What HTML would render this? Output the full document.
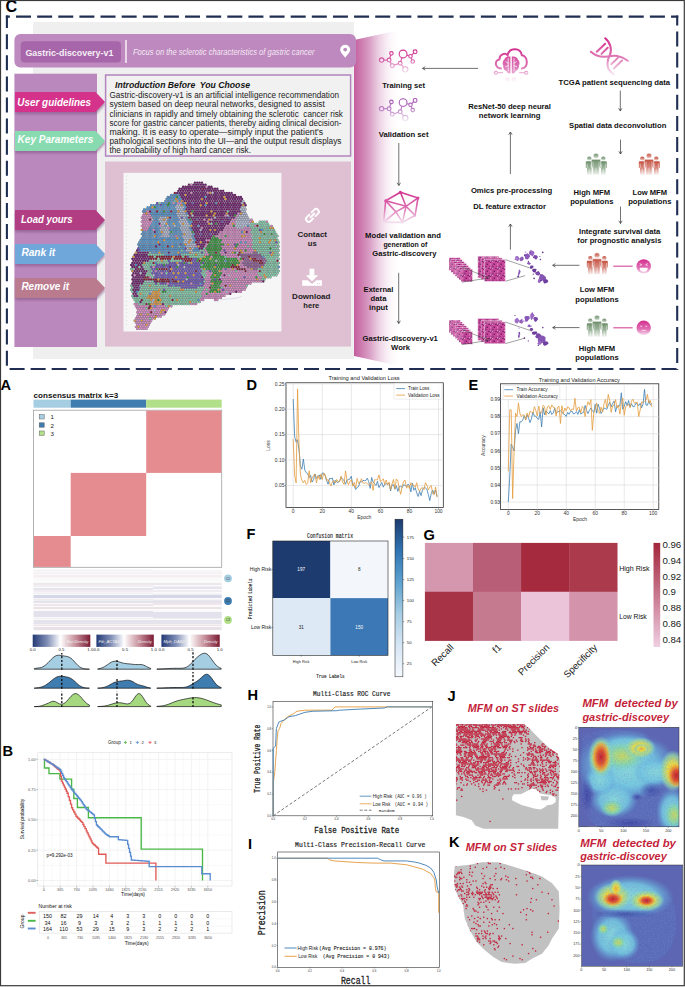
<!DOCTYPE html>
<html><head><meta charset="utf-8"><style>
html,body{margin:0;padding:0;background:#fff;}
body{width:685px;height:987px;overflow:hidden;position:relative;}
svg{position:absolute;left:0;top:0;display:block;}
svg text{font-family:"Liberation Sans",sans-serif;}
</style></head><body>
<svg width="685" height="987" viewBox="0 0 685 987">
<defs>
<linearGradient id="funnel" x1="0" y1="0" x2="1" y2="0">
 <stop offset="0" stop-color="#c45e9e"/><stop offset="0.35" stop-color="#d9a0c6"/><stop offset="1" stop-color="#ffffff" stop-opacity="0"/>
</linearGradient>
<filter id="shd" x="-10%" y="-30%" width="130%" height="180%"><feGaussianBlur stdDeviation="1"/></filter>
<filter id="blur1"><feGaussianBlur stdDeviation="0.6"/></filter>
<filter id="blur2"><feGaussianBlur stdDeviation="2"/></filter>
<filter id="blur4"><feGaussianBlur stdDeviation="4"/></filter>
</defs>
<rect x="0.00" y="0.00" width="685.00" height="987.00" fill="#ffffff" />
<text x="5.5" y="12.1" font-size="16.2" fill="#000" font-weight="bold">C</text>
<rect x="33.00" y="22.00" width="321.00" height="337.00" fill="#efefef" />
<path d="M354.00,40.00 L400.00,30.00 L400.00,366.00 L354.00,356.00 Z" fill="url(#funnel)" stroke="none" stroke-width="1" />
<rect x="14.4" y="34" width="341.6" height="33.6" rx="6" fill="#bd89be"/>
<rect x="20.7" y="41.2" width="100.3" height="21.4" rx="4" fill="#a766a9"/>
<text x="25.4" y="56.0" font-size="9.8" fill="#f6eef6" font-weight="bold" textLength="88.0" lengthAdjust="spacingAndGlyphs">Gastric-discovery-v1</text>
<line x1="126.00" y1="40.00" x2="126.00" y2="63.00" stroke="#f4eaf4" stroke-width="1.6" />
<text x="133.0" y="55.0" font-size="8.2" fill="#f4e8f4" font-style="italic" textLength="181.5" lengthAdjust="spacingAndGlyphs">Focus on the sclerotic characteristics of gastric cancer</text>
<path d="M345.2,57.8 C343,54.5 340.2,52.2 340.2,49.8 A5,5 0 1 1 350.2,49.8 C350.2,52.2 347.4,54.5 345.2,57.8 Z" fill="#ffffff"/>
<circle cx="345.2" cy="49.6" r="1.9" fill="#bd89be"/>
<rect x="14.40" y="73.70" width="82.60" height="273.30" fill="#bb88bd" />
<path d="M15.50,94.20 L96.00,94.20 L105.50,104.20 L96.00,114.20 L15.50,114.20 Z" fill="#7d4f80" stroke="none" stroke-width="1" opacity="0.55" filter="url(#shd)"/>
<path d="M15.00,92.00 L95.50,92.00 L105.00,102.00 L95.50,112.00 L15.00,112.00 Z" fill="#d5338b" stroke="none" stroke-width="1" />
<text x="17.3" y="106.3" font-size="10.4" fill="#ffffff" font-weight="bold" font-style="italic" textLength="73.8" lengthAdjust="spacingAndGlyphs">User guidelines</text>
<path d="M15.50,133.20 L96.00,133.20 L105.50,143.20 L96.00,153.20 L15.50,153.20 Z" fill="#7d4f80" stroke="none" stroke-width="1" opacity="0.55" filter="url(#shd)"/>
<path d="M15.00,131.00 L95.50,131.00 L105.00,141.00 L95.50,151.00 L15.00,151.00 Z" fill="#88dbb0" stroke="none" stroke-width="1" />
<text x="17.6" y="143.2" font-size="10.4" fill="#ffffff" font-weight="bold" font-style="italic" textLength="75.6" lengthAdjust="spacingAndGlyphs">Key Parameters</text>
<path d="M15.50,212.20 L96.00,212.20 L105.50,222.20 L96.00,232.20 L15.50,232.20 Z" fill="#7d4f80" stroke="none" stroke-width="1" opacity="0.55" filter="url(#shd)"/>
<path d="M15.00,210.00 L95.50,210.00 L105.00,220.00 L95.50,230.00 L15.00,230.00 Z" fill="#b13d82" stroke="none" stroke-width="1" />
<text x="21.0" y="223.2" font-size="10.4" fill="#ffffff" font-weight="bold" font-style="italic" textLength="51.7" lengthAdjust="spacingAndGlyphs">Load yours</text>
<path d="M15.50,246.20 L96.00,246.20 L105.50,256.20 L96.00,266.20 L15.50,266.20 Z" fill="#7d4f80" stroke="none" stroke-width="1" opacity="0.55" filter="url(#shd)"/>
<path d="M15.00,244.00 L95.50,244.00 L105.00,254.00 L95.50,264.00 L15.00,264.00 Z" fill="#6fa7db" stroke="none" stroke-width="1" />
<text x="21.4" y="256.2" font-size="10.4" fill="#ffffff" font-weight="bold" font-style="italic" textLength="33.8" lengthAdjust="spacingAndGlyphs">Rank it</text>
<path d="M15.50,280.20 L96.00,280.20 L105.50,290.20 L96.00,300.20 L15.50,300.20 Z" fill="#7d4f80" stroke="none" stroke-width="1" opacity="0.55" filter="url(#shd)"/>
<path d="M15.00,278.00 L95.50,278.00 L105.00,288.00 L95.50,298.00 L15.00,298.00 Z" fill="#ba7b8f" stroke="none" stroke-width="1" />
<text x="21.4" y="290.2" font-size="10.4" fill="#ffffff" font-weight="bold" font-style="italic" textLength="47.8" lengthAdjust="spacingAndGlyphs">Remove it</text>
<rect x="105.6" y="75" width="245" height="81" fill="#f1f1f1" stroke="#b384bd" stroke-width="1.5"/>
<text x="115.0" y="87.8" font-size="9.4" fill="#151515" font-weight="bold" font-style="italic" textLength="135.0" lengthAdjust="spacingAndGlyphs">Introduction Before  You Choose</text>
<text x="109.5" y="98.2" font-size="8.3" fill="#222" textLength="229.5" lengthAdjust="spacingAndGlyphs">Gastric-discovery-v1 is an artificial intelligence recommendation</text>
<text x="109.5" y="107.4" font-size="8.3" fill="#222" textLength="215.2" lengthAdjust="spacingAndGlyphs">system based on deep neural networks, designed to assist</text>
<text x="109.5" y="116.5" font-size="8.3" fill="#222" textLength="233.4" lengthAdjust="spacingAndGlyphs">clinicians in rapidly and timely obtaining the sclerotic  cancer risk</text>
<text x="109.5" y="125.7" font-size="8.3" fill="#222" textLength="231.9" lengthAdjust="spacingAndGlyphs">score for gastric cancer patients, thereby aiding clinical decision-</text>
<text x="109.5" y="134.8" font-size="8.3" fill="#222" textLength="213.6" lengthAdjust="spacingAndGlyphs">making. It is easy to operate—simply input the patient's</text>
<text x="109.5" y="143.9" font-size="8.3" fill="#222" textLength="231.9" lengthAdjust="spacingAndGlyphs">pathological sections into the UI—and the output result displays</text>
<text x="109.5" y="153.1" font-size="8.3" fill="#222" textLength="141.5" lengthAdjust="spacingAndGlyphs">the probability of high hard cancer risk.</text>
<rect x="105.00" y="161.50" width="246.00" height="185.10" fill="#dfc0d2" />
<rect x="123.50" y="172.80" width="157.90" height="158.70" fill="#f6f6f6" />
<path d="M194.9 182.6h0M197.3 182.6h0M199.6 182.6h0M202.0 182.6h0M189.0 184.6h0M191.4 184.6h0M193.7 184.6h0M196.1 184.6h0M198.4 184.6h0M200.8 184.6h0M203.2 184.6h0M205.5 184.6h0M183.1 186.7h0M185.5 186.7h0M187.8 186.7h0M190.2 186.7h0M192.5 186.7h0M194.9 186.7h0M197.3 186.7h0M199.6 186.7h0M202.0 186.7h0M204.3 186.7h0M206.7 186.7h0M209.1 186.7h0M211.4 186.7h0M179.6 188.7h0M181.9 188.7h0M184.3 188.7h0M186.6 188.7h0M189.0 188.7h0M191.4 188.7h0M193.7 188.7h0M196.1 188.7h0M198.4 188.7h0M200.8 188.7h0M203.2 188.7h0M205.5 188.7h0M207.9 188.7h0M210.2 188.7h0M212.6 188.7h0M215.0 188.7h0M217.3 188.7h0M178.4 190.8h0M180.7 190.8h0M183.1 190.8h0M185.5 190.8h0M187.8 190.8h0M190.2 190.8h0M192.5 190.8h0M194.9 190.8h0M197.3 190.8h0M199.6 190.8h0M202.0 190.8h0M204.3 190.8h0M206.7 190.8h0M209.1 190.8h0M211.4 190.8h0M213.8 190.8h0M216.1 190.8h0M218.5 190.8h0M220.9 190.8h0M223.2 190.8h0M174.8 192.9h0M177.2 192.9h0M179.6 192.9h0M181.9 192.9h0M184.3 192.9h0M186.6 192.9h0M189.0 192.9h0M191.4 192.9h0M193.7 192.9h0M196.1 192.9h0M198.4 192.9h0M200.8 192.9h0M203.2 192.9h0M205.5 192.9h0M207.9 192.9h0M210.2 192.9h0M212.6 192.9h0M215.0 192.9h0M217.3 192.9h0M219.7 192.9h0M222.0 192.9h0M224.4 192.9h0M226.8 192.9h0M229.1 192.9h0M231.5 192.9h0M171.3 194.9h0M173.7 194.9h0M176.0 194.9h0M178.4 194.9h0M180.7 194.9h0M183.1 194.9h0M185.5 194.9h0M187.8 194.9h0M190.2 194.9h0M192.5 194.9h0M194.9 194.9h0M197.3 194.9h0M199.6 194.9h0M202.0 194.9h0M204.3 194.9h0M206.7 194.9h0M209.1 194.9h0M211.4 194.9h0M213.8 194.9h0M216.1 194.9h0M218.5 194.9h0M220.9 194.9h0M223.2 194.9h0M225.6 194.9h0M227.9 194.9h0M230.3 194.9h0M232.7 194.9h0M235.0 194.9h0M167.8 197.0h0M170.1 197.0h0M172.5 197.0h0M174.8 197.0h0M177.2 197.0h0M179.6 197.0h0M181.9 197.0h0M184.3 197.0h0M186.6 197.0h0M189.0 197.0h0M191.4 197.0h0M193.7 197.0h0M196.1 197.0h0M198.4 197.0h0M200.8 197.0h0M203.2 197.0h0M205.5 197.0h0M207.9 197.0h0M210.2 197.0h0M212.6 197.0h0M215.0 197.0h0M217.3 197.0h0M219.7 197.0h0M222.0 197.0h0M224.4 197.0h0M226.8 197.0h0M229.1 197.0h0M231.5 197.0h0M233.8 197.0h0M236.2 197.0h0M238.6 197.0h0M240.9 197.0h0M166.6 199.0h0M168.9 199.0h0M171.3 199.0h0M173.7 199.0h0M176.0 199.0h0M178.4 199.0h0M180.7 199.0h0M183.1 199.0h0M185.5 199.0h0M187.8 199.0h0M190.2 199.0h0M192.5 199.0h0M194.9 199.0h0M197.3 199.0h0M199.6 199.0h0M202.0 199.0h0M204.3 199.0h0M206.7 199.0h0M209.1 199.0h0M211.4 199.0h0M213.8 199.0h0M216.1 199.0h0M218.5 199.0h0M220.9 199.0h0M223.2 199.0h0M225.6 199.0h0M227.9 199.0h0M230.3 199.0h0M232.7 199.0h0M235.0 199.0h0M237.4 199.0h0M239.7 199.0h0M242.1 199.0h0M165.4 201.1h0M167.8 201.1h0M170.1 201.1h0M172.5 201.1h0M174.8 201.1h0M177.2 201.1h0M179.6 201.1h0M181.9 201.1h0M184.3 201.1h0M186.6 201.1h0M189.0 201.1h0M191.4 201.1h0M193.7 201.1h0M196.1 201.1h0M198.4 201.1h0M200.8 201.1h0M203.2 201.1h0M205.5 201.1h0M207.9 201.1h0M210.2 201.1h0M212.6 201.1h0M215.0 201.1h0M217.3 201.1h0M219.7 201.1h0M222.0 201.1h0M224.4 201.1h0M226.8 201.1h0M229.1 201.1h0M231.5 201.1h0M233.8 201.1h0M236.2 201.1h0M238.6 201.1h0M240.9 201.1h0M243.3 201.1h0M157.1 203.2h0M159.5 203.2h0M161.9 203.2h0M164.2 203.2h0M166.6 203.2h0M168.9 203.2h0M171.3 203.2h0M173.7 203.2h0M176.0 203.2h0M178.4 203.2h0M180.7 203.2h0M183.1 203.2h0M185.5 203.2h0M187.8 203.2h0M190.2 203.2h0M192.5 203.2h0M194.9 203.2h0M197.3 203.2h0M199.6 203.2h0M202.0 203.2h0M204.3 203.2h0M206.7 203.2h0M209.1 203.2h0M211.4 203.2h0M213.8 203.2h0M216.1 203.2h0M218.5 203.2h0M220.9 203.2h0M223.2 203.2h0M225.6 203.2h0M227.9 203.2h0M230.3 203.2h0M232.7 203.2h0M235.0 203.2h0M237.4 203.2h0M239.7 203.2h0M242.1 203.2h0M244.5 203.2h0M151.2 205.2h0M153.6 205.2h0M156.0 205.2h0M158.3 205.2h0M160.7 205.2h0M163.0 205.2h0M165.4 205.2h0M167.8 205.2h0M170.1 205.2h0M172.5 205.2h0M174.8 205.2h0M177.2 205.2h0M179.6 205.2h0M181.9 205.2h0M184.3 205.2h0M186.6 205.2h0M189.0 205.2h0M191.4 205.2h0M193.7 205.2h0M196.1 205.2h0M198.4 205.2h0M200.8 205.2h0M203.2 205.2h0M205.5 205.2h0M207.9 205.2h0M210.2 205.2h0M212.6 205.2h0M215.0 205.2h0M217.3 205.2h0M219.7 205.2h0M222.0 205.2h0M224.4 205.2h0M226.8 205.2h0M229.1 205.2h0M231.5 205.2h0M233.8 205.2h0M236.2 205.2h0M238.6 205.2h0M240.9 205.2h0M243.3 205.2h0M245.6 205.2h0M147.7 207.3h0M150.1 207.3h0M152.4 207.3h0M154.8 207.3h0M157.1 207.3h0M159.5 207.3h0M161.9 207.3h0M164.2 207.3h0M166.6 207.3h0M168.9 207.3h0M171.3 207.3h0M173.7 207.3h0M176.0 207.3h0M178.4 207.3h0M180.7 207.3h0M183.1 207.3h0M185.5 207.3h0M187.8 207.3h0M190.2 207.3h0M192.5 207.3h0M194.9 207.3h0M197.3 207.3h0M199.6 207.3h0M202.0 207.3h0M204.3 207.3h0M206.7 207.3h0M209.1 207.3h0M211.4 207.3h0M213.8 207.3h0M216.1 207.3h0M218.5 207.3h0M220.9 207.3h0M223.2 207.3h0M225.6 207.3h0M227.9 207.3h0M230.3 207.3h0M232.7 207.3h0M235.0 207.3h0M237.4 207.3h0M239.7 207.3h0M242.1 207.3h0M244.5 207.3h0M144.2 209.3h0M146.5 209.3h0M148.9 209.3h0M151.2 209.3h0M153.6 209.3h0M156.0 209.3h0M158.3 209.3h0M160.7 209.3h0M163.0 209.3h0M165.4 209.3h0M167.8 209.3h0M170.1 209.3h0M172.5 209.3h0M174.8 209.3h0M177.2 209.3h0M179.6 209.3h0M181.9 209.3h0M184.3 209.3h0M186.6 209.3h0M189.0 209.3h0M191.4 209.3h0M193.7 209.3h0M196.1 209.3h0M198.4 209.3h0M200.8 209.3h0M203.2 209.3h0M205.5 209.3h0M207.9 209.3h0M210.2 209.3h0M212.6 209.3h0M215.0 209.3h0M217.3 209.3h0M219.7 209.3h0M222.0 209.3h0M224.4 209.3h0M226.8 209.3h0M229.1 209.3h0M231.5 209.3h0M233.8 209.3h0M236.2 209.3h0M238.6 209.3h0M240.9 209.3h0M243.3 209.3h0M245.6 209.3h0M143.0 211.4h0M145.3 211.4h0M147.7 211.4h0M150.1 211.4h0M152.4 211.4h0M154.8 211.4h0M157.1 211.4h0M159.5 211.4h0M161.9 211.4h0M164.2 211.4h0M166.6 211.4h0M168.9 211.4h0M171.3 211.4h0M173.7 211.4h0M176.0 211.4h0M178.4 211.4h0M180.7 211.4h0M183.1 211.4h0M185.5 211.4h0M187.8 211.4h0M190.2 211.4h0M192.5 211.4h0M194.9 211.4h0M197.3 211.4h0M199.6 211.4h0M202.0 211.4h0M204.3 211.4h0M206.7 211.4h0M209.1 211.4h0M211.4 211.4h0M213.8 211.4h0M216.1 211.4h0M218.5 211.4h0M220.9 211.4h0M223.2 211.4h0M225.6 211.4h0M227.9 211.4h0M230.3 211.4h0M232.7 211.4h0M235.0 211.4h0M237.4 211.4h0M239.7 211.4h0M242.1 211.4h0M244.5 211.4h0M144.2 213.5h0M146.5 213.5h0M148.9 213.5h0M151.2 213.5h0M153.6 213.5h0M156.0 213.5h0M158.3 213.5h0M160.7 213.5h0M163.0 213.5h0M165.4 213.5h0M167.8 213.5h0M170.1 213.5h0M172.5 213.5h0M174.8 213.5h0M177.2 213.5h0M179.6 213.5h0M181.9 213.5h0M184.3 213.5h0M186.6 213.5h0M189.0 213.5h0M191.4 213.5h0M193.7 213.5h0M196.1 213.5h0M198.4 213.5h0M200.8 213.5h0M203.2 213.5h0M205.5 213.5h0M207.9 213.5h0M210.2 213.5h0M212.6 213.5h0M215.0 213.5h0M217.3 213.5h0M219.7 213.5h0M222.0 213.5h0M224.4 213.5h0M226.8 213.5h0M229.1 213.5h0M231.5 213.5h0M233.8 213.5h0M236.2 213.5h0M238.6 213.5h0M240.9 213.5h0M243.3 213.5h0M245.6 213.5h0M143.0 215.5h0M145.3 215.5h0M147.7 215.5h0M150.1 215.5h0M152.4 215.5h0M154.8 215.5h0M157.1 215.5h0M159.5 215.5h0M161.9 215.5h0M164.2 215.5h0M166.6 215.5h0M168.9 215.5h0M171.3 215.5h0M173.7 215.5h0M176.0 215.5h0M178.4 215.5h0M180.7 215.5h0M183.1 215.5h0M185.5 215.5h0M187.8 215.5h0M190.2 215.5h0M192.5 215.5h0M194.9 215.5h0M197.3 215.5h0M199.6 215.5h0M202.0 215.5h0M204.3 215.5h0M206.7 215.5h0M209.1 215.5h0M211.4 215.5h0M213.8 215.5h0M216.1 215.5h0M218.5 215.5h0M220.9 215.5h0M223.2 215.5h0M225.6 215.5h0M227.9 215.5h0M230.3 215.5h0M232.7 215.5h0M235.0 215.5h0M237.4 215.5h0M239.7 215.5h0M242.1 215.5h0M244.5 215.5h0M246.8 215.5h0M141.8 217.6h0M144.2 217.6h0M146.5 217.6h0M148.9 217.6h0M151.2 217.6h0M153.6 217.6h0M156.0 217.6h0M158.3 217.6h0M160.7 217.6h0M163.0 217.6h0M165.4 217.6h0M167.8 217.6h0M170.1 217.6h0M172.5 217.6h0M174.8 217.6h0M177.2 217.6h0M179.6 217.6h0M181.9 217.6h0M184.3 217.6h0M186.6 217.6h0M189.0 217.6h0M191.4 217.6h0M193.7 217.6h0M196.1 217.6h0M198.4 217.6h0M200.8 217.6h0M203.2 217.6h0M205.5 217.6h0M207.9 217.6h0M210.2 217.6h0M212.6 217.6h0M215.0 217.6h0M217.3 217.6h0M219.7 217.6h0M222.0 217.6h0M224.4 217.6h0M226.8 217.6h0M229.1 217.6h0M231.5 217.6h0M233.8 217.6h0M236.2 217.6h0M238.6 217.6h0M240.9 217.6h0M243.3 217.6h0M245.6 217.6h0M248.0 217.6h0M143.0 219.6h0M145.3 219.6h0M147.7 219.6h0M150.1 219.6h0M152.4 219.6h0M154.8 219.6h0M157.1 219.6h0M159.5 219.6h0M161.9 219.6h0M164.2 219.6h0M166.6 219.6h0M168.9 219.6h0M171.3 219.6h0M173.7 219.6h0M176.0 219.6h0M178.4 219.6h0M180.7 219.6h0M183.1 219.6h0M185.5 219.6h0M187.8 219.6h0M190.2 219.6h0M192.5 219.6h0M194.9 219.6h0M197.3 219.6h0M199.6 219.6h0M202.0 219.6h0M204.3 219.6h0M206.7 219.6h0M209.1 219.6h0M211.4 219.6h0M213.8 219.6h0M216.1 219.6h0M218.5 219.6h0M220.9 219.6h0M223.2 219.6h0M225.6 219.6h0M227.9 219.6h0M230.3 219.6h0M232.7 219.6h0M235.0 219.6h0M237.4 219.6h0M239.7 219.6h0M242.1 219.6h0M244.5 219.6h0M246.8 219.6h0M249.2 219.6h0M251.5 219.6h0M141.8 221.7h0M144.2 221.7h0M146.5 221.7h0M148.9 221.7h0M151.2 221.7h0M153.6 221.7h0M156.0 221.7h0M158.3 221.7h0M160.7 221.7h0M163.0 221.7h0M165.4 221.7h0M167.8 221.7h0M170.1 221.7h0M172.5 221.7h0M174.8 221.7h0M177.2 221.7h0M179.6 221.7h0M181.9 221.7h0M184.3 221.7h0M186.6 221.7h0M189.0 221.7h0M191.4 221.7h0M193.7 221.7h0M196.1 221.7h0M198.4 221.7h0M200.8 221.7h0M203.2 221.7h0M205.5 221.7h0M207.9 221.7h0M210.2 221.7h0M212.6 221.7h0M215.0 221.7h0M217.3 221.7h0M219.7 221.7h0M222.0 221.7h0M224.4 221.7h0M226.8 221.7h0M229.1 221.7h0M231.5 221.7h0M233.8 221.7h0M236.2 221.7h0M238.6 221.7h0M240.9 221.7h0M243.3 221.7h0M245.6 221.7h0M248.0 221.7h0M250.4 221.7h0M252.7 221.7h0M259.8 221.7h0M262.2 221.7h0M264.5 221.7h0M266.9 221.7h0M143.0 223.8h0M145.3 223.8h0M147.7 223.8h0M150.1 223.8h0M152.4 223.8h0M154.8 223.8h0M157.1 223.8h0M159.5 223.8h0M161.9 223.8h0M164.2 223.8h0M166.6 223.8h0M168.9 223.8h0M171.3 223.8h0M173.7 223.8h0M176.0 223.8h0M178.4 223.8h0M180.7 223.8h0M183.1 223.8h0M185.5 223.8h0M187.8 223.8h0M190.2 223.8h0M192.5 223.8h0M194.9 223.8h0M197.3 223.8h0M199.6 223.8h0M202.0 223.8h0M204.3 223.8h0M206.7 223.8h0M209.1 223.8h0M211.4 223.8h0M213.8 223.8h0M216.1 223.8h0M218.5 223.8h0M220.9 223.8h0M223.2 223.8h0M225.6 223.8h0M227.9 223.8h0M230.3 223.8h0M232.7 223.8h0M235.0 223.8h0M237.4 223.8h0M239.7 223.8h0M242.1 223.8h0M244.5 223.8h0M246.8 223.8h0M249.2 223.8h0M251.5 223.8h0M253.9 223.8h0M256.3 223.8h0M258.6 223.8h0M261.0 223.8h0M263.3 223.8h0M265.7 223.8h0M268.1 223.8h0M141.8 225.8h0M144.2 225.8h0M146.5 225.8h0M148.9 225.8h0M151.2 225.8h0M153.6 225.8h0M156.0 225.8h0M158.3 225.8h0M160.7 225.8h0M163.0 225.8h0M165.4 225.8h0M167.8 225.8h0M170.1 225.8h0M172.5 225.8h0M174.8 225.8h0M177.2 225.8h0M179.6 225.8h0M181.9 225.8h0M184.3 225.8h0M186.6 225.8h0M189.0 225.8h0M191.4 225.8h0M193.7 225.8h0M196.1 225.8h0M198.4 225.8h0M200.8 225.8h0M203.2 225.8h0M205.5 225.8h0M207.9 225.8h0M210.2 225.8h0M212.6 225.8h0M215.0 225.8h0M217.3 225.8h0M219.7 225.8h0M222.0 225.8h0M224.4 225.8h0M226.8 225.8h0M229.1 225.8h0M231.5 225.8h0M233.8 225.8h0M236.2 225.8h0M238.6 225.8h0M240.9 225.8h0M243.3 225.8h0M245.6 225.8h0M248.0 225.8h0M250.4 225.8h0M252.7 225.8h0M255.1 225.8h0M257.4 225.8h0M259.8 225.8h0M262.2 225.8h0M264.5 225.8h0M266.9 225.8h0M269.2 225.8h0M271.6 225.8h0M143.0 227.9h0M145.3 227.9h0M147.7 227.9h0M150.1 227.9h0M152.4 227.9h0M154.8 227.9h0M157.1 227.9h0M159.5 227.9h0M161.9 227.9h0M164.2 227.9h0M166.6 227.9h0M168.9 227.9h0M171.3 227.9h0M173.7 227.9h0M176.0 227.9h0M178.4 227.9h0M180.7 227.9h0M183.1 227.9h0M185.5 227.9h0M187.8 227.9h0M190.2 227.9h0M192.5 227.9h0M194.9 227.9h0M197.3 227.9h0M199.6 227.9h0M202.0 227.9h0M204.3 227.9h0M206.7 227.9h0M209.1 227.9h0M211.4 227.9h0M213.8 227.9h0M216.1 227.9h0M218.5 227.9h0M220.9 227.9h0M223.2 227.9h0M225.6 227.9h0M227.9 227.9h0M230.3 227.9h0M232.7 227.9h0M235.0 227.9h0M237.4 227.9h0M239.7 227.9h0M242.1 227.9h0M244.5 227.9h0M246.8 227.9h0M249.2 227.9h0M251.5 227.9h0M253.9 227.9h0M256.3 227.9h0M258.6 227.9h0M261.0 227.9h0M263.3 227.9h0M265.7 227.9h0M268.1 227.9h0M270.4 227.9h0M272.8 227.9h0M141.8 229.9h0M144.2 229.9h0M146.5 229.9h0M148.9 229.9h0M151.2 229.9h0M153.6 229.9h0M156.0 229.9h0M158.3 229.9h0M160.7 229.9h0M163.0 229.9h0M165.4 229.9h0M167.8 229.9h0M170.1 229.9h0M172.5 229.9h0M174.8 229.9h0M177.2 229.9h0M179.6 229.9h0M181.9 229.9h0M184.3 229.9h0M186.6 229.9h0M189.0 229.9h0M191.4 229.9h0M193.7 229.9h0M196.1 229.9h0M198.4 229.9h0M200.8 229.9h0M203.2 229.9h0M205.5 229.9h0M207.9 229.9h0M210.2 229.9h0M212.6 229.9h0M215.0 229.9h0M217.3 229.9h0M219.7 229.9h0M222.0 229.9h0M224.4 229.9h0M226.8 229.9h0M229.1 229.9h0M231.5 229.9h0M233.8 229.9h0M236.2 229.9h0M238.6 229.9h0M240.9 229.9h0M243.3 229.9h0M245.6 229.9h0M248.0 229.9h0M250.4 229.9h0M252.7 229.9h0M255.1 229.9h0M257.4 229.9h0M259.8 229.9h0M262.2 229.9h0M264.5 229.9h0M266.9 229.9h0M269.2 229.9h0M271.6 229.9h0M274.0 229.9h0M143.0 232.0h0M145.3 232.0h0M147.7 232.0h0M150.1 232.0h0M152.4 232.0h0M154.8 232.0h0M157.1 232.0h0M159.5 232.0h0M161.9 232.0h0M164.2 232.0h0M166.6 232.0h0M168.9 232.0h0M171.3 232.0h0M173.7 232.0h0M176.0 232.0h0M178.4 232.0h0M180.7 232.0h0M183.1 232.0h0M185.5 232.0h0M187.8 232.0h0M190.2 232.0h0M192.5 232.0h0M194.9 232.0h0M197.3 232.0h0M199.6 232.0h0M202.0 232.0h0M204.3 232.0h0M206.7 232.0h0M209.1 232.0h0M211.4 232.0h0M213.8 232.0h0M216.1 232.0h0M218.5 232.0h0M220.9 232.0h0M223.2 232.0h0M225.6 232.0h0M227.9 232.0h0M230.3 232.0h0M232.7 232.0h0M235.0 232.0h0M237.4 232.0h0M239.7 232.0h0M242.1 232.0h0M244.5 232.0h0M246.8 232.0h0M249.2 232.0h0M251.5 232.0h0M253.9 232.0h0M256.3 232.0h0M258.6 232.0h0M261.0 232.0h0M263.3 232.0h0M265.7 232.0h0M268.1 232.0h0M270.4 232.0h0M272.8 232.0h0M275.1 232.0h0M141.8 234.1h0M144.2 234.1h0M146.5 234.1h0M148.9 234.1h0M151.2 234.1h0M153.6 234.1h0M156.0 234.1h0M158.3 234.1h0M160.7 234.1h0M163.0 234.1h0M165.4 234.1h0M167.8 234.1h0M170.1 234.1h0M172.5 234.1h0M174.8 234.1h0M177.2 234.1h0M179.6 234.1h0M181.9 234.1h0M184.3 234.1h0M186.6 234.1h0M189.0 234.1h0M191.4 234.1h0M193.7 234.1h0M196.1 234.1h0M198.4 234.1h0M200.8 234.1h0M203.2 234.1h0M205.5 234.1h0M207.9 234.1h0M210.2 234.1h0M212.6 234.1h0M215.0 234.1h0M217.3 234.1h0M219.7 234.1h0M222.0 234.1h0M224.4 234.1h0M226.8 234.1h0M229.1 234.1h0M231.5 234.1h0M233.8 234.1h0M236.2 234.1h0M238.6 234.1h0M240.9 234.1h0M243.3 234.1h0M245.6 234.1h0M248.0 234.1h0M250.4 234.1h0M252.7 234.1h0M255.1 234.1h0M257.4 234.1h0M259.8 234.1h0M262.2 234.1h0M264.5 234.1h0M266.9 234.1h0M269.2 234.1h0M271.6 234.1h0M274.0 234.1h0M276.3 234.1h0M143.0 236.1h0M145.3 236.1h0M147.7 236.1h0M150.1 236.1h0M152.4 236.1h0M154.8 236.1h0M157.1 236.1h0M159.5 236.1h0M161.9 236.1h0M164.2 236.1h0M166.6 236.1h0M168.9 236.1h0M171.3 236.1h0M173.7 236.1h0M176.0 236.1h0M178.4 236.1h0M180.7 236.1h0M183.1 236.1h0M185.5 236.1h0M187.8 236.1h0M190.2 236.1h0M192.5 236.1h0M194.9 236.1h0M197.3 236.1h0M199.6 236.1h0M202.0 236.1h0M204.3 236.1h0M206.7 236.1h0M209.1 236.1h0M211.4 236.1h0M213.8 236.1h0M216.1 236.1h0M218.5 236.1h0M220.9 236.1h0M223.2 236.1h0M225.6 236.1h0M227.9 236.1h0M230.3 236.1h0M232.7 236.1h0M235.0 236.1h0M237.4 236.1h0M239.7 236.1h0M242.1 236.1h0M244.5 236.1h0M246.8 236.1h0M249.2 236.1h0M251.5 236.1h0M253.9 236.1h0M256.3 236.1h0M258.6 236.1h0M261.0 236.1h0M263.3 236.1h0M265.7 236.1h0M268.1 236.1h0M270.4 236.1h0M272.8 236.1h0M275.1 236.1h0M277.5 236.1h0M141.8 238.2h0M144.2 238.2h0M146.5 238.2h0M148.9 238.2h0M151.2 238.2h0M153.6 238.2h0M156.0 238.2h0M158.3 238.2h0M160.7 238.2h0M163.0 238.2h0M165.4 238.2h0M167.8 238.2h0M170.1 238.2h0M172.5 238.2h0M174.8 238.2h0M177.2 238.2h0M179.6 238.2h0M181.9 238.2h0M184.3 238.2h0M186.6 238.2h0M189.0 238.2h0M191.4 238.2h0M193.7 238.2h0M196.1 238.2h0M198.4 238.2h0M200.8 238.2h0M203.2 238.2h0M205.5 238.2h0M207.9 238.2h0M210.2 238.2h0M212.6 238.2h0M215.0 238.2h0M217.3 238.2h0M219.7 238.2h0M222.0 238.2h0M224.4 238.2h0M226.8 238.2h0M229.1 238.2h0M231.5 238.2h0M233.8 238.2h0M236.2 238.2h0M238.6 238.2h0M240.9 238.2h0M243.3 238.2h0M245.6 238.2h0M248.0 238.2h0M250.4 238.2h0M252.7 238.2h0M255.1 238.2h0M257.4 238.2h0M259.8 238.2h0M262.2 238.2h0M264.5 238.2h0M266.9 238.2h0M269.2 238.2h0M271.6 238.2h0M274.0 238.2h0M276.3 238.2h0M140.6 240.2h0M143.0 240.2h0M145.3 240.2h0M147.7 240.2h0M150.1 240.2h0M152.4 240.2h0M154.8 240.2h0M157.1 240.2h0M159.5 240.2h0M161.9 240.2h0M164.2 240.2h0M166.6 240.2h0M168.9 240.2h0M171.3 240.2h0M173.7 240.2h0M176.0 240.2h0M178.4 240.2h0M180.7 240.2h0M183.1 240.2h0M185.5 240.2h0M187.8 240.2h0M190.2 240.2h0M192.5 240.2h0M194.9 240.2h0M197.3 240.2h0M199.6 240.2h0M202.0 240.2h0M204.3 240.2h0M206.7 240.2h0M209.1 240.2h0M211.4 240.2h0M213.8 240.2h0M216.1 240.2h0M218.5 240.2h0M220.9 240.2h0M223.2 240.2h0M225.6 240.2h0M227.9 240.2h0M230.3 240.2h0M232.7 240.2h0M235.0 240.2h0M237.4 240.2h0M239.7 240.2h0M242.1 240.2h0M244.5 240.2h0M246.8 240.2h0M249.2 240.2h0M251.5 240.2h0M253.9 240.2h0M256.3 240.2h0M258.6 240.2h0M261.0 240.2h0M263.3 240.2h0M265.7 240.2h0M268.1 240.2h0M270.4 240.2h0M272.8 240.2h0M275.1 240.2h0M277.5 240.2h0M139.4 242.3h0M141.8 242.3h0M144.2 242.3h0M146.5 242.3h0M148.9 242.3h0M151.2 242.3h0M153.6 242.3h0M156.0 242.3h0M158.3 242.3h0M160.7 242.3h0M163.0 242.3h0M165.4 242.3h0M167.8 242.3h0M170.1 242.3h0M172.5 242.3h0M174.8 242.3h0M177.2 242.3h0M179.6 242.3h0M181.9 242.3h0M184.3 242.3h0M186.6 242.3h0M189.0 242.3h0M191.4 242.3h0M193.7 242.3h0M196.1 242.3h0M198.4 242.3h0M200.8 242.3h0M203.2 242.3h0M205.5 242.3h0M207.9 242.3h0M210.2 242.3h0M212.6 242.3h0M215.0 242.3h0M217.3 242.3h0M219.7 242.3h0M222.0 242.3h0M224.4 242.3h0M226.8 242.3h0M229.1 242.3h0M231.5 242.3h0M233.8 242.3h0M236.2 242.3h0M238.6 242.3h0M240.9 242.3h0M243.3 242.3h0M245.6 242.3h0M248.0 242.3h0M250.4 242.3h0M252.7 242.3h0M255.1 242.3h0M257.4 242.3h0M259.8 242.3h0M262.2 242.3h0M264.5 242.3h0M266.9 242.3h0M269.2 242.3h0M271.6 242.3h0M274.0 242.3h0M276.3 242.3h0M278.7 242.3h0M138.3 244.4h0M140.6 244.4h0M143.0 244.4h0M145.3 244.4h0M147.7 244.4h0M150.1 244.4h0M152.4 244.4h0M154.8 244.4h0M157.1 244.4h0M159.5 244.4h0M161.9 244.4h0M164.2 244.4h0M166.6 244.4h0M168.9 244.4h0M171.3 244.4h0M173.7 244.4h0M176.0 244.4h0M178.4 244.4h0M180.7 244.4h0M183.1 244.4h0M185.5 244.4h0M187.8 244.4h0M190.2 244.4h0M192.5 244.4h0M194.9 244.4h0M197.3 244.4h0M199.6 244.4h0M202.0 244.4h0M204.3 244.4h0M206.7 244.4h0M209.1 244.4h0M211.4 244.4h0M213.8 244.4h0M216.1 244.4h0M218.5 244.4h0M220.9 244.4h0M223.2 244.4h0M225.6 244.4h0M227.9 244.4h0M230.3 244.4h0M232.7 244.4h0M235.0 244.4h0M237.4 244.4h0M239.7 244.4h0M242.1 244.4h0M244.5 244.4h0M246.8 244.4h0M249.2 244.4h0M251.5 244.4h0M253.9 244.4h0M256.3 244.4h0M258.6 244.4h0M261.0 244.4h0M263.3 244.4h0M265.7 244.4h0M268.1 244.4h0M270.4 244.4h0M272.8 244.4h0M275.1 244.4h0M277.5 244.4h0M139.4 246.4h0M141.8 246.4h0M144.2 246.4h0M146.5 246.4h0M148.9 246.4h0M151.2 246.4h0M153.6 246.4h0M156.0 246.4h0M158.3 246.4h0M160.7 246.4h0M163.0 246.4h0M165.4 246.4h0M167.8 246.4h0M170.1 246.4h0M172.5 246.4h0M174.8 246.4h0M177.2 246.4h0M179.6 246.4h0M181.9 246.4h0M184.3 246.4h0M186.6 246.4h0M189.0 246.4h0M191.4 246.4h0M193.7 246.4h0M196.1 246.4h0M198.4 246.4h0M200.8 246.4h0M203.2 246.4h0M205.5 246.4h0M207.9 246.4h0M210.2 246.4h0M212.6 246.4h0M215.0 246.4h0M217.3 246.4h0M219.7 246.4h0M222.0 246.4h0M224.4 246.4h0M226.8 246.4h0M229.1 246.4h0M231.5 246.4h0M233.8 246.4h0M236.2 246.4h0M238.6 246.4h0M240.9 246.4h0M243.3 246.4h0M245.6 246.4h0M248.0 246.4h0M250.4 246.4h0M252.7 246.4h0M255.1 246.4h0M257.4 246.4h0M259.8 246.4h0M262.2 246.4h0M264.5 246.4h0M266.9 246.4h0M269.2 246.4h0M271.6 246.4h0M274.0 246.4h0M276.3 246.4h0M278.7 246.4h0M138.3 248.5h0M140.6 248.5h0M143.0 248.5h0M145.3 248.5h0M147.7 248.5h0M150.1 248.5h0M152.4 248.5h0M154.8 248.5h0M157.1 248.5h0M159.5 248.5h0M161.9 248.5h0M164.2 248.5h0M166.6 248.5h0M168.9 248.5h0M171.3 248.5h0M173.7 248.5h0M176.0 248.5h0M178.4 248.5h0M180.7 248.5h0M183.1 248.5h0M185.5 248.5h0M187.8 248.5h0M190.2 248.5h0M192.5 248.5h0M194.9 248.5h0M197.3 248.5h0M199.6 248.5h0M202.0 248.5h0M204.3 248.5h0M206.7 248.5h0M209.1 248.5h0M211.4 248.5h0M213.8 248.5h0M216.1 248.5h0M218.5 248.5h0M220.9 248.5h0M223.2 248.5h0M225.6 248.5h0M227.9 248.5h0M230.3 248.5h0M232.7 248.5h0M235.0 248.5h0M237.4 248.5h0M239.7 248.5h0M242.1 248.5h0M244.5 248.5h0M246.8 248.5h0M249.2 248.5h0M251.5 248.5h0M253.9 248.5h0M256.3 248.5h0M258.6 248.5h0M261.0 248.5h0M263.3 248.5h0M265.7 248.5h0M268.1 248.5h0M270.4 248.5h0M272.8 248.5h0M275.1 248.5h0M277.5 248.5h0M137.1 250.5h0M139.4 250.5h0M141.8 250.5h0M144.2 250.5h0M146.5 250.5h0M148.9 250.5h0M151.2 250.5h0M153.6 250.5h0M156.0 250.5h0M158.3 250.5h0M160.7 250.5h0M163.0 250.5h0M165.4 250.5h0M167.8 250.5h0M170.1 250.5h0M172.5 250.5h0M174.8 250.5h0M177.2 250.5h0M179.6 250.5h0M181.9 250.5h0M184.3 250.5h0M186.6 250.5h0M189.0 250.5h0M191.4 250.5h0M193.7 250.5h0M196.1 250.5h0M198.4 250.5h0M200.8 250.5h0M203.2 250.5h0M205.5 250.5h0M207.9 250.5h0M210.2 250.5h0M212.6 250.5h0M215.0 250.5h0M217.3 250.5h0M219.7 250.5h0M222.0 250.5h0M224.4 250.5h0M226.8 250.5h0M229.1 250.5h0M231.5 250.5h0M233.8 250.5h0M236.2 250.5h0M238.6 250.5h0M240.9 250.5h0M243.3 250.5h0M245.6 250.5h0M248.0 250.5h0M250.4 250.5h0M252.7 250.5h0M255.1 250.5h0M257.4 250.5h0M259.8 250.5h0M262.2 250.5h0M264.5 250.5h0M266.9 250.5h0M269.2 250.5h0M271.6 250.5h0M274.0 250.5h0M276.3 250.5h0M278.7 250.5h0M135.9 252.6h0M138.3 252.6h0M140.6 252.6h0M143.0 252.6h0M145.3 252.6h0M147.7 252.6h0M150.1 252.6h0M152.4 252.6h0M154.8 252.6h0M157.1 252.6h0M159.5 252.6h0M161.9 252.6h0M164.2 252.6h0M166.6 252.6h0M168.9 252.6h0M171.3 252.6h0M173.7 252.6h0M176.0 252.6h0M178.4 252.6h0M180.7 252.6h0M183.1 252.6h0M185.5 252.6h0M187.8 252.6h0M190.2 252.6h0M192.5 252.6h0M194.9 252.6h0M197.3 252.6h0M199.6 252.6h0M202.0 252.6h0M204.3 252.6h0M206.7 252.6h0M209.1 252.6h0M211.4 252.6h0M213.8 252.6h0M216.1 252.6h0M218.5 252.6h0M220.9 252.6h0M223.2 252.6h0M225.6 252.6h0M227.9 252.6h0M230.3 252.6h0M232.7 252.6h0M235.0 252.6h0M237.4 252.6h0M239.7 252.6h0M242.1 252.6h0M244.5 252.6h0M246.8 252.6h0M249.2 252.6h0M251.5 252.6h0M253.9 252.6h0M256.3 252.6h0M258.6 252.6h0M261.0 252.6h0M263.3 252.6h0M265.7 252.6h0M268.1 252.6h0M270.4 252.6h0M272.8 252.6h0M275.1 252.6h0M277.5 252.6h0M134.7 254.7h0M137.1 254.7h0M139.4 254.7h0M141.8 254.7h0M144.2 254.7h0M146.5 254.7h0M148.9 254.7h0M151.2 254.7h0M153.6 254.7h0M156.0 254.7h0M158.3 254.7h0M160.7 254.7h0M163.0 254.7h0M165.4 254.7h0M167.8 254.7h0M170.1 254.7h0M172.5 254.7h0M174.8 254.7h0M177.2 254.7h0M179.6 254.7h0M181.9 254.7h0M184.3 254.7h0M186.6 254.7h0M189.0 254.7h0M191.4 254.7h0M193.7 254.7h0M196.1 254.7h0M198.4 254.7h0M200.8 254.7h0M203.2 254.7h0M205.5 254.7h0M207.9 254.7h0M210.2 254.7h0M212.6 254.7h0M215.0 254.7h0M217.3 254.7h0M219.7 254.7h0M222.0 254.7h0M224.4 254.7h0M226.8 254.7h0M229.1 254.7h0M231.5 254.7h0M233.8 254.7h0M236.2 254.7h0M238.6 254.7h0M240.9 254.7h0M243.3 254.7h0M245.6 254.7h0M248.0 254.7h0M250.4 254.7h0M252.7 254.7h0M255.1 254.7h0M257.4 254.7h0M259.8 254.7h0M262.2 254.7h0M264.5 254.7h0M266.9 254.7h0M269.2 254.7h0M271.6 254.7h0M274.0 254.7h0M276.3 254.7h0M278.7 254.7h0M133.5 256.7h0M135.9 256.7h0M138.3 256.7h0M140.6 256.7h0M143.0 256.7h0M145.3 256.7h0M147.7 256.7h0M150.1 256.7h0M152.4 256.7h0M154.8 256.7h0M157.1 256.7h0M159.5 256.7h0M161.9 256.7h0M164.2 256.7h0M166.6 256.7h0M168.9 256.7h0M171.3 256.7h0M173.7 256.7h0M176.0 256.7h0M178.4 256.7h0M180.7 256.7h0M183.1 256.7h0M185.5 256.7h0M187.8 256.7h0M190.2 256.7h0M192.5 256.7h0M194.9 256.7h0M197.3 256.7h0M199.6 256.7h0M202.0 256.7h0M204.3 256.7h0M206.7 256.7h0M209.1 256.7h0M211.4 256.7h0M213.8 256.7h0M216.1 256.7h0M218.5 256.7h0M220.9 256.7h0M223.2 256.7h0M225.6 256.7h0M227.9 256.7h0M230.3 256.7h0M232.7 256.7h0M235.0 256.7h0M237.4 256.7h0M239.7 256.7h0M242.1 256.7h0M244.5 256.7h0M246.8 256.7h0M249.2 256.7h0M251.5 256.7h0M253.9 256.7h0M256.3 256.7h0M258.6 256.7h0M261.0 256.7h0M263.3 256.7h0M265.7 256.7h0M268.1 256.7h0M270.4 256.7h0M272.8 256.7h0M275.1 256.7h0M277.5 256.7h0M132.4 258.8h0M134.7 258.8h0M137.1 258.8h0M139.4 258.8h0M141.8 258.8h0M144.2 258.8h0M146.5 258.8h0M148.9 258.8h0M151.2 258.8h0M153.6 258.8h0M156.0 258.8h0M158.3 258.8h0M160.7 258.8h0M163.0 258.8h0M165.4 258.8h0M167.8 258.8h0M170.1 258.8h0M172.5 258.8h0M174.8 258.8h0M177.2 258.8h0M179.6 258.8h0M181.9 258.8h0M184.3 258.8h0M186.6 258.8h0M189.0 258.8h0M191.4 258.8h0M193.7 258.8h0M196.1 258.8h0M198.4 258.8h0M200.8 258.8h0M203.2 258.8h0M205.5 258.8h0M207.9 258.8h0M210.2 258.8h0M212.6 258.8h0M215.0 258.8h0M217.3 258.8h0M219.7 258.8h0M222.0 258.8h0M224.4 258.8h0M226.8 258.8h0M229.1 258.8h0M231.5 258.8h0M233.8 258.8h0M236.2 258.8h0M238.6 258.8h0M240.9 258.8h0M243.3 258.8h0M245.6 258.8h0M248.0 258.8h0M250.4 258.8h0M252.7 258.8h0M255.1 258.8h0M257.4 258.8h0M259.8 258.8h0M262.2 258.8h0M264.5 258.8h0M266.9 258.8h0M269.2 258.8h0M271.6 258.8h0M274.0 258.8h0M276.3 258.8h0M278.7 258.8h0M133.5 260.8h0M135.9 260.8h0M138.3 260.8h0M140.6 260.8h0M143.0 260.8h0M145.3 260.8h0M147.7 260.8h0M150.1 260.8h0M152.4 260.8h0M154.8 260.8h0M157.1 260.8h0M159.5 260.8h0M161.9 260.8h0M164.2 260.8h0M166.6 260.8h0M168.9 260.8h0M171.3 260.8h0M173.7 260.8h0M176.0 260.8h0M178.4 260.8h0M180.7 260.8h0M183.1 260.8h0M185.5 260.8h0M187.8 260.8h0M190.2 260.8h0M192.5 260.8h0M194.9 260.8h0M197.3 260.8h0M199.6 260.8h0M202.0 260.8h0M204.3 260.8h0M206.7 260.8h0M209.1 260.8h0M211.4 260.8h0M213.8 260.8h0M216.1 260.8h0M218.5 260.8h0M220.9 260.8h0M223.2 260.8h0M225.6 260.8h0M227.9 260.8h0M230.3 260.8h0M232.7 260.8h0M235.0 260.8h0M237.4 260.8h0M239.7 260.8h0M242.1 260.8h0M244.5 260.8h0M246.8 260.8h0M249.2 260.8h0M251.5 260.8h0M253.9 260.8h0M256.3 260.8h0M258.6 260.8h0M261.0 260.8h0M263.3 260.8h0M265.7 260.8h0M268.1 260.8h0M270.4 260.8h0M272.8 260.8h0M275.1 260.8h0M277.5 260.8h0M132.4 262.9h0M134.7 262.9h0M137.1 262.9h0M139.4 262.9h0M141.8 262.9h0M144.2 262.9h0M146.5 262.9h0M148.9 262.9h0M151.2 262.9h0M153.6 262.9h0M156.0 262.9h0M158.3 262.9h0M160.7 262.9h0M163.0 262.9h0M165.4 262.9h0M167.8 262.9h0M170.1 262.9h0M172.5 262.9h0M174.8 262.9h0M177.2 262.9h0M179.6 262.9h0M181.9 262.9h0M184.3 262.9h0M186.6 262.9h0M189.0 262.9h0M191.4 262.9h0M193.7 262.9h0M196.1 262.9h0M198.4 262.9h0M200.8 262.9h0M203.2 262.9h0M205.5 262.9h0M207.9 262.9h0M210.2 262.9h0M212.6 262.9h0M215.0 262.9h0M217.3 262.9h0M219.7 262.9h0M222.0 262.9h0M224.4 262.9h0M226.8 262.9h0M229.1 262.9h0M231.5 262.9h0M233.8 262.9h0M236.2 262.9h0M238.6 262.9h0M240.9 262.9h0M243.3 262.9h0M245.6 262.9h0M248.0 262.9h0M250.4 262.9h0M252.7 262.9h0M255.1 262.9h0M257.4 262.9h0M259.8 262.9h0M262.2 262.9h0M264.5 262.9h0M266.9 262.9h0M269.2 262.9h0M271.6 262.9h0M274.0 262.9h0M276.3 262.9h0M278.7 262.9h0M131.2 265.0h0M133.5 265.0h0M135.9 265.0h0M138.3 265.0h0M140.6 265.0h0M143.0 265.0h0M145.3 265.0h0M147.7 265.0h0M150.1 265.0h0M152.4 265.0h0M154.8 265.0h0M157.1 265.0h0M159.5 265.0h0M161.9 265.0h0M164.2 265.0h0M166.6 265.0h0M168.9 265.0h0M171.3 265.0h0M173.7 265.0h0M176.0 265.0h0M178.4 265.0h0M180.7 265.0h0M183.1 265.0h0M185.5 265.0h0M187.8 265.0h0M190.2 265.0h0M192.5 265.0h0M194.9 265.0h0M197.3 265.0h0M199.6 265.0h0M202.0 265.0h0M204.3 265.0h0M206.7 265.0h0M209.1 265.0h0M211.4 265.0h0M213.8 265.0h0M216.1 265.0h0M218.5 265.0h0M220.9 265.0h0M223.2 265.0h0M225.6 265.0h0M227.9 265.0h0M230.3 265.0h0M232.7 265.0h0M235.0 265.0h0M237.4 265.0h0M239.7 265.0h0M242.1 265.0h0M244.5 265.0h0M246.8 265.0h0M249.2 265.0h0M251.5 265.0h0M253.9 265.0h0M256.3 265.0h0M258.6 265.0h0M261.0 265.0h0M263.3 265.0h0M265.7 265.0h0M268.1 265.0h0M270.4 265.0h0M272.8 265.0h0M275.1 265.0h0M277.5 265.0h0M132.4 267.0h0M134.7 267.0h0M137.1 267.0h0M139.4 267.0h0M141.8 267.0h0M144.2 267.0h0M146.5 267.0h0M148.9 267.0h0M151.2 267.0h0M153.6 267.0h0M156.0 267.0h0M158.3 267.0h0M160.7 267.0h0M163.0 267.0h0M165.4 267.0h0M167.8 267.0h0M170.1 267.0h0M172.5 267.0h0M174.8 267.0h0M177.2 267.0h0M179.6 267.0h0M181.9 267.0h0M184.3 267.0h0M186.6 267.0h0M189.0 267.0h0M191.4 267.0h0M193.7 267.0h0M196.1 267.0h0M198.4 267.0h0M200.8 267.0h0M203.2 267.0h0M205.5 267.0h0M207.9 267.0h0M210.2 267.0h0M212.6 267.0h0M215.0 267.0h0M217.3 267.0h0M219.7 267.0h0M222.0 267.0h0M224.4 267.0h0M226.8 267.0h0M229.1 267.0h0M231.5 267.0h0M233.8 267.0h0M236.2 267.0h0M238.6 267.0h0M240.9 267.0h0M243.3 267.0h0M245.6 267.0h0M248.0 267.0h0M250.4 267.0h0M252.7 267.0h0M255.1 267.0h0M257.4 267.0h0M259.8 267.0h0M262.2 267.0h0M264.5 267.0h0M266.9 267.0h0M269.2 267.0h0M271.6 267.0h0M274.0 267.0h0M276.3 267.0h0M278.7 267.0h0M131.2 269.1h0M133.5 269.1h0M135.9 269.1h0M138.3 269.1h0M140.6 269.1h0M143.0 269.1h0M145.3 269.1h0M147.7 269.1h0M150.1 269.1h0M152.4 269.1h0M154.8 269.1h0M157.1 269.1h0M159.5 269.1h0M161.9 269.1h0M164.2 269.1h0M166.6 269.1h0M168.9 269.1h0M171.3 269.1h0M173.7 269.1h0M176.0 269.1h0M178.4 269.1h0M180.7 269.1h0M183.1 269.1h0M185.5 269.1h0M187.8 269.1h0M190.2 269.1h0M192.5 269.1h0M194.9 269.1h0M197.3 269.1h0M199.6 269.1h0M202.0 269.1h0M204.3 269.1h0M206.7 269.1h0M209.1 269.1h0M211.4 269.1h0M213.8 269.1h0M216.1 269.1h0M218.5 269.1h0M220.9 269.1h0M223.2 269.1h0M225.6 269.1h0M227.9 269.1h0M230.3 269.1h0M232.7 269.1h0M235.0 269.1h0M237.4 269.1h0M239.7 269.1h0M242.1 269.1h0M244.5 269.1h0M246.8 269.1h0M249.2 269.1h0M251.5 269.1h0M253.9 269.1h0M256.3 269.1h0M258.6 269.1h0M261.0 269.1h0M263.3 269.1h0M265.7 269.1h0M268.1 269.1h0M270.4 269.1h0M272.8 269.1h0M275.1 269.1h0M277.5 269.1h0M132.4 271.1h0M134.7 271.1h0M137.1 271.1h0M139.4 271.1h0M141.8 271.1h0M144.2 271.1h0M146.5 271.1h0M148.9 271.1h0M151.2 271.1h0M153.6 271.1h0M156.0 271.1h0M158.3 271.1h0M160.7 271.1h0M163.0 271.1h0M165.4 271.1h0M167.8 271.1h0M170.1 271.1h0M172.5 271.1h0M174.8 271.1h0M177.2 271.1h0M179.6 271.1h0M181.9 271.1h0M184.3 271.1h0M186.6 271.1h0M189.0 271.1h0M191.4 271.1h0M193.7 271.1h0M196.1 271.1h0M198.4 271.1h0M200.8 271.1h0M203.2 271.1h0M205.5 271.1h0M207.9 271.1h0M210.2 271.1h0M212.6 271.1h0M215.0 271.1h0M217.3 271.1h0M219.7 271.1h0M222.0 271.1h0M224.4 271.1h0M226.8 271.1h0M229.1 271.1h0M231.5 271.1h0M233.8 271.1h0M236.2 271.1h0M238.6 271.1h0M240.9 271.1h0M243.3 271.1h0M245.6 271.1h0M248.0 271.1h0M250.4 271.1h0M252.7 271.1h0M255.1 271.1h0M257.4 271.1h0M259.8 271.1h0M262.2 271.1h0M264.5 271.1h0M266.9 271.1h0M269.2 271.1h0M271.6 271.1h0M274.0 271.1h0M276.3 271.1h0M278.7 271.1h0M133.5 273.2h0M135.9 273.2h0M138.3 273.2h0M140.6 273.2h0M143.0 273.2h0M145.3 273.2h0M147.7 273.2h0M150.1 273.2h0M152.4 273.2h0M154.8 273.2h0M157.1 273.2h0M159.5 273.2h0M161.9 273.2h0M164.2 273.2h0M166.6 273.2h0M168.9 273.2h0M171.3 273.2h0M173.7 273.2h0M176.0 273.2h0M178.4 273.2h0M180.7 273.2h0M183.1 273.2h0M185.5 273.2h0M187.8 273.2h0M190.2 273.2h0M192.5 273.2h0M194.9 273.2h0M197.3 273.2h0M199.6 273.2h0M202.0 273.2h0M204.3 273.2h0M206.7 273.2h0M209.1 273.2h0M211.4 273.2h0M213.8 273.2h0M216.1 273.2h0M218.5 273.2h0M220.9 273.2h0M223.2 273.2h0M225.6 273.2h0M227.9 273.2h0M230.3 273.2h0M232.7 273.2h0M235.0 273.2h0M237.4 273.2h0M239.7 273.2h0M242.1 273.2h0M244.5 273.2h0M246.8 273.2h0M249.2 273.2h0M251.5 273.2h0M253.9 273.2h0M256.3 273.2h0M258.6 273.2h0M261.0 273.2h0M263.3 273.2h0M265.7 273.2h0M268.1 273.2h0M270.4 273.2h0M272.8 273.2h0M275.1 273.2h0M277.5 273.2h0M132.4 275.3h0M134.7 275.3h0M137.1 275.3h0M139.4 275.3h0M141.8 275.3h0M144.2 275.3h0M146.5 275.3h0M148.9 275.3h0M151.2 275.3h0M153.6 275.3h0M156.0 275.3h0M158.3 275.3h0M160.7 275.3h0M163.0 275.3h0M165.4 275.3h0M167.8 275.3h0M170.1 275.3h0M172.5 275.3h0M174.8 275.3h0M177.2 275.3h0M179.6 275.3h0M181.9 275.3h0M184.3 275.3h0M186.6 275.3h0M189.0 275.3h0M191.4 275.3h0M193.7 275.3h0M196.1 275.3h0M198.4 275.3h0M200.8 275.3h0M203.2 275.3h0M205.5 275.3h0M207.9 275.3h0M210.2 275.3h0M212.6 275.3h0M215.0 275.3h0M217.3 275.3h0M219.7 275.3h0M222.0 275.3h0M224.4 275.3h0M226.8 275.3h0M229.1 275.3h0M231.5 275.3h0M233.8 275.3h0M236.2 275.3h0M238.6 275.3h0M240.9 275.3h0M243.3 275.3h0M245.6 275.3h0M248.0 275.3h0M250.4 275.3h0M252.7 275.3h0M255.1 275.3h0M257.4 275.3h0M259.8 275.3h0M262.2 275.3h0M264.5 275.3h0M266.9 275.3h0M269.2 275.3h0M271.6 275.3h0M274.0 275.3h0M276.3 275.3h0M133.5 277.3h0M135.9 277.3h0M138.3 277.3h0M140.6 277.3h0M143.0 277.3h0M145.3 277.3h0M147.7 277.3h0M150.1 277.3h0M152.4 277.3h0M154.8 277.3h0M157.1 277.3h0M159.5 277.3h0M161.9 277.3h0M164.2 277.3h0M166.6 277.3h0M168.9 277.3h0M171.3 277.3h0M173.7 277.3h0M176.0 277.3h0M178.4 277.3h0M180.7 277.3h0M183.1 277.3h0M185.5 277.3h0M187.8 277.3h0M190.2 277.3h0M192.5 277.3h0M194.9 277.3h0M197.3 277.3h0M199.6 277.3h0M202.0 277.3h0M204.3 277.3h0M206.7 277.3h0M209.1 277.3h0M211.4 277.3h0M213.8 277.3h0M216.1 277.3h0M218.5 277.3h0M220.9 277.3h0M223.2 277.3h0M225.6 277.3h0M227.9 277.3h0M230.3 277.3h0M232.7 277.3h0M235.0 277.3h0M237.4 277.3h0M239.7 277.3h0M242.1 277.3h0M244.5 277.3h0M246.8 277.3h0M249.2 277.3h0M251.5 277.3h0M253.9 277.3h0M256.3 277.3h0M258.6 277.3h0M261.0 277.3h0M263.3 277.3h0M265.7 277.3h0M268.1 277.3h0M270.4 277.3h0M132.4 279.4h0M134.7 279.4h0M137.1 279.4h0M139.4 279.4h0M141.8 279.4h0M144.2 279.4h0M146.5 279.4h0M148.9 279.4h0M151.2 279.4h0M153.6 279.4h0M156.0 279.4h0M158.3 279.4h0M160.7 279.4h0M163.0 279.4h0M165.4 279.4h0M167.8 279.4h0M170.1 279.4h0M172.5 279.4h0M174.8 279.4h0M177.2 279.4h0M179.6 279.4h0M181.9 279.4h0M184.3 279.4h0M186.6 279.4h0M189.0 279.4h0M191.4 279.4h0M193.7 279.4h0M196.1 279.4h0M198.4 279.4h0M200.8 279.4h0M203.2 279.4h0M205.5 279.4h0M207.9 279.4h0M210.2 279.4h0M212.6 279.4h0M215.0 279.4h0M217.3 279.4h0M219.7 279.4h0M222.0 279.4h0M224.4 279.4h0M226.8 279.4h0M229.1 279.4h0M231.5 279.4h0M233.8 279.4h0M236.2 279.4h0M238.6 279.4h0M240.9 279.4h0M243.3 279.4h0M245.6 279.4h0M248.0 279.4h0M250.4 279.4h0M252.7 279.4h0M255.1 279.4h0M257.4 279.4h0M259.8 279.4h0M262.2 279.4h0M264.5 279.4h0M133.5 281.4h0M135.9 281.4h0M138.3 281.4h0M140.6 281.4h0M143.0 281.4h0M145.3 281.4h0M147.7 281.4h0M150.1 281.4h0M152.4 281.4h0M154.8 281.4h0M157.1 281.4h0M159.5 281.4h0M161.9 281.4h0M164.2 281.4h0M166.6 281.4h0M168.9 281.4h0M171.3 281.4h0M173.7 281.4h0M176.0 281.4h0M178.4 281.4h0M180.7 281.4h0M183.1 281.4h0M185.5 281.4h0M187.8 281.4h0M190.2 281.4h0M192.5 281.4h0M194.9 281.4h0M197.3 281.4h0M199.6 281.4h0M202.0 281.4h0M204.3 281.4h0M206.7 281.4h0M209.1 281.4h0M211.4 281.4h0M213.8 281.4h0M216.1 281.4h0M218.5 281.4h0M220.9 281.4h0M223.2 281.4h0M225.6 281.4h0M227.9 281.4h0M230.3 281.4h0M232.7 281.4h0M235.0 281.4h0M237.4 281.4h0M239.7 281.4h0M242.1 281.4h0M244.5 281.4h0M246.8 281.4h0M249.2 281.4h0M251.5 281.4h0M253.9 281.4h0M256.3 281.4h0M258.6 281.4h0M261.0 281.4h0M263.3 281.4h0M132.4 283.5h0M134.7 283.5h0M137.1 283.5h0M139.4 283.5h0M141.8 283.5h0M144.2 283.5h0M146.5 283.5h0M148.9 283.5h0M151.2 283.5h0M153.6 283.5h0M156.0 283.5h0M158.3 283.5h0M160.7 283.5h0M163.0 283.5h0M165.4 283.5h0M167.8 283.5h0M170.1 283.5h0M172.5 283.5h0M174.8 283.5h0M177.2 283.5h0M179.6 283.5h0M181.9 283.5h0M184.3 283.5h0M186.6 283.5h0M189.0 283.5h0M191.4 283.5h0M193.7 283.5h0M196.1 283.5h0M198.4 283.5h0M200.8 283.5h0M203.2 283.5h0M205.5 283.5h0M207.9 283.5h0M210.2 283.5h0M212.6 283.5h0M215.0 283.5h0M217.3 283.5h0M219.7 283.5h0M222.0 283.5h0M224.4 283.5h0M226.8 283.5h0M229.1 283.5h0M231.5 283.5h0M233.8 283.5h0M236.2 283.5h0M238.6 283.5h0M240.9 283.5h0M243.3 283.5h0M245.6 283.5h0M248.0 283.5h0M250.4 283.5h0M131.2 285.6h0M133.5 285.6h0M135.9 285.6h0M138.3 285.6h0M140.6 285.6h0M143.0 285.6h0M145.3 285.6h0M147.7 285.6h0M150.1 285.6h0M152.4 285.6h0M154.8 285.6h0M157.1 285.6h0M159.5 285.6h0M161.9 285.6h0M164.2 285.6h0M166.6 285.6h0M168.9 285.6h0M171.3 285.6h0M173.7 285.6h0M176.0 285.6h0M178.4 285.6h0M180.7 285.6h0M183.1 285.6h0M185.5 285.6h0M187.8 285.6h0M190.2 285.6h0M192.5 285.6h0M194.9 285.6h0M197.3 285.6h0M199.6 285.6h0M202.0 285.6h0M204.3 285.6h0M206.7 285.6h0M209.1 285.6h0M211.4 285.6h0M213.8 285.6h0M216.1 285.6h0M218.5 285.6h0M220.9 285.6h0M223.2 285.6h0M225.6 285.6h0M227.9 285.6h0M230.3 285.6h0M232.7 285.6h0M235.0 285.6h0M237.4 285.6h0M239.7 285.6h0M242.1 285.6h0M244.5 285.6h0M246.8 285.6h0M132.4 287.6h0M134.7 287.6h0M137.1 287.6h0M139.4 287.6h0M141.8 287.6h0M144.2 287.6h0M146.5 287.6h0M148.9 287.6h0M151.2 287.6h0M153.6 287.6h0M156.0 287.6h0M158.3 287.6h0M160.7 287.6h0M163.0 287.6h0M165.4 287.6h0M167.8 287.6h0M170.1 287.6h0M172.5 287.6h0M174.8 287.6h0M177.2 287.6h0M179.6 287.6h0M181.9 287.6h0M184.3 287.6h0M186.6 287.6h0M189.0 287.6h0M191.4 287.6h0M193.7 287.6h0M196.1 287.6h0M198.4 287.6h0M200.8 287.6h0M203.2 287.6h0M205.5 287.6h0M207.9 287.6h0M210.2 287.6h0M212.6 287.6h0M215.0 287.6h0M217.3 287.6h0M219.7 287.6h0M222.0 287.6h0M224.4 287.6h0M226.8 287.6h0M229.1 287.6h0M231.5 287.6h0M233.8 287.6h0M236.2 287.6h0M238.6 287.6h0M240.9 287.6h0M243.3 287.6h0M245.6 287.6h0M131.2 289.7h0M133.5 289.7h0M135.9 289.7h0M138.3 289.7h0M140.6 289.7h0M143.0 289.7h0M145.3 289.7h0M147.7 289.7h0M150.1 289.7h0M152.4 289.7h0M154.8 289.7h0M157.1 289.7h0M159.5 289.7h0M161.9 289.7h0M164.2 289.7h0M166.6 289.7h0M168.9 289.7h0M171.3 289.7h0M173.7 289.7h0M176.0 289.7h0M178.4 289.7h0M180.7 289.7h0M183.1 289.7h0M185.5 289.7h0M187.8 289.7h0M190.2 289.7h0M192.5 289.7h0M194.9 289.7h0M197.3 289.7h0M199.6 289.7h0M202.0 289.7h0M204.3 289.7h0M206.7 289.7h0M209.1 289.7h0M211.4 289.7h0M213.8 289.7h0M216.1 289.7h0M218.5 289.7h0M220.9 289.7h0M223.2 289.7h0M225.6 289.7h0M227.9 289.7h0M230.3 289.7h0M232.7 289.7h0M235.0 289.7h0M237.4 289.7h0M239.7 289.7h0M242.1 289.7h0M244.5 289.7h0M132.4 291.7h0M134.7 291.7h0M137.1 291.7h0M139.4 291.7h0M141.8 291.7h0M144.2 291.7h0M146.5 291.7h0M148.9 291.7h0M151.2 291.7h0M153.6 291.7h0M156.0 291.7h0M158.3 291.7h0M160.7 291.7h0M163.0 291.7h0M165.4 291.7h0M167.8 291.7h0M170.1 291.7h0M172.5 291.7h0M174.8 291.7h0M177.2 291.7h0M179.6 291.7h0M181.9 291.7h0M184.3 291.7h0M186.6 291.7h0M189.0 291.7h0M191.4 291.7h0M193.7 291.7h0M196.1 291.7h0M198.4 291.7h0M200.8 291.7h0M203.2 291.7h0M205.5 291.7h0M207.9 291.7h0M210.2 291.7h0M212.6 291.7h0M215.0 291.7h0M217.3 291.7h0M219.7 291.7h0M222.0 291.7h0M224.4 291.7h0M226.8 291.7h0M229.1 291.7h0M231.5 291.7h0M233.8 291.7h0M236.2 291.7h0M238.6 291.7h0M240.9 291.7h0M133.5 293.8h0M135.9 293.8h0M138.3 293.8h0M140.6 293.8h0M143.0 293.8h0M145.3 293.8h0M147.7 293.8h0M150.1 293.8h0M152.4 293.8h0M154.8 293.8h0M157.1 293.8h0M159.5 293.8h0M161.9 293.8h0M164.2 293.8h0M166.6 293.8h0M168.9 293.8h0M171.3 293.8h0M173.7 293.8h0M176.0 293.8h0M178.4 293.8h0M180.7 293.8h0M183.1 293.8h0M185.5 293.8h0M187.8 293.8h0M190.2 293.8h0M192.5 293.8h0M194.9 293.8h0M197.3 293.8h0M199.6 293.8h0M202.0 293.8h0M204.3 293.8h0M206.7 293.8h0M209.1 293.8h0M211.4 293.8h0M213.8 293.8h0M216.1 293.8h0M218.5 293.8h0M220.9 293.8h0M223.2 293.8h0M225.6 293.8h0M227.9 293.8h0M230.3 293.8h0M132.4 295.9h0M134.7 295.9h0M137.1 295.9h0M139.4 295.9h0M141.8 295.9h0M144.2 295.9h0M146.5 295.9h0M148.9 295.9h0M151.2 295.9h0M153.6 295.9h0M156.0 295.9h0M158.3 295.9h0M160.7 295.9h0M163.0 295.9h0M165.4 295.9h0M167.8 295.9h0M170.1 295.9h0M172.5 295.9h0M174.8 295.9h0M177.2 295.9h0M179.6 295.9h0M181.9 295.9h0M184.3 295.9h0M186.6 295.9h0M189.0 295.9h0M191.4 295.9h0M193.7 295.9h0M196.1 295.9h0M198.4 295.9h0M200.8 295.9h0M203.2 295.9h0M205.5 295.9h0M207.9 295.9h0M210.2 295.9h0M212.6 295.9h0M215.0 295.9h0M217.3 295.9h0M219.7 295.9h0M222.0 295.9h0M224.4 295.9h0M133.5 297.9h0M135.9 297.9h0M138.3 297.9h0M140.6 297.9h0M143.0 297.9h0M145.3 297.9h0M147.7 297.9h0M150.1 297.9h0M152.4 297.9h0M154.8 297.9h0M157.1 297.9h0M159.5 297.9h0M161.9 297.9h0M164.2 297.9h0M166.6 297.9h0M168.9 297.9h0M171.3 297.9h0M173.7 297.9h0M176.0 297.9h0M178.4 297.9h0M180.7 297.9h0M183.1 297.9h0M185.5 297.9h0M187.8 297.9h0M190.2 297.9h0M192.5 297.9h0M194.9 297.9h0M197.3 297.9h0M199.6 297.9h0M202.0 297.9h0M204.3 297.9h0M206.7 297.9h0M209.1 297.9h0M211.4 297.9h0M213.8 297.9h0M216.1 297.9h0M218.5 297.9h0M220.9 297.9h0M134.7 300.0h0M137.1 300.0h0M139.4 300.0h0M141.8 300.0h0M144.2 300.0h0M146.5 300.0h0M148.9 300.0h0M151.2 300.0h0M153.6 300.0h0M156.0 300.0h0M158.3 300.0h0M160.7 300.0h0M163.0 300.0h0M165.4 300.0h0M167.8 300.0h0M170.1 300.0h0M172.5 300.0h0M174.8 300.0h0M177.2 300.0h0M179.6 300.0h0M181.9 300.0h0M184.3 300.0h0M186.6 300.0h0M189.0 300.0h0M191.4 300.0h0M193.7 300.0h0M196.1 300.0h0M198.4 300.0h0M200.8 300.0h0M203.2 300.0h0M215.0 300.0h0M217.3 300.0h0M135.9 302.0h0M138.3 302.0h0M140.6 302.0h0M143.0 302.0h0M145.3 302.0h0M147.7 302.0h0M150.1 302.0h0M152.4 302.0h0M154.8 302.0h0M157.1 302.0h0M159.5 302.0h0M161.9 302.0h0M164.2 302.0h0M166.6 302.0h0M168.9 302.0h0M171.3 302.0h0M173.7 302.0h0M176.0 302.0h0M178.4 302.0h0M180.7 302.0h0M183.1 302.0h0M185.5 302.0h0M187.8 302.0h0M190.2 302.0h0M192.5 302.0h0M194.9 302.0h0M197.3 302.0h0M199.6 302.0h0M134.7 304.1h0M137.1 304.1h0M139.4 304.1h0M141.8 304.1h0M144.2 304.1h0M146.5 304.1h0M148.9 304.1h0M151.2 304.1h0M153.6 304.1h0M156.0 304.1h0M158.3 304.1h0M160.7 304.1h0M163.0 304.1h0M165.4 304.1h0M167.8 304.1h0M170.1 304.1h0M172.5 304.1h0M174.8 304.1h0M177.2 304.1h0M179.6 304.1h0M181.9 304.1h0M184.3 304.1h0M186.6 304.1h0M189.0 304.1h0M191.4 304.1h0M193.7 304.1h0M196.1 304.1h0M135.9 306.2h0M138.3 306.2h0M140.6 306.2h0M143.0 306.2h0M145.3 306.2h0M147.7 306.2h0M150.1 306.2h0M152.4 306.2h0M154.8 306.2h0M157.1 306.2h0M159.5 306.2h0M161.9 306.2h0M164.2 306.2h0M166.6 306.2h0M168.9 306.2h0M171.3 306.2h0M137.1 308.2h0M139.4 308.2h0M141.8 308.2h0M144.2 308.2h0M146.5 308.2h0M148.9 308.2h0M151.2 308.2h0M153.6 308.2h0M156.0 308.2h0M158.3 308.2h0M160.7 308.2h0M163.0 308.2h0M165.4 308.2h0M167.8 308.2h0M138.3 310.3h0M140.6 310.3h0M143.0 310.3h0M145.3 310.3h0M147.7 310.3h0M150.1 310.3h0M152.4 310.3h0M154.8 310.3h0M157.1 310.3h0M159.5 310.3h0M161.9 310.3h0M164.2 310.3h0M166.6 310.3h0M137.1 312.3h0M139.4 312.3h0M141.8 312.3h0M144.2 312.3h0M146.5 312.3h0M148.9 312.3h0M151.2 312.3h0M153.6 312.3h0M156.0 312.3h0M158.3 312.3h0M160.7 312.3h0M163.0 312.3h0M165.4 312.3h0M138.3 314.4h0M140.6 314.4h0M143.0 314.4h0M145.3 314.4h0M147.7 314.4h0M150.1 314.4h0M152.4 314.4h0M154.8 314.4h0M157.1 314.4h0M159.5 314.4h0M161.9 314.4h0M164.2 314.4h0M137.1 316.5h0M139.4 316.5h0M141.8 316.5h0M144.2 316.5h0M146.5 316.5h0M148.9 316.5h0M151.2 316.5h0M153.6 316.5h0M156.0 316.5h0M158.3 316.5h0M160.7 316.5h0M135.9 318.5h0M138.3 318.5h0M140.6 318.5h0M143.0 318.5h0M145.3 318.5h0M147.7 318.5h0M150.1 318.5h0M152.4 318.5h0M154.8 318.5h0M134.7 320.6h0M137.1 320.6h0M139.4 320.6h0M141.8 320.6h0M144.2 320.6h0M146.5 320.6h0M148.9 320.6h0M151.2 320.6h0M135.9 322.6h0M138.3 322.6h0M140.6 322.6h0M143.0 322.6h0M145.3 322.6h0M147.7 322.6h0M150.1 322.6h0M137.1 324.7h0M139.4 324.7h0M141.8 324.7h0M144.2 324.7h0M146.5 324.7h0M148.9 324.7h0M135.9 326.8h0M138.3 326.8h0M140.6 326.8h0M143.0 326.8h0M145.3 326.8h0M147.7 326.8h0M137.1 328.8h0M139.4 328.8h0M141.8 328.8h0M144.2 328.8h0M146.5 328.8h0" stroke="#2a1a30" stroke-opacity="0.7" stroke-width="2.35" stroke-linecap="round" fill="none"/>
<path d="M194.9 182.6h0M197.3 182.6h0M199.6 182.6h0M202.0 182.6h0M189.0 184.6h0M193.7 184.6h0M196.1 184.6h0M198.4 184.6h0M200.8 184.6h0M203.2 184.6h0M205.5 184.6h0M183.1 186.7h0M185.5 186.7h0M187.8 186.7h0M190.2 186.7h0M192.5 186.7h0M194.9 186.7h0M197.3 186.7h0M199.6 186.7h0M202.0 186.7h0M204.3 186.7h0M209.1 186.7h0M211.4 186.7h0M179.6 188.7h0M181.9 188.7h0M184.3 188.7h0M186.6 188.7h0M189.0 188.7h0M191.4 188.7h0M193.7 188.7h0M196.1 188.7h0M198.4 188.7h0M200.8 188.7h0M205.5 188.7h0M207.9 188.7h0M210.2 188.7h0M212.6 188.7h0M215.0 188.7h0M217.3 188.7h0M178.4 190.8h0M180.7 190.8h0M183.1 190.8h0M185.5 190.8h0M187.8 190.8h0M190.2 190.8h0M192.5 190.8h0M194.9 190.8h0M197.3 190.8h0M199.6 190.8h0M202.0 190.8h0M204.3 190.8h0M206.7 190.8h0M209.1 190.8h0M211.4 190.8h0M213.8 190.8h0M216.1 190.8h0M218.5 190.8h0M220.9 190.8h0M223.2 190.8h0M177.2 192.9h0M179.6 192.9h0M181.9 192.9h0M184.3 192.9h0M186.6 192.9h0M189.0 192.9h0M193.7 192.9h0M196.1 192.9h0M198.4 192.9h0M200.8 192.9h0M203.2 192.9h0M205.5 192.9h0M215.0 192.9h0M217.3 192.9h0M219.7 192.9h0M222.0 192.9h0M224.4 192.9h0M226.8 192.9h0M229.1 192.9h0M231.5 192.9h0M180.7 194.9h0M183.1 194.9h0M187.8 194.9h0M190.2 194.9h0M192.5 194.9h0M194.9 194.9h0M197.3 194.9h0M199.6 194.9h0M202.0 194.9h0M204.3 194.9h0M206.7 194.9h0M209.1 194.9h0M211.4 194.9h0M213.8 194.9h0M216.1 194.9h0M218.5 194.9h0M220.9 194.9h0M223.2 194.9h0M225.6 194.9h0M227.9 194.9h0M230.3 194.9h0M232.7 194.9h0M235.0 194.9h0M181.9 197.0h0M184.3 197.0h0M186.6 197.0h0M189.0 197.0h0M191.4 197.0h0M193.7 197.0h0M196.1 197.0h0M198.4 197.0h0M200.8 197.0h0M203.2 197.0h0M207.9 197.0h0M210.2 197.0h0M212.6 197.0h0M215.0 197.0h0M217.3 197.0h0M219.7 197.0h0M222.0 197.0h0M226.8 197.0h0M229.1 197.0h0M231.5 197.0h0M233.8 197.0h0M236.2 197.0h0M238.6 197.0h0M240.9 197.0h0M183.1 199.0h0M185.5 199.0h0M187.8 199.0h0M190.2 199.0h0M192.5 199.0h0M194.9 199.0h0M197.3 199.0h0M199.6 199.0h0M204.3 199.0h0M206.7 199.0h0M209.1 199.0h0M211.4 199.0h0M213.8 199.0h0M216.1 199.0h0M218.5 199.0h0M220.9 199.0h0M223.2 199.0h0M227.9 199.0h0M230.3 199.0h0M232.7 199.0h0M235.0 199.0h0M237.4 199.0h0M239.7 199.0h0M242.1 199.0h0M184.3 201.1h0M186.6 201.1h0M189.0 201.1h0M191.4 201.1h0M193.7 201.1h0M196.1 201.1h0M198.4 201.1h0M200.8 201.1h0M203.2 201.1h0M205.5 201.1h0M207.9 201.1h0M210.2 201.1h0M212.6 201.1h0M215.0 201.1h0M217.3 201.1h0M219.7 201.1h0M222.0 201.1h0M224.4 201.1h0M226.8 201.1h0M229.1 201.1h0M231.5 201.1h0M233.8 201.1h0M236.2 201.1h0M238.6 201.1h0M240.9 201.1h0M187.8 203.2h0M190.2 203.2h0M194.9 203.2h0M197.3 203.2h0M199.6 203.2h0M202.0 203.2h0M204.3 203.2h0M209.1 203.2h0M211.4 203.2h0M213.8 203.2h0M220.9 203.2h0M223.2 203.2h0M225.6 203.2h0M227.9 203.2h0M230.3 203.2h0M232.7 203.2h0M235.0 203.2h0M237.4 203.2h0M239.7 203.2h0M244.5 203.2h0M186.6 205.2h0M189.0 205.2h0M191.4 205.2h0M193.7 205.2h0M196.1 205.2h0M198.4 205.2h0M203.2 205.2h0M207.9 205.2h0M210.2 205.2h0M212.6 205.2h0M215.0 205.2h0M217.3 205.2h0M219.7 205.2h0M222.0 205.2h0M224.4 205.2h0M226.8 205.2h0M229.1 205.2h0M231.5 205.2h0M233.8 205.2h0M236.2 205.2h0M238.6 205.2h0M240.9 205.2h0M245.6 205.2h0M187.8 207.3h0M190.2 207.3h0M192.5 207.3h0M194.9 207.3h0M197.3 207.3h0M199.6 207.3h0M202.0 207.3h0M204.3 207.3h0M206.7 207.3h0M209.1 207.3h0M211.4 207.3h0M213.8 207.3h0M216.1 207.3h0M218.5 207.3h0M220.9 207.3h0M223.2 207.3h0M225.6 207.3h0M227.9 207.3h0M230.3 207.3h0M232.7 207.3h0M235.0 207.3h0M237.4 207.3h0M239.7 207.3h0M186.6 209.3h0M189.0 209.3h0M191.4 209.3h0M193.7 209.3h0M196.1 209.3h0M198.4 209.3h0M200.8 209.3h0M203.2 209.3h0M205.5 209.3h0M207.9 209.3h0M210.2 209.3h0M212.6 209.3h0M215.0 209.3h0M217.3 209.3h0M219.7 209.3h0M222.0 209.3h0M224.4 209.3h0M226.8 209.3h0M229.1 209.3h0M231.5 209.3h0M233.8 209.3h0M236.2 209.3h0M238.6 209.3h0M150.1 211.4h0M187.8 211.4h0M190.2 211.4h0M194.9 211.4h0M197.3 211.4h0M199.6 211.4h0M202.0 211.4h0M204.3 211.4h0M206.7 211.4h0M209.1 211.4h0M213.8 211.4h0M216.1 211.4h0M218.5 211.4h0M220.9 211.4h0M223.2 211.4h0M225.6 211.4h0M230.3 211.4h0M232.7 211.4h0M235.0 211.4h0M237.4 211.4h0M239.7 211.4h0M189.0 213.5h0M193.7 213.5h0M196.1 213.5h0M198.4 213.5h0M200.8 213.5h0M203.2 213.5h0M205.5 213.5h0M207.9 213.5h0M212.6 213.5h0M217.3 213.5h0M219.7 213.5h0M222.0 213.5h0M224.4 213.5h0M229.1 213.5h0M231.5 213.5h0M233.8 213.5h0M236.2 213.5h0M190.2 215.5h0M194.9 215.5h0M197.3 215.5h0M199.6 215.5h0M202.0 215.5h0M204.3 215.5h0M209.1 215.5h0M211.4 215.5h0M216.1 215.5h0M218.5 215.5h0M220.9 215.5h0M223.2 215.5h0M230.3 215.5h0M232.7 215.5h0M170.1 217.6h0M191.4 217.6h0M193.7 217.6h0M196.1 217.6h0M198.4 217.6h0M200.8 217.6h0M203.2 217.6h0M205.5 217.6h0M207.9 217.6h0M210.2 217.6h0M212.6 217.6h0M217.3 217.6h0M219.7 217.6h0M222.0 217.6h0M224.4 217.6h0M226.8 217.6h0M231.5 217.6h0M233.8 217.6h0M192.5 219.6h0M194.9 219.6h0M199.6 219.6h0M202.0 219.6h0M206.7 219.6h0M213.8 219.6h0M216.1 219.6h0M218.5 219.6h0M220.9 219.6h0M223.2 219.6h0M225.6 219.6h0M227.9 219.6h0M230.3 219.6h0M193.7 221.7h0M198.4 221.7h0M200.8 221.7h0M203.2 221.7h0M205.5 221.7h0M210.2 221.7h0M212.6 221.7h0M215.0 221.7h0M217.3 221.7h0M219.7 221.7h0M224.4 221.7h0M226.8 221.7h0M229.1 221.7h0M159.5 223.8h0M192.5 223.8h0M194.9 223.8h0M197.3 223.8h0M199.6 223.8h0M202.0 223.8h0M204.3 223.8h0M206.7 223.8h0M213.8 223.8h0M218.5 223.8h0M220.9 223.8h0M223.2 223.8h0M225.6 223.8h0M227.9 223.8h0M193.7 225.8h0M196.1 225.8h0M200.8 225.8h0M203.2 225.8h0M205.5 225.8h0M207.9 225.8h0M210.2 225.8h0M212.6 225.8h0M215.0 225.8h0M217.3 225.8h0M219.7 225.8h0M222.0 225.8h0M224.4 225.8h0M192.5 227.9h0M194.9 227.9h0M197.3 227.9h0M199.6 227.9h0M204.3 227.9h0M206.7 227.9h0M209.1 227.9h0M211.4 227.9h0M213.8 227.9h0M216.1 227.9h0M218.5 227.9h0M220.9 227.9h0M223.2 227.9h0M193.7 229.9h0M196.1 229.9h0M198.4 229.9h0M203.2 229.9h0M205.5 229.9h0M207.9 229.9h0M212.6 229.9h0M217.3 229.9h0M219.7 229.9h0M222.0 229.9h0M154.8 232.0h0M194.9 232.0h0M197.3 232.0h0M199.6 232.0h0M202.0 232.0h0M204.3 232.0h0M206.7 232.0h0M209.1 232.0h0M211.4 232.0h0M213.8 232.0h0M216.1 232.0h0M218.5 232.0h0M246.8 232.0h0M196.1 234.1h0M198.4 234.1h0M203.2 234.1h0M205.5 234.1h0M207.9 234.1h0M212.6 234.1h0M215.0 234.1h0M217.3 234.1h0M194.9 236.1h0M197.3 236.1h0M199.6 236.1h0M202.0 236.1h0M204.3 236.1h0M206.7 236.1h0M209.1 236.1h0M211.4 236.1h0M196.1 238.2h0M198.4 238.2h0M200.8 238.2h0M203.2 238.2h0M205.5 238.2h0M207.9 238.2h0M210.2 238.2h0M197.3 240.2h0M199.6 240.2h0M202.0 240.2h0M204.3 240.2h0M198.4 242.3h0M203.2 242.3h0M205.5 242.3h0M159.5 244.4h0M197.3 244.4h0M199.6 244.4h0M202.0 244.4h0M204.3 244.4h0M156.0 246.4h0M200.8 246.4h0M203.2 246.4h0M199.6 248.5h0M202.0 248.5h0M137.1 250.5h0M138.3 252.6h0M140.6 252.6h0M143.0 252.6h0M145.3 252.6h0M147.7 252.6h0M168.9 252.6h0M225.6 252.6h0M134.7 254.7h0M137.1 254.7h0M139.4 254.7h0M141.8 254.7h0M144.2 254.7h0M146.5 254.7h0M135.9 256.7h0M138.3 256.7h0M140.6 256.7h0M143.0 256.7h0M145.3 256.7h0M147.7 256.7h0M132.4 258.8h0M134.7 258.8h0M137.1 258.8h0M139.4 258.8h0M141.8 258.8h0M144.2 258.8h0M146.5 258.8h0M148.9 258.8h0M133.5 260.8h0M135.9 260.8h0M138.3 260.8h0M140.6 260.8h0M143.0 260.8h0M145.3 260.8h0M147.7 260.8h0M132.4 262.9h0M134.7 262.9h0M137.1 262.9h0M139.4 262.9h0M141.8 262.9h0M131.2 265.0h0M133.5 265.0h0M138.3 265.0h0M140.6 265.0h0M132.4 267.0h0M134.7 267.0h0M137.1 267.0h0M141.8 267.0h0M170.1 267.0h0M135.9 269.1h0M140.6 269.1h0M143.0 269.1h0M134.7 271.1h0M137.1 271.1h0M139.4 271.1h0M141.8 271.1h0M144.2 271.1h0M146.5 271.1h0M133.5 273.2h0M135.9 273.2h0M138.3 273.2h0M143.0 273.2h0M145.3 273.2h0M132.4 275.3h0M137.1 275.3h0M139.4 275.3h0M141.8 275.3h0M144.2 275.3h0M224.4 275.3h0M133.5 277.3h0M135.9 277.3h0M138.3 277.3h0M140.6 277.3h0M143.0 277.3h0M202.0 277.3h0M132.4 279.4h0M134.7 279.4h0M137.1 279.4h0M139.4 279.4h0M141.8 279.4h0M219.7 279.4h0M133.5 281.4h0M135.9 281.4h0M138.3 281.4h0M140.6 281.4h0M143.0 281.4h0M154.8 281.4h0M263.3 281.4h0M132.4 283.5h0M134.7 283.5h0M137.1 283.5h0M139.4 283.5h0M141.8 283.5h0M133.5 285.6h0M135.9 285.6h0M138.3 285.6h0M134.7 287.6h0M137.1 287.6h0M133.5 289.7h0M135.9 289.7h0M138.3 289.7h0M134.7 291.7h0M236.2 291.7h0M133.5 293.8h0M135.9 293.8h0M230.3 293.8h0M134.7 295.9h0M137.1 295.9h0M140.6 302.0h0M163.0 304.1h0M165.4 312.3h0" stroke="#6c1a68" stroke-width="1.9" stroke-linecap="round" fill="none"/>
<path d="M191.4 184.6h0M206.7 186.7h0M191.4 192.9h0M207.9 192.9h0M173.7 203.2h0M178.4 203.2h0M180.7 203.2h0M147.7 211.4h0M144.2 213.5h0M148.9 213.5h0M238.6 213.5h0M143.0 215.5h0M145.3 215.5h0M147.7 215.5h0M150.1 215.5h0M225.6 215.5h0M237.4 215.5h0M141.8 217.6h0M144.2 217.6h0M146.5 217.6h0M148.9 217.6h0M151.2 217.6h0M236.2 217.6h0M143.0 219.6h0M145.3 219.6h0M147.7 219.6h0M204.3 219.6h0M211.4 219.6h0M232.7 219.6h0M235.0 219.6h0M251.5 219.6h0M141.8 221.7h0M144.2 221.7h0M146.5 221.7h0M148.9 221.7h0M151.2 221.7h0M207.9 221.7h0M231.5 221.7h0M233.8 221.7h0M250.4 221.7h0M266.9 221.7h0M143.0 223.8h0M145.3 223.8h0M147.7 223.8h0M150.1 223.8h0M230.3 223.8h0M235.0 223.8h0M141.8 225.8h0M144.2 225.8h0M146.5 225.8h0M148.9 225.8h0M160.7 225.8h0M226.8 225.8h0M229.1 225.8h0M231.5 225.8h0M255.1 225.8h0M271.6 225.8h0M143.0 227.9h0M145.3 227.9h0M147.7 227.9h0M168.9 227.9h0M202.0 227.9h0M225.6 227.9h0M227.9 227.9h0M230.3 227.9h0M232.7 227.9h0M235.0 227.9h0M244.5 227.9h0M246.8 227.9h0M249.2 227.9h0M144.2 229.9h0M146.5 229.9h0M153.6 229.9h0M224.4 229.9h0M226.8 229.9h0M229.1 229.9h0M231.5 229.9h0M233.8 229.9h0M236.2 229.9h0M238.6 229.9h0M240.9 229.9h0M243.3 229.9h0M245.6 229.9h0M248.0 229.9h0M250.4 229.9h0M220.9 232.0h0M223.2 232.0h0M225.6 232.0h0M227.9 232.0h0M230.3 232.0h0M232.7 232.0h0M235.0 232.0h0M237.4 232.0h0M239.7 232.0h0M249.2 232.0h0M219.7 234.1h0M222.0 234.1h0M224.4 234.1h0M226.8 234.1h0M229.1 234.1h0M231.5 234.1h0M233.8 234.1h0M236.2 234.1h0M238.6 234.1h0M240.9 234.1h0M243.3 234.1h0M245.6 234.1h0M248.0 234.1h0M250.4 234.1h0M176.0 236.1h0M216.1 236.1h0M218.5 236.1h0M220.9 236.1h0M223.2 236.1h0M227.9 236.1h0M230.3 236.1h0M232.7 236.1h0M235.0 236.1h0M237.4 236.1h0M239.7 236.1h0M246.8 236.1h0M249.2 236.1h0M219.7 238.2h0M222.0 238.2h0M224.4 238.2h0M226.8 238.2h0M229.1 238.2h0M231.5 238.2h0M233.8 238.2h0M236.2 238.2h0M238.6 238.2h0M240.9 238.2h0M243.3 238.2h0M245.6 238.2h0M248.0 238.2h0M250.4 238.2h0M206.7 240.2h0M209.1 240.2h0M223.2 240.2h0M225.6 240.2h0M227.9 240.2h0M230.3 240.2h0M232.7 240.2h0M235.0 240.2h0M237.4 240.2h0M239.7 240.2h0M242.1 240.2h0M244.5 240.2h0M246.8 240.2h0M249.2 240.2h0M251.5 240.2h0M222.0 242.3h0M224.4 242.3h0M226.8 242.3h0M229.1 242.3h0M231.5 242.3h0M233.8 242.3h0M236.2 242.3h0M238.6 242.3h0M243.3 242.3h0M248.0 242.3h0M250.4 242.3h0M206.7 244.4h0M225.6 244.4h0M230.3 244.4h0M232.7 244.4h0M239.7 244.4h0M242.1 244.4h0M244.5 244.4h0M246.8 244.4h0M249.2 244.4h0M251.5 244.4h0M196.1 246.4h0M205.5 246.4h0M222.0 246.4h0M224.4 246.4h0M226.8 246.4h0M229.1 246.4h0M231.5 246.4h0M233.8 246.4h0M238.6 246.4h0M240.9 246.4h0M243.3 246.4h0M245.6 246.4h0M250.4 246.4h0M223.2 248.5h0M225.6 248.5h0M227.9 248.5h0M230.3 248.5h0M232.7 248.5h0M237.4 248.5h0M239.7 248.5h0M242.1 248.5h0M244.5 248.5h0M246.8 248.5h0M249.2 248.5h0M251.5 248.5h0M205.5 250.5h0M222.0 250.5h0M226.8 250.5h0M229.1 250.5h0M231.5 250.5h0M233.8 250.5h0M236.2 250.5h0M238.6 250.5h0M243.3 250.5h0M248.0 250.5h0M250.4 250.5h0M252.7 250.5h0M206.7 252.6h0M220.9 252.6h0M223.2 252.6h0M227.9 252.6h0M230.3 252.6h0M244.5 252.6h0M246.8 252.6h0M249.2 252.6h0M251.5 252.6h0M205.5 254.7h0M207.9 254.7h0M222.0 254.7h0M224.4 254.7h0M226.8 254.7h0M229.1 254.7h0M231.5 254.7h0M233.8 254.7h0M236.2 254.7h0M211.4 256.7h0M227.9 256.7h0M230.3 256.7h0M232.7 256.7h0M235.0 256.7h0M237.4 256.7h0M238.6 258.8h0M242.1 260.8h0M240.9 262.9h0M239.7 265.0h0M242.1 265.0h0M153.6 267.0h0M240.9 267.0h0M243.3 267.0h0M245.6 267.0h0M223.2 269.1h0M227.9 269.1h0M230.3 269.1h0M235.0 269.1h0M246.8 269.1h0M249.2 269.1h0M156.0 271.1h0M207.9 271.1h0M222.0 271.1h0M224.4 271.1h0M226.8 271.1h0M229.1 271.1h0M231.5 271.1h0M233.8 271.1h0M238.6 271.1h0M240.9 271.1h0M243.3 271.1h0M248.0 271.1h0M250.4 271.1h0M252.7 271.1h0M255.1 271.1h0M257.4 271.1h0M161.9 273.2h0M206.7 273.2h0M209.1 273.2h0M211.4 273.2h0M223.2 273.2h0M225.6 273.2h0M227.9 273.2h0M230.3 273.2h0M232.7 273.2h0M235.0 273.2h0M237.4 273.2h0M239.7 273.2h0M242.1 273.2h0M244.5 273.2h0M246.8 273.2h0M249.2 273.2h0M251.5 273.2h0M253.9 273.2h0M256.3 273.2h0M134.7 275.3h0M207.9 275.3h0M210.2 275.3h0M222.0 275.3h0M226.8 275.3h0M231.5 275.3h0M233.8 275.3h0M236.2 275.3h0M238.6 275.3h0M240.9 275.3h0M243.3 275.3h0M245.6 275.3h0M248.0 275.3h0M250.4 275.3h0M252.7 275.3h0M255.1 275.3h0M257.4 275.3h0M150.1 277.3h0M206.7 277.3h0M209.1 277.3h0M223.2 277.3h0M225.6 277.3h0M227.9 277.3h0M230.3 277.3h0M232.7 277.3h0M235.0 277.3h0M237.4 277.3h0M239.7 277.3h0M242.1 277.3h0M246.8 277.3h0M249.2 277.3h0M251.5 277.3h0M253.9 277.3h0M258.6 277.3h0M261.0 277.3h0M205.5 279.4h0M207.9 279.4h0M210.2 279.4h0M222.0 279.4h0M224.4 279.4h0M226.8 279.4h0M229.1 279.4h0M231.5 279.4h0M233.8 279.4h0M238.6 279.4h0M240.9 279.4h0M243.3 279.4h0M245.6 279.4h0M248.0 279.4h0M250.4 279.4h0M252.7 279.4h0M255.1 279.4h0M259.8 279.4h0M206.7 281.4h0M209.1 281.4h0M223.2 281.4h0M225.6 281.4h0M227.9 281.4h0M230.3 281.4h0M232.7 281.4h0M235.0 281.4h0M237.4 281.4h0M239.7 281.4h0M242.1 281.4h0M244.5 281.4h0M246.8 281.4h0M249.2 281.4h0M251.5 281.4h0M253.9 281.4h0M256.3 281.4h0M258.6 281.4h0M261.0 281.4h0M167.8 283.5h0M191.4 283.5h0M205.5 283.5h0M207.9 283.5h0M210.2 283.5h0M222.0 283.5h0M224.4 283.5h0M226.8 283.5h0M229.1 283.5h0M231.5 283.5h0M233.8 283.5h0M236.2 283.5h0M238.6 283.5h0M240.9 283.5h0M243.3 283.5h0M245.6 283.5h0M248.0 283.5h0M250.4 283.5h0M204.3 285.6h0M206.7 285.6h0M209.1 285.6h0M220.9 285.6h0M223.2 285.6h0M227.9 285.6h0M232.7 285.6h0M235.0 285.6h0M237.4 285.6h0M239.7 285.6h0M242.1 285.6h0M244.5 285.6h0M205.5 287.6h0M207.9 287.6h0M224.4 287.6h0M226.8 287.6h0M229.1 287.6h0M231.5 287.6h0M233.8 287.6h0M236.2 287.6h0M238.6 287.6h0M240.9 287.6h0M243.3 287.6h0M245.6 287.6h0M204.3 289.7h0M209.1 289.7h0M220.9 289.7h0M225.6 289.7h0M227.9 289.7h0M230.3 289.7h0M232.7 289.7h0M235.0 289.7h0M237.4 289.7h0M239.7 289.7h0M242.1 289.7h0M244.5 289.7h0M203.2 291.7h0M205.5 291.7h0M207.9 291.7h0M222.0 291.7h0M224.4 291.7h0M229.1 291.7h0M231.5 291.7h0M233.8 291.7h0M238.6 291.7h0M240.9 291.7h0M202.0 293.8h0M204.3 293.8h0M209.1 293.8h0M211.4 293.8h0M213.8 293.8h0M216.1 293.8h0M218.5 293.8h0M220.9 293.8h0M223.2 293.8h0M225.6 293.8h0M227.9 293.8h0M203.2 295.9h0M205.5 295.9h0M207.9 295.9h0M210.2 295.9h0M212.6 295.9h0M215.0 295.9h0M217.3 295.9h0M219.7 295.9h0M222.0 295.9h0M224.4 295.9h0M202.0 297.9h0M204.3 297.9h0M206.7 297.9h0M209.1 297.9h0M211.4 297.9h0M213.8 297.9h0M216.1 297.9h0M218.5 297.9h0M220.9 297.9h0M200.8 300.0h0M203.2 300.0h0M215.0 300.0h0M217.3 300.0h0M134.7 304.1h0M137.1 304.1h0M191.4 304.1h0M193.7 304.1h0M196.1 304.1h0M135.9 306.2h0M138.3 306.2h0M140.6 306.2h0M143.0 306.2h0M145.3 306.2h0M147.7 306.2h0M152.4 306.2h0M157.1 306.2h0M159.5 306.2h0M161.9 306.2h0M164.2 306.2h0M171.3 306.2h0M137.1 308.2h0M139.4 308.2h0M141.8 308.2h0M144.2 308.2h0M153.6 308.2h0M156.0 308.2h0M158.3 308.2h0M160.7 308.2h0M163.0 308.2h0M165.4 308.2h0M167.8 308.2h0M138.3 310.3h0M140.6 310.3h0M143.0 310.3h0M145.3 310.3h0M147.7 310.3h0M150.1 310.3h0M152.4 310.3h0M157.1 310.3h0M159.5 310.3h0M166.6 310.3h0M137.1 312.3h0M139.4 312.3h0M141.8 312.3h0M144.2 312.3h0M146.5 312.3h0M148.9 312.3h0M153.6 312.3h0M156.0 312.3h0M158.3 312.3h0M163.0 312.3h0M138.3 314.4h0M143.0 314.4h0M145.3 314.4h0M150.1 314.4h0M152.4 314.4h0M154.8 314.4h0M157.1 314.4h0M159.5 314.4h0M161.9 314.4h0M164.2 314.4h0M137.1 316.5h0M139.4 316.5h0M141.8 316.5h0M144.2 316.5h0M146.5 316.5h0M148.9 316.5h0M151.2 316.5h0M153.6 316.5h0M158.3 316.5h0M160.7 316.5h0M135.9 318.5h0M138.3 318.5h0M140.6 318.5h0M143.0 318.5h0M145.3 318.5h0M147.7 318.5h0M152.4 318.5h0M137.1 320.6h0M139.4 320.6h0M144.2 320.6h0M146.5 320.6h0M148.9 320.6h0M151.2 320.6h0M135.9 322.6h0M138.3 322.6h0M140.6 322.6h0M143.0 322.6h0M145.3 322.6h0M147.7 322.6h0M150.1 322.6h0M137.1 324.7h0M139.4 324.7h0M141.8 324.7h0M144.2 324.7h0M148.9 324.7h0M135.9 326.8h0M140.6 326.8h0M143.0 326.8h0M145.3 326.8h0M147.7 326.8h0M137.1 328.8h0M139.4 328.8h0M141.8 328.8h0M144.2 328.8h0M146.5 328.8h0" stroke="#de8cc6" stroke-width="1.9" stroke-linecap="round" fill="none"/>
<path d="M203.2 188.7h0M174.8 192.9h0M218.5 203.2h0M157.1 211.4h0M171.3 211.4h0M210.2 213.5h0M189.0 217.6h0M150.1 219.6h0M196.1 221.7h0M257.4 225.8h0M196.1 242.3h0M207.9 242.3h0M167.8 246.4h0M216.1 252.6h0M239.7 252.6h0M238.6 254.7h0M150.1 256.7h0M152.4 256.7h0M157.1 256.7h0M159.5 256.7h0M161.9 256.7h0M164.2 256.7h0M166.6 256.7h0M168.9 256.7h0M171.3 256.7h0M176.0 256.7h0M178.4 256.7h0M180.7 256.7h0M185.5 256.7h0M249.2 256.7h0M151.2 258.8h0M153.6 258.8h0M156.0 258.8h0M160.7 258.8h0M163.0 258.8h0M165.4 258.8h0M167.8 258.8h0M170.1 258.8h0M174.8 258.8h0M177.2 258.8h0M179.6 258.8h0M181.9 258.8h0M184.3 258.8h0M186.6 258.8h0M189.0 258.8h0M191.4 258.8h0M243.3 258.8h0M252.7 258.8h0M255.1 258.8h0M185.5 260.8h0M187.8 260.8h0M190.2 260.8h0M199.6 260.8h0M253.9 260.8h0M256.3 260.8h0M258.6 260.8h0M261.0 260.8h0M277.5 260.8h0M153.6 262.9h0M259.8 262.9h0M262.2 262.9h0M232.7 265.0h0M231.5 267.0h0M233.8 267.0h0M236.2 267.0h0M238.6 267.0h0M138.3 269.1h0M159.5 269.1h0M161.9 269.1h0M164.2 269.1h0M166.6 269.1h0M237.4 269.1h0M239.7 269.1h0M242.1 269.1h0M244.5 269.1h0M170.1 271.1h0M196.1 271.1h0M245.6 271.1h0M259.8 271.1h0M145.3 277.3h0M147.7 277.3h0M144.2 279.4h0M146.5 279.4h0M148.9 279.4h0M151.2 279.4h0M153.6 279.4h0M156.0 279.4h0M160.7 279.4h0M163.0 279.4h0M165.4 279.4h0M167.8 279.4h0M172.5 279.4h0M157.1 281.4h0M159.5 281.4h0M161.9 281.4h0M164.2 281.4h0M166.6 281.4h0M168.9 281.4h0M173.7 281.4h0M176.0 281.4h0M225.6 285.6h0M210.2 287.6h0M141.8 300.0h0M172.5 300.0h0M146.5 304.1h0M150.1 306.2h0M148.9 308.2h0M151.2 312.3h0" stroke="#841a2c" stroke-width="1.9" stroke-linecap="round" fill="none"/>
<path d="M210.2 192.9h0M185.5 194.9h0M224.4 197.0h0M176.0 199.0h0M202.0 199.0h0M225.6 199.0h0M177.2 201.1h0M181.9 201.1h0M185.5 203.2h0M206.7 203.2h0M181.9 205.2h0M200.8 205.2h0M243.3 205.2h0M152.4 207.3h0M178.4 211.4h0M185.5 211.4h0M211.4 211.4h0M146.5 213.5h0M191.4 213.5h0M215.0 213.5h0M226.8 213.5h0M240.9 213.5h0M206.7 215.5h0M213.8 215.5h0M167.8 217.6h0M164.2 219.6h0M209.1 219.6h0M252.7 221.7h0M166.6 223.8h0M173.7 223.8h0M183.1 223.8h0M209.1 223.8h0M232.7 223.8h0M191.4 225.8h0M270.4 227.9h0M272.8 227.9h0M141.8 229.9h0M210.2 229.9h0M215.0 229.9h0M161.9 232.0h0M244.5 232.0h0M261.0 232.0h0M184.3 234.1h0M154.8 236.1h0M242.1 236.1h0M244.5 236.1h0M177.2 238.2h0M259.8 238.2h0M164.2 240.2h0M190.2 240.2h0M270.4 240.2h0M275.1 240.2h0M158.3 242.3h0M189.0 242.3h0M200.8 242.3h0M259.8 242.3h0M269.2 242.3h0M185.5 244.4h0M227.9 244.4h0M172.5 246.4h0M198.4 246.4h0M190.2 248.5h0M235.0 248.5h0M240.9 250.5h0M255.1 250.5h0M135.9 252.6h0M159.5 252.6h0M178.4 252.6h0M190.2 252.6h0M232.7 252.6h0M242.1 252.6h0M272.8 252.6h0M196.1 254.7h0M271.6 254.7h0M133.5 256.7h0M173.7 256.7h0M204.3 256.7h0M200.8 258.8h0M210.2 258.8h0M250.4 258.8h0M161.9 260.8h0M239.7 260.8h0M144.2 262.9h0M177.2 262.9h0M191.4 262.9h0M237.4 265.0h0M215.0 267.0h0M262.2 267.0h0M171.3 269.1h0M204.3 269.1h0M232.7 269.1h0M251.5 269.1h0M132.4 271.1h0M219.7 271.1h0M173.7 273.2h0M178.4 273.2h0M185.5 273.2h0M193.7 275.3h0M215.0 275.3h0M264.5 275.3h0M176.0 277.3h0M265.7 277.3h0M158.3 279.4h0M257.4 279.4h0M178.4 281.4h0M183.1 281.4h0M212.6 283.5h0M150.1 285.6h0M230.3 285.6h0M159.5 289.7h0M180.7 289.7h0M183.1 289.7h0M218.5 289.7h0M153.6 291.7h0M156.0 291.7h0M158.3 291.7h0M196.1 291.7h0M215.0 291.7h0M140.6 293.8h0M152.4 293.8h0M154.8 293.8h0M157.1 293.8h0M159.5 293.8h0M148.9 295.9h0M151.2 295.9h0M153.6 295.9h0M156.0 295.9h0M158.3 295.9h0M170.1 295.9h0M147.7 297.9h0M150.1 297.9h0M152.4 297.9h0M154.8 297.9h0M157.1 297.9h0M159.5 297.9h0M151.2 300.0h0M156.0 300.0h0M160.7 300.0h0M177.2 300.0h0M154.8 302.0h0M157.1 302.0h0M159.5 302.0h0M190.2 302.0h0M151.2 304.1h0M153.6 304.1h0M156.0 304.1h0M158.3 304.1h0M160.7 304.1h0M168.9 306.2h0M151.2 308.2h0M161.9 310.3h0M164.2 310.3h0M160.7 312.3h0M140.6 314.4h0M147.7 314.4h0M156.0 316.5h0M154.8 318.5h0M134.7 320.6h0M141.8 320.6h0M146.5 324.7h0M138.3 326.8h0" stroke="#e8a032" stroke-width="1.9" stroke-linecap="round" fill="none"/>
<path d="M212.6 192.9h0M243.3 201.1h0M242.1 203.2h0M177.2 205.2h0M179.6 205.2h0M176.0 207.3h0M178.4 207.3h0M180.7 207.3h0M183.1 207.3h0M242.1 207.3h0M244.5 207.3h0M177.2 209.3h0M179.6 209.3h0M181.9 209.3h0M240.9 209.3h0M243.3 209.3h0M245.6 209.3h0M180.7 211.4h0M183.1 211.4h0M242.1 211.4h0M244.5 211.4h0M177.2 213.5h0M179.6 213.5h0M181.9 213.5h0M184.3 213.5h0M243.3 213.5h0M245.6 213.5h0M178.4 215.5h0M180.7 215.5h0M183.1 215.5h0M185.5 215.5h0M187.8 215.5h0M192.5 215.5h0M227.9 215.5h0M239.7 215.5h0M242.1 215.5h0M244.5 215.5h0M246.8 215.5h0M160.7 217.6h0M163.0 217.6h0M165.4 217.6h0M179.6 217.6h0M184.3 217.6h0M215.0 217.6h0M238.6 217.6h0M240.9 217.6h0M243.3 217.6h0M245.6 217.6h0M248.0 217.6h0M152.4 219.6h0M159.5 219.6h0M161.9 219.6h0M166.6 219.6h0M180.7 219.6h0M183.1 219.6h0M185.5 219.6h0M237.4 219.6h0M239.7 219.6h0M242.1 219.6h0M244.5 219.6h0M246.8 219.6h0M249.2 219.6h0M160.7 221.7h0M163.0 221.7h0M165.4 221.7h0M179.6 221.7h0M181.9 221.7h0M184.3 221.7h0M186.6 221.7h0M236.2 221.7h0M238.6 221.7h0M240.9 221.7h0M243.3 221.7h0M245.6 221.7h0M248.0 221.7h0M161.9 223.8h0M164.2 223.8h0M180.7 223.8h0M185.5 223.8h0M187.8 223.8h0M237.4 223.8h0M239.7 223.8h0M242.1 223.8h0M244.5 223.8h0M246.8 223.8h0M249.2 223.8h0M163.0 225.8h0M167.8 225.8h0M174.8 225.8h0M181.9 225.8h0M184.3 225.8h0M186.6 225.8h0M189.0 225.8h0M236.2 225.8h0M238.6 225.8h0M240.9 225.8h0M243.3 225.8h0M245.6 225.8h0M161.9 227.9h0M164.2 227.9h0M166.6 227.9h0M180.7 227.9h0M183.1 227.9h0M185.5 227.9h0M187.8 227.9h0M237.4 227.9h0M239.7 227.9h0M242.1 227.9h0M160.7 229.9h0M163.0 229.9h0M165.4 229.9h0M167.8 229.9h0M181.9 229.9h0M184.3 229.9h0M186.6 229.9h0M189.0 229.9h0M200.8 229.9h0M164.2 232.0h0M166.6 232.0h0M168.9 232.0h0M183.1 232.0h0M185.5 232.0h0M187.8 232.0h0M190.2 232.0h0M163.0 234.1h0M165.4 234.1h0M167.8 234.1h0M186.6 234.1h0M189.0 234.1h0M191.4 234.1h0M161.9 236.1h0M164.2 236.1h0M166.6 236.1h0M168.9 236.1h0M183.1 236.1h0M185.5 236.1h0M187.8 236.1h0M190.2 236.1h0M251.5 236.1h0M184.3 238.2h0M186.6 238.2h0M189.0 238.2h0M191.4 238.2h0M185.5 240.2h0M187.8 240.2h0M192.5 240.2h0M184.3 242.3h0M186.6 242.3h0M191.4 242.3h0M187.8 244.4h0M190.2 244.4h0M192.5 244.4h0M194.9 244.4h0M186.6 246.4h0M189.0 246.4h0M191.4 246.4h0M193.7 246.4h0M276.3 246.4h0M187.8 248.5h0M192.5 248.5h0M186.6 250.5h0M189.0 250.5h0M191.4 250.5h0M192.5 252.6h0M237.4 252.6h0M239.7 256.7h0M276.3 258.8h0M154.8 260.8h0M216.1 260.8h0M178.4 265.0h0M144.2 267.0h0M184.3 267.0h0M140.6 273.2h0M153.6 275.3h0M229.1 275.3h0M220.9 277.3h0M186.6 279.4h0M147.7 281.4h0M150.1 281.4h0M151.2 291.7h0M226.8 291.7h0M153.6 300.0h0M152.4 302.0h0M154.8 310.3h0" stroke="#b4c4d6" stroke-width="1.9" stroke-linecap="round" fill="none"/>
<path d="M171.3 194.9h0M173.7 194.9h0M176.0 194.9h0M178.4 194.9h0M167.8 197.0h0M170.1 197.0h0M172.5 197.0h0M174.8 197.0h0M179.6 197.0h0M205.5 197.0h0M166.6 199.0h0M168.9 199.0h0M171.3 199.0h0M173.7 199.0h0M178.4 199.0h0M180.7 199.0h0M165.4 201.1h0M167.8 201.1h0M170.1 201.1h0M172.5 201.1h0M179.6 201.1h0M161.9 203.2h0M164.2 203.2h0M166.6 203.2h0M171.3 203.2h0M176.0 203.2h0M183.1 203.2h0M216.1 203.2h0M151.2 205.2h0M153.6 205.2h0M156.0 205.2h0M158.3 205.2h0M163.0 205.2h0M165.4 205.2h0M170.1 205.2h0M172.5 205.2h0M174.8 205.2h0M184.3 205.2h0M205.5 205.2h0M147.7 207.3h0M150.1 207.3h0M157.1 207.3h0M159.5 207.3h0M161.9 207.3h0M164.2 207.3h0M166.6 207.3h0M168.9 207.3h0M171.3 207.3h0M173.7 207.3h0M185.5 207.3h0M144.2 209.3h0M146.5 209.3h0M148.9 209.3h0M151.2 209.3h0M153.6 209.3h0M156.0 209.3h0M158.3 209.3h0M160.7 209.3h0M163.0 209.3h0M165.4 209.3h0M167.8 209.3h0M170.1 209.3h0M172.5 209.3h0M174.8 209.3h0M184.3 209.3h0M143.0 211.4h0M145.3 211.4h0M152.4 211.4h0M154.8 211.4h0M159.5 211.4h0M161.9 211.4h0M166.6 211.4h0M168.9 211.4h0M173.7 211.4h0M176.0 211.4h0M151.2 213.5h0M153.6 213.5h0M156.0 213.5h0M158.3 213.5h0M160.7 213.5h0M163.0 213.5h0M165.4 213.5h0M167.8 213.5h0M170.1 213.5h0M172.5 213.5h0M174.8 213.5h0M186.6 213.5h0M152.4 215.5h0M154.8 215.5h0M157.1 215.5h0M159.5 215.5h0M161.9 215.5h0M164.2 215.5h0M166.6 215.5h0M168.9 215.5h0M171.3 215.5h0M173.7 215.5h0M176.0 215.5h0M153.6 217.6h0M156.0 217.6h0M158.3 217.6h0M172.5 217.6h0M174.8 217.6h0M177.2 217.6h0M186.6 217.6h0M154.8 219.6h0M157.1 219.6h0M168.9 219.6h0M171.3 219.6h0M173.7 219.6h0M176.0 219.6h0M178.4 219.6h0M187.8 219.6h0M153.6 221.7h0M156.0 221.7h0M158.3 221.7h0M167.8 221.7h0M170.1 221.7h0M172.5 221.7h0M174.8 221.7h0M177.2 221.7h0M189.0 221.7h0M191.4 221.7h0M152.4 223.8h0M154.8 223.8h0M157.1 223.8h0M168.9 223.8h0M171.3 223.8h0M176.0 223.8h0M178.4 223.8h0M190.2 223.8h0M151.2 225.8h0M153.6 225.8h0M156.0 225.8h0M158.3 225.8h0M165.4 225.8h0M170.1 225.8h0M172.5 225.8h0M177.2 225.8h0M179.6 225.8h0M198.4 225.8h0M248.0 225.8h0M150.1 227.9h0M152.4 227.9h0M154.8 227.9h0M157.1 227.9h0M159.5 227.9h0M171.3 227.9h0M173.7 227.9h0M176.0 227.9h0M178.4 227.9h0M190.2 227.9h0M148.9 229.9h0M151.2 229.9h0M156.0 229.9h0M158.3 229.9h0M170.1 229.9h0M172.5 229.9h0M174.8 229.9h0M177.2 229.9h0M179.6 229.9h0M191.4 229.9h0M262.2 229.9h0M143.0 232.0h0M145.3 232.0h0M147.7 232.0h0M150.1 232.0h0M152.4 232.0h0M157.1 232.0h0M159.5 232.0h0M173.7 232.0h0M176.0 232.0h0M178.4 232.0h0M180.7 232.0h0M242.1 232.0h0M141.8 234.1h0M144.2 234.1h0M146.5 234.1h0M148.9 234.1h0M151.2 234.1h0M153.6 234.1h0M156.0 234.1h0M158.3 234.1h0M160.7 234.1h0M170.1 234.1h0M172.5 234.1h0M174.8 234.1h0M177.2 234.1h0M179.6 234.1h0M181.9 234.1h0M193.7 234.1h0M143.0 236.1h0M145.3 236.1h0M147.7 236.1h0M150.1 236.1h0M152.4 236.1h0M157.1 236.1h0M159.5 236.1h0M171.3 236.1h0M173.7 236.1h0M178.4 236.1h0M180.7 236.1h0M192.5 236.1h0M141.8 238.2h0M144.2 238.2h0M146.5 238.2h0M148.9 238.2h0M151.2 238.2h0M153.6 238.2h0M156.0 238.2h0M158.3 238.2h0M160.7 238.2h0M163.0 238.2h0M165.4 238.2h0M167.8 238.2h0M170.1 238.2h0M172.5 238.2h0M174.8 238.2h0M179.6 238.2h0M181.9 238.2h0M193.7 238.2h0M140.6 240.2h0M143.0 240.2h0M145.3 240.2h0M147.7 240.2h0M150.1 240.2h0M152.4 240.2h0M154.8 240.2h0M157.1 240.2h0M159.5 240.2h0M161.9 240.2h0M166.6 240.2h0M168.9 240.2h0M171.3 240.2h0M173.7 240.2h0M176.0 240.2h0M178.4 240.2h0M180.7 240.2h0M183.1 240.2h0M194.9 240.2h0M139.4 242.3h0M141.8 242.3h0M144.2 242.3h0M146.5 242.3h0M148.9 242.3h0M151.2 242.3h0M153.6 242.3h0M156.0 242.3h0M160.7 242.3h0M163.0 242.3h0M165.4 242.3h0M167.8 242.3h0M170.1 242.3h0M172.5 242.3h0M174.8 242.3h0M177.2 242.3h0M179.6 242.3h0M181.9 242.3h0M193.7 242.3h0M240.9 242.3h0M245.6 242.3h0M138.3 244.4h0M140.6 244.4h0M143.0 244.4h0M145.3 244.4h0M147.7 244.4h0M150.1 244.4h0M152.4 244.4h0M154.8 244.4h0M157.1 244.4h0M161.9 244.4h0M164.2 244.4h0M166.6 244.4h0M168.9 244.4h0M171.3 244.4h0M173.7 244.4h0M176.0 244.4h0M178.4 244.4h0M183.1 244.4h0M139.4 246.4h0M141.8 246.4h0M144.2 246.4h0M146.5 246.4h0M148.9 246.4h0M151.2 246.4h0M153.6 246.4h0M158.3 246.4h0M160.7 246.4h0M163.0 246.4h0M165.4 246.4h0M170.1 246.4h0M174.8 246.4h0M177.2 246.4h0M181.9 246.4h0M184.3 246.4h0M140.6 248.5h0M143.0 248.5h0M145.3 248.5h0M147.7 248.5h0M150.1 248.5h0M152.4 248.5h0M154.8 248.5h0M157.1 248.5h0M159.5 248.5h0M161.9 248.5h0M164.2 248.5h0M166.6 248.5h0M168.9 248.5h0M171.3 248.5h0M173.7 248.5h0M176.0 248.5h0M178.4 248.5h0M180.7 248.5h0M183.1 248.5h0M194.9 248.5h0M197.3 248.5h0M141.8 250.5h0M144.2 250.5h0M146.5 250.5h0M148.9 250.5h0M151.2 250.5h0M153.6 250.5h0M156.0 250.5h0M158.3 250.5h0M160.7 250.5h0M163.0 250.5h0M165.4 250.5h0M167.8 250.5h0M170.1 250.5h0M172.5 250.5h0M174.8 250.5h0M177.2 250.5h0M179.6 250.5h0M184.3 250.5h0M193.7 250.5h0M196.1 250.5h0M198.4 250.5h0M152.4 252.6h0M154.8 252.6h0M157.1 252.6h0M161.9 252.6h0M164.2 252.6h0M166.6 252.6h0M171.3 252.6h0M173.7 252.6h0M176.0 252.6h0M180.7 252.6h0M183.1 252.6h0M185.5 252.6h0M187.8 252.6h0M165.4 254.7h0M167.8 254.7h0M170.1 254.7h0M172.5 254.7h0M174.8 254.7h0M177.2 254.7h0M263.3 256.7h0M225.6 260.8h0M156.0 262.9h0M135.9 265.0h0M278.7 267.0h0M200.8 283.5h0M173.7 285.6h0M137.1 291.7h0M150.1 293.8h0M198.4 300.0h0M154.8 306.2h0" stroke="#4e9bd2" stroke-width="1.9" stroke-linecap="round" fill="none"/>
<path d="M177.2 197.0h0M168.9 203.2h0M167.8 205.2h0M154.8 207.3h0M164.2 211.4h0M192.5 211.4h0M235.0 215.5h0M190.2 219.6h0M216.1 223.8h0M233.8 225.8h0M171.3 232.0h0M192.5 232.0h0M264.5 234.1h0M271.6 234.1h0M213.8 236.1h0M225.6 236.1h0M212.6 238.2h0M215.0 238.2h0M217.3 238.2h0M211.4 240.2h0M213.8 240.2h0M216.1 240.2h0M218.5 240.2h0M220.9 240.2h0M210.2 242.3h0M212.6 242.3h0M215.0 242.3h0M217.3 242.3h0M219.7 242.3h0M209.1 244.4h0M211.4 244.4h0M213.8 244.4h0M216.1 244.4h0M218.5 244.4h0M220.9 244.4h0M223.2 244.4h0M237.4 244.4h0M207.9 246.4h0M210.2 246.4h0M212.6 246.4h0M215.0 246.4h0M217.3 246.4h0M219.7 246.4h0M236.2 246.4h0M206.7 248.5h0M209.1 248.5h0M211.4 248.5h0M213.8 248.5h0M216.1 248.5h0M218.5 248.5h0M220.9 248.5h0M270.4 248.5h0M207.9 250.5h0M210.2 250.5h0M212.6 250.5h0M215.0 250.5h0M217.3 250.5h0M219.7 250.5h0M245.6 250.5h0M209.1 252.6h0M211.4 252.6h0M213.8 252.6h0M218.5 252.6h0M235.0 252.6h0M210.2 254.7h0M212.6 254.7h0M215.0 254.7h0M217.3 254.7h0M219.7 254.7h0M206.7 256.7h0M209.1 256.7h0M213.8 256.7h0M216.1 256.7h0M218.5 256.7h0M220.9 256.7h0M223.2 256.7h0M198.4 258.8h0M203.2 258.8h0M205.5 258.8h0M207.9 258.8h0M212.6 258.8h0M215.0 258.8h0M217.3 258.8h0M219.7 258.8h0M222.0 258.8h0M224.4 258.8h0M226.8 258.8h0M229.1 258.8h0M231.5 258.8h0M233.8 258.8h0M236.2 258.8h0M240.9 258.8h0M197.3 260.8h0M202.0 260.8h0M204.3 260.8h0M206.7 260.8h0M209.1 260.8h0M211.4 260.8h0M213.8 260.8h0M218.5 260.8h0M220.9 260.8h0M223.2 260.8h0M227.9 260.8h0M230.3 260.8h0M232.7 260.8h0M235.0 260.8h0M237.4 260.8h0M184.3 262.9h0M200.8 262.9h0M205.5 262.9h0M207.9 262.9h0M210.2 262.9h0M212.6 262.9h0M215.0 262.9h0M217.3 262.9h0M219.7 262.9h0M222.0 262.9h0M224.4 262.9h0M226.8 262.9h0M229.1 262.9h0M231.5 262.9h0M233.8 262.9h0M236.2 262.9h0M238.6 262.9h0M164.2 265.0h0M204.3 265.0h0M206.7 265.0h0M209.1 265.0h0M211.4 265.0h0M213.8 265.0h0M218.5 265.0h0M220.9 265.0h0M223.2 265.0h0M225.6 265.0h0M227.9 265.0h0M230.3 265.0h0M235.0 265.0h0M177.2 267.0h0M200.8 267.0h0M203.2 267.0h0M205.5 267.0h0M207.9 267.0h0M210.2 267.0h0M212.6 267.0h0M217.3 267.0h0M219.7 267.0h0M222.0 267.0h0M224.4 267.0h0M226.8 267.0h0M229.1 267.0h0M157.1 269.1h0M206.7 269.1h0M209.1 269.1h0M211.4 269.1h0M213.8 269.1h0M216.1 269.1h0M218.5 269.1h0M220.9 269.1h0M212.6 271.1h0M215.0 271.1h0M217.3 271.1h0M213.8 273.2h0M216.1 273.2h0M218.5 273.2h0M220.9 273.2h0M212.6 275.3h0M217.3 275.3h0M219.7 275.3h0M187.8 277.3h0M211.4 277.3h0M213.8 277.3h0M216.1 277.3h0M218.5 277.3h0M256.3 277.3h0M212.6 279.4h0M217.3 279.4h0M211.4 281.4h0M213.8 281.4h0M216.1 281.4h0M218.5 281.4h0M220.9 281.4h0M215.0 283.5h0M217.3 283.5h0M219.7 283.5h0M211.4 285.6h0M213.8 285.6h0M216.1 285.6h0M218.5 285.6h0M212.6 287.6h0M215.0 287.6h0M217.3 287.6h0M219.7 287.6h0M211.4 289.7h0M213.8 289.7h0M216.1 289.7h0M163.0 291.7h0M165.4 291.7h0M210.2 291.7h0M212.6 291.7h0M217.3 291.7h0M219.7 291.7h0M206.7 293.8h0M158.3 300.0h0M148.9 304.1h0" stroke="#2c9a30" stroke-width="1.9" stroke-linecap="round" fill="none"/>
<path d="M174.8 201.1h0M159.5 203.2h0M227.9 211.4h0M259.8 221.7h0M262.2 221.7h0M264.5 221.7h0M211.4 223.8h0M251.5 223.8h0M253.9 223.8h0M256.3 223.8h0M258.6 223.8h0M261.0 223.8h0M263.3 223.8h0M265.7 223.8h0M268.1 223.8h0M250.4 225.8h0M252.7 225.8h0M259.8 225.8h0M262.2 225.8h0M264.5 225.8h0M266.9 225.8h0M269.2 225.8h0M251.5 227.9h0M253.9 227.9h0M256.3 227.9h0M258.6 227.9h0M261.0 227.9h0M263.3 227.9h0M265.7 227.9h0M268.1 227.9h0M252.7 229.9h0M255.1 229.9h0M257.4 229.9h0M264.5 229.9h0M266.9 229.9h0M269.2 229.9h0M271.6 229.9h0M274.0 229.9h0M251.5 232.0h0M253.9 232.0h0M256.3 232.0h0M258.6 232.0h0M263.3 232.0h0M265.7 232.0h0M268.1 232.0h0M270.4 232.0h0M272.8 232.0h0M275.1 232.0h0M252.7 234.1h0M255.1 234.1h0M257.4 234.1h0M259.8 234.1h0M262.2 234.1h0M266.9 234.1h0M269.2 234.1h0M274.0 234.1h0M276.3 234.1h0M253.9 236.1h0M256.3 236.1h0M258.6 236.1h0M261.0 236.1h0M263.3 236.1h0M265.7 236.1h0M268.1 236.1h0M270.4 236.1h0M272.8 236.1h0M275.1 236.1h0M277.5 236.1h0M252.7 238.2h0M255.1 238.2h0M257.4 238.2h0M262.2 238.2h0M264.5 238.2h0M266.9 238.2h0M269.2 238.2h0M271.6 238.2h0M274.0 238.2h0M276.3 238.2h0M253.9 240.2h0M256.3 240.2h0M258.6 240.2h0M261.0 240.2h0M263.3 240.2h0M265.7 240.2h0M268.1 240.2h0M272.8 240.2h0M277.5 240.2h0M252.7 242.3h0M255.1 242.3h0M257.4 242.3h0M262.2 242.3h0M264.5 242.3h0M266.9 242.3h0M271.6 242.3h0M274.0 242.3h0M278.7 242.3h0M253.9 244.4h0M256.3 244.4h0M258.6 244.4h0M261.0 244.4h0M263.3 244.4h0M265.7 244.4h0M268.1 244.4h0M270.4 244.4h0M272.8 244.4h0M275.1 244.4h0M277.5 244.4h0M179.6 246.4h0M248.0 246.4h0M252.7 246.4h0M255.1 246.4h0M257.4 246.4h0M259.8 246.4h0M262.2 246.4h0M264.5 246.4h0M266.9 246.4h0M269.2 246.4h0M271.6 246.4h0M274.0 246.4h0M278.7 246.4h0M204.3 248.5h0M253.9 248.5h0M256.3 248.5h0M258.6 248.5h0M261.0 248.5h0M263.3 248.5h0M265.7 248.5h0M268.1 248.5h0M272.8 248.5h0M275.1 248.5h0M277.5 248.5h0M181.9 250.5h0M200.8 250.5h0M203.2 250.5h0M257.4 250.5h0M259.8 250.5h0M262.2 250.5h0M264.5 250.5h0M266.9 250.5h0M269.2 250.5h0M271.6 250.5h0M274.0 250.5h0M276.3 250.5h0M278.7 250.5h0M150.1 252.6h0M194.9 252.6h0M197.3 252.6h0M199.6 252.6h0M204.3 252.6h0M258.6 252.6h0M261.0 252.6h0M263.3 252.6h0M265.7 252.6h0M268.1 252.6h0M275.1 252.6h0M277.5 252.6h0M148.9 254.7h0M151.2 254.7h0M153.6 254.7h0M156.0 254.7h0M158.3 254.7h0M160.7 254.7h0M163.0 254.7h0M181.9 254.7h0M184.3 254.7h0M186.6 254.7h0M189.0 254.7h0M191.4 254.7h0M193.7 254.7h0M198.4 254.7h0M200.8 254.7h0M203.2 254.7h0M262.2 254.7h0M264.5 254.7h0M266.9 254.7h0M269.2 254.7h0M274.0 254.7h0M276.3 254.7h0M278.7 254.7h0M154.8 256.7h0M183.1 256.7h0M190.2 256.7h0M192.5 256.7h0M194.9 256.7h0M197.3 256.7h0M199.6 256.7h0M202.0 256.7h0M225.6 256.7h0M265.7 256.7h0M268.1 256.7h0M270.4 256.7h0M272.8 256.7h0M275.1 256.7h0M277.5 256.7h0M158.3 258.8h0M172.5 258.8h0M266.9 258.8h0M269.2 258.8h0M271.6 258.8h0M274.0 258.8h0M278.7 258.8h0M150.1 260.8h0M152.4 260.8h0M157.1 260.8h0M159.5 260.8h0M164.2 260.8h0M166.6 260.8h0M171.3 260.8h0M173.7 260.8h0M176.0 260.8h0M178.4 260.8h0M180.7 260.8h0M268.1 260.8h0M270.4 260.8h0M272.8 260.8h0M275.1 260.8h0M146.5 262.9h0M148.9 262.9h0M151.2 262.9h0M158.3 262.9h0M160.7 262.9h0M163.0 262.9h0M165.4 262.9h0M167.8 262.9h0M189.0 262.9h0M266.9 262.9h0M269.2 262.9h0M271.6 262.9h0M274.0 262.9h0M276.3 262.9h0M278.7 262.9h0M143.0 265.0h0M145.3 265.0h0M147.7 265.0h0M150.1 265.0h0M152.4 265.0h0M154.8 265.0h0M202.0 265.0h0M265.7 265.0h0M268.1 265.0h0M270.4 265.0h0M272.8 265.0h0M275.1 265.0h0M277.5 265.0h0M139.4 267.0h0M146.5 267.0h0M148.9 267.0h0M264.5 267.0h0M266.9 267.0h0M269.2 267.0h0M271.6 267.0h0M274.0 267.0h0M276.3 267.0h0M131.2 269.1h0M133.5 269.1h0M145.3 269.1h0M147.7 269.1h0M150.1 269.1h0M202.0 269.1h0M258.6 269.1h0M261.0 269.1h0M263.3 269.1h0M265.7 269.1h0M268.1 269.1h0M270.4 269.1h0M272.8 269.1h0M275.1 269.1h0M277.5 269.1h0M148.9 271.1h0M151.2 271.1h0M203.2 271.1h0M205.5 271.1h0M236.2 271.1h0M262.2 271.1h0M264.5 271.1h0M266.9 271.1h0M269.2 271.1h0M271.6 271.1h0M274.0 271.1h0M276.3 271.1h0M278.7 271.1h0M147.7 273.2h0M150.1 273.2h0M166.6 273.2h0M202.0 273.2h0M204.3 273.2h0M258.6 273.2h0M261.0 273.2h0M263.3 273.2h0M265.7 273.2h0M268.1 273.2h0M270.4 273.2h0M272.8 273.2h0M275.1 273.2h0M277.5 273.2h0M146.5 275.3h0M148.9 275.3h0M151.2 275.3h0M203.2 275.3h0M205.5 275.3h0M259.8 275.3h0M262.2 275.3h0M266.9 275.3h0M269.2 275.3h0M271.6 275.3h0M274.0 275.3h0M276.3 275.3h0M152.4 277.3h0M204.3 277.3h0M263.3 277.3h0M268.1 277.3h0M270.4 277.3h0M236.2 279.4h0M262.2 279.4h0M264.5 279.4h0M145.3 281.4h0M152.4 281.4h0M204.3 281.4h0M144.2 283.5h0M146.5 283.5h0M148.9 283.5h0M151.2 283.5h0M153.6 283.5h0M158.3 283.5h0M131.2 285.6h0M140.6 285.6h0M143.0 285.6h0M145.3 285.6h0M147.7 285.6h0M152.4 285.6h0M154.8 285.6h0M157.1 285.6h0M159.5 285.6h0M161.9 285.6h0M164.2 285.6h0M166.6 285.6h0M246.8 285.6h0M132.4 287.6h0M141.8 287.6h0M144.2 287.6h0M146.5 287.6h0M148.9 287.6h0M151.2 287.6h0M153.6 287.6h0M156.0 287.6h0M158.3 287.6h0M160.7 287.6h0M163.0 287.6h0M165.4 287.6h0M167.8 287.6h0M170.1 287.6h0M172.5 287.6h0M174.8 287.6h0M177.2 287.6h0M179.6 287.6h0M198.4 287.6h0M200.8 287.6h0M203.2 287.6h0M222.0 287.6h0M131.2 289.7h0M140.6 289.7h0M143.0 289.7h0M145.3 289.7h0M147.7 289.7h0M150.1 289.7h0M152.4 289.7h0M154.8 289.7h0M157.1 289.7h0M161.9 289.7h0M166.6 289.7h0M168.9 289.7h0M171.3 289.7h0M173.7 289.7h0M176.0 289.7h0M178.4 289.7h0M185.5 289.7h0M187.8 289.7h0M190.2 289.7h0M192.5 289.7h0M194.9 289.7h0M197.3 289.7h0M199.6 289.7h0M202.0 289.7h0M206.7 289.7h0M132.4 291.7h0M139.4 291.7h0M141.8 291.7h0M144.2 291.7h0M146.5 291.7h0M148.9 291.7h0M160.7 291.7h0M167.8 291.7h0M170.1 291.7h0M172.5 291.7h0M174.8 291.7h0M177.2 291.7h0M179.6 291.7h0M181.9 291.7h0M184.3 291.7h0M186.6 291.7h0M189.0 291.7h0M191.4 291.7h0M193.7 291.7h0M198.4 291.7h0M200.8 291.7h0M138.3 293.8h0M143.0 293.8h0M145.3 293.8h0M147.7 293.8h0M161.9 293.8h0M164.2 293.8h0M166.6 293.8h0M168.9 293.8h0M171.3 293.8h0M173.7 293.8h0M176.0 293.8h0M178.4 293.8h0M180.7 293.8h0M183.1 293.8h0M185.5 293.8h0M187.8 293.8h0M190.2 293.8h0M192.5 293.8h0M194.9 293.8h0M197.3 293.8h0M199.6 293.8h0M132.4 295.9h0M139.4 295.9h0M141.8 295.9h0M144.2 295.9h0M146.5 295.9h0M160.7 295.9h0M163.0 295.9h0M165.4 295.9h0M167.8 295.9h0M172.5 295.9h0M174.8 295.9h0M177.2 295.9h0M179.6 295.9h0M181.9 295.9h0M184.3 295.9h0M186.6 295.9h0M189.0 295.9h0M191.4 295.9h0M193.7 295.9h0M196.1 295.9h0M198.4 295.9h0M200.8 295.9h0M133.5 297.9h0M135.9 297.9h0M138.3 297.9h0M140.6 297.9h0M143.0 297.9h0M145.3 297.9h0M161.9 297.9h0M164.2 297.9h0M166.6 297.9h0M168.9 297.9h0M171.3 297.9h0M173.7 297.9h0M176.0 297.9h0M178.4 297.9h0M180.7 297.9h0M183.1 297.9h0M185.5 297.9h0M187.8 297.9h0M190.2 297.9h0M192.5 297.9h0M194.9 297.9h0M197.3 297.9h0M199.6 297.9h0M134.7 300.0h0M137.1 300.0h0M139.4 300.0h0M144.2 300.0h0M146.5 300.0h0M148.9 300.0h0M163.0 300.0h0M165.4 300.0h0M167.8 300.0h0M170.1 300.0h0M174.8 300.0h0M179.6 300.0h0M181.9 300.0h0M184.3 300.0h0M186.6 300.0h0M189.0 300.0h0M191.4 300.0h0M193.7 300.0h0M196.1 300.0h0M135.9 302.0h0M138.3 302.0h0M143.0 302.0h0M145.3 302.0h0M147.7 302.0h0M150.1 302.0h0M161.9 302.0h0M164.2 302.0h0M166.6 302.0h0M168.9 302.0h0M171.3 302.0h0M173.7 302.0h0M176.0 302.0h0M178.4 302.0h0M180.7 302.0h0M183.1 302.0h0M185.5 302.0h0M187.8 302.0h0M192.5 302.0h0M194.9 302.0h0M197.3 302.0h0M199.6 302.0h0M139.4 304.1h0M141.8 304.1h0M144.2 304.1h0M165.4 304.1h0M167.8 304.1h0M170.1 304.1h0M172.5 304.1h0M174.8 304.1h0M177.2 304.1h0M179.6 304.1h0M181.9 304.1h0M184.3 304.1h0M186.6 304.1h0M189.0 304.1h0M166.6 306.2h0M146.5 308.2h0M150.1 318.5h0" stroke="#7fd6a8" stroke-width="1.9" stroke-linecap="round" fill="none"/>
<path d="M157.1 203.2h0M192.5 203.2h0M160.7 205.2h0M181.9 217.6h0M229.1 217.6h0M197.3 219.6h0M222.0 221.7h0M259.8 229.9h0M200.8 234.1h0M210.2 234.1h0M276.3 242.3h0M180.7 244.4h0M235.0 244.4h0M138.3 248.5h0M185.5 248.5h0M139.4 250.5h0M224.4 250.5h0M202.0 252.6h0M270.4 252.6h0M179.6 254.7h0M187.8 256.7h0M193.7 258.8h0M196.1 258.8h0M168.9 260.8h0M183.1 260.8h0M192.5 260.8h0M194.9 260.8h0M170.1 262.9h0M172.5 262.9h0M174.8 262.9h0M179.6 262.9h0M181.9 262.9h0M186.6 262.9h0M193.7 262.9h0M196.1 262.9h0M198.4 262.9h0M203.2 262.9h0M157.1 265.0h0M159.5 265.0h0M161.9 265.0h0M166.6 265.0h0M168.9 265.0h0M171.3 265.0h0M173.7 265.0h0M176.0 265.0h0M180.7 265.0h0M183.1 265.0h0M185.5 265.0h0M187.8 265.0h0M190.2 265.0h0M192.5 265.0h0M194.9 265.0h0M197.3 265.0h0M199.6 265.0h0M216.1 265.0h0M151.2 267.0h0M156.0 267.0h0M158.3 267.0h0M160.7 267.0h0M163.0 267.0h0M165.4 267.0h0M167.8 267.0h0M172.5 267.0h0M174.8 267.0h0M179.6 267.0h0M181.9 267.0h0M186.6 267.0h0M189.0 267.0h0M191.4 267.0h0M193.7 267.0h0M196.1 267.0h0M198.4 267.0h0M152.4 269.1h0M154.8 269.1h0M168.9 269.1h0M173.7 269.1h0M176.0 269.1h0M178.4 269.1h0M180.7 269.1h0M183.1 269.1h0M185.5 269.1h0M187.8 269.1h0M190.2 269.1h0M192.5 269.1h0M194.9 269.1h0M197.3 269.1h0M199.6 269.1h0M225.6 269.1h0M153.6 271.1h0M158.3 271.1h0M160.7 271.1h0M163.0 271.1h0M165.4 271.1h0M167.8 271.1h0M172.5 271.1h0M174.8 271.1h0M177.2 271.1h0M179.6 271.1h0M181.9 271.1h0M184.3 271.1h0M186.6 271.1h0M189.0 271.1h0M191.4 271.1h0M193.7 271.1h0M198.4 271.1h0M200.8 271.1h0M210.2 271.1h0M152.4 273.2h0M154.8 273.2h0M157.1 273.2h0M159.5 273.2h0M164.2 273.2h0M168.9 273.2h0M171.3 273.2h0M176.0 273.2h0M180.7 273.2h0M183.1 273.2h0M187.8 273.2h0M190.2 273.2h0M192.5 273.2h0M194.9 273.2h0M197.3 273.2h0M199.6 273.2h0M156.0 275.3h0M158.3 275.3h0M160.7 275.3h0M163.0 275.3h0M165.4 275.3h0M167.8 275.3h0M170.1 275.3h0M172.5 275.3h0M174.8 275.3h0M177.2 275.3h0M179.6 275.3h0M181.9 275.3h0M184.3 275.3h0M186.6 275.3h0M189.0 275.3h0M191.4 275.3h0M196.1 275.3h0M198.4 275.3h0M200.8 275.3h0M154.8 277.3h0M157.1 277.3h0M159.5 277.3h0M161.9 277.3h0M164.2 277.3h0M166.6 277.3h0M168.9 277.3h0M171.3 277.3h0M173.7 277.3h0M178.4 277.3h0M180.7 277.3h0M183.1 277.3h0M185.5 277.3h0M190.2 277.3h0M192.5 277.3h0M194.9 277.3h0M197.3 277.3h0M199.6 277.3h0M244.5 277.3h0M170.1 279.4h0M174.8 279.4h0M177.2 279.4h0M179.6 279.4h0M181.9 279.4h0M184.3 279.4h0M189.0 279.4h0M191.4 279.4h0M193.7 279.4h0M196.1 279.4h0M198.4 279.4h0M200.8 279.4h0M203.2 279.4h0M215.0 279.4h0M171.3 281.4h0M180.7 281.4h0M185.5 281.4h0M187.8 281.4h0M190.2 281.4h0M192.5 281.4h0M194.9 281.4h0M197.3 281.4h0M199.6 281.4h0M202.0 281.4h0M156.0 283.5h0M160.7 283.5h0M163.0 283.5h0M165.4 283.5h0M170.1 283.5h0M172.5 283.5h0M174.8 283.5h0M177.2 283.5h0M179.6 283.5h0M181.9 283.5h0M184.3 283.5h0M186.6 283.5h0M189.0 283.5h0M193.7 283.5h0M196.1 283.5h0M198.4 283.5h0M203.2 283.5h0M168.9 285.6h0M171.3 285.6h0M176.0 285.6h0M178.4 285.6h0M180.7 285.6h0M183.1 285.6h0M185.5 285.6h0M187.8 285.6h0M190.2 285.6h0M192.5 285.6h0M194.9 285.6h0M197.3 285.6h0M199.6 285.6h0M202.0 285.6h0M139.4 287.6h0M181.9 287.6h0M184.3 287.6h0M186.6 287.6h0M189.0 287.6h0M191.4 287.6h0M193.7 287.6h0M196.1 287.6h0M164.2 289.7h0M223.2 289.7h0" stroke="#6552b8" stroke-width="1.9" stroke-linecap="round" fill="none"/>
<path d="M253.9 252.6h0M256.3 252.6h0M240.9 254.7h0M243.3 254.7h0M245.6 254.7h0M248.0 254.7h0M250.4 254.7h0M252.7 254.7h0M255.1 254.7h0M257.4 254.7h0M259.8 254.7h0M242.1 256.7h0M244.5 256.7h0M246.8 256.7h0M251.5 256.7h0M253.9 256.7h0M256.3 256.7h0M258.6 256.7h0M261.0 256.7h0M245.6 258.8h0M248.0 258.8h0M257.4 258.8h0M259.8 258.8h0M262.2 258.8h0M264.5 258.8h0M244.5 260.8h0M246.8 260.8h0M249.2 260.8h0M251.5 260.8h0M263.3 260.8h0M265.7 260.8h0M243.3 262.9h0M245.6 262.9h0M248.0 262.9h0M250.4 262.9h0M252.7 262.9h0M255.1 262.9h0M257.4 262.9h0M264.5 262.9h0M244.5 265.0h0M246.8 265.0h0M249.2 265.0h0M251.5 265.0h0M253.9 265.0h0M256.3 265.0h0M258.6 265.0h0M261.0 265.0h0M263.3 265.0h0M248.0 267.0h0M250.4 267.0h0M252.7 267.0h0M255.1 267.0h0M257.4 267.0h0M259.8 267.0h0M253.9 269.1h0M256.3 269.1h0" stroke="#8a5a92" stroke-width="1.9" stroke-linecap="round" fill="none"/>
<path d="M220,300 C228,298 236,300 242,296" stroke="#9aa0d8" stroke-width="0.5" fill="none" opacity="0.6"/>
<circle cx="126.6" cy="176.0" r="0.5" fill="#ccc"/>
<circle cx="126.6" cy="179.8" r="0.5" fill="#ccc"/>
<circle cx="126.6" cy="183.6" r="0.5" fill="#ccc"/>
<circle cx="126.6" cy="187.4" r="0.5" fill="#ccc"/>
<circle cx="126.6" cy="191.2" r="0.5" fill="#ccc"/>
<circle cx="126.6" cy="195.0" r="0.5" fill="#ccc"/>
<circle cx="126.6" cy="198.8" r="0.5" fill="#ccc"/>
<circle cx="126.6" cy="202.6" r="0.5" fill="#ccc"/>
<circle cx="126.6" cy="206.4" r="0.5" fill="#ccc"/>
<circle cx="126.6" cy="210.2" r="0.5" fill="#ccc"/>
<circle cx="126.6" cy="214.0" r="0.5" fill="#ccc"/>
<circle cx="126.6" cy="217.8" r="0.5" fill="#ccc"/>
<circle cx="126.6" cy="221.6" r="0.5" fill="#ccc"/>
<circle cx="126.6" cy="225.4" r="0.5" fill="#ccc"/>
<circle cx="126.6" cy="229.2" r="0.5" fill="#ccc"/>
<circle cx="126.6" cy="233.0" r="0.5" fill="#ccc"/>
<circle cx="126.6" cy="236.8" r="0.5" fill="#ccc"/>
<circle cx="126.6" cy="240.6" r="0.5" fill="#ccc"/>
<circle cx="126.6" cy="244.4" r="0.5" fill="#ccc"/>
<circle cx="126.6" cy="248.2" r="0.5" fill="#ccc"/>
<circle cx="126.6" cy="252.0" r="0.5" fill="#ccc"/>
<circle cx="126.6" cy="255.8" r="0.5" fill="#ccc"/>
<circle cx="126.6" cy="259.6" r="0.5" fill="#ccc"/>
<circle cx="126.6" cy="263.4" r="0.5" fill="#ccc"/>
<circle cx="126.6" cy="267.2" r="0.5" fill="#ccc"/>
<circle cx="126.6" cy="271.0" r="0.5" fill="#ccc"/>
<circle cx="126.6" cy="274.8" r="0.5" fill="#ccc"/>
<circle cx="126.6" cy="278.6" r="0.5" fill="#ccc"/>
<circle cx="126.6" cy="282.4" r="0.5" fill="#ccc"/>
<circle cx="126.6" cy="286.2" r="0.5" fill="#ccc"/>
<circle cx="126.6" cy="290.0" r="0.5" fill="#ccc"/>
<circle cx="126.6" cy="293.8" r="0.5" fill="#ccc"/>
<circle cx="126.6" cy="297.6" r="0.5" fill="#ccc"/>
<circle cx="126.6" cy="301.4" r="0.5" fill="#ccc"/>
<circle cx="126.6" cy="305.2" r="0.5" fill="#ccc"/>
<circle cx="126.6" cy="309.0" r="0.5" fill="#ccc"/>
<circle cx="126.6" cy="312.8" r="0.5" fill="#ccc"/>
<circle cx="126.6" cy="316.6" r="0.5" fill="#ccc"/>
<circle cx="126.6" cy="320.4" r="0.5" fill="#ccc"/>
<circle cx="126.6" cy="324.2" r="0.5" fill="#ccc"/>
<g transform="translate(312.4,215.4) rotate(-45)" fill="none" stroke="#ffffff" stroke-width="1.9" stroke-linecap="round"><path d="M-1.6,-2.7 L-5.2,-2.7 A2.7,2.7 0 0 0 -5.2,2.7 L-1.6,2.7 M1.6,-2.7 L5.2,-2.7 A2.7,2.7 0 0 1 5.2,2.7 L1.6,2.7 M-2.6,0 L2.6,0"/></g>
<text x="312.2" y="237.2" font-size="7.6" fill="#1c1c1c" font-weight="bold" text-anchor="middle" textLength="29.6" lengthAdjust="spacingAndGlyphs">Contact</text>
<text x="312.2" y="246.2" font-size="7.6" fill="#1c1c1c" font-weight="bold" text-anchor="middle">us</text>
<g fill="#ffffff"><rect x="309.5" y="268.7" width="4.8" height="7"/><path d="M305.8,275.2 L318.2,275.2 L312,281.2 Z"/><path d="M302.2,280.2 L307.6,280.2 L312,284 L316.4,280.2 L321.9,280.2 L321.9,285.8 L302.2,285.8 Z"/></g>
<circle cx="317.6" cy="283.6" r="0.55" fill="#dfc0d2"/><circle cx="319.6" cy="283.6" r="0.55" fill="#dfc0d2"/>
<text x="311.3" y="299.4" font-size="7.6" fill="#1c1c1c" font-weight="bold" text-anchor="middle" textLength="38.4" lengthAdjust="spacingAndGlyphs">Download</text>
<text x="311.3" y="308.2" font-size="7.6" fill="#1c1c1c" font-weight="bold" text-anchor="middle">here</text>
<defs>
<linearGradient id="gMag" x1="0" y1="0" x2="0" y2="1"><stop offset="0" stop-color="#d22b8c"/><stop offset="0.55" stop-color="#dc6fb0"/><stop offset="1" stop-color="#f1dcec"/></linearGradient>
<linearGradient id="gMag2" x1="0" y1="0" x2="0" y2="1"><stop offset="0" stop-color="#d22b8c"/><stop offset="0.5" stop-color="#d968ac"/><stop offset="1" stop-color="#f6e6f1"/></linearGradient>
<linearGradient id="gPur" x1="0" y1="0" x2="0" y2="1"><stop offset="0" stop-color="#a650b2"/><stop offset="0.55" stop-color="#c38ccc"/><stop offset="1" stop-color="#efe2f1"/></linearGradient>
<linearGradient id="gRed" x1="0" y1="0" x2="0" y2="1"><stop offset="0" stop-color="#c4503f"/><stop offset="0.6" stop-color="#dc9b92"/><stop offset="1" stop-color="#f6e6e4"/></linearGradient>
<linearGradient id="gGrn" x1="0" y1="0" x2="0" y2="1"><stop offset="0" stop-color="#6f8f6c"/><stop offset="0.6" stop-color="#a9bea7"/><stop offset="1" stop-color="#eef2ed"/></linearGradient>
<linearGradient id="gEmo" x1="0" y1="0" x2="0" y2="1"><stop offset="0" stop-color="#d42d8e"/><stop offset="0.6" stop-color="#e070b4"/><stop offset="1" stop-color="#f6dcec"/></linearGradient>
</defs>
<defs>
<linearGradient id="gMolT" gradientUnits="userSpaceOnUse" x1="0" y1="49" x2="0" y2="72"><stop offset="0" stop-color="#d22b8c"/><stop offset="0.5" stop-color="#d760aa"/><stop offset="1" stop-color="#f3e2ee"/></linearGradient>
<linearGradient id="gMolV" gradientUnits="userSpaceOnUse" x1="0" y1="49" x2="0" y2="72"><stop offset="0" stop-color="#a34bb0"/><stop offset="0.5" stop-color="#bd82c8"/><stop offset="1" stop-color="#f1e6f3"/></linearGradient>
<linearGradient id="gMesh" gradientUnits="userSpaceOnUse" x1="0" y1="191" x2="0" y2="224"><stop offset="0" stop-color="#d22b8c"/><stop offset="0.5" stop-color="#db6fb2"/><stop offset="1" stop-color="#f6e8f2"/></linearGradient>
<linearGradient id="gCloud" gradientUnits="userSpaceOnUse" x1="0" y1="47" x2="0" y2="82"><stop offset="0" stop-color="#d42a8c"/><stop offset="0.55" stop-color="#dc72b4"/><stop offset="1" stop-color="#f7eaf3"/></linearGradient>
<linearGradient id="gDNA" gradientUnits="userSpaceOnUse" x1="0" y1="38" x2="0" y2="75"><stop offset="0" stop-color="#d42a8c"/><stop offset="0.55" stop-color="#e07db8"/><stop offset="1" stop-color="#f7ecf4"/></linearGradient>
</defs>
<g fill="none" stroke="url(#gMolT)" stroke-width="1.15" transform="translate(0,0)"><line x1="383.80" y1="60.10" x2="387.20" y2="60.10"/><line x1="389.71" y1="58.30" x2="390.84" y2="54.96"/><line x1="390.04" y1="61.75" x2="391.36" y2="64.05"/><line x1="394.11" y1="65.13" x2="398.39" y2="63.77"/><line x1="400.77" y1="61.39" x2="401.93" y2="57.72"/><line x1="401.42" y1="64.66" x2="403.63" y2="67.31"/><line x1="406.84" y1="55.11" x2="408.82" y2="55.70"/><line x1="411.76" y1="54.99" x2="413.73" y2="53.11"/><line x1="411.17" y1="57.82" x2="412.03" y2="59.88"/><circle cx="381.6" cy="60.1" r="2.2"/><circle cx="389.1" cy="60.1" r="1.9"/><circle cx="391.4" cy="53.3" r="1.75"/><circle cx="392.3" cy="65.7" r="1.9"/><circle cx="400.2" cy="63.2" r="1.9"/><circle cx="403.1" cy="54" r="3.9"/><circle cx="410.5" cy="56.2" r="1.75"/><circle cx="415.1" cy="51.8" r="1.9"/><circle cx="412.7" cy="61.5" r="1.75"/><circle cx="405.3" cy="69.3" r="2.6"/></g>
<g fill="none" stroke="url(#gMolV)" stroke-width="1.15" transform="translate(0,48.6)"><line x1="383.80" y1="60.10" x2="387.20" y2="60.10"/><line x1="389.71" y1="58.30" x2="390.84" y2="54.96"/><line x1="390.04" y1="61.75" x2="391.36" y2="64.05"/><line x1="394.11" y1="65.13" x2="398.39" y2="63.77"/><line x1="400.77" y1="61.39" x2="401.93" y2="57.72"/><line x1="401.42" y1="64.66" x2="403.63" y2="67.31"/><line x1="406.84" y1="55.11" x2="408.82" y2="55.70"/><line x1="411.76" y1="54.99" x2="413.73" y2="53.11"/><line x1="411.17" y1="57.82" x2="412.03" y2="59.88"/><circle cx="381.6" cy="60.1" r="2.2"/><circle cx="389.1" cy="60.1" r="1.9"/><circle cx="391.4" cy="53.3" r="1.75"/><circle cx="392.3" cy="65.7" r="1.9"/><circle cx="400.2" cy="63.2" r="1.9"/><circle cx="403.1" cy="54" r="3.9"/><circle cx="410.5" cy="56.2" r="1.75"/><circle cx="415.1" cy="51.8" r="1.9"/><circle cx="412.7" cy="61.5" r="1.75"/><circle cx="405.3" cy="69.3" r="2.6"/></g>
<text x="403.7" y="87.8" font-size="7.7" fill="#111" font-weight="bold" text-anchor="middle" textLength="42.7" lengthAdjust="spacingAndGlyphs">Training set</text>
<text x="403.6" y="137.3" font-size="7.7" fill="#111" font-weight="bold" text-anchor="middle" textLength="49.8" lengthAdjust="spacingAndGlyphs">Validation set</text>
<line x1="478.00" y1="68.40" x2="422.50" y2="68.40" stroke="#333" stroke-width="0.7" />
<line x1="422.50" y1="68.40" x2="425.23" y2="66.73" stroke="#333" stroke-width="0.7" />
<line x1="422.50" y1="68.40" x2="425.23" y2="70.07" stroke="#333" stroke-width="0.7" />
<line x1="398.80" y1="143.00" x2="398.80" y2="185.50" stroke="#333" stroke-width="0.7" />
<line x1="398.80" y1="185.50" x2="397.13" y2="182.77" stroke="#333" stroke-width="0.7" />
<line x1="398.80" y1="185.50" x2="400.47" y2="182.77" stroke="#333" stroke-width="0.7" />
<g stroke="url(#gMesh)" stroke-width="1.6" stroke-linecap="round" fill="url(#gMesh)"><line x1="385.7" y1="200.7" x2="400.4" y2="192.3"/><line x1="400.4" y1="192.3" x2="418" y2="197.9"/><line x1="385.7" y1="200.7" x2="406" y2="206.3"/><line x1="400.4" y1="192.3" x2="406" y2="206.3"/><line x1="406" y1="206.3" x2="402.5" y2="222.4"/><line x1="418" y1="197.9" x2="406" y2="206.3"/><line x1="406" y1="206.3" x2="395.9" y2="211.9"/><line x1="385.7" y1="200.7" x2="383.6" y2="222.4"/><line x1="385.7" y1="200.7" x2="395.9" y2="211.9"/><line x1="418" y1="197.9" x2="415.1" y2="215.4"/><line x1="395.9" y1="211.9" x2="383.6" y2="222.4"/><line x1="395.9" y1="211.9" x2="402.5" y2="222.4"/><line x1="406" y1="206.3" x2="415.1" y2="215.4"/><line x1="383.6" y1="222.4" x2="402.5" y2="222.4"/><line x1="415.1" y1="215.4" x2="402.5" y2="222.4"/><circle cx="400.4" cy="192.3" r="1.5" stroke="none"/><circle cx="418" cy="197.9" r="1.5" stroke="none"/><circle cx="385.7" cy="200.7" r="1.5" stroke="none"/><circle cx="406" cy="206.3" r="1.1" stroke="none"/><circle cx="395.9" cy="211.9" r="1.1" stroke="none"/><circle cx="415.1" cy="215.4" r="1.1" stroke="none"/><circle cx="383.6" cy="222.4" r="1.1" stroke="none"/><circle cx="402.5" cy="222.4" r="1.1" stroke="none"/></g>
<text x="403.0" y="238.0" font-size="7.7" fill="#111" font-weight="bold" text-anchor="middle" textLength="75.9" lengthAdjust="spacingAndGlyphs">Model validation and</text>
<text x="405.3" y="247.3" font-size="7.7" fill="#111" font-weight="bold" text-anchor="middle" textLength="43.8" lengthAdjust="spacingAndGlyphs">generation of</text>
<text x="404.4" y="256.2" font-size="7.7" fill="#111" font-weight="bold" text-anchor="middle" textLength="64.2" lengthAdjust="spacingAndGlyphs">Gastric-discovery</text>
<line x1="398.70" y1="272.80" x2="398.70" y2="323.50" stroke="#333" stroke-width="0.7" />
<line x1="398.70" y1="323.50" x2="397.03" y2="320.77" stroke="#333" stroke-width="0.7" />
<line x1="398.70" y1="323.50" x2="400.37" y2="320.77" stroke="#333" stroke-width="0.7" />
<text x="378.5" y="292.0" font-size="7.7" fill="#111" font-weight="bold" text-anchor="middle" textLength="29.8" lengthAdjust="spacingAndGlyphs">External</text>
<text x="378.5" y="301.2" font-size="7.7" fill="#111" font-weight="bold" text-anchor="middle">data</text>
<text x="378.5" y="310.4" font-size="7.7" fill="#111" font-weight="bold" text-anchor="middle">input</text>
<text x="400.2" y="341.2" font-size="7.7" fill="#111" font-weight="bold" text-anchor="middle" textLength="75.3" lengthAdjust="spacingAndGlyphs">Gastric-discovery-v1</text>
<text x="400.6" y="350.2" font-size="7.7" fill="#111" font-weight="bold" text-anchor="middle">Work</text>
<g fill="none" stroke="url(#gCloud)" stroke-width="2.0" stroke-linecap="round"><path d="M501,68.4 C494.8,68.4 494.2,60.2 499.4,59.4 C499.4,54.4 505,52.4 507.6,55.2 C509.2,47.6 520.4,47 521.8,55.2 C528.2,55.8 528.8,68.4 521.8,68.4"/></g>
<g fill="url(#gCloud)"><path d="M510.4,56.6 C507.5,55.8 504.6,57.2 504.2,59.8 C502.4,60.8 502.2,64.2 503.4,65.6 C502.8,68 504.4,70.4 506.4,70.8 C507,73 509,73.8 510.4,73.2 Z"/><path d="M511.8,56.6 C514.7,55.8 517.6,57.2 518,59.8 C519.8,60.8 520,64.2 518.8,65.6 C519.4,68 517.8,70.4 515.8,70.8 C515.2,73 513.2,73.8 511.8,73.2 Z"/><circle cx="495.8" cy="72.8" r="2.1"/><circle cx="526.2" cy="72.8" r="2.1"/><circle cx="507.6" cy="79.4" r="2.4" fill-opacity="0.35"/><circle cx="513.8" cy="79.4" r="2.4" fill-opacity="0.35"/></g>
<g fill="none" stroke="url(#gCloud)" stroke-width="1.1"><path d="M497.5,72.8 L503,72.8 M519.2,72.8 L524.5,72.8"/></g>
<g fill="none" stroke="#ffffff" stroke-width="0.75" stroke-linecap="round"><path d="M508.2,58.5 L508.2,71 M506,61.8 L508.2,63.2 M505.6,66.6 L508.2,65.6 M514,58.5 L514,71 M516.2,61.8 L514,63.2 M516.6,66.6 L514,65.6"/><circle cx="495.8" cy="72.8" r="0.7"/><circle cx="526.2" cy="72.8" r="0.7"/></g>
<text x="509.6" y="108.9" font-size="7.7" fill="#111" font-weight="bold" text-anchor="middle" textLength="82.8" lengthAdjust="spacingAndGlyphs">ResNet-50 deep neural</text>
<text x="509.6" y="117.8" font-size="7.7" fill="#111" font-weight="bold" text-anchor="middle" textLength="61.8" lengthAdjust="spacingAndGlyphs">network learning</text>
<line x1="510.40" y1="174.00" x2="510.40" y2="132.00" stroke="#333" stroke-width="0.7" />
<line x1="510.40" y1="132.00" x2="512.07" y2="134.73" stroke="#333" stroke-width="0.7" />
<line x1="510.40" y1="132.00" x2="508.73" y2="134.73" stroke="#333" stroke-width="0.7" />
<text x="511.5" y="193.2" font-size="7.7" fill="#111" font-weight="bold" text-anchor="middle" textLength="81.2" lengthAdjust="spacingAndGlyphs">Omics pre-processing</text>
<text x="509.6" y="209.3" font-size="7.7" fill="#111" font-weight="bold" text-anchor="middle" textLength="72.7" lengthAdjust="spacingAndGlyphs">DL feature extractor</text>
<line x1="510.40" y1="249.70" x2="510.40" y2="224.00" stroke="#333" stroke-width="0.7" />
<line x1="510.40" y1="224.00" x2="512.07" y2="226.73" stroke="#333" stroke-width="0.7" />
<line x1="510.40" y1="224.00" x2="508.73" y2="226.73" stroke="#333" stroke-width="0.7" />
<g fill="none" stroke="url(#gDNA)" stroke-width="2.0" stroke-linecap="round"><path d="M605.2,38.2 C610.5,42.5 612.5,50 609.5,56 C607,60 607,66 608.5,69 C609.8,71.5 611.8,73 613.9,74.5"/><path d="M590.9,51.7 C595,55.5 600.5,57.5 607.5,56.5 C614,55.5 620,54.5 627.8,60.8"/><path d="M596.8,51.7 L605.2,43.7 M601.5,53.9 L607.7,47.7 M611.4,64.1 L617.9,57.9 M613.9,68.5 L622,60.5"/></g>
<text x="614.3" y="84.8" font-size="7.7" fill="#111" font-weight="bold" text-anchor="middle" textLength="111.7" lengthAdjust="spacingAndGlyphs">TCGA patient sequencing data</text>
<line x1="620.30" y1="90.60" x2="620.30" y2="111.00" stroke="#333" stroke-width="0.7" />
<line x1="620.30" y1="111.00" x2="618.63" y2="108.27" stroke="#333" stroke-width="0.7" />
<line x1="620.30" y1="111.00" x2="621.97" y2="108.27" stroke="#333" stroke-width="0.7" />
<text x="617.7" y="127.6" font-size="7.7" fill="#111" font-weight="bold" text-anchor="middle" textLength="97.3" lengthAdjust="spacingAndGlyphs">Spatial data deconvolution</text>
<line x1="620.50" y1="139.60" x2="620.50" y2="154.00" stroke="#333" stroke-width="0.7" />
<line x1="620.50" y1="154.00" x2="618.83" y2="151.27" stroke="#333" stroke-width="0.7" />
<line x1="620.50" y1="154.00" x2="622.17" y2="151.27" stroke="#333" stroke-width="0.7" />
<defs>
<linearGradient id="gPR" x1="0" y1="0" x2="0" y2="1"><stop offset="0" stop-color="#c4503f"/><stop offset="0.55" stop-color="#d98f85"/><stop offset="1" stop-color="#f7eceb"/></linearGradient>
<linearGradient id="gPG" x1="0" y1="0" x2="0" y2="1"><stop offset="0" stop-color="#6c8d69"/><stop offset="0.55" stop-color="#a3b9a1"/><stop offset="1" stop-color="#f0f4ef"/></linearGradient>
</defs>
<g transform="translate(585,153)"><g fill="url(#gPG)"><circle cx="4.3" cy="5.6" r="2.2"/><path d="M1.6999999999999997,8.3 L6.9,8.3 Q7.8,8.3 7.8,9.4 L7.8,15 L6.6,15 L6.6,21.7 L2.0,21.7 L2.0,15 L0.7999999999999998,15 L0.7999999999999998,9.4 Q0.7999999999999998,8.3 1.6999999999999997,8.3 Z"/><circle cx="18.3" cy="5.6" r="2.2"/><path d="M15.700000000000001,8.3 L20.900000000000002,8.3 Q21.8,8.3 21.8,9.4 L21.8,15 L20.6,15 L20.6,21.7 L16.0,21.7 L16.0,15 L14.8,15 L14.8,9.4 Q14.8,8.3 15.700000000000001,8.3 Z"/><circle cx="11.0" cy="3.0" r="2.8" stroke="#fff" stroke-width="0.6"/><path d="M7.6,6.3 L14.4,6.3 Q15.7,6.3 15.7,7.6 L15.7,14.2 L14.2,14.2 L14.2,22 L7.8,22 L7.8,14.2 L6.3,14.2 L6.3,7.6 Q6.3,6.3 7.6,6.3 Z" stroke="#fff" stroke-width="0.6"/></g><g stroke="#fff" stroke-width="0.45" fill="none"><path d="M2.2,10.5 L2.2,15 M6.3999999999999995,10.5 L6.3999999999999995,15 M4.3,15.8 L4.3,21.7"/><path d="M16.2,10.5 L16.2,15 M20.400000000000002,10.5 L20.400000000000002,15 M18.3,15.8 L18.3,21.7"/><path d="M8.0,8.6 L8.0,14.2 M14.0,8.6 L14.0,14.2 M11.0,15.0 L11.0,22"/></g></g>
<g transform="translate(638,153)"><g fill="url(#gPR)"><circle cx="4.3" cy="5.6" r="2.2"/><path d="M1.6999999999999997,8.3 L6.9,8.3 Q7.8,8.3 7.8,9.4 L7.8,15 L6.6,15 L6.6,21.7 L2.0,21.7 L2.0,15 L0.7999999999999998,15 L0.7999999999999998,9.4 Q0.7999999999999998,8.3 1.6999999999999997,8.3 Z"/><circle cx="18.3" cy="5.6" r="2.2"/><path d="M15.700000000000001,8.3 L20.900000000000002,8.3 Q21.8,8.3 21.8,9.4 L21.8,15 L20.6,15 L20.6,21.7 L16.0,21.7 L16.0,15 L14.8,15 L14.8,9.4 Q14.8,8.3 15.700000000000001,8.3 Z"/><circle cx="11.0" cy="3.0" r="2.8" stroke="#fff" stroke-width="0.6"/><path d="M7.6,6.3 L14.4,6.3 Q15.7,6.3 15.7,7.6 L15.7,14.2 L14.2,14.2 L14.2,22 L7.8,22 L7.8,14.2 L6.3,14.2 L6.3,7.6 Q6.3,6.3 7.6,6.3 Z" stroke="#fff" stroke-width="0.6"/></g><g stroke="#fff" stroke-width="0.45" fill="none"><path d="M2.2,10.5 L2.2,15 M6.3999999999999995,10.5 L6.3999999999999995,15 M4.3,15.8 L4.3,21.7"/><path d="M16.2,10.5 L16.2,15 M20.400000000000002,10.5 L20.400000000000002,15 M18.3,15.8 L18.3,21.7"/><path d="M8.0,8.6 L8.0,14.2 M14.0,8.6 L14.0,14.2 M11.0,15.0 L11.0,22"/></g></g>
<text x="591.8" y="195.2" font-size="7.7" fill="#111" font-weight="bold" text-anchor="middle" textLength="36.4" lengthAdjust="spacingAndGlyphs">High MFM</text>
<text x="591.8" y="204.2" font-size="7.7" fill="#111" font-weight="bold" text-anchor="middle" textLength="43.3" lengthAdjust="spacingAndGlyphs">populations</text>
<text x="649.8" y="195.2" font-size="7.7" fill="#111" font-weight="bold" text-anchor="middle" textLength="34.5" lengthAdjust="spacingAndGlyphs">Low MFM</text>
<text x="649.8" y="204.2" font-size="7.7" fill="#111" font-weight="bold" text-anchor="middle" textLength="43.3" lengthAdjust="spacingAndGlyphs">populations</text>
<line x1="620.50" y1="206.60" x2="620.50" y2="223.50" stroke="#333" stroke-width="0.7" />
<line x1="620.50" y1="223.50" x2="618.83" y2="220.77" stroke="#333" stroke-width="0.7" />
<line x1="620.50" y1="223.50" x2="622.17" y2="220.77" stroke="#333" stroke-width="0.7" />
<text x="619.6" y="234.2" font-size="7.7" fill="#111" font-weight="bold" text-anchor="middle" textLength="81.2" lengthAdjust="spacingAndGlyphs">Integrate survival data</text>
<text x="619.4" y="243.2" font-size="7.7" fill="#111" font-weight="bold" text-anchor="middle" textLength="84.1" lengthAdjust="spacingAndGlyphs">for prognostic analysis</text>
<g transform="translate(586,252.5)"><g fill="url(#gPR)"><circle cx="4.3" cy="5.6" r="2.2"/><path d="M1.6999999999999997,8.3 L6.9,8.3 Q7.8,8.3 7.8,9.4 L7.8,15 L6.6,15 L6.6,21.7 L2.0,21.7 L2.0,15 L0.7999999999999998,15 L0.7999999999999998,9.4 Q0.7999999999999998,8.3 1.6999999999999997,8.3 Z"/><circle cx="18.3" cy="5.6" r="2.2"/><path d="M15.700000000000001,8.3 L20.900000000000002,8.3 Q21.8,8.3 21.8,9.4 L21.8,15 L20.6,15 L20.6,21.7 L16.0,21.7 L16.0,15 L14.8,15 L14.8,9.4 Q14.8,8.3 15.700000000000001,8.3 Z"/><circle cx="11.0" cy="3.0" r="2.8" stroke="#fff" stroke-width="0.6"/><path d="M7.6,6.3 L14.4,6.3 Q15.7,6.3 15.7,7.6 L15.7,14.2 L14.2,14.2 L14.2,22 L7.8,22 L7.8,14.2 L6.3,14.2 L6.3,7.6 Q6.3,6.3 7.6,6.3 Z" stroke="#fff" stroke-width="0.6"/></g><g stroke="#fff" stroke-width="0.45" fill="none"><path d="M2.2,10.5 L2.2,15 M6.3999999999999995,10.5 L6.3999999999999995,15 M4.3,15.8 L4.3,21.7"/><path d="M16.2,10.5 L16.2,15 M20.400000000000002,10.5 L20.400000000000002,15 M18.3,15.8 L18.3,21.7"/><path d="M8.0,8.6 L8.0,14.2 M14.0,8.6 L14.0,14.2 M11.0,15.0 L11.0,22"/></g></g>
<line x1="613.30" y1="266.20" x2="632.60" y2="266.20" stroke="#d4489c" stroke-width="1.1" />
<circle cx="643.7" cy="266.4" r="7.2" fill="url(#gEmo)"/>
<path d="M639.7,263.59999999999997 L641.7,264.59999999999997 L639.7,265.59999999999997 M647.7,263.59999999999997 L645.7,264.59999999999997 L647.7,265.59999999999997" stroke="#fff" stroke-width="0.7" fill="none"/>
<path d="M639.7,267.7 L647.7,267.7 A4,4 0 0 1 639.7,267.7 Z" fill="#fff"/>
<line x1="579.50" y1="265.30" x2="552.70" y2="265.30" stroke="#333" stroke-width="0.7" />
<line x1="552.70" y1="265.30" x2="555.43" y2="263.63" stroke="#333" stroke-width="0.7" />
<line x1="552.70" y1="265.30" x2="555.43" y2="266.97" stroke="#333" stroke-width="0.7" />
<text x="597.0" y="292.2" font-size="7.7" fill="#111" font-weight="bold" text-anchor="middle" textLength="34.5" lengthAdjust="spacingAndGlyphs">Low MFM</text>
<text x="597.0" y="301.8" font-size="7.7" fill="#111" font-weight="bold" text-anchor="middle" textLength="43.3" lengthAdjust="spacingAndGlyphs">populations</text>
<g transform="translate(586,315)"><g fill="url(#gPG)"><circle cx="4.3" cy="5.6" r="2.2"/><path d="M1.6999999999999997,8.3 L6.9,8.3 Q7.8,8.3 7.8,9.4 L7.8,15 L6.6,15 L6.6,21.7 L2.0,21.7 L2.0,15 L0.7999999999999998,15 L0.7999999999999998,9.4 Q0.7999999999999998,8.3 1.6999999999999997,8.3 Z"/><circle cx="18.3" cy="5.6" r="2.2"/><path d="M15.700000000000001,8.3 L20.900000000000002,8.3 Q21.8,8.3 21.8,9.4 L21.8,15 L20.6,15 L20.6,21.7 L16.0,21.7 L16.0,15 L14.8,15 L14.8,9.4 Q14.8,8.3 15.700000000000001,8.3 Z"/><circle cx="11.0" cy="3.0" r="2.8" stroke="#fff" stroke-width="0.6"/><path d="M7.6,6.3 L14.4,6.3 Q15.7,6.3 15.7,7.6 L15.7,14.2 L14.2,14.2 L14.2,22 L7.8,22 L7.8,14.2 L6.3,14.2 L6.3,7.6 Q6.3,6.3 7.6,6.3 Z" stroke="#fff" stroke-width="0.6"/></g><g stroke="#fff" stroke-width="0.45" fill="none"><path d="M2.2,10.5 L2.2,15 M6.3999999999999995,10.5 L6.3999999999999995,15 M4.3,15.8 L4.3,21.7"/><path d="M16.2,10.5 L16.2,15 M20.400000000000002,10.5 L20.400000000000002,15 M18.3,15.8 L18.3,21.7"/><path d="M8.0,8.6 L8.0,14.2 M14.0,8.6 L14.0,14.2 M11.0,15.0 L11.0,22"/></g></g>
<line x1="613.30" y1="327.80" x2="632.60" y2="327.80" stroke="#d4489c" stroke-width="1.1" />
<circle cx="643.7" cy="327.8" r="7.2" fill="url(#gEmo)"/>
<path d="M640.2,326.2 L642.1,326.2 M645.3000000000001,326.2 L647.2,326.2 M641.5,330.40000000000003 L645.9000000000001,330.40000000000003" stroke="#fff" stroke-width="0.7" fill="none"/>
<line x1="579.50" y1="327.60" x2="552.70" y2="327.60" stroke="#333" stroke-width="0.7" />
<line x1="552.70" y1="327.60" x2="555.43" y2="325.93" stroke="#333" stroke-width="0.7" />
<line x1="552.70" y1="327.60" x2="555.43" y2="329.27" stroke="#333" stroke-width="0.7" />
<text x="597.0" y="351.4" font-size="7.7" fill="#111" font-weight="bold" text-anchor="middle" textLength="36.4" lengthAdjust="spacingAndGlyphs">High MFM</text>
<text x="597.0" y="360.4" font-size="7.7" fill="#111" font-weight="bold" text-anchor="middle" textLength="43.3" lengthAdjust="spacingAndGlyphs">populations</text>
<pattern id="hist" width="7" height="7" patternUnits="userSpaceOnUse"><rect width="7" height="7" fill="#c8489a"/><circle cx="4.4" cy="5.2" r="0.7" fill="#6a1860"/><circle cx="0.2" cy="3.3" r="0.8" fill="#7a2070"/><circle cx="6.3" cy="0.8" r="0.5" fill="#8a2a80"/><circle cx="2.7" cy="0.7" r="0.4" fill="#8a2a80"/><circle cx="2.9" cy="1.3" r="0.7" fill="#f0a8d0"/><circle cx="1.1" cy="5.6" r="0.4" fill="#6a1860"/><circle cx="3.1" cy="0.9" r="0.8" fill="#7a2070"/><circle cx="1.5" cy="1.5" r="0.8" fill="#8a2a80"/><circle cx="2.0" cy="6.7" r="0.6" fill="#8a2a80"/><circle cx="1.3" cy="6.8" r="0.4" fill="#f0a8d0"/><circle cx="2.1" cy="2.5" r="0.4" fill="#8a2a80"/><circle cx="1.8" cy="2.3" r="0.7" fill="#6a1860"/><circle cx="0.0" cy="4.7" r="0.5" fill="#e88ac4"/><circle cx="2.5" cy="2.1" r="0.6" fill="#8a2a80"/><circle cx="3.4" cy="4.9" r="0.3" fill="#7a2070"/><circle cx="6.6" cy="2.5" r="0.5" fill="#6a1860"/><circle cx="5.5" cy="2.6" r="0.6" fill="#7a2070"/><circle cx="3.2" cy="5.0" r="0.6" fill="#8a2a80"/><circle cx="0.8" cy="1.7" r="0.7" fill="#f0a8d0"/><circle cx="2.4" cy="2.5" r="0.6" fill="#f0a8d0"/><circle cx="0.8" cy="5.2" r="0.7" fill="#e88ac4"/><circle cx="0.3" cy="6.6" r="0.3" fill="#e88ac4"/></pattern>
<rect x="449.0" y="257.7" width="11.5" height="12.8" fill="url(#hist)" stroke="#fff" stroke-width="0.4"/>
<rect x="451.0" y="259.6" width="11.5" height="12.8" fill="url(#hist)" stroke="#fff" stroke-width="0.4"/>
<rect x="453.0" y="261.5" width="11.5" height="12.8" fill="url(#hist)" stroke="#fff" stroke-width="0.4"/>
<rect x="455.0" y="263.4" width="11.5" height="12.8" fill="url(#hist)" stroke="#fff" stroke-width="0.4"/>
<rect x="457.0" y="265.3" width="11.5" height="12.8" fill="url(#hist)" stroke="#fff" stroke-width="0.4"/>
<rect x="459.0" y="267.2" width="11.5" height="12.8" fill="url(#hist)" stroke="#fff" stroke-width="0.4"/>
<rect x="461.0" y="269.1" width="11.5" height="12.8" fill="url(#hist)" stroke="#fff" stroke-width="0.4"/>
<rect x="477.9" y="256.2" width="21" height="21.7" fill="url(#hist)" stroke="#e9d6e4" stroke-width="0.5"/>
<rect x="481.1" y="257.9" width="21" height="21.7" fill="url(#hist)" stroke="#e9d6e4" stroke-width="0.5"/>
<rect x="484.3" y="259.6" width="21" height="21.7" fill="url(#hist)" stroke="#e9d6e4" stroke-width="0.5"/>
<rect x="487" y="276.2" width="2.2" height="2.2" fill="none" stroke="#333" stroke-width="0.4"/>
<path d="M505.5,259.7 L532,268.7 M505.5,281.2 L525,275.7 M462,267.2 L487,277.2 M462,282.2 L487,278.2" stroke="#444" stroke-width="0.5" fill="none"/>
<path d="M519.33,258.50 L518.73,260.28 L517.38,261.14 L516.13,260.36 L514.47,259.63 L515.12,257.66 L515.82,255.99 L517.36,256.00 L518.61,256.84 Z" fill="#a070c8" stroke="none" stroke-width="1" />
<path d="M523.28,259.00 L522.87,260.47 L521.76,260.90 L520.49,261.24 L519.58,259.89 L519.43,258.04 L520.76,257.36 L521.85,256.47 L523.43,256.93 Z" fill="#9060b8" stroke="none" stroke-width="1" />
<path d="M530.27,256.00 L529.09,257.92 L527.57,259.56 L525.39,259.04 L524.83,256.86 L523.85,254.75 L525.94,253.99 L527.43,253.31 L528.83,254.32 Z" fill="#8a58b8" stroke="none" stroke-width="1" />
<path d="M534.41,253.00 L533.79,254.71 L532.55,256.55 L530.89,255.19 L529.04,254.23 L529.25,251.86 L530.48,249.98 L532.36,250.70 L533.73,251.34 Z" fill="#9a68c4" stroke="none" stroke-width="1" />
<path d="M537.88,257.00 L537.18,258.53 L535.95,259.74 L534.65,258.59 L532.98,257.99 L533.39,256.17 L534.46,255.05 L535.77,255.32 L537.01,255.62 Z" fill="#7a48a8" stroke="none" stroke-width="1" />
<path d="M531.01,263.50 L530.01,264.25 L529.31,265.07 L528.41,264.40 L527.11,264.11 L527.16,262.91 L528.06,262.05 L529.24,262.29 L530.07,262.70 Z" fill="#8a58b8" stroke="none" stroke-width="1" />
<path d="M533.42,267.00 L533.07,268.08 L531.85,268.62 L530.42,268.53 L529.83,267.50 L530.11,266.59 L530.52,265.61 L531.80,265.59 L533.42,265.68 Z" fill="#7040a0" stroke="none" stroke-width="1" />
<path d="M536.15,270.50 L536.17,271.62 L534.96,272.60 L533.31,272.14 L532.43,271.10 L532.03,269.78 L533.31,268.85 L534.86,268.85 L536.68,269.04 Z" fill="#6a3a9a" stroke="none" stroke-width="1" />
<path d="M540.11,273.50 L539.62,274.69 L538.39,275.44 L536.77,275.36 L535.62,274.26 L535.02,272.55 L536.90,271.84 L538.50,271.00 L539.62,272.31 Z" fill="#7a48a8" stroke="none" stroke-width="1" />
<path d="M546.17,277.50 L545.49,280.42 L542.51,280.41 L539.63,281.61 L538.92,278.62 L539.40,276.55 L539.93,273.92 L542.55,274.36 L544.25,275.61 Z" fill="#8656b4" stroke="none" stroke-width="1" />
<path d="M548.36,281.00 L547.58,282.62 L545.92,283.23 L543.99,283.44 L543.34,281.73 L542.87,280.11 L544.43,279.28 L545.83,279.26 L547.28,279.61 Z" fill="#7040a0" stroke="none" stroke-width="1" />
<path d="M541.21,280.50 L540.94,281.82 L539.89,282.88 L538.27,282.83 L537.66,281.23 L538.14,279.96 L538.53,278.66 L539.79,278.68 L540.89,279.23 Z" fill="#9a6ac6" stroke="none" stroke-width="1" />
<path d="M520.52,271.50 L520.04,273.17 L519.27,273.92 L518.63,272.52 L518.69,270.55 L519.29,269.28 L519.94,270.16 Z" fill="#8a58b8" stroke="none" stroke-width="1" />
<path d="M519.62,274.00 L519.21,275.26 L518.58,276.41 L518.18,274.73 L518.08,273.15 L518.61,271.96 L519.21,272.75 Z" fill="#8a58b8" stroke="none" stroke-width="1" />
<circle cx="539.9" cy="256.5" r="0.5" fill="#5a2a8a"/>
<circle cx="542.7" cy="252.4" r="0.8" fill="#5a2a8a"/>
<circle cx="523.0" cy="259.0" r="0.7" fill="#6a3a9a"/>
<circle cx="524.8" cy="255.3" r="0.7" fill="#5a2a8a"/>
<circle cx="541.0" cy="280.5" r="0.8" fill="#5a2a8a"/>
<circle cx="525.5" cy="252.1" r="0.9" fill="#c8a8e8"/>
<circle cx="516.1" cy="258.7" r="0.6" fill="#c8a8e8"/>
<circle cx="533.2" cy="274.2" r="0.6" fill="#5a2a8a"/>
<circle cx="518.1" cy="276.3" r="0.9" fill="#5a2a8a"/>
<circle cx="540.4" cy="259.5" r="0.8" fill="#6a3a9a"/>
<circle cx="528.4" cy="261.4" r="0.6" fill="#6a3a9a"/>
<circle cx="537.6" cy="274.6" r="0.4" fill="#6a3a9a"/>
<circle cx="530.0" cy="252.9" r="0.7" fill="#6a3a9a"/>
<circle cx="534.1" cy="278.4" r="0.8" fill="#5a2a8a"/>
<rect x="449.0" y="320.1" width="11.5" height="12.8" fill="url(#hist)" stroke="#fff" stroke-width="0.4"/>
<rect x="451.0" y="322.0" width="11.5" height="12.8" fill="url(#hist)" stroke="#fff" stroke-width="0.4"/>
<rect x="453.0" y="323.9" width="11.5" height="12.8" fill="url(#hist)" stroke="#fff" stroke-width="0.4"/>
<rect x="455.0" y="325.8" width="11.5" height="12.8" fill="url(#hist)" stroke="#fff" stroke-width="0.4"/>
<rect x="457.0" y="327.7" width="11.5" height="12.8" fill="url(#hist)" stroke="#fff" stroke-width="0.4"/>
<rect x="459.0" y="329.6" width="11.5" height="12.8" fill="url(#hist)" stroke="#fff" stroke-width="0.4"/>
<rect x="461.0" y="331.5" width="11.5" height="12.8" fill="url(#hist)" stroke="#fff" stroke-width="0.4"/>
<rect x="477.9" y="318.6" width="21" height="21.7" fill="url(#hist)" stroke="#e9d6e4" stroke-width="0.5"/>
<rect x="481.1" y="320.3" width="21" height="21.7" fill="url(#hist)" stroke="#e9d6e4" stroke-width="0.5"/>
<rect x="484.3" y="322.0" width="21" height="21.7" fill="url(#hist)" stroke="#e9d6e4" stroke-width="0.5"/>
<rect x="487" y="338.6" width="2.2" height="2.2" fill="none" stroke="#333" stroke-width="0.4"/>
<path d="M505.5,322.1 L532,331.1 M505.5,343.6 L525,338.1 M462,329.6 L487,339.6 M462,344.6 L487,340.6" stroke="#444" stroke-width="0.5" fill="none"/>
<path d="M519.60,320.90 L518.34,322.29 L517.38,323.58 L515.88,323.28 L514.65,321.95 L514.60,319.83 L515.88,318.52 L517.45,317.74 L518.67,319.18 Z" fill="#a070c8" stroke="none" stroke-width="1" />
<path d="M523.74,321.40 L522.76,322.74 L521.83,323.76 L520.69,323.18 L519.15,322.49 L519.30,320.38 L520.73,319.71 L521.88,318.65 L522.89,319.92 Z" fill="#9060b8" stroke="none" stroke-width="1" />
<path d="M529.81,318.40 L528.59,319.86 L527.48,321.39 L525.22,321.77 L524.93,319.22 L524.28,317.32 L525.68,315.90 L527.40,315.93 L529.42,316.17 Z" fill="#8a58b8" stroke="none" stroke-width="1" />
<path d="M534.77,315.40 L533.66,316.99 L532.54,318.92 L530.49,318.39 L530.24,316.13 L530.19,314.65 L530.99,313.39 L532.53,311.96 L533.49,313.97 Z" fill="#9a68c4" stroke="none" stroke-width="1" />
<path d="M537.93,319.40 L536.92,320.69 L535.91,321.93 L534.52,321.25 L533.91,320.03 L533.43,318.58 L534.26,317.07 L535.88,317.06 L537.57,317.52 Z" fill="#7a48a8" stroke="none" stroke-width="1" />
<path d="M530.75,325.90 L530.36,326.92 L529.26,327.22 L528.37,326.87 L527.26,326.46 L527.77,325.50 L528.22,324.70 L529.27,324.52 L530.35,324.89 Z" fill="#8a58b8" stroke="none" stroke-width="1" />
<path d="M533.35,329.40 L532.68,330.21 L531.87,331.14 L530.72,330.51 L529.64,329.95 L529.89,328.92 L530.51,327.99 L531.80,328.00 L532.73,328.56 Z" fill="#7040a0" stroke="none" stroke-width="1" />
<path d="M537.32,332.90 L536.01,333.91 L534.90,334.72 L533.12,334.81 L531.89,333.66 L532.09,332.20 L533.55,331.59 L534.81,331.51 L536.62,331.48 Z" fill="#6a3a9a" stroke="none" stroke-width="1" />
<path d="M541.66,335.90 L540.72,337.89 L538.49,338.34 L536.44,338.27 L535.14,336.81 L536.04,335.28 L536.31,333.34 L538.57,333.07 L540.39,334.15 Z" fill="#7a48a8" stroke="none" stroke-width="1" />
<path d="M545.50,339.90 L545.39,342.74 L542.49,342.68 L539.78,343.74 L537.89,341.40 L537.78,338.36 L539.78,336.05 L542.78,335.49 L545.45,337.00 Z" fill="#8656b4" stroke="none" stroke-width="1" />
<path d="M548.63,343.40 L547.11,344.65 L545.91,345.59 L544.05,345.72 L542.96,344.26 L542.77,342.48 L544.51,341.81 L545.90,341.27 L547.68,341.71 Z" fill="#7040a0" stroke="none" stroke-width="1" />
<path d="M541.71,342.90 L540.90,344.19 L539.84,345.02 L538.60,344.60 L537.24,343.80 L538.07,342.33 L538.26,340.55 L539.87,340.63 L540.71,341.79 Z" fill="#9a6ac6" stroke="none" stroke-width="1" />
<path d="M520.18,333.90 L519.98,335.36 L519.32,335.79 L518.92,334.58 L518.72,332.99 L519.28,331.53 L519.97,332.47 Z" fill="#8a58b8" stroke="none" stroke-width="1" />
<path d="M519.76,336.40 L519.26,337.80 L518.62,338.36 L518.08,337.24 L517.99,335.44 L518.62,334.45 L519.35,334.71 Z" fill="#8a58b8" stroke="none" stroke-width="1" />
<circle cx="531.5" cy="319.1" r="0.7" fill="#5a2a8a"/>
<circle cx="538.1" cy="333.3" r="0.6" fill="#c8a8e8"/>
<circle cx="542.8" cy="327.6" r="0.8" fill="#6a3a9a"/>
<circle cx="538.3" cy="345.3" r="0.7" fill="#5a2a8a"/>
<circle cx="519.0" cy="327.4" r="0.4" fill="#c8a8e8"/>
<circle cx="522.7" cy="320.7" r="0.7" fill="#c8a8e8"/>
<circle cx="528.3" cy="340.9" r="0.6" fill="#6a3a9a"/>
<circle cx="532.9" cy="333.9" r="0.5" fill="#c8a8e8"/>
<circle cx="531.2" cy="326.1" r="0.5" fill="#5a2a8a"/>
<circle cx="515.0" cy="315.5" r="0.6" fill="#5a2a8a"/>
<circle cx="519.1" cy="328.3" r="0.7" fill="#c8a8e8"/>
<circle cx="524.5" cy="338.1" r="0.8" fill="#5a2a8a"/>
<circle cx="524.2" cy="321.0" r="0.7" fill="#c8a8e8"/>
<circle cx="519.1" cy="333.0" r="0.7" fill="#6a3a9a"/>
<line x1="5.85" y1="16.6" x2="678.25" y2="16.6" stroke="#1f2e52" stroke-width="2.1" stroke-dasharray="15 6.13" stroke-dashoffset="10.98"/>
<line x1="5.85" y1="369" x2="678.25" y2="369" stroke="#1f2e52" stroke-width="2.1" stroke-dasharray="15 6.03" stroke-dashoffset="17.28"/>
<line x1="6.9" y1="15.55" x2="6.9" y2="370.05" stroke="#1f2e52" stroke-width="2.1" stroke-dasharray="15 6.10" stroke-dashoffset="2.45"/>
<line x1="677.2" y1="15.55" x2="677.2" y2="370.05" stroke="#1f2e52" stroke-width="2.1" stroke-dasharray="15 6.10" stroke-dashoffset="5.15"/>
<text x="0.6" y="389.6" font-size="14.6" fill="#000" font-weight="bold">A</text>
<text x="33.6" y="397.6" font-size="8" fill="#111" font-weight="bold" textLength="84.6" lengthAdjust="spacingAndGlyphs">consensus matrix k=3</text>
<rect x="33.50" y="399.60" width="37.20" height="8.10" fill="#a6cee3" />
<rect x="70.70" y="399.60" width="75.50" height="8.10" fill="#3f7db0" />
<rect x="146.20" y="399.60" width="75.50" height="8.10" fill="#b2df8a" />
<rect x="33.50" y="410.20" width="188.20" height="157.10" fill="#ffffff" stroke="#a0a0a0" stroke-width="0.8"/>
<rect x="146.20" y="410.60" width="75.10" height="62.30" fill="#e48c90" />
<rect x="70.70" y="472.90" width="75.50" height="63.10" fill="#e48c90" />
<rect x="33.90" y="536.00" width="36.80" height="30.90" fill="#e48c90" />
<rect x="39.20" y="414.60" width="5.00" height="4.40" fill="#a6cee3" stroke="#555" stroke-width="0.45"/>
<text x="50.6" y="419.3" font-size="6.2" fill="#222">1</text>
<rect x="39.20" y="422.80" width="5.00" height="4.40" fill="#3f7db0" stroke="#555" stroke-width="0.45"/>
<text x="50.6" y="427.5" font-size="6.2" fill="#222">2</text>
<rect x="39.20" y="431.00" width="5.00" height="4.40" fill="#b2df8a" stroke="#555" stroke-width="0.45"/>
<text x="50.6" y="435.7" font-size="6.2" fill="#222">3</text>
<rect x="33.50" y="569.60" width="188.20" height="61.00" fill="#fbfafb" />
<rect x="33.50" y="569.60" width="119.50" height="2.00" fill="#f5f3f5" />
<rect x="153.00" y="570.60" width="68.70" height="2.00" fill="#f5f3f5" />
<rect x="33.50" y="572.50" width="119.50" height="1.50" fill="#f4f1f4" />
<rect x="153.00" y="572.50" width="68.70" height="1.50" fill="#f4f1f4" />
<rect x="33.50" y="575.00" width="119.50" height="2.50" fill="#f6eff2" />
<rect x="153.00" y="575.00" width="68.70" height="2.50" fill="#f6eff2" />
<rect x="33.50" y="583.00" width="119.50" height="2.00" fill="#ebe8ee" />
<rect x="153.00" y="583.00" width="68.70" height="2.00" fill="#ebe8ee" />
<rect x="33.50" y="585.00" width="119.50" height="2.00" fill="#f3eef2" />
<rect x="153.00" y="586.00" width="68.70" height="2.00" fill="#f3eef2" />
<rect x="33.50" y="588.00" width="119.50" height="2.00" fill="#e6e4ec" />
<rect x="153.00" y="587.00" width="68.70" height="2.00" fill="#e6e4ec" />
<rect x="33.50" y="590.00" width="119.50" height="2.00" fill="#f0ecf1" />
<rect x="153.00" y="590.00" width="68.70" height="2.00" fill="#f0ecf1" />
<rect x="33.50" y="592.50" width="119.50" height="1.50" fill="#f1eef2" />
<rect x="153.00" y="593.50" width="68.70" height="1.50" fill="#f1eef2" />
<rect x="33.50" y="595.00" width="119.50" height="3.00" fill="#d4d7e7" />
<rect x="153.00" y="595.00" width="68.70" height="3.00" fill="#d4d7e7" />
<rect x="33.50" y="598.50" width="119.50" height="1.50" fill="#efecf1" />
<rect x="153.00" y="599.50" width="68.70" height="1.50" fill="#efecf1" />
<rect x="33.50" y="600.50" width="119.50" height="2.50" fill="#e4e2ea" />
<rect x="153.00" y="600.50" width="68.70" height="2.50" fill="#e4e2ea" />
<rect x="33.50" y="604.00" width="119.50" height="2.00" fill="#f0e5ea" />
<rect x="153.00" y="603.00" width="68.70" height="2.00" fill="#f0e5ea" />
<rect x="33.50" y="607.00" width="119.50" height="2.00" fill="#ebe2e8" />
<rect x="153.00" y="607.00" width="68.70" height="2.00" fill="#ebe2e8" />
<rect x="33.50" y="611.00" width="119.50" height="6.00" fill="#e3e1eb" />
<rect x="153.00" y="612.00" width="68.70" height="6.00" fill="#e3e1eb" />
<rect x="33.50" y="618.00" width="119.50" height="1.00" fill="#f1eef2" />
<rect x="153.00" y="618.00" width="68.70" height="1.00" fill="#f1eef2" />
<rect x="33.50" y="620.00" width="119.50" height="4.00" fill="#e5e3ec" />
<rect x="153.00" y="620.00" width="68.70" height="4.00" fill="#e5e3ec" />
<rect x="33.50" y="624.50" width="119.50" height="1.50" fill="#eee4e9" />
<rect x="153.00" y="624.50" width="68.70" height="1.50" fill="#eee4e9" />
<rect x="33.50" y="627.00" width="119.50" height="3.00" fill="#e8e1e8" />
<rect x="153.00" y="627.00" width="68.70" height="3.00" fill="#e8e1e8" />
<circle cx="228" cy="578.3" r="3.9" fill="#a6cee3"/>
<text x="228.0" y="579.5" font-size="3.2" fill="#333" text-anchor="middle">C1</text>
<circle cx="228" cy="601" r="3.9" fill="#3f7db0"/>
<text x="228.0" y="602.2" font-size="3.2" fill="#333" text-anchor="middle">C2</text>
<circle cx="228" cy="620" r="3.9" fill="#b2df8a"/>
<text x="228.0" y="621.2" font-size="3.2" fill="#333" text-anchor="middle">C3</text>
<defs><linearGradient id="gBR" x1="0" y1="0" x2="1" y2="0">
<stop offset="0" stop-color="#243a75"/><stop offset="0.25" stop-color="#7f8db5"/><stop offset="0.48" stop-color="#ffffff"/><stop offset="0.75" stop-color="#c58d99"/><stop offset="1" stop-color="#7b1a33"/></linearGradient></defs>
<rect x="32.70" y="634.60" width="57.60" height="12.30" fill="url(#gBR)" />
<text x="88.3" y="643.2" font-size="4.2" fill="#f2f2f2" font-style="italic" text-anchor="end">Epi Density</text>
<text x="32.7" y="651.2" font-size="4.3" fill="#222" text-anchor="middle">0.0</text>
<text x="61.5" y="651.2" font-size="4.3" fill="#222" text-anchor="middle">0.5</text>
<text x="90.3" y="651.2" font-size="4.3" fill="#222" text-anchor="middle">1.0</text>
<rect x="96.40" y="634.60" width="57.40" height="12.30" fill="url(#gBR)" />
<text x="98.4" y="643.2" font-size="4.2" fill="#f2f2f2" font-style="italic">Fib_ACTA2</text>
<text x="151.8" y="643.2" font-size="4.2" fill="#f2f2f2" font-style="italic" text-anchor="end">Density</text>
<text x="96.4" y="651.2" font-size="4.3" fill="#222" text-anchor="middle">0.0</text>
<text x="125.1" y="651.2" font-size="4.3" fill="#222" text-anchor="middle">0.5</text>
<text x="153.8" y="651.2" font-size="4.3" fill="#222" text-anchor="middle">1.0</text>
<rect x="161.40" y="634.60" width="58.30" height="12.30" fill="url(#gBR)" />
<text x="163.4" y="643.2" font-size="4.2" fill="#f2f2f2" font-style="italic">Mph_DAB2</text>
<text x="217.7" y="643.2" font-size="4.2" fill="#f2f2f2" font-style="italic" text-anchor="end">Density</text>
<text x="161.4" y="651.2" font-size="4.3" fill="#222" text-anchor="middle">0.0</text>
<text x="190.6" y="651.2" font-size="4.3" fill="#222" text-anchor="middle">0.5</text>
<text x="219.7" y="651.2" font-size="4.3" fill="#222" text-anchor="middle">1.0</text>
<path d="M34.2,669.2 L34.20,668.64 L35.62,668.35 L37.03,668.11 L38.45,667.95 L39.86,667.79 L41.28,667.47 L42.69,666.92 L44.11,666.11 L45.52,665.06 L46.94,663.81 L48.35,662.41 L49.77,660.93 L51.18,659.45 L52.60,658.07 L54.02,656.90 L55.43,656.01 L56.85,655.44 L58.26,655.20 L59.68,655.22 L61.09,655.42 L62.51,655.69 L63.92,655.96 L65.34,656.20 L66.75,656.46 L68.17,656.83 L69.58,657.42 L71.00,658.31 L72.42,659.52 L73.83,660.99 L75.25,662.59 L76.66,664.16 L78.08,665.58 L79.49,666.75 L80.91,667.64 L82.32,668.27 L83.74,668.68 L85.15,668.93 L86.57,669.06 L87.98,669.14 L89.40,669.17 L89.4,669.2 Z" fill="#a6cee3" stroke="#111" stroke-width="0.7" stroke-linejoin="round"/>
<line x1="61.80" y1="669.70" x2="61.80" y2="653.10" stroke="#111" stroke-width="1.3" stroke-dasharray="2.2 1.6"/>
<path d="M97.7,669.2 L97.70,668.89 L99.06,668.69 L100.42,668.38 L101.78,667.96 L103.14,667.39 L104.49,666.67 L105.85,665.83 L107.21,664.89 L108.57,663.93 L109.93,663.01 L111.29,662.22 L112.65,661.64 L114.01,661.29 L115.37,661.20 L116.73,661.33 L118.08,661.64 L119.44,662.03 L120.80,662.46 L122.16,662.85 L123.52,663.18 L124.88,663.43 L126.24,663.61 L127.60,663.76 L128.96,663.89 L130.32,664.03 L131.67,664.18 L133.03,664.34 L134.39,664.47 L135.75,664.56 L137.11,664.57 L138.47,664.53 L139.83,664.49 L141.19,664.55 L142.55,664.79 L143.91,665.23 L145.26,665.86 L146.62,666.58 L147.98,667.29 L149.34,667.89 L150.70,668.35 L150.7,669.2 Z" fill="#a6cee3" stroke="#111" stroke-width="0.7" stroke-linejoin="round"/>
<line x1="117.00" y1="669.70" x2="117.00" y2="660.00" stroke="#111" stroke-width="1.3" stroke-dasharray="2.2 1.6"/>
<path d="M156.8,669.2 L156.80,669.08 L158.45,669.03 L160.10,668.97 L161.75,668.90 L163.41,668.82 L165.06,668.73 L166.71,668.64 L168.36,668.55 L170.01,668.46 L171.66,668.39 L173.31,668.34 L174.96,668.30 L176.62,668.29 L178.27,668.30 L179.92,668.30 L181.57,668.26 L183.22,668.12 L184.87,667.79 L186.52,667.18 L188.17,666.21 L189.83,664.85 L191.48,663.20 L193.13,661.39 L194.78,659.59 L196.43,657.95 L198.08,656.49 L199.73,655.22 L201.38,654.17 L203.04,653.44 L204.69,653.20 L206.34,653.63 L207.99,654.78 L209.64,656.58 L211.29,658.80 L212.94,661.16 L214.59,663.36 L216.25,665.23 L217.90,666.67 L219.55,667.69 L221.20,668.36 L221.2,669.2 Z" fill="#a6cee3" stroke="#111" stroke-width="0.7" stroke-linejoin="round"/>
<line x1="193.00" y1="669.70" x2="193.00" y2="650.80" stroke="#111" stroke-width="1.3" stroke-dasharray="2.2 1.6"/>
<path d="M34.2,688.2 L34.20,688.07 L35.62,687.99 L37.03,687.87 L38.45,687.68 L39.86,687.42 L41.28,687.05 L42.69,686.57 L44.11,685.95 L45.52,685.18 L46.94,684.26 L48.35,683.22 L49.77,682.08 L51.18,680.89 L52.60,679.72 L54.02,678.64 L55.43,677.71 L56.85,676.99 L58.26,676.51 L59.68,676.25 L61.09,676.20 L62.51,676.29 L63.92,676.47 L65.34,676.70 L66.75,676.97 L68.17,677.31 L69.58,677.80 L71.00,678.49 L72.42,679.41 L73.83,680.55 L75.25,681.83 L76.66,683.16 L78.08,684.42 L79.49,685.52 L80.91,686.41 L82.32,687.07 L83.74,687.53 L85.15,687.82 L86.57,688.00 L87.98,688.10 L89.40,688.15 L89.4,688.2 Z" fill="#3f7db0" stroke="#111" stroke-width="0.7" stroke-linejoin="round"/>
<line x1="61.80" y1="688.70" x2="61.80" y2="674.40" stroke="#111" stroke-width="1.3" stroke-dasharray="2.2 1.6"/>
<path d="M97.7,688.2 L97.70,688.12 L99.06,688.06 L100.42,687.95 L101.78,687.78 L103.14,687.53 L104.49,687.19 L105.85,686.73 L107.21,686.15 L108.57,685.47 L109.93,684.73 L111.29,683.96 L112.65,683.23 L114.01,682.58 L115.37,682.06 L116.73,681.68 L118.08,681.41 L119.44,681.22 L120.80,681.06 L122.16,680.89 L123.52,680.68 L124.88,680.46 L126.24,680.28 L127.60,680.20 L128.96,680.29 L130.32,680.59 L131.67,681.12 L133.03,681.83 L134.39,682.64 L135.75,683.45 L137.11,684.16 L138.47,684.71 L139.83,685.10 L141.19,685.41 L142.55,685.73 L143.91,686.13 L145.26,686.60 L146.62,687.08 L147.98,687.50 L149.34,687.82 L150.70,688.01 L150.7,688.2 Z" fill="#3f7db0" stroke="#111" stroke-width="0.7" stroke-linejoin="round"/>
<line x1="117.00" y1="688.70" x2="117.00" y2="679.00" stroke="#111" stroke-width="1.3" stroke-dasharray="2.2 1.6"/>
<path d="M156.8,688.2 L156.80,688.11 L158.45,688.07 L160.10,688.03 L161.75,687.97 L163.41,687.91 L165.06,687.85 L166.71,687.78 L168.36,687.71 L170.01,687.64 L171.66,687.59 L173.31,687.55 L174.96,687.52 L176.62,687.51 L178.27,687.52 L179.92,687.52 L181.57,687.51 L183.22,687.43 L184.87,687.24 L186.52,686.88 L188.17,686.30 L189.83,685.52 L191.48,684.59 L193.13,683.58 L194.78,682.57 L196.43,681.54 L198.08,680.41 L199.73,679.09 L201.38,677.58 L203.04,676.04 L204.69,674.79 L206.34,674.20 L207.99,674.52 L209.64,675.77 L211.29,677.74 L212.94,680.07 L214.59,682.37 L216.25,684.34 L217.90,685.84 L219.55,686.87 L221.20,687.51 L221.2,688.2 Z" fill="#3f7db0" stroke="#111" stroke-width="0.7" stroke-linejoin="round"/>
<line x1="193.00" y1="688.70" x2="193.00" y2="672.10" stroke="#111" stroke-width="1.3" stroke-dasharray="2.2 1.6"/>
<path d="M34.2,706.6 L34.20,706.59 L35.62,706.58 L37.03,706.53 L38.45,706.43 L39.86,706.21 L41.28,705.85 L42.69,705.37 L44.11,704.83 L45.52,704.29 L46.94,703.74 L48.35,703.13 L49.77,702.45 L51.18,701.80 L52.60,701.36 L54.02,701.32 L55.43,701.72 L56.85,702.44 L58.26,703.25 L59.68,703.91 L61.09,704.22 L62.51,704.10 L63.92,703.52 L65.34,702.53 L66.75,701.20 L68.17,699.64 L69.58,697.97 L71.00,696.37 L72.42,695.00 L73.83,694.04 L75.25,693.60 L76.66,693.75 L78.08,694.46 L79.49,695.65 L80.91,697.16 L82.32,698.82 L83.74,700.48 L85.15,702.00 L86.57,703.30 L87.98,704.33 L89.40,705.11 L89.4,706.6 Z" fill="#a6d97f" stroke="#111" stroke-width="0.7" stroke-linejoin="round"/>
<line x1="61.80" y1="707.10" x2="61.80" y2="691.65" stroke="#111" stroke-width="1.3" stroke-dasharray="2.2 1.6"/>
<path d="M97.7,706.6 L97.70,706.53 L99.06,706.49 L100.42,706.43 L101.78,706.33 L103.14,706.19 L104.49,706.01 L105.85,705.77 L107.21,705.47 L108.57,705.12 L109.93,704.73 L111.29,704.30 L112.65,703.87 L114.01,703.47 L115.37,703.13 L116.73,702.87 L118.08,702.73 L119.44,702.72 L120.80,702.83 L122.16,703.04 L123.52,703.33 L124.88,703.63 L126.24,703.86 L127.60,703.91 L128.96,703.66 L130.32,702.97 L131.67,701.78 L133.03,700.10 L134.39,698.09 L135.75,696.08 L137.11,694.46 L138.47,693.60 L139.83,693.73 L141.19,694.83 L142.55,696.67 L143.91,698.88 L145.26,701.06 L146.62,702.93 L147.98,704.36 L149.34,705.34 L150.70,705.95 L150.7,706.6 Z" fill="#a6d97f" stroke="#111" stroke-width="0.7" stroke-linejoin="round"/>
<line x1="117.00" y1="707.10" x2="117.00" y2="691.65" stroke="#111" stroke-width="1.3" stroke-dasharray="2.2 1.6"/>
<path d="M156.8,706.6 L156.80,706.36 L158.45,706.26 L160.10,706.12 L161.75,705.92 L163.41,705.65 L165.06,705.29 L166.71,704.83 L168.36,704.29 L170.01,703.66 L171.66,702.99 L173.31,702.31 L174.96,701.67 L176.62,701.09 L178.27,700.59 L179.92,700.16 L181.57,699.78 L183.22,699.43 L184.87,699.09 L186.52,698.74 L188.17,698.41 L189.83,698.11 L191.48,697.86 L193.13,697.68 L194.78,697.60 L196.43,697.63 L198.08,697.77 L199.73,698.02 L201.38,698.37 L203.04,698.82 L204.69,699.34 L206.34,699.92 L207.99,700.53 L209.64,701.16 L211.29,701.80 L212.94,702.41 L214.59,703.00 L216.25,703.54 L217.90,704.04 L219.55,704.49 L221.20,704.88 L221.2,706.6 Z" fill="#a6d97f" stroke="#111" stroke-width="0.7" stroke-linejoin="round"/>
<line x1="193.00" y1="707.10" x2="193.00" y2="696.25" stroke="#111" stroke-width="1.3" stroke-dasharray="2.2 1.6"/>
<text x="2.6" y="756.3" font-size="14.6" fill="#000" font-weight="bold">B</text>
<text x="108.0" y="744.2" font-size="4.6" fill="#222">Group</text>
<line x1="123.80" y1="742.40" x2="127.00" y2="742.40" stroke="#4db848" stroke-width="0.8" />
<line x1="125.40" y1="740.80" x2="125.40" y2="744.00" stroke="#4db848" stroke-width="0.8" />
<text x="129.4" y="744.2" font-size="4.2" fill="#222">1</text>
<line x1="135.80" y1="742.40" x2="139.00" y2="742.40" stroke="#5b8fd1" stroke-width="0.8" />
<line x1="137.40" y1="740.80" x2="137.40" y2="744.00" stroke="#5b8fd1" stroke-width="0.8" />
<text x="141.4" y="744.2" font-size="4.2" fill="#222">2</text>
<line x1="148.40" y1="742.40" x2="151.60" y2="742.40" stroke="#e05a5a" stroke-width="0.8" />
<line x1="150.00" y1="740.80" x2="150.00" y2="744.00" stroke="#e05a5a" stroke-width="0.8" />
<text x="154.0" y="744.2" font-size="4.2" fill="#222">3</text>
<rect x="37.80" y="752.80" width="194.20" height="133.20" fill="#ffffff" stroke="#d6d6d6" stroke-width="0.5"/>
<line x1="43.80" y1="752.80" x2="43.80" y2="886.00" stroke="#e6e6e6" stroke-width="0.5" />
<line x1="60.20" y1="752.80" x2="60.20" y2="886.00" stroke="#e6e6e6" stroke-width="0.5" />
<line x1="76.60" y1="752.80" x2="76.60" y2="886.00" stroke="#e6e6e6" stroke-width="0.5" />
<line x1="93.00" y1="752.80" x2="93.00" y2="886.00" stroke="#e6e6e6" stroke-width="0.5" />
<line x1="109.40" y1="752.80" x2="109.40" y2="886.00" stroke="#e6e6e6" stroke-width="0.5" />
<line x1="125.80" y1="752.80" x2="125.80" y2="886.00" stroke="#e6e6e6" stroke-width="0.5" />
<line x1="142.20" y1="752.80" x2="142.20" y2="886.00" stroke="#e6e6e6" stroke-width="0.5" />
<line x1="158.60" y1="752.80" x2="158.60" y2="886.00" stroke="#e6e6e6" stroke-width="0.5" />
<line x1="175.00" y1="752.80" x2="175.00" y2="886.00" stroke="#e6e6e6" stroke-width="0.5" />
<line x1="191.40" y1="752.80" x2="191.40" y2="886.00" stroke="#e6e6e6" stroke-width="0.5" />
<line x1="207.79" y1="752.80" x2="207.79" y2="886.00" stroke="#e6e6e6" stroke-width="0.5" />
<line x1="51.98" y1="752.80" x2="51.98" y2="886.00" stroke="#f1f1f1" stroke-width="0.4" />
<line x1="68.38" y1="752.80" x2="68.38" y2="886.00" stroke="#f1f1f1" stroke-width="0.4" />
<line x1="84.78" y1="752.80" x2="84.78" y2="886.00" stroke="#f1f1f1" stroke-width="0.4" />
<line x1="101.18" y1="752.80" x2="101.18" y2="886.00" stroke="#f1f1f1" stroke-width="0.4" />
<line x1="117.58" y1="752.80" x2="117.58" y2="886.00" stroke="#f1f1f1" stroke-width="0.4" />
<line x1="133.97" y1="752.80" x2="133.97" y2="886.00" stroke="#f1f1f1" stroke-width="0.4" />
<line x1="150.37" y1="752.80" x2="150.37" y2="886.00" stroke="#f1f1f1" stroke-width="0.4" />
<line x1="166.77" y1="752.80" x2="166.77" y2="886.00" stroke="#f1f1f1" stroke-width="0.4" />
<line x1="183.17" y1="752.80" x2="183.17" y2="886.00" stroke="#f1f1f1" stroke-width="0.4" />
<line x1="199.57" y1="752.80" x2="199.57" y2="886.00" stroke="#f1f1f1" stroke-width="0.4" />
<line x1="37.80" y1="880.50" x2="232.00" y2="880.50" stroke="#e6e6e6" stroke-width="0.5" />
<line x1="37.80" y1="850.20" x2="232.00" y2="850.20" stroke="#e6e6e6" stroke-width="0.5" />
<line x1="37.80" y1="819.90" x2="232.00" y2="819.90" stroke="#e6e6e6" stroke-width="0.5" />
<line x1="37.80" y1="789.60" x2="232.00" y2="789.60" stroke="#e6e6e6" stroke-width="0.5" />
<line x1="37.80" y1="759.30" x2="232.00" y2="759.30" stroke="#e6e6e6" stroke-width="0.5" />
<line x1="37.80" y1="865.35" x2="232.00" y2="865.35" stroke="#f1f1f1" stroke-width="0.4" />
<line x1="37.80" y1="835.05" x2="232.00" y2="835.05" stroke="#f1f1f1" stroke-width="0.4" />
<line x1="37.80" y1="804.75" x2="232.00" y2="804.75" stroke="#f1f1f1" stroke-width="0.4" />
<line x1="37.80" y1="774.45" x2="232.00" y2="774.45" stroke="#f1f1f1" stroke-width="0.4" />
<text x="35.5" y="881.9" font-size="3.8" fill="#555" text-anchor="end">0.00</text>
<line x1="36.00" y1="880.50" x2="37.80" y2="880.50" stroke="#666" stroke-width="0.4" />
<text x="35.5" y="851.6" font-size="3.8" fill="#555" text-anchor="end">0.25</text>
<line x1="36.00" y1="850.20" x2="37.80" y2="850.20" stroke="#666" stroke-width="0.4" />
<text x="35.5" y="821.3" font-size="3.8" fill="#555" text-anchor="end">0.50</text>
<line x1="36.00" y1="819.90" x2="37.80" y2="819.90" stroke="#666" stroke-width="0.4" />
<text x="35.5" y="791.0" font-size="3.8" fill="#555" text-anchor="end">0.75</text>
<line x1="36.00" y1="789.60" x2="37.80" y2="789.60" stroke="#666" stroke-width="0.4" />
<text x="35.5" y="760.7" font-size="3.8" fill="#555" text-anchor="end">1.00</text>
<line x1="36.00" y1="759.30" x2="37.80" y2="759.30" stroke="#666" stroke-width="0.4" />
<text x="43.8" y="891.3" font-size="3.8" fill="#555" text-anchor="middle">0</text>
<line x1="43.80" y1="886.00" x2="43.80" y2="887.60" stroke="#666" stroke-width="0.4" />
<text x="60.2" y="891.3" font-size="3.8" fill="#555" text-anchor="middle">365</text>
<line x1="60.20" y1="886.00" x2="60.20" y2="887.60" stroke="#666" stroke-width="0.4" />
<text x="76.6" y="891.3" font-size="3.8" fill="#555" text-anchor="middle">730</text>
<line x1="76.60" y1="886.00" x2="76.60" y2="887.60" stroke="#666" stroke-width="0.4" />
<text x="93.0" y="891.3" font-size="3.8" fill="#555" text-anchor="middle">1095</text>
<line x1="93.00" y1="886.00" x2="93.00" y2="887.60" stroke="#666" stroke-width="0.4" />
<text x="109.4" y="891.3" font-size="3.8" fill="#555" text-anchor="middle">1460</text>
<line x1="109.40" y1="886.00" x2="109.40" y2="887.60" stroke="#666" stroke-width="0.4" />
<text x="125.8" y="891.3" font-size="3.8" fill="#555" text-anchor="middle">1825</text>
<line x1="125.80" y1="886.00" x2="125.80" y2="887.60" stroke="#666" stroke-width="0.4" />
<text x="142.2" y="891.3" font-size="3.8" fill="#555" text-anchor="middle">2190</text>
<line x1="142.20" y1="886.00" x2="142.20" y2="887.60" stroke="#666" stroke-width="0.4" />
<text x="158.6" y="891.3" font-size="3.8" fill="#555" text-anchor="middle">2555</text>
<line x1="158.60" y1="886.00" x2="158.60" y2="887.60" stroke="#666" stroke-width="0.4" />
<text x="175.0" y="891.3" font-size="3.8" fill="#555" text-anchor="middle">2920</text>
<line x1="175.00" y1="886.00" x2="175.00" y2="887.60" stroke="#666" stroke-width="0.4" />
<text x="191.4" y="891.3" font-size="3.8" fill="#555" text-anchor="middle">3285</text>
<line x1="191.40" y1="886.00" x2="191.40" y2="887.60" stroke="#666" stroke-width="0.4" />
<text x="207.8" y="891.3" font-size="3.8" fill="#555" text-anchor="middle">3650</text>
<line x1="207.79" y1="886.00" x2="207.79" y2="887.60" stroke="#666" stroke-width="0.4" />
<text x="133.0" y="896.0" font-size="4.8" fill="#111" text-anchor="middle">Time(days)</text>
<text x="24.2" y="819.0" font-size="4.8" fill="#111" text-anchor="middle" transform="rotate(-90 24.2 819.0)">Survival probability</text>
<text x="46.6" y="857.0" font-size="4.6" fill="#111">p=9.292e-03</text>
<path d="M43.80,759.30 L44.50,759.30 L44.50,768.03 L49.00,768.03 L49.00,773.60 L59.90,773.60 L59.90,779.06 L71.60,779.06 L71.60,789.24 L73.80,789.24 L73.80,798.45 L77.40,798.45 L77.40,807.54 L88.40,807.54 L88.40,817.72 L141.20,817.72 L141.20,849.11 L202.50,849.11 L202.50,880.50" fill="none" stroke="#4ab846" stroke-width="1.35"/>
<path d="M43.80,759.30 L44.70,759.30 L44.70,759.84 L45.60,759.84 L45.60,760.38 L46.46,760.38 L46.46,760.92 L47.52,760.92 L47.52,761.45 L48.26,761.45 L48.26,761.99 L49.27,761.99 L49.27,762.53 L50.26,762.53 L50.26,763.07 L51.01,763.07 L51.01,763.61 L52.01,763.61 L52.01,764.15 L53.01,764.15 L53.01,765.01 L53.88,765.01 L53.88,765.88 L54.94,765.88 L54.94,766.74 L55.99,766.74 L55.99,767.60 L56.93,767.60 L56.93,768.47 L57.97,768.47 L57.97,769.33 L58.84,769.33 L58.84,770.19 L59.85,770.19 L59.85,771.06 L60.57,771.06 L60.57,776.09 L61.40,776.09 L61.40,781.12 L62.45,781.12 L62.45,783.14 L63.35,783.14 L63.35,785.16 L64.35,785.16 L64.35,787.18 L65.24,787.18 L65.24,789.20 L66.28,789.20 L66.28,791.22 L67.12,791.22 L67.12,793.24 L68.26,793.24 L68.26,796.87 L69.43,796.87 L69.43,800.51 L70.55,800.51 L70.55,804.14 L71.58,804.14 L71.58,807.78 L72.62,807.78 L72.62,809.90 L73.75,809.90 L73.75,812.02 L74.84,812.02 L74.84,814.14 L75.96,814.14 L75.96,816.26 L77.03,816.26 L77.03,817.27 L77.87,817.27 L77.87,818.28 L78.98,818.28 L78.98,819.29 L79.94,819.29 L79.94,820.30 L80.74,820.30 L80.74,821.31 L81.78,821.31 L81.78,822.32 L82.90,822.32 L82.90,824.45 L83.90,824.45 L83.90,826.57 L85.08,826.57 L85.08,828.69 L86.28,828.69 L86.28,830.81 L87.09,830.81 L87.09,832.83 L88.15,832.83 L88.15,834.85 L89.02,834.85 L89.02,836.87 L90.08,836.87 L90.08,838.89 L91.11,838.89 L91.11,840.91 L91.94,840.91 L91.94,842.93 L92.88,842.93 L92.88,843.84 L93.88,843.84 L93.88,844.75 L94.96,844.75 L94.96,845.65 L95.84,845.65 L95.84,846.56 L96.83,846.56 L96.83,847.47 L97.90,847.47 L97.90,848.38 L98.60,848.38 L98.60,854.20 L105.20,854.20 L105.20,854.20 L105.90,854.20 L105.90,863.05 L155.90,863.05 L155.90,863.05 L155.90,863.05 L155.90,880.50" fill="none" stroke="#e05a57" stroke-width="1.35"/>
<path d="M43.80,759.30 L44.74,759.30 L44.74,759.84 L45.67,759.84 L45.67,760.38 L46.59,760.38 L46.59,760.92 L47.53,760.92 L47.53,761.45 L48.40,761.45 L48.40,761.99 L49.35,761.99 L49.35,762.53 L50.08,762.53 L50.08,763.07 L51.08,763.07 L51.08,763.61 L52.09,763.61 L52.09,764.15 L53.02,764.15 L53.02,764.81 L54.06,764.81 L54.06,765.48 L54.89,765.48 L54.89,766.15 L55.94,766.15 L55.94,766.81 L56.89,766.81 L56.89,767.48 L57.93,767.48 L57.93,768.15 L58.93,768.15 L58.93,768.81 L59.80,768.81 L59.80,769.48 L60.74,769.48 L60.74,771.48 L61.66,771.48 L61.66,773.48 L62.68,773.48 L62.68,775.48 L63.55,775.48 L63.55,777.48 L64.38,777.48 L64.38,778.87 L65.46,778.87 L65.46,780.27 L66.28,780.27 L66.28,781.66 L67.32,781.66 L67.32,783.06 L68.18,783.06 L68.18,784.45 L69.10,784.45 L69.10,785.84 L70.22,785.84 L70.22,787.24 L71.04,787.24 L71.04,788.63 L71.99,788.63 L71.99,790.02 L73.10,790.02 L73.10,791.42 L73.99,791.42 L73.99,792.51 L74.78,792.51 L74.78,793.60 L75.83,793.60 L75.83,794.69 L76.66,794.69 L76.66,795.78 L77.60,795.78 L77.60,796.87 L78.42,796.87 L78.42,797.96 L79.48,797.96 L79.48,799.05 L80.34,799.05 L80.34,800.14 L81.38,800.14 L81.38,801.62 L82.35,801.62 L82.35,803.09 L83.21,803.09 L83.21,804.57 L84.21,804.57 L84.21,806.04 L85.15,806.04 L85.15,807.52 L86.13,807.52 L86.13,808.99 L87.03,808.99 L87.03,809.72 L87.99,809.72 L87.99,810.45 L88.96,810.45 L88.96,811.17 L89.75,811.17 L89.75,811.90 L90.80,811.90 L90.80,812.63 L91.64,812.63 L91.64,813.36 L92.55,813.36 L92.55,814.08 L93.56,814.08 L93.56,814.81 L94.46,814.81 L94.46,818.20 L95.40,818.20 L95.40,821.60 L96.40,821.60 L96.40,824.99 L97.42,824.99 L97.42,825.97 L98.27,825.97 L98.27,826.96 L99.43,826.96 L99.43,827.94 L100.22,827.94 L100.22,828.92 L101.34,828.92 L101.34,829.91 L102.34,829.91 L102.34,830.89 L103.15,830.89 L103.15,831.87 L104.28,831.87 L104.28,832.85 L105.17,832.85 L105.17,833.84 L106.29,833.84 L106.29,834.57 L107.25,834.57 L107.25,835.29 L108.33,835.29 L108.33,836.02 L109.44,836.02 L109.44,836.75 L117.60,836.75 L117.60,836.75 L118.30,836.75 L118.30,839.66 L119.36,839.66 L119.36,839.74 L120.17,839.74 L120.17,839.82 L121.25,839.82 L121.25,839.90 L122.25,839.90 L122.25,839.98 L123.22,839.98 L123.22,840.06 L124.07,840.06 L124.07,840.14 L125.04,840.14 L125.04,840.22 L126.04,840.22 L126.04,840.30 L127.06,840.30 L127.06,840.38 L127.67,840.38 L127.67,844.38 L128.55,844.38 L128.55,848.38 L129.53,848.38 L129.53,852.26 L130.51,852.26 L130.51,856.14 L131.31,856.14 L131.31,860.02 L132.41,860.02 L132.41,860.09 L133.16,860.09 L133.16,860.16 L134.13,860.16 L134.13,860.23 L135.11,860.23 L135.11,860.30 L136.09,860.30 L136.09,860.37 L136.89,860.37 L136.89,860.44 L137.93,860.44 L137.93,860.51 L138.78,860.51 L138.78,860.58 L139.65,860.58 L139.65,860.65 L140.57,860.65 L140.57,860.72 L141.47,860.72 L141.47,860.79 L142.37,860.79 L142.37,860.86 L143.30,860.86 L143.30,860.93 L144.33,860.93 L144.33,861.00 L145.32,861.00 L145.32,861.07 L146.07,861.07 L146.07,861.14 L146.97,861.14 L146.97,861.21 L148.08,861.21 L148.08,861.28 L148.91,861.28 L148.91,861.35 L149.20,861.35 L149.20,866.56 L201.50,866.56 L201.50,866.56 L201.80,866.56 L201.80,873.71 L210.20,873.71 L210.20,873.71 L210.20,873.71 L210.20,880.50" fill="none" stroke="#5a8cd2" stroke-width="1.35"/>
<text x="38.5" y="907.8" font-size="6.0" fill="#111" textLength="33.3" lengthAdjust="spacingAndGlyphs">Number at risk</text>
<rect x="39.20" y="911.70" width="192.80" height="21.40" fill="#ffffff" stroke="#d6d6d6" stroke-width="0.5"/>
<line x1="47.80" y1="911.70" x2="47.80" y2="933.10" stroke="#ececec" stroke-width="0.4" />
<line x1="63.84" y1="911.70" x2="63.84" y2="933.10" stroke="#ececec" stroke-width="0.4" />
<line x1="79.88" y1="911.70" x2="79.88" y2="933.10" stroke="#ececec" stroke-width="0.4" />
<line x1="95.92" y1="911.70" x2="95.92" y2="933.10" stroke="#ececec" stroke-width="0.4" />
<line x1="111.96" y1="911.70" x2="111.96" y2="933.10" stroke="#ececec" stroke-width="0.4" />
<line x1="128.00" y1="911.70" x2="128.00" y2="933.10" stroke="#ececec" stroke-width="0.4" />
<line x1="144.04" y1="911.70" x2="144.04" y2="933.10" stroke="#ececec" stroke-width="0.4" />
<line x1="160.08" y1="911.70" x2="160.08" y2="933.10" stroke="#ececec" stroke-width="0.4" />
<line x1="176.12" y1="911.70" x2="176.12" y2="933.10" stroke="#ececec" stroke-width="0.4" />
<line x1="192.16" y1="911.70" x2="192.16" y2="933.10" stroke="#ececec" stroke-width="0.4" />
<line x1="208.20" y1="911.70" x2="208.20" y2="933.10" stroke="#ececec" stroke-width="0.4" />
<line x1="39.20" y1="918.90" x2="232.00" y2="918.90" stroke="#ececec" stroke-width="0.4" />
<line x1="39.20" y1="926.10" x2="232.00" y2="926.10" stroke="#ececec" stroke-width="0.4" />
<text x="47.6" y="917.6" font-size="5.4" fill="#111" text-anchor="middle">150</text>
<text x="63.6" y="917.6" font-size="5.4" fill="#111" text-anchor="middle">82</text>
<text x="79.6" y="917.6" font-size="5.4" fill="#111" text-anchor="middle">29</text>
<text x="95.7" y="917.6" font-size="5.4" fill="#111" text-anchor="middle">14</text>
<text x="111.7" y="917.6" font-size="5.4" fill="#111" text-anchor="middle">4</text>
<text x="127.7" y="917.6" font-size="5.4" fill="#111" text-anchor="middle">3</text>
<text x="143.7" y="917.6" font-size="5.4" fill="#111" text-anchor="middle">3</text>
<text x="159.7" y="917.6" font-size="5.4" fill="#111" text-anchor="middle">0</text>
<text x="175.8" y="917.6" font-size="5.4" fill="#111" text-anchor="middle">0</text>
<text x="191.8" y="917.6" font-size="5.4" fill="#111" text-anchor="middle">0</text>
<text x="207.8" y="917.6" font-size="5.4" fill="#111" text-anchor="middle">0</text>
<text x="47.6" y="924.5" font-size="5.4" fill="#111" text-anchor="middle">34</text>
<text x="63.6" y="924.5" font-size="5.4" fill="#111" text-anchor="middle">16</text>
<text x="79.6" y="924.5" font-size="5.4" fill="#111" text-anchor="middle">9</text>
<text x="95.7" y="924.5" font-size="5.4" fill="#111" text-anchor="middle">3</text>
<text x="111.7" y="924.5" font-size="5.4" fill="#111" text-anchor="middle">3</text>
<text x="127.7" y="924.5" font-size="5.4" fill="#111" text-anchor="middle">2</text>
<text x="143.7" y="924.5" font-size="5.4" fill="#111" text-anchor="middle">1</text>
<text x="159.7" y="924.5" font-size="5.4" fill="#111" text-anchor="middle">1</text>
<text x="175.8" y="924.5" font-size="5.4" fill="#111" text-anchor="middle">1</text>
<text x="191.8" y="924.5" font-size="5.4" fill="#111" text-anchor="middle">1</text>
<text x="207.8" y="924.5" font-size="5.4" fill="#111" text-anchor="middle">0</text>
<text x="47.6" y="931.4" font-size="5.4" fill="#111" text-anchor="middle">164</text>
<text x="63.6" y="931.4" font-size="5.4" fill="#111" text-anchor="middle">110</text>
<text x="79.6" y="931.4" font-size="5.4" fill="#111" text-anchor="middle">53</text>
<text x="95.7" y="931.4" font-size="5.4" fill="#111" text-anchor="middle">29</text>
<text x="111.7" y="931.4" font-size="5.4" fill="#111" text-anchor="middle">15</text>
<text x="127.7" y="931.4" font-size="5.4" fill="#111" text-anchor="middle">9</text>
<text x="143.7" y="931.4" font-size="5.4" fill="#111" text-anchor="middle">3</text>
<text x="159.7" y="931.4" font-size="5.4" fill="#111" text-anchor="middle">2</text>
<text x="175.8" y="931.4" font-size="5.4" fill="#111" text-anchor="middle">2</text>
<text x="191.8" y="931.4" font-size="5.4" fill="#111" text-anchor="middle">2</text>
<text x="207.8" y="931.4" font-size="5.4" fill="#111" text-anchor="middle">1</text>
<line x1="27.80" y1="912.80" x2="35.60" y2="912.80" stroke="#e0605d" stroke-width="1.9" />
<line x1="27.80" y1="920.80" x2="35.60" y2="920.80" stroke="#4cb84a" stroke-width="1.9" />
<line x1="27.80" y1="928.50" x2="35.60" y2="928.50" stroke="#5b8ed0" stroke-width="1.9" />
<text x="24.2" y="921.5" font-size="5.0" fill="#111" text-anchor="middle" transform="rotate(-90 24.2 921.5)">Group</text>
<text x="48.0" y="938.6" font-size="3.7" fill="#555" text-anchor="middle">0</text>
<text x="64.0" y="938.6" font-size="3.7" fill="#555" text-anchor="middle">365</text>
<text x="80.0" y="938.6" font-size="3.7" fill="#555" text-anchor="middle">730</text>
<text x="96.0" y="938.6" font-size="3.7" fill="#555" text-anchor="middle">1095</text>
<text x="112.0" y="938.6" font-size="3.7" fill="#555" text-anchor="middle">1460</text>
<text x="128.0" y="938.6" font-size="3.7" fill="#555" text-anchor="middle">1825</text>
<text x="144.0" y="938.6" font-size="3.7" fill="#555" text-anchor="middle">2190</text>
<text x="160.0" y="938.6" font-size="3.7" fill="#555" text-anchor="middle">2555</text>
<text x="176.0" y="938.6" font-size="3.7" fill="#555" text-anchor="middle">2920</text>
<text x="192.0" y="938.6" font-size="3.7" fill="#555" text-anchor="middle">3285</text>
<text x="208.0" y="938.6" font-size="3.7" fill="#555" text-anchor="middle">3650</text>
<text x="136.7" y="945.0" font-size="4.8" fill="#111" text-anchor="middle">Time(days)</text>
<text x="246.6" y="390.2" font-size="14.6" fill="#000" font-weight="bold">D</text>
<rect x="286.00" y="382.80" width="157.30" height="124.60" fill="#ffffff" stroke="#222" stroke-width="0.75"/>
<line x1="293.20" y1="382.80" x2="293.20" y2="507.40" stroke="#d9d9d9" stroke-width="0.6" />
<text x="293.2" y="513.4" font-size="4.9" fill="#333" text-anchor="middle">0</text>
<line x1="293.20" y1="507.40" x2="293.20" y2="508.90" stroke="#333" stroke-width="0.4" />
<line x1="322.26" y1="382.80" x2="322.26" y2="507.40" stroke="#d9d9d9" stroke-width="0.6" />
<text x="322.3" y="513.4" font-size="4.9" fill="#333" text-anchor="middle">20</text>
<line x1="322.26" y1="507.40" x2="322.26" y2="508.90" stroke="#333" stroke-width="0.4" />
<line x1="351.32" y1="382.80" x2="351.32" y2="507.40" stroke="#d9d9d9" stroke-width="0.6" />
<text x="351.3" y="513.4" font-size="4.9" fill="#333" text-anchor="middle">40</text>
<line x1="351.32" y1="507.40" x2="351.32" y2="508.90" stroke="#333" stroke-width="0.4" />
<line x1="380.38" y1="382.80" x2="380.38" y2="507.40" stroke="#d9d9d9" stroke-width="0.6" />
<text x="380.4" y="513.4" font-size="4.9" fill="#333" text-anchor="middle">60</text>
<line x1="380.38" y1="507.40" x2="380.38" y2="508.90" stroke="#333" stroke-width="0.4" />
<line x1="409.44" y1="382.80" x2="409.44" y2="507.40" stroke="#d9d9d9" stroke-width="0.6" />
<text x="409.4" y="513.4" font-size="4.9" fill="#333" text-anchor="middle">80</text>
<line x1="409.44" y1="507.40" x2="409.44" y2="508.90" stroke="#333" stroke-width="0.4" />
<line x1="438.50" y1="382.80" x2="438.50" y2="507.40" stroke="#d9d9d9" stroke-width="0.6" />
<text x="438.5" y="513.4" font-size="4.9" fill="#333" text-anchor="middle">100</text>
<line x1="438.50" y1="507.40" x2="438.50" y2="508.90" stroke="#333" stroke-width="0.4" />
<line x1="286.00" y1="485.40" x2="443.30" y2="485.40" stroke="#d9d9d9" stroke-width="0.6" />
<text x="284.4" y="487.1" font-size="4.9" fill="#333" text-anchor="end">0.05</text>
<line x1="284.50" y1="485.40" x2="286.00" y2="485.40" stroke="#333" stroke-width="0.4" />
<line x1="286.00" y1="460.00" x2="443.30" y2="460.00" stroke="#d9d9d9" stroke-width="0.6" />
<text x="284.4" y="461.7" font-size="4.9" fill="#333" text-anchor="end">0.10</text>
<line x1="284.50" y1="460.00" x2="286.00" y2="460.00" stroke="#333" stroke-width="0.4" />
<line x1="286.00" y1="434.60" x2="443.30" y2="434.60" stroke="#d9d9d9" stroke-width="0.6" />
<text x="284.4" y="436.3" font-size="4.9" fill="#333" text-anchor="end">0.15</text>
<line x1="284.50" y1="434.60" x2="286.00" y2="434.60" stroke="#333" stroke-width="0.4" />
<line x1="286.00" y1="409.20" x2="443.30" y2="409.20" stroke="#d9d9d9" stroke-width="0.6" />
<text x="284.4" y="410.9" font-size="4.9" fill="#333" text-anchor="end">0.20</text>
<line x1="284.50" y1="409.20" x2="286.00" y2="409.20" stroke="#333" stroke-width="0.4" />
<line x1="286.00" y1="383.80" x2="443.30" y2="383.80" stroke="#d9d9d9" stroke-width="0.6" />
<text x="284.4" y="385.5" font-size="4.9" fill="#333" text-anchor="end">0.25</text>
<line x1="284.50" y1="383.80" x2="286.00" y2="383.80" stroke="#333" stroke-width="0.4" />
<text x="364.0" y="380.2" font-size="6.0" fill="#222" text-anchor="middle" textLength="71.2" lengthAdjust="spacingAndGlyphs">Training and Validation Loss</text>
<text x="364.3" y="519.0" font-size="5.0" fill="#333" text-anchor="middle">Epoch</text>
<text x="270.4" y="445.5" font-size="5.0" fill="#333" text-anchor="middle" transform="rotate(-90 270.4 445.5)">Loss</text>
<path d="M293.20,399.04 L294.65,436.63 L296.11,442.22 L297.56,439.68 L299.01,449.84 L300.46,466.10 L301.92,469.14 L303.37,458.98 L304.82,470.16 L306.28,472.70 L307.73,473.88 L309.18,477.57 L310.64,475.30 L312.09,482.06 L313.54,479.72 L315.00,473.98 L316.45,478.40 L317.90,477.04 L319.35,474.95 L320.81,479.30 L322.26,472.99 L323.71,473.17 L325.17,475.68 L326.62,480.41 L328.07,484.17 L329.52,478.40 L330.98,478.81 L332.43,477.97 L333.88,484.95 L335.34,480.40 L336.79,482.09 L338.24,482.48 L339.70,480.52 L341.15,477.53 L342.60,479.16 L344.06,480.51 L345.51,484.22 L346.96,480.04 L348.41,479.62 L349.87,479.10 L351.32,476.22 L352.77,484.77 L354.23,486.11 L355.68,489.49 L357.13,487.34 L358.58,486.70 L360.04,481.75 L361.49,482.00 L362.94,480.46 L364.40,480.61 L365.85,480.52 L367.30,478.18 L368.76,481.78 L370.21,488.40 L371.66,477.46 L373.12,482.11 L374.57,483.55 L376.02,485.56 L377.47,481.26 L378.93,487.54 L380.38,484.97 L381.83,482.48 L383.29,487.14 L384.74,484.32 L386.19,483.71 L387.64,484.19 L389.10,483.08 L390.55,490.98 L392.00,485.10 L393.46,484.74 L394.91,489.29 L396.36,485.77 L397.82,491.39 L399.27,486.76 L400.72,486.27 L402.18,487.61 L403.63,484.70 L405.08,485.34 L406.53,486.45 L407.99,484.13 L409.44,485.54 L410.89,491.91 L412.35,483.29 L413.80,490.26 L415.25,487.84 L416.70,492.83 L418.16,496.51 L419.61,491.32 L421.06,495.67 L422.52,489.49 L423.97,487.44 L425.42,487.97 L426.88,489.23 L428.33,494.60 L429.78,500.64 L431.24,493.55 L432.69,490.03 L434.14,493.96 L435.59,490.14 L437.05,496.58" fill="none" stroke="#3b7db3" stroke-width="0.8" stroke-linejoin="round"/>
<path d="M293.20,439.17 L294.65,475.24 L296.11,482.86 L297.56,388.88 L299.01,444.76 L300.46,475.24 L301.92,480.32 L303.37,482.86 L304.82,480.32 L306.28,484.38 L307.73,482.92 L309.18,470.80 L310.64,482.63 L312.09,478.29 L313.54,475.41 L315.00,473.90 L316.45,482.81 L317.90,475.54 L319.35,479.43 L320.81,474.21 L322.26,479.45 L323.71,473.26 L325.17,474.53 L326.62,480.64 L328.07,479.45 L329.52,483.01 L330.98,485.94 L332.43,481.49 L333.88,480.27 L335.34,482.96 L336.79,479.44 L338.24,481.88 L339.70,481.34 L341.15,476.06 L342.60,482.30 L344.06,484.35 L345.51,470.92 L346.96,480.13 L348.41,484.91 L349.87,481.44 L351.32,479.67 L352.77,486.10 L354.23,482.45 L355.68,487.95 L357.13,478.42 L358.58,483.39 L360.04,482.30 L361.49,478.70 L362.94,482.89 L364.40,483.40 L365.85,482.52 L367.30,483.61 L368.76,484.98 L370.21,483.46 L371.66,481.91 L373.12,490.33 L374.57,479.81 L376.02,479.86 L377.47,479.66 L378.93,474.97 L380.38,481.47 L381.83,480.77 L383.29,478.79 L384.74,484.37 L386.19,479.97 L387.64,485.13 L389.10,482.20 L390.55,489.86 L392.00,483.99 L393.46,479.43 L394.91,488.73 L396.36,478.89 L397.82,481.07 L399.27,488.82 L400.72,494.29 L402.18,486.14 L403.63,481.38 L405.08,480.11 L406.53,488.15 L407.99,485.61 L409.44,488.48 L410.89,482.69 L412.35,484.97 L413.80,485.21 L415.25,487.35 L416.70,482.69 L418.16,488.95 L419.61,491.21 L421.06,488.23 L422.52,487.68 L423.97,489.81 L425.42,482.67 L426.88,485.08 L428.33,489.93 L429.78,487.06 L431.24,485.40 L432.69,493.77 L434.14,494.83 L435.59,487.01 L437.05,497.08" fill="none" stroke="#e39a3b" stroke-width="0.8" stroke-linejoin="round"/>
<rect x="394.00" y="383.20" width="48.00" height="16.00" fill="#ffffff" stroke="#d0d0d0" stroke-width="0.4" rx="1" fill-opacity="0.85"/>
<line x1="396.20" y1="388.60" x2="405.00" y2="388.60" stroke="#3b7db3" stroke-width="0.8" />
<text x="408.0" y="390.3" font-size="4.8" fill="#222" textLength="21.3" lengthAdjust="spacingAndGlyphs">Train Loss</text>
<line x1="396.20" y1="395.10" x2="405.00" y2="395.10" stroke="#e39a3b" stroke-width="0.8" />
<text x="408.0" y="396.8" font-size="4.8" fill="#222" textLength="31.6" lengthAdjust="spacingAndGlyphs">Validation Loss</text>
<text x="468.4" y="390.4" font-size="14.6" fill="#000" font-weight="bold">E</text>
<rect x="500.60" y="383.80" width="158.20" height="125.80" fill="#ffffff" stroke="#222" stroke-width="0.75"/>
<line x1="508.30" y1="383.80" x2="508.30" y2="509.60" stroke="#d9d9d9" stroke-width="0.6" />
<text x="508.3" y="515.4" font-size="4.9" fill="#333" text-anchor="middle">0</text>
<line x1="508.30" y1="509.60" x2="508.30" y2="511.10" stroke="#333" stroke-width="0.4" />
<line x1="537.28" y1="383.80" x2="537.28" y2="509.60" stroke="#d9d9d9" stroke-width="0.6" />
<text x="537.3" y="515.4" font-size="4.9" fill="#333" text-anchor="middle">20</text>
<line x1="537.28" y1="509.60" x2="537.28" y2="511.10" stroke="#333" stroke-width="0.4" />
<line x1="566.26" y1="383.80" x2="566.26" y2="509.60" stroke="#d9d9d9" stroke-width="0.6" />
<text x="566.3" y="515.4" font-size="4.9" fill="#333" text-anchor="middle">40</text>
<line x1="566.26" y1="509.60" x2="566.26" y2="511.10" stroke="#333" stroke-width="0.4" />
<line x1="595.24" y1="383.80" x2="595.24" y2="509.60" stroke="#d9d9d9" stroke-width="0.6" />
<text x="595.2" y="515.4" font-size="4.9" fill="#333" text-anchor="middle">60</text>
<line x1="595.24" y1="509.60" x2="595.24" y2="511.10" stroke="#333" stroke-width="0.4" />
<line x1="624.22" y1="383.80" x2="624.22" y2="509.60" stroke="#d9d9d9" stroke-width="0.6" />
<text x="624.2" y="515.4" font-size="4.9" fill="#333" text-anchor="middle">80</text>
<line x1="624.22" y1="509.60" x2="624.22" y2="511.10" stroke="#333" stroke-width="0.4" />
<line x1="653.20" y1="383.80" x2="653.20" y2="509.60" stroke="#d9d9d9" stroke-width="0.6" />
<text x="653.2" y="515.4" font-size="4.9" fill="#333" text-anchor="middle">100</text>
<line x1="653.20" y1="509.60" x2="653.20" y2="511.10" stroke="#333" stroke-width="0.4" />
<line x1="500.60" y1="502.02" x2="658.80" y2="502.02" stroke="#d9d9d9" stroke-width="0.6" />
<text x="500.0" y="503.7" font-size="4.9" fill="#333" text-anchor="end">0.93</text>
<line x1="499.10" y1="502.02" x2="500.60" y2="502.02" stroke="#333" stroke-width="0.4" />
<line x1="500.60" y1="484.95" x2="658.80" y2="484.95" stroke="#d9d9d9" stroke-width="0.6" />
<text x="500.0" y="486.6" font-size="4.9" fill="#333" text-anchor="end">0.94</text>
<line x1="499.10" y1="484.95" x2="500.60" y2="484.95" stroke="#333" stroke-width="0.4" />
<line x1="500.60" y1="467.88" x2="658.80" y2="467.88" stroke="#d9d9d9" stroke-width="0.6" />
<text x="500.0" y="469.6" font-size="4.9" fill="#333" text-anchor="end">0.95</text>
<line x1="499.10" y1="467.88" x2="500.60" y2="467.88" stroke="#333" stroke-width="0.4" />
<line x1="500.60" y1="450.81" x2="658.80" y2="450.81" stroke="#d9d9d9" stroke-width="0.6" />
<text x="500.0" y="452.5" font-size="4.9" fill="#333" text-anchor="end">0.96</text>
<line x1="499.10" y1="450.81" x2="500.60" y2="450.81" stroke="#333" stroke-width="0.4" />
<line x1="500.60" y1="433.74" x2="658.80" y2="433.74" stroke="#d9d9d9" stroke-width="0.6" />
<text x="500.0" y="435.4" font-size="4.9" fill="#333" text-anchor="end">0.97</text>
<line x1="499.10" y1="433.74" x2="500.60" y2="433.74" stroke="#333" stroke-width="0.4" />
<line x1="500.60" y1="416.67" x2="658.80" y2="416.67" stroke="#d9d9d9" stroke-width="0.6" />
<text x="500.0" y="418.4" font-size="4.9" fill="#333" text-anchor="end">0.98</text>
<line x1="499.10" y1="416.67" x2="500.60" y2="416.67" stroke="#333" stroke-width="0.4" />
<line x1="500.60" y1="399.60" x2="658.80" y2="399.60" stroke="#d9d9d9" stroke-width="0.6" />
<text x="500.0" y="401.3" font-size="4.9" fill="#333" text-anchor="end">0.99</text>
<line x1="499.10" y1="399.60" x2="500.60" y2="399.60" stroke="#333" stroke-width="0.4" />
<text x="579.3" y="382.2" font-size="6.0" fill="#222" text-anchor="middle" textLength="81.0" lengthAdjust="spacingAndGlyphs">Training and Validation Accuracy</text>
<text x="580.0" y="520.6" font-size="5.0" fill="#333" text-anchor="middle">Epoch</text>
<text x="485.2" y="445.6" font-size="5.0" fill="#333" text-anchor="middle" transform="rotate(-90 485.2 445.6)">Accuracy</text>
<path d="M508.30,502.02 L509.75,476.42 L511.20,443.98 L512.65,447.40 L514.10,450.81 L515.54,430.33 L516.99,423.50 L518.44,433.74 L519.89,421.79 L521.34,421.79 L522.79,419.94 L524.24,415.67 L525.69,419.48 L527.14,414.83 L528.59,418.12 L530.03,422.57 L531.48,418.50 L532.93,412.20 L534.38,416.15 L535.83,416.15 L537.28,418.41 L538.73,419.43 L540.18,411.92 L541.63,426.91 L543.08,407.82 L544.52,414.77 L545.97,410.85 L547.42,412.48 L548.87,413.84 L550.32,410.67 L551.77,414.49 L553.22,413.00 L554.67,408.24 L556.12,413.23 L557.57,411.99 L559.01,411.24 L560.46,410.80 L561.91,412.08 L563.36,414.03 L564.81,414.65 L566.26,416.47 L567.71,412.31 L569.16,414.30 L570.61,411.43 L572.06,411.20 L573.50,414.03 L574.95,413.35 L576.40,411.51 L577.85,414.43 L579.30,409.68 L580.75,413.92 L582.20,413.06 L583.65,412.28 L585.10,405.48 L586.55,410.51 L588.00,413.53 L589.44,410.24 L590.89,407.94 L592.34,410.90 L593.79,412.32 L595.24,404.36 L596.69,413.20 L598.14,404.17 L599.59,408.62 L601.04,413.45 L602.49,411.22 L603.93,408.02 L605.38,408.45 L606.83,409.40 L608.28,405.36 L609.73,402.30 L611.18,406.95 L612.63,403.40 L614.08,401.06 L615.53,411.84 L616.98,406.26 L618.42,406.15 L619.87,405.64 L621.32,392.77 L622.77,409.27 L624.22,406.35 L625.67,401.69 L627.12,405.51 L628.57,400.50 L630.02,407.11 L631.47,403.70 L632.91,406.73 L634.36,406.62 L635.81,403.33 L637.26,403.87 L638.71,405.69 L640.16,403.39 L641.61,407.77 L643.06,404.02 L644.51,389.36 L645.96,405.03 L647.40,405.31 L648.85,400.68 L650.30,404.86 L651.75,403.45" fill="none" stroke="#3b7db3" stroke-width="0.8" stroke-linejoin="round"/>
<path d="M508.30,471.29 L509.75,409.84 L511.20,409.84 L512.65,498.61 L514.10,450.81 L515.54,413.26 L516.99,416.67 L518.44,403.01 L519.89,413.26 L521.34,416.67 L522.79,414.65 L524.24,415.22 L525.69,420.15 L527.14,413.05 L528.59,416.96 L530.03,411.36 L531.48,411.96 L532.93,413.41 L534.38,406.61 L535.83,410.65 L537.28,415.83 L538.73,406.07 L540.18,413.26 L541.63,412.64 L543.08,405.28 L544.52,406.66 L545.97,415.19 L547.42,406.78 L548.87,405.76 L550.32,409.50 L551.77,404.82 L553.22,407.28 L554.67,407.33 L556.12,415.93 L557.57,407.23 L559.01,406.13 L560.46,423.50 L561.91,405.78 L563.36,413.55 L564.81,408.00 L566.26,410.88 L567.71,406.78 L569.16,407.92 L570.61,410.86 L572.06,408.96 L573.50,409.68 L574.95,398.29 L576.40,410.96 L577.85,407.72 L579.30,407.39 L580.75,412.70 L582.20,406.42 L583.65,407.74 L585.10,416.64 L586.55,407.26 L588.00,401.72 L589.44,405.03 L590.89,399.67 L592.34,430.33 L593.79,412.97 L595.24,408.85 L596.69,402.95 L598.14,411.28 L599.59,413.33 L601.04,407.15 L602.49,412.12 L603.93,404.01 L605.38,399.42 L606.83,407.56 L608.28,394.34 L609.73,400.78 L611.18,412.39 L612.63,405.88 L614.08,405.06 L615.53,399.57 L616.98,407.96 L618.42,405.03 L619.87,414.09 L621.32,402.62 L622.77,398.18 L624.22,415.18 L625.67,406.53 L627.12,405.52 L628.57,404.21 L630.02,407.62 L631.47,401.12 L632.91,399.26 L634.36,403.18 L635.81,402.45 L637.26,402.36 L638.71,416.67 L640.16,409.98 L641.61,401.96 L643.06,402.57 L644.51,401.38 L645.96,400.50 L647.40,394.30 L648.85,403.00 L650.30,400.41 L651.75,406.71" fill="none" stroke="#e39a3b" stroke-width="0.8" stroke-linejoin="round"/>
<rect x="503.20" y="385.60" width="56.60" height="14.00" fill="#ffffff" stroke="#d0d0d0" stroke-width="0.4" rx="1" fill-opacity="0.85"/>
<line x1="504.30" y1="389.70" x2="513.10" y2="389.70" stroke="#3b7db3" stroke-width="0.8" />
<text x="516.6" y="391.4" font-size="4.8" fill="#222" textLength="30.9" lengthAdjust="spacingAndGlyphs">Train Accuracy</text>
<line x1="504.30" y1="396.10" x2="513.10" y2="396.10" stroke="#e39a3b" stroke-width="0.8" />
<text x="516.6" y="397.8" font-size="4.8" fill="#222" textLength="41.4" lengthAdjust="spacingAndGlyphs">Validation Accuracy</text>
<text x="246.6" y="539.2" font-size="14.6" fill="#000" font-weight="bold">F</text>
<text x="330.1" y="537.6" font-size="6.6" fill="#222" text-anchor="middle" style="font-family:&quot;Liberation Mono&quot;,monospace" textLength="46.0" lengthAdjust="spacingAndGlyphs" stroke="#222" stroke-width="0.15">Confusion matrix</text>
<rect x="272.80" y="541.00" width="57.60" height="57.15" fill="#1d3b6f" />
<rect x="330.40" y="541.00" width="57.60" height="57.15" fill="#f3f7fc" />
<rect x="272.80" y="598.15" width="57.60" height="57.15" fill="#dde9f5" />
<rect x="330.40" y="598.15" width="57.60" height="57.15" fill="#3b78b5" />
<rect x="272.80" y="541.00" width="115.20" height="114.30" fill="none" stroke="#222" stroke-width="0.6"/>
<text x="301.2" y="570.6" font-size="4.6" fill="#ffffff" text-anchor="middle">197</text>
<text x="359.2" y="570.6" font-size="4.6" fill="#222" text-anchor="middle">8</text>
<text x="301.2" y="628.6" font-size="4.6" fill="#222" text-anchor="middle">31</text>
<text x="359.2" y="628.6" font-size="4.6" fill="#ffffff" text-anchor="middle">150</text>
<text x="271.2" y="571.0" font-size="5.0" fill="#222" text-anchor="end">High Risk</text>
<text x="271.2" y="629.0" font-size="5.0" fill="#222" text-anchor="end">Low Risk</text>
<line x1="271.40" y1="569.50" x2="272.80" y2="569.50" stroke="#222" stroke-width="0.4" />
<line x1="271.40" y1="627.50" x2="272.80" y2="627.50" stroke="#222" stroke-width="0.4" />
<text x="251.8" y="598.8" font-size="4.9" fill="#222" text-anchor="middle" style="font-family:&quot;Liberation Mono&quot;,monospace" textLength="40.5" lengthAdjust="spacingAndGlyphs" transform="rotate(-90 251.8 598.8)" stroke="#222" stroke-width="0.12">Predicted Labels</text>
<text x="301.2" y="663.4" font-size="3.9" fill="#222" text-anchor="middle">High Risk</text>
<text x="359.2" y="663.4" font-size="3.9" fill="#222" text-anchor="middle">Low Risk</text>
<line x1="301.20" y1="655.30" x2="301.20" y2="656.80" stroke="#222" stroke-width="0.4" />
<line x1="359.20" y1="655.30" x2="359.20" y2="656.80" stroke="#222" stroke-width="0.4" />
<text x="330.4" y="678.4" font-size="4.9" fill="#222" text-anchor="middle" style="font-family:&quot;Liberation Mono&quot;,monospace" textLength="28.4" lengthAdjust="spacingAndGlyphs" stroke="#222" stroke-width="0.12">True Labels</text>
<defs><linearGradient id="gBlues" x1="0" y1="1" x2="0" y2="0">
<stop offset="0" stop-color="#f5f9fe"/><stop offset="0.2" stop-color="#d6e6f4"/><stop offset="0.4" stop-color="#a6cde3"/>
<stop offset="0.6" stop-color="#5da2cf"/><stop offset="0.8" stop-color="#2f74b2"/><stop offset="1" stop-color="#1d3b6f"/></linearGradient></defs>
<rect x="395.00" y="519.20" width="7.90" height="157.60" fill="url(#gBlues)" stroke="#222" stroke-width="0.5"/>
<line x1="402.90" y1="537.00" x2="404.30" y2="537.00" stroke="#222" stroke-width="0.4" />
<text x="406.8" y="538.5" font-size="4.3" fill="#222">175</text>
<line x1="402.90" y1="558.60" x2="404.30" y2="558.60" stroke="#222" stroke-width="0.4" />
<text x="406.8" y="560.1" font-size="4.3" fill="#222">150</text>
<line x1="402.90" y1="579.60" x2="404.30" y2="579.60" stroke="#222" stroke-width="0.4" />
<text x="406.8" y="581.1" font-size="4.3" fill="#222">125</text>
<line x1="402.90" y1="600.60" x2="404.30" y2="600.60" stroke="#222" stroke-width="0.4" />
<text x="406.8" y="602.1" font-size="4.3" fill="#222">100</text>
<line x1="402.90" y1="621.70" x2="404.30" y2="621.70" stroke="#222" stroke-width="0.4" />
<text x="406.8" y="623.2" font-size="4.3" fill="#222">75</text>
<line x1="402.90" y1="642.70" x2="404.30" y2="642.70" stroke="#222" stroke-width="0.4" />
<text x="406.8" y="644.2" font-size="4.3" fill="#222">50</text>
<line x1="402.90" y1="663.70" x2="404.30" y2="663.70" stroke="#222" stroke-width="0.4" />
<text x="406.8" y="665.2" font-size="4.3" fill="#222">25</text>
<text x="423.4" y="539.7" font-size="14.6" fill="#000" font-weight="bold">G</text>
<rect x="424.90" y="542.90" width="48.38" height="49.15" fill="#d597ae" />
<rect x="472.98" y="542.90" width="48.38" height="49.15" fill="#b85e77" />
<rect x="521.06" y="542.90" width="48.38" height="49.15" fill="#a52a3e" />
<rect x="569.14" y="542.90" width="48.38" height="49.15" fill="#aa3a4c" />
<rect x="424.90" y="591.75" width="48.38" height="49.15" fill="#a73446" />
<rect x="472.98" y="591.75" width="48.38" height="49.15" fill="#c57a90" />
<rect x="521.06" y="591.75" width="48.38" height="49.15" fill="#ecc4da" />
<rect x="569.14" y="591.75" width="48.38" height="49.15" fill="#d393aa" />
<text x="619.2" y="570.8" font-size="7.0" fill="#111" textLength="30.3" lengthAdjust="spacingAndGlyphs">High Risk</text>
<text x="619.2" y="619.4" font-size="7.0" fill="#111" textLength="27.5" lengthAdjust="spacingAndGlyphs">Low Risk</text>
<defs><linearGradient id="gRd" x1="0" y1="0" x2="0" y2="1">
<stop offset="0" stop-color="#a3263b"/><stop offset="0.5" stop-color="#c7778e"/><stop offset="1" stop-color="#f0cfe3"/></linearGradient></defs>
<rect x="653.50" y="542.90" width="6.70" height="104.10" fill="url(#gRd)" />
<text x="662.4" y="548.0" font-size="9.7" fill="#222">0.96</text>
<text x="662.4" y="563.8" font-size="9.7" fill="#222">0.94</text>
<text x="662.4" y="579.5" font-size="9.7" fill="#222">0.92</text>
<text x="662.4" y="595.3" font-size="9.7" fill="#222">0.9</text>
<text x="662.4" y="611.1" font-size="9.7" fill="#222">0.88</text>
<text x="662.4" y="626.9" font-size="9.7" fill="#222">0.86</text>
<text x="662.4" y="642.6" font-size="9.7" fill="#222">0.84</text>
<text x="454.2" y="648.0" font-size="9.6" fill="#222" text-anchor="end" transform="rotate(-45 454.2 648.0)">Recall</text>
<text x="502.0" y="648.0" font-size="9.6" fill="#222" text-anchor="end" transform="rotate(-45 502.0 648.0)">f1</text>
<text x="550.0" y="648.0" font-size="9.6" fill="#222" text-anchor="end" transform="rotate(-45 550.0 648.0)">Precision</text>
<text x="598.0" y="648.0" font-size="9.6" fill="#222" text-anchor="end" transform="rotate(-45 598.0 648.0)">Specificity</text>
<text x="247.6" y="700.0" font-size="14.6" fill="#000" font-weight="bold">H</text>
<text x="351.8" y="696.2" font-size="6.4" fill="#222" text-anchor="middle" style="font-family:&quot;Liberation Mono&quot;,monospace" textLength="77.4" lengthAdjust="spacingAndGlyphs" stroke="#222" stroke-width="0.18">Multi-Class ROC Curve</text>
<rect x="273.00" y="701.30" width="159.70" height="114.50" fill="#ffffff" stroke="#333" stroke-width="0.6"/>
<line x1="273.20" y1="815.80" x2="273.20" y2="817.10" stroke="#333" stroke-width="0.4" />
<text x="273.2" y="820.3" font-size="2.9" fill="#333" text-anchor="middle">0.0</text>
<line x1="271.70" y1="815.80" x2="273.00" y2="815.80" stroke="#333" stroke-width="0.4" />
<text x="271.2" y="816.8" font-size="2.9" fill="#333" text-anchor="end">0.0</text>
<line x1="304.92" y1="815.80" x2="304.92" y2="817.10" stroke="#333" stroke-width="0.4" />
<text x="304.9" y="820.3" font-size="2.9" fill="#333" text-anchor="middle">0.2</text>
<line x1="271.70" y1="794.02" x2="273.00" y2="794.02" stroke="#333" stroke-width="0.4" />
<text x="271.2" y="795.0" font-size="2.9" fill="#333" text-anchor="end">0.2</text>
<line x1="336.64" y1="815.80" x2="336.64" y2="817.10" stroke="#333" stroke-width="0.4" />
<text x="336.6" y="820.3" font-size="2.9" fill="#333" text-anchor="middle">0.4</text>
<line x1="271.70" y1="772.24" x2="273.00" y2="772.24" stroke="#333" stroke-width="0.4" />
<text x="271.2" y="773.2" font-size="2.9" fill="#333" text-anchor="end">0.4</text>
<line x1="368.36" y1="815.80" x2="368.36" y2="817.10" stroke="#333" stroke-width="0.4" />
<text x="368.4" y="820.3" font-size="2.9" fill="#333" text-anchor="middle">0.6</text>
<line x1="271.70" y1="750.46" x2="273.00" y2="750.46" stroke="#333" stroke-width="0.4" />
<text x="271.2" y="751.5" font-size="2.9" fill="#333" text-anchor="end">0.6</text>
<line x1="400.08" y1="815.80" x2="400.08" y2="817.10" stroke="#333" stroke-width="0.4" />
<text x="400.1" y="820.3" font-size="2.9" fill="#333" text-anchor="middle">0.8</text>
<line x1="271.70" y1="728.68" x2="273.00" y2="728.68" stroke="#333" stroke-width="0.4" />
<text x="271.2" y="729.7" font-size="2.9" fill="#333" text-anchor="end">0.8</text>
<line x1="431.80" y1="815.80" x2="431.80" y2="817.10" stroke="#333" stroke-width="0.4" />
<text x="431.8" y="820.3" font-size="2.9" fill="#333" text-anchor="middle">1.0</text>
<line x1="271.70" y1="706.90" x2="273.00" y2="706.90" stroke="#333" stroke-width="0.4" />
<text x="271.2" y="707.9" font-size="2.9" fill="#333" text-anchor="end">1.0</text>
<text x="259.8" y="758.8" font-size="8.2" fill="#222" text-anchor="middle" style="font-family:&quot;Liberation Mono&quot;,monospace" textLength="68.0" lengthAdjust="spacingAndGlyphs" transform="rotate(-90 259.8 758.8)" stroke="#222" stroke-width="0.3">True Positive Rate</text>
<text x="356.8" y="832.6" font-size="8.8" fill="#222" text-anchor="middle" style="font-family:&quot;Liberation Mono&quot;,monospace" textLength="85.0" lengthAdjust="spacingAndGlyphs" stroke="#222" stroke-width="0.3">False Positive Rate</text>
<line x1="273.20" y1="815.80" x2="431.80" y2="706.90" stroke="#555" stroke-width="0.8" stroke-dasharray="3 2"/>
<path d="M273.20,815.80 L273.20,783.13 L274.79,772.24 L275.58,761.35 L276.37,750.46 L277.16,739.57 L277.96,730.86 L279.54,728.68 L281.13,723.23 L284.30,719.97 L287.47,716.70 L292.23,714.52 L296.99,711.26 L304.92,710.17 L331.88,710.17 L335.05,706.90 L431.80,706.90" fill="none" stroke="#e39a3b" stroke-width="0.9"/>
<path d="M273.20,815.80 L273.20,748.28 L275.58,746.10 L276.37,728.68 L277.96,724.32 L278.75,722.15 L281.13,721.06 L284.30,719.97 L287.47,717.79 L289.06,716.70 L295.40,715.61 L304.92,712.34 L312.85,711.26 L336.64,710.71 L339.81,710.17 L360.43,709.08 L384.22,707.99 L387.39,706.90 L431.80,706.90" fill="none" stroke="#3b7db3" stroke-width="0.9"/>
<line x1="359.70" y1="796.20" x2="371.40" y2="796.20" stroke="#3b7db3" stroke-width="0.8" />
<text x="372.8" y="797.8" font-size="4.7" fill="#222" textLength="19.5" lengthAdjust="spacingAndGlyphs">High Risk</text>
<text x="394.7" y="797.8" font-size="4.6" fill="#222" style="font-family:&quot;Liberation Mono&quot;,monospace" textLength="32.0" lengthAdjust="spacingAndGlyphs">(AUC = 0.96 )</text>
<line x1="359.70" y1="803.80" x2="371.40" y2="803.80" stroke="#e39a3b" stroke-width="0.8" />
<text x="372.8" y="805.6" font-size="4.7" fill="#222" textLength="17.5" lengthAdjust="spacingAndGlyphs">Low Risk</text>
<text x="394.7" y="805.6" font-size="4.6" fill="#222" style="font-family:&quot;Liberation Mono&quot;,monospace" textLength="33.5" lengthAdjust="spacingAndGlyphs">(AUC = 0.94 )</text>
<line x1="359.70" y1="810.20" x2="371.40" y2="810.20" stroke="#444" stroke-width="0.7" stroke-dasharray="3 1.6"/>
<text x="378.7" y="812.0" font-size="4.4" fill="#222" style="font-family:&quot;Liberation Mono&quot;,monospace" textLength="16.0" lengthAdjust="spacingAndGlyphs">Random</text>
<text x="248.0" y="849.2" font-size="14.6" fill="#000" font-weight="bold">I</text>
<text x="360.2" y="846.8" font-size="6.6" fill="#222" text-anchor="middle" style="font-family:&quot;Liberation Mono&quot;,monospace" textLength="130.3" lengthAdjust="spacingAndGlyphs" stroke="#222" stroke-width="0.18">Multi-Class Precision-Recall Curve</text>
<rect x="277.70" y="852.00" width="161.60" height="115.30" fill="#ffffff" stroke="#333" stroke-width="0.6"/>
<line x1="277.70" y1="967.30" x2="277.70" y2="968.60" stroke="#333" stroke-width="0.4" />
<text x="277.7" y="971.8" font-size="2.9" fill="#333" text-anchor="middle">0.0</text>
<line x1="276.40" y1="967.30" x2="277.70" y2="967.30" stroke="#333" stroke-width="0.4" />
<text x="275.9" y="968.3" font-size="2.9" fill="#333" text-anchor="end">0.0</text>
<line x1="309.90" y1="967.30" x2="309.90" y2="968.60" stroke="#333" stroke-width="0.4" />
<text x="309.9" y="971.8" font-size="2.9" fill="#333" text-anchor="middle">0.2</text>
<line x1="276.40" y1="945.48" x2="277.70" y2="945.48" stroke="#333" stroke-width="0.4" />
<text x="275.9" y="946.5" font-size="2.9" fill="#333" text-anchor="end">0.2</text>
<line x1="342.10" y1="967.30" x2="342.10" y2="968.60" stroke="#333" stroke-width="0.4" />
<text x="342.1" y="971.8" font-size="2.9" fill="#333" text-anchor="middle">0.4</text>
<line x1="276.40" y1="923.66" x2="277.70" y2="923.66" stroke="#333" stroke-width="0.4" />
<text x="275.9" y="924.7" font-size="2.9" fill="#333" text-anchor="end">0.4</text>
<line x1="374.30" y1="967.30" x2="374.30" y2="968.60" stroke="#333" stroke-width="0.4" />
<text x="374.3" y="971.8" font-size="2.9" fill="#333" text-anchor="middle">0.6</text>
<line x1="276.40" y1="901.84" x2="277.70" y2="901.84" stroke="#333" stroke-width="0.4" />
<text x="275.9" y="902.8" font-size="2.9" fill="#333" text-anchor="end">0.6</text>
<line x1="406.50" y1="967.30" x2="406.50" y2="968.60" stroke="#333" stroke-width="0.4" />
<text x="406.5" y="971.8" font-size="2.9" fill="#333" text-anchor="middle">0.8</text>
<line x1="276.40" y1="880.02" x2="277.70" y2="880.02" stroke="#333" stroke-width="0.4" />
<text x="275.9" y="881.0" font-size="2.9" fill="#333" text-anchor="end">0.8</text>
<line x1="438.70" y1="967.30" x2="438.70" y2="968.60" stroke="#333" stroke-width="0.4" />
<text x="438.7" y="971.8" font-size="2.9" fill="#333" text-anchor="middle">1.0</text>
<line x1="276.40" y1="858.20" x2="277.70" y2="858.20" stroke="#333" stroke-width="0.4" />
<text x="275.9" y="859.2" font-size="2.9" fill="#333" text-anchor="end">1.0</text>
<text x="264.6" y="912.8" font-size="10.2" fill="#222" text-anchor="middle" style="font-family:&quot;Liberation Mono&quot;,monospace" textLength="45.0" lengthAdjust="spacingAndGlyphs" transform="rotate(-90 264.6 912.8)" stroke="#222" stroke-width="0.3">Precision</text>
<text x="355.7" y="984.2" font-size="10.2" fill="#222" text-anchor="middle" style="font-family:&quot;Liberation Mono&quot;,monospace" textLength="29.5" lengthAdjust="spacingAndGlyphs" stroke="#222" stroke-width="0.3">Recall</text>
<path d="M277.70,858.20 L327.61,858.20 L329.22,859.84 L334.05,860.93 L342.10,861.47 L358.20,862.56 L374.30,863.11 L390.40,863.11 L406.50,864.75 L414.55,866.93 L422.60,869.11 L430.65,873.47 L434.67,878.93 L435.48,888.75 L436.28,892.02 L438.70,892.02 L438.70,912.75" fill="none" stroke="#e39a3b" stroke-width="0.9"/>
<path d="M277.70,858.20 L377.52,858.20 L380.74,859.84 L383.96,860.93 L406.50,860.93 L414.55,862.02 L419.38,863.11 L425.82,865.29 L430.65,868.02 L433.87,872.38 L436.28,880.02 L437.09,886.57 L438.70,893.11" fill="none" stroke="#3b7db3" stroke-width="0.9"/>
<line x1="284.50" y1="948.00" x2="296.70" y2="948.00" stroke="#3b7db3" stroke-width="0.9" />
<text x="297.6" y="949.9" font-size="5.6" fill="#222" textLength="20.6" lengthAdjust="spacingAndGlyphs">High Risk</text>
<text x="319.0" y="949.9" font-size="5.6" fill="#222" style="font-family:&quot;Liberation Mono&quot;,monospace" textLength="67.5" lengthAdjust="spacingAndGlyphs" stroke="#222" stroke-width="0.12">(Avg Precision = 0.976)</text>
<line x1="284.50" y1="956.30" x2="296.70" y2="956.30" stroke="#e39a3b" stroke-width="0.9" />
<text x="298.2" y="958.2" font-size="5.6" fill="#222" textLength="19.1" lengthAdjust="spacingAndGlyphs">Low Risk</text>
<text x="322.8" y="958.2" font-size="5.6" fill="#222" style="font-family:&quot;Liberation Mono&quot;,monospace" textLength="66.8" lengthAdjust="spacingAndGlyphs" stroke="#222" stroke-width="0.12">(Avg Precision = 0 943)</text>
<text x="447.6" y="700.8" font-size="14.6" fill="#000" font-weight="bold">J</text>
<text x="467.8" y="712.2" font-size="11.0" fill="#c41f3a" font-weight="bold" font-style="italic" textLength="91.2" lengthAdjust="spacingAndGlyphs">MFM on ST slides</text>
<text x="582.4" y="707.4" font-size="11.4" fill="#c41f3a" font-weight="bold" font-style="italic" textLength="95.4" lengthAdjust="spacingAndGlyphs">MFM  detected by</text>
<text x="582.4" y="720.6" font-size="11.4" fill="#c41f3a" font-weight="bold" font-style="italic" textLength="86.6" lengthAdjust="spacingAndGlyphs">gastric-discovey</text>
<text x="449.0" y="846.8" font-size="14.6" fill="#000" font-weight="bold">K</text>
<text x="465.8" y="850.8" font-size="11.0" fill="#c41f3a" font-weight="bold" font-style="italic" textLength="91.5" lengthAdjust="spacingAndGlyphs">MFM on ST slides</text>
<text x="580.2" y="846.6" font-size="11.4" fill="#c41f3a" font-weight="bold" font-style="italic" textLength="95.8" lengthAdjust="spacingAndGlyphs">MFM  detected by</text>
<text x="580.2" y="859.9" font-size="11.4" fill="#c41f3a" font-weight="bold" font-style="italic" textLength="86.6" lengthAdjust="spacingAndGlyphs">gastric-discovey</text>
<pattern id="greyhex" width="1.4" height="1.25" patternUnits="userSpaceOnUse"><rect width="1.4" height="1.25" fill="#c9c9c9"/><circle cx="0.7" cy="0.62" r="0.62" fill="#bdbdbd"/></pattern>
<clipPath id="stJ"><path d="M455.9,723.9 L523.8,723.9 L528.9,728.0 L537.2,736.5 L544.0,743.2 L550.7,749.0 L557.4,753.2 L559.9,760.0 L559.0,793.5 L558.2,828.7 L483.6,828.7 L475.2,825.4 L471.8,820.3 L463.4,817.0 L455.9,815.3 Z M512.1,796.9 L513.8,794.3 L520.5,794.3 L523.8,792.7 L528.9,790.1 L532.2,788.5 L535.6,789.3 L538.9,791.8 L540.6,793.5 L544.0,794.3 L550.7,795.2 L555.7,797.7 L555.7,801.9 L552.3,804.4 L547.3,805.2 L544.0,807.8 L540.6,809.4 L533.9,808.6 L528.9,806.9 L522.1,805.2 L515.4,801.9 L512.1,800.2 Z" clip-rule="evenodd"/></clipPath>
<path d="M455.9,723.9 L523.8,723.9 L528.9,728.0 L537.2,736.5 L544.0,743.2 L550.7,749.0 L557.4,753.2 L559.9,760.0 L559.0,793.5 L558.2,828.7 L483.6,828.7 L475.2,825.4 L471.8,820.3 L463.4,817.0 L455.9,815.3 Z M512.1,796.9 L513.8,794.3 L520.5,794.3 L523.8,792.7 L528.9,790.1 L532.2,788.5 L535.6,789.3 L538.9,791.8 L540.6,793.5 L544.0,794.3 L550.7,795.2 L555.7,797.7 L555.7,801.9 L552.3,804.4 L547.3,805.2 L544.0,807.8 L540.6,809.4 L533.9,808.6 L528.9,806.9 L522.1,805.2 L515.4,801.9 L512.1,800.2 Z" fill="#c1c1c1" fill-rule="evenodd"/>
<g fill="#c41f3a" clip-path="url(#stJ)"><rect x="455.3" y="723.3" width="1.35" height="1.3"/><rect x="456.7" y="723.3" width="1.35" height="1.3"/><rect x="458.1" y="723.3" width="1.35" height="1.3"/><rect x="459.6" y="723.3" width="1.35" height="1.3"/><rect x="461.0" y="723.3" width="1.35" height="1.3"/><rect x="462.4" y="723.3" width="1.35" height="1.3"/><rect x="466.7" y="723.3" width="1.35" height="1.3"/><rect x="468.1" y="723.3" width="1.35" height="1.3"/><rect x="469.5" y="723.3" width="1.35" height="1.3"/><rect x="470.9" y="723.3" width="1.35" height="1.3"/><rect x="472.3" y="723.3" width="1.35" height="1.3"/><rect x="473.8" y="723.3" width="1.35" height="1.3"/><rect x="475.2" y="723.3" width="1.35" height="1.3"/><rect x="482.3" y="723.3" width="1.35" height="1.3"/><rect x="483.7" y="723.3" width="1.35" height="1.3"/><rect x="485.1" y="723.3" width="1.35" height="1.3"/><rect x="486.5" y="723.3" width="1.35" height="1.3"/><rect x="490.8" y="723.3" width="1.35" height="1.3"/><rect x="495.1" y="723.3" width="1.35" height="1.3"/><rect x="496.5" y="723.3" width="1.35" height="1.3"/><rect x="497.9" y="723.3" width="1.35" height="1.3"/><rect x="499.3" y="723.3" width="1.35" height="1.3"/><rect x="500.7" y="723.3" width="1.35" height="1.3"/><rect x="502.2" y="723.3" width="1.35" height="1.3"/><rect x="503.6" y="723.3" width="1.35" height="1.3"/><rect x="505.0" y="723.3" width="1.35" height="1.3"/><rect x="507.8" y="723.3" width="1.35" height="1.3"/><rect x="512.1" y="723.3" width="1.35" height="1.3"/><rect x="513.5" y="723.3" width="1.35" height="1.3"/><rect x="516.4" y="723.3" width="1.35" height="1.3"/><rect x="517.8" y="723.3" width="1.35" height="1.3"/><rect x="519.2" y="723.3" width="1.35" height="1.3"/><rect x="522.0" y="723.3" width="1.35" height="1.3"/><rect x="523.5" y="723.3" width="1.35" height="1.3"/><rect x="456.0" y="724.5" width="1.35" height="1.3"/><rect x="457.4" y="724.5" width="1.35" height="1.3"/><rect x="461.7" y="724.5" width="1.35" height="1.3"/><rect x="464.5" y="724.5" width="1.35" height="1.3"/><rect x="466.0" y="724.5" width="1.35" height="1.3"/><rect x="468.8" y="724.5" width="1.35" height="1.3"/><rect x="470.2" y="724.5" width="1.35" height="1.3"/><rect x="473.1" y="724.5" width="1.35" height="1.3"/><rect x="474.5" y="724.5" width="1.35" height="1.3"/><rect x="475.9" y="724.5" width="1.35" height="1.3"/><rect x="477.3" y="724.5" width="1.35" height="1.3"/><rect x="478.7" y="724.5" width="1.35" height="1.3"/><rect x="480.2" y="724.5" width="1.35" height="1.3"/><rect x="481.6" y="724.5" width="1.35" height="1.3"/><rect x="484.4" y="724.5" width="1.35" height="1.3"/><rect x="485.8" y="724.5" width="1.35" height="1.3"/><rect x="487.3" y="724.5" width="1.35" height="1.3"/><rect x="488.7" y="724.5" width="1.35" height="1.3"/><rect x="491.5" y="724.5" width="1.35" height="1.3"/><rect x="492.9" y="724.5" width="1.35" height="1.3"/><rect x="494.4" y="724.5" width="1.35" height="1.3"/><rect x="497.2" y="724.5" width="1.35" height="1.3"/><rect x="498.6" y="724.5" width="1.35" height="1.3"/><rect x="500.0" y="724.5" width="1.35" height="1.3"/><rect x="501.5" y="724.5" width="1.35" height="1.3"/><rect x="502.9" y="724.5" width="1.35" height="1.3"/><rect x="504.3" y="724.5" width="1.35" height="1.3"/><rect x="505.7" y="724.5" width="1.35" height="1.3"/><rect x="507.1" y="724.5" width="1.35" height="1.3"/><rect x="508.6" y="724.5" width="1.35" height="1.3"/><rect x="510.0" y="724.5" width="1.35" height="1.3"/><rect x="512.8" y="724.5" width="1.35" height="1.3"/><rect x="514.2" y="724.5" width="1.35" height="1.3"/><rect x="517.1" y="724.5" width="1.35" height="1.3"/><rect x="519.9" y="724.5" width="1.35" height="1.3"/><rect x="521.3" y="724.5" width="1.35" height="1.3"/><rect x="524.2" y="724.5" width="1.35" height="1.3"/><rect x="527.0" y="724.5" width="1.35" height="1.3"/><rect x="458.1" y="725.8" width="1.35" height="1.3"/><rect x="459.6" y="725.8" width="1.35" height="1.3"/><rect x="461.0" y="725.8" width="1.35" height="1.3"/><rect x="462.4" y="725.8" width="1.35" height="1.3"/><rect x="463.8" y="725.8" width="1.35" height="1.3"/><rect x="468.1" y="725.8" width="1.35" height="1.3"/><rect x="469.5" y="725.8" width="1.35" height="1.3"/><rect x="470.9" y="725.8" width="1.35" height="1.3"/><rect x="475.2" y="725.8" width="1.35" height="1.3"/><rect x="479.4" y="725.8" width="1.35" height="1.3"/><rect x="480.9" y="725.8" width="1.35" height="1.3"/><rect x="482.3" y="725.8" width="1.35" height="1.3"/><rect x="483.7" y="725.8" width="1.35" height="1.3"/><rect x="485.1" y="725.8" width="1.35" height="1.3"/><rect x="486.5" y="725.8" width="1.35" height="1.3"/><rect x="488.0" y="725.8" width="1.35" height="1.3"/><rect x="492.2" y="725.8" width="1.35" height="1.3"/><rect x="496.5" y="725.8" width="1.35" height="1.3"/><rect x="497.9" y="725.8" width="1.35" height="1.3"/><rect x="500.7" y="725.8" width="1.35" height="1.3"/><rect x="503.6" y="725.8" width="1.35" height="1.3"/><rect x="505.0" y="725.8" width="1.35" height="1.3"/><rect x="506.4" y="725.8" width="1.35" height="1.3"/><rect x="507.8" y="725.8" width="1.35" height="1.3"/><rect x="509.3" y="725.8" width="1.35" height="1.3"/><rect x="510.7" y="725.8" width="1.35" height="1.3"/><rect x="512.1" y="725.8" width="1.35" height="1.3"/><rect x="513.5" y="725.8" width="1.35" height="1.3"/><rect x="514.9" y="725.8" width="1.35" height="1.3"/><rect x="519.2" y="725.8" width="1.35" height="1.3"/><rect x="520.6" y="725.8" width="1.35" height="1.3"/><rect x="522.0" y="725.8" width="1.35" height="1.3"/><rect x="523.5" y="725.8" width="1.35" height="1.3"/><rect x="457.4" y="727.0" width="1.35" height="1.3"/><rect x="458.8" y="727.0" width="1.35" height="1.3"/><rect x="460.3" y="727.0" width="1.35" height="1.3"/><rect x="461.7" y="727.0" width="1.35" height="1.3"/><rect x="463.1" y="727.0" width="1.35" height="1.3"/><rect x="464.5" y="727.0" width="1.35" height="1.3"/><rect x="466.0" y="727.0" width="1.35" height="1.3"/><rect x="468.8" y="727.0" width="1.35" height="1.3"/><rect x="471.6" y="727.0" width="1.35" height="1.3"/><rect x="473.1" y="727.0" width="1.35" height="1.3"/><rect x="474.5" y="727.0" width="1.35" height="1.3"/><rect x="475.9" y="727.0" width="1.35" height="1.3"/><rect x="477.3" y="727.0" width="1.35" height="1.3"/><rect x="480.2" y="727.0" width="1.35" height="1.3"/><rect x="481.6" y="727.0" width="1.35" height="1.3"/><rect x="483.0" y="727.0" width="1.35" height="1.3"/><rect x="484.4" y="727.0" width="1.35" height="1.3"/><rect x="485.8" y="727.0" width="1.35" height="1.3"/><rect x="487.3" y="727.0" width="1.35" height="1.3"/><rect x="488.7" y="727.0" width="1.35" height="1.3"/><rect x="490.1" y="727.0" width="1.35" height="1.3"/><rect x="491.5" y="727.0" width="1.35" height="1.3"/><rect x="492.9" y="727.0" width="1.35" height="1.3"/><rect x="494.4" y="727.0" width="1.35" height="1.3"/><rect x="498.6" y="727.0" width="1.35" height="1.3"/><rect x="502.9" y="727.0" width="1.35" height="1.3"/><rect x="505.7" y="727.0" width="1.35" height="1.3"/><rect x="508.6" y="727.0" width="1.35" height="1.3"/><rect x="510.0" y="727.0" width="1.35" height="1.3"/><rect x="511.4" y="727.0" width="1.35" height="1.3"/><rect x="512.8" y="727.0" width="1.35" height="1.3"/><rect x="514.2" y="727.0" width="1.35" height="1.3"/><rect x="515.7" y="727.0" width="1.35" height="1.3"/><rect x="517.1" y="727.0" width="1.35" height="1.3"/><rect x="518.5" y="727.0" width="1.35" height="1.3"/><rect x="521.3" y="727.0" width="1.35" height="1.3"/><rect x="522.8" y="727.0" width="1.35" height="1.3"/><rect x="527.0" y="727.0" width="1.35" height="1.3"/><rect x="455.3" y="728.3" width="1.35" height="1.3"/><rect x="458.1" y="728.3" width="1.35" height="1.3"/><rect x="459.6" y="728.3" width="1.35" height="1.3"/><rect x="461.0" y="728.3" width="1.35" height="1.3"/><rect x="462.4" y="728.3" width="1.35" height="1.3"/><rect x="463.8" y="728.3" width="1.35" height="1.3"/><rect x="465.2" y="728.3" width="1.35" height="1.3"/><rect x="466.7" y="728.3" width="1.35" height="1.3"/><rect x="469.5" y="728.3" width="1.35" height="1.3"/><rect x="472.3" y="728.3" width="1.35" height="1.3"/><rect x="478.0" y="728.3" width="1.35" height="1.3"/><rect x="479.4" y="728.3" width="1.35" height="1.3"/><rect x="480.9" y="728.3" width="1.35" height="1.3"/><rect x="482.3" y="728.3" width="1.35" height="1.3"/><rect x="486.5" y="728.3" width="1.35" height="1.3"/><rect x="488.0" y="728.3" width="1.35" height="1.3"/><rect x="490.8" y="728.3" width="1.35" height="1.3"/><rect x="492.2" y="728.3" width="1.35" height="1.3"/><rect x="493.6" y="728.3" width="1.35" height="1.3"/><rect x="495.1" y="728.3" width="1.35" height="1.3"/><rect x="496.5" y="728.3" width="1.35" height="1.3"/><rect x="500.7" y="728.3" width="1.35" height="1.3"/><rect x="505.0" y="728.3" width="1.35" height="1.3"/><rect x="506.4" y="728.3" width="1.35" height="1.3"/><rect x="510.7" y="728.3" width="1.35" height="1.3"/><rect x="512.1" y="728.3" width="1.35" height="1.3"/><rect x="513.5" y="728.3" width="1.35" height="1.3"/><rect x="514.9" y="728.3" width="1.35" height="1.3"/><rect x="516.4" y="728.3" width="1.35" height="1.3"/><rect x="517.8" y="728.3" width="1.35" height="1.3"/><rect x="523.5" y="728.3" width="1.35" height="1.3"/><rect x="529.1" y="728.3" width="1.35" height="1.3"/><rect x="456.0" y="729.5" width="1.35" height="1.3"/><rect x="457.4" y="729.5" width="1.35" height="1.3"/><rect x="458.8" y="729.5" width="1.35" height="1.3"/><rect x="460.3" y="729.5" width="1.35" height="1.3"/><rect x="461.7" y="729.5" width="1.35" height="1.3"/><rect x="463.1" y="729.5" width="1.35" height="1.3"/><rect x="464.5" y="729.5" width="1.35" height="1.3"/><rect x="466.0" y="729.5" width="1.35" height="1.3"/><rect x="467.4" y="729.5" width="1.35" height="1.3"/><rect x="468.8" y="729.5" width="1.35" height="1.3"/><rect x="471.6" y="729.5" width="1.35" height="1.3"/><rect x="473.1" y="729.5" width="1.35" height="1.3"/><rect x="477.3" y="729.5" width="1.35" height="1.3"/><rect x="478.7" y="729.5" width="1.35" height="1.3"/><rect x="480.2" y="729.5" width="1.35" height="1.3"/><rect x="481.6" y="729.5" width="1.35" height="1.3"/><rect x="483.0" y="729.5" width="1.35" height="1.3"/><rect x="484.4" y="729.5" width="1.35" height="1.3"/><rect x="487.3" y="729.5" width="1.35" height="1.3"/><rect x="488.7" y="729.5" width="1.35" height="1.3"/><rect x="490.1" y="729.5" width="1.35" height="1.3"/><rect x="491.5" y="729.5" width="1.35" height="1.3"/><rect x="492.9" y="729.5" width="1.35" height="1.3"/><rect x="494.4" y="729.5" width="1.35" height="1.3"/><rect x="495.8" y="729.5" width="1.35" height="1.3"/><rect x="498.6" y="729.5" width="1.35" height="1.3"/><rect x="507.1" y="729.5" width="1.35" height="1.3"/><rect x="511.4" y="729.5" width="1.35" height="1.3"/><rect x="512.8" y="729.5" width="1.35" height="1.3"/><rect x="514.2" y="729.5" width="1.35" height="1.3"/><rect x="517.1" y="729.5" width="1.35" height="1.3"/><rect x="518.5" y="729.5" width="1.35" height="1.3"/><rect x="522.8" y="729.5" width="1.35" height="1.3"/><rect x="525.6" y="729.5" width="1.35" height="1.3"/><rect x="455.3" y="730.8" width="1.35" height="1.3"/><rect x="456.7" y="730.8" width="1.35" height="1.3"/><rect x="459.6" y="730.8" width="1.35" height="1.3"/><rect x="461.0" y="730.8" width="1.35" height="1.3"/><rect x="463.8" y="730.8" width="1.35" height="1.3"/><rect x="465.2" y="730.8" width="1.35" height="1.3"/><rect x="466.7" y="730.8" width="1.35" height="1.3"/><rect x="468.1" y="730.8" width="1.35" height="1.3"/><rect x="469.5" y="730.8" width="1.35" height="1.3"/><rect x="470.9" y="730.8" width="1.35" height="1.3"/><rect x="472.3" y="730.8" width="1.35" height="1.3"/><rect x="473.8" y="730.8" width="1.35" height="1.3"/><rect x="475.2" y="730.8" width="1.35" height="1.3"/><rect x="476.6" y="730.8" width="1.35" height="1.3"/><rect x="478.0" y="730.8" width="1.35" height="1.3"/><rect x="479.4" y="730.8" width="1.35" height="1.3"/><rect x="485.1" y="730.8" width="1.35" height="1.3"/><rect x="486.5" y="730.8" width="1.35" height="1.3"/><rect x="489.4" y="730.8" width="1.35" height="1.3"/><rect x="490.8" y="730.8" width="1.35" height="1.3"/><rect x="493.6" y="730.8" width="1.35" height="1.3"/><rect x="495.1" y="730.8" width="1.35" height="1.3"/><rect x="496.5" y="730.8" width="1.35" height="1.3"/><rect x="502.2" y="730.8" width="1.35" height="1.3"/><rect x="503.6" y="730.8" width="1.35" height="1.3"/><rect x="505.0" y="730.8" width="1.35" height="1.3"/><rect x="509.3" y="730.8" width="1.35" height="1.3"/><rect x="512.1" y="730.8" width="1.35" height="1.3"/><rect x="513.5" y="730.8" width="1.35" height="1.3"/><rect x="514.9" y="730.8" width="1.35" height="1.3"/><rect x="516.4" y="730.8" width="1.35" height="1.3"/><rect x="517.8" y="730.8" width="1.35" height="1.3"/><rect x="519.2" y="730.8" width="1.35" height="1.3"/><rect x="520.6" y="730.8" width="1.35" height="1.3"/><rect x="522.0" y="730.8" width="1.35" height="1.3"/><rect x="523.5" y="730.8" width="1.35" height="1.3"/><rect x="524.9" y="730.8" width="1.35" height="1.3"/><rect x="527.7" y="730.8" width="1.35" height="1.3"/><rect x="457.4" y="732.0" width="1.35" height="1.3"/><rect x="458.8" y="732.0" width="1.35" height="1.3"/><rect x="460.3" y="732.0" width="1.35" height="1.3"/><rect x="461.7" y="732.0" width="1.35" height="1.3"/><rect x="463.1" y="732.0" width="1.35" height="1.3"/><rect x="464.5" y="732.0" width="1.35" height="1.3"/><rect x="466.0" y="732.0" width="1.35" height="1.3"/><rect x="467.4" y="732.0" width="1.35" height="1.3"/><rect x="468.8" y="732.0" width="1.35" height="1.3"/><rect x="470.2" y="732.0" width="1.35" height="1.3"/><rect x="471.6" y="732.0" width="1.35" height="1.3"/><rect x="474.5" y="732.0" width="1.35" height="1.3"/><rect x="475.9" y="732.0" width="1.35" height="1.3"/><rect x="478.7" y="732.0" width="1.35" height="1.3"/><rect x="480.2" y="732.0" width="1.35" height="1.3"/><rect x="487.3" y="732.0" width="1.35" height="1.3"/><rect x="490.1" y="732.0" width="1.35" height="1.3"/><rect x="491.5" y="732.0" width="1.35" height="1.3"/><rect x="492.9" y="732.0" width="1.35" height="1.3"/><rect x="494.4" y="732.0" width="1.35" height="1.3"/><rect x="495.8" y="732.0" width="1.35" height="1.3"/><rect x="497.2" y="732.0" width="1.35" height="1.3"/><rect x="498.6" y="732.0" width="1.35" height="1.3"/><rect x="501.5" y="732.0" width="1.35" height="1.3"/><rect x="502.9" y="732.0" width="1.35" height="1.3"/><rect x="504.3" y="732.0" width="1.35" height="1.3"/><rect x="508.6" y="732.0" width="1.35" height="1.3"/><rect x="510.0" y="732.0" width="1.35" height="1.3"/><rect x="511.4" y="732.0" width="1.35" height="1.3"/><rect x="512.8" y="732.0" width="1.35" height="1.3"/><rect x="514.2" y="732.0" width="1.35" height="1.3"/><rect x="515.7" y="732.0" width="1.35" height="1.3"/><rect x="518.5" y="732.0" width="1.35" height="1.3"/><rect x="519.9" y="732.0" width="1.35" height="1.3"/><rect x="521.3" y="732.0" width="1.35" height="1.3"/><rect x="524.2" y="732.0" width="1.35" height="1.3"/><rect x="525.6" y="732.0" width="1.35" height="1.3"/><rect x="455.3" y="733.3" width="1.35" height="1.3"/><rect x="456.7" y="733.3" width="1.35" height="1.3"/><rect x="458.1" y="733.3" width="1.35" height="1.3"/><rect x="459.6" y="733.3" width="1.35" height="1.3"/><rect x="463.8" y="733.3" width="1.35" height="1.3"/><rect x="465.2" y="733.3" width="1.35" height="1.3"/><rect x="466.7" y="733.3" width="1.35" height="1.3"/><rect x="468.1" y="733.3" width="1.35" height="1.3"/><rect x="469.5" y="733.3" width="1.35" height="1.3"/><rect x="470.9" y="733.3" width="1.35" height="1.3"/><rect x="472.3" y="733.3" width="1.35" height="1.3"/><rect x="473.8" y="733.3" width="1.35" height="1.3"/><rect x="475.2" y="733.3" width="1.35" height="1.3"/><rect x="476.6" y="733.3" width="1.35" height="1.3"/><rect x="478.0" y="733.3" width="1.35" height="1.3"/><rect x="479.4" y="733.3" width="1.35" height="1.3"/><rect x="480.9" y="733.3" width="1.35" height="1.3"/><rect x="482.3" y="733.3" width="1.35" height="1.3"/><rect x="485.1" y="733.3" width="1.35" height="1.3"/><rect x="486.5" y="733.3" width="1.35" height="1.3"/><rect x="488.0" y="733.3" width="1.35" height="1.3"/><rect x="489.4" y="733.3" width="1.35" height="1.3"/><rect x="492.2" y="733.3" width="1.35" height="1.3"/><rect x="493.6" y="733.3" width="1.35" height="1.3"/><rect x="495.1" y="733.3" width="1.35" height="1.3"/><rect x="497.9" y="733.3" width="1.35" height="1.3"/><rect x="499.3" y="733.3" width="1.35" height="1.3"/><rect x="502.2" y="733.3" width="1.35" height="1.3"/><rect x="503.6" y="733.3" width="1.35" height="1.3"/><rect x="505.0" y="733.3" width="1.35" height="1.3"/><rect x="510.7" y="733.3" width="1.35" height="1.3"/><rect x="514.9" y="733.3" width="1.35" height="1.3"/><rect x="519.2" y="733.3" width="1.35" height="1.3"/><rect x="520.6" y="733.3" width="1.35" height="1.3"/><rect x="526.3" y="733.3" width="1.35" height="1.3"/><rect x="527.7" y="733.3" width="1.35" height="1.3"/><rect x="457.4" y="734.5" width="1.35" height="1.3"/><rect x="463.1" y="734.5" width="1.35" height="1.3"/><rect x="464.5" y="734.5" width="1.35" height="1.3"/><rect x="466.0" y="734.5" width="1.35" height="1.3"/><rect x="468.8" y="734.5" width="1.35" height="1.3"/><rect x="470.2" y="734.5" width="1.35" height="1.3"/><rect x="471.6" y="734.5" width="1.35" height="1.3"/><rect x="474.5" y="734.5" width="1.35" height="1.3"/><rect x="475.9" y="734.5" width="1.35" height="1.3"/><rect x="477.3" y="734.5" width="1.35" height="1.3"/><rect x="480.2" y="734.5" width="1.35" height="1.3"/><rect x="481.6" y="734.5" width="1.35" height="1.3"/><rect x="483.0" y="734.5" width="1.35" height="1.3"/><rect x="484.4" y="734.5" width="1.35" height="1.3"/><rect x="487.3" y="734.5" width="1.35" height="1.3"/><rect x="488.7" y="734.5" width="1.35" height="1.3"/><rect x="490.1" y="734.5" width="1.35" height="1.3"/><rect x="492.9" y="734.5" width="1.35" height="1.3"/><rect x="495.8" y="734.5" width="1.35" height="1.3"/><rect x="498.6" y="734.5" width="1.35" height="1.3"/><rect x="500.0" y="734.5" width="1.35" height="1.3"/><rect x="501.5" y="734.5" width="1.35" height="1.3"/><rect x="502.9" y="734.5" width="1.35" height="1.3"/><rect x="504.3" y="734.5" width="1.35" height="1.3"/><rect x="505.7" y="734.5" width="1.35" height="1.3"/><rect x="511.4" y="734.5" width="1.35" height="1.3"/><rect x="514.2" y="734.5" width="1.35" height="1.3"/><rect x="522.8" y="734.5" width="1.35" height="1.3"/><rect x="455.3" y="735.8" width="1.35" height="1.3"/><rect x="456.7" y="735.8" width="1.35" height="1.3"/><rect x="459.6" y="735.8" width="1.35" height="1.3"/><rect x="461.0" y="735.8" width="1.35" height="1.3"/><rect x="462.4" y="735.8" width="1.35" height="1.3"/><rect x="465.2" y="735.8" width="1.35" height="1.3"/><rect x="466.7" y="735.8" width="1.35" height="1.3"/><rect x="468.1" y="735.8" width="1.35" height="1.3"/><rect x="470.9" y="735.8" width="1.35" height="1.3"/><rect x="472.3" y="735.8" width="1.35" height="1.3"/><rect x="475.2" y="735.8" width="1.35" height="1.3"/><rect x="476.6" y="735.8" width="1.35" height="1.3"/><rect x="478.0" y="735.8" width="1.35" height="1.3"/><rect x="480.9" y="735.8" width="1.35" height="1.3"/><rect x="483.7" y="735.8" width="1.35" height="1.3"/><rect x="486.5" y="735.8" width="1.35" height="1.3"/><rect x="488.0" y="735.8" width="1.35" height="1.3"/><rect x="489.4" y="735.8" width="1.35" height="1.3"/><rect x="490.8" y="735.8" width="1.35" height="1.3"/><rect x="499.3" y="735.8" width="1.35" height="1.3"/><rect x="500.7" y="735.8" width="1.35" height="1.3"/><rect x="502.2" y="735.8" width="1.35" height="1.3"/><rect x="503.6" y="735.8" width="1.35" height="1.3"/><rect x="505.0" y="735.8" width="1.35" height="1.3"/><rect x="506.4" y="735.8" width="1.35" height="1.3"/><rect x="507.8" y="735.8" width="1.35" height="1.3"/><rect x="510.7" y="735.8" width="1.35" height="1.3"/><rect x="524.9" y="735.8" width="1.35" height="1.3"/><rect x="456.0" y="737.0" width="1.35" height="1.3"/><rect x="457.4" y="737.0" width="1.35" height="1.3"/><rect x="460.3" y="737.0" width="1.35" height="1.3"/><rect x="467.4" y="737.0" width="1.35" height="1.3"/><rect x="468.8" y="737.0" width="1.35" height="1.3"/><rect x="470.2" y="737.0" width="1.35" height="1.3"/><rect x="471.6" y="737.0" width="1.35" height="1.3"/><rect x="474.5" y="737.0" width="1.35" height="1.3"/><rect x="478.7" y="737.0" width="1.35" height="1.3"/><rect x="484.4" y="737.0" width="1.35" height="1.3"/><rect x="485.8" y="737.0" width="1.35" height="1.3"/><rect x="487.3" y="737.0" width="1.35" height="1.3"/><rect x="488.7" y="737.0" width="1.35" height="1.3"/><rect x="490.1" y="737.0" width="1.35" height="1.3"/><rect x="495.8" y="737.0" width="1.35" height="1.3"/><rect x="498.6" y="737.0" width="1.35" height="1.3"/><rect x="500.0" y="737.0" width="1.35" height="1.3"/><rect x="501.5" y="737.0" width="1.35" height="1.3"/><rect x="502.9" y="737.0" width="1.35" height="1.3"/><rect x="507.1" y="737.0" width="1.35" height="1.3"/><rect x="508.6" y="737.0" width="1.35" height="1.3"/><rect x="512.8" y="737.0" width="1.35" height="1.3"/><rect x="518.5" y="737.0" width="1.35" height="1.3"/><rect x="519.9" y="737.0" width="1.35" height="1.3"/><rect x="521.3" y="737.0" width="1.35" height="1.3"/><rect x="455.3" y="738.3" width="1.35" height="1.3"/><rect x="456.7" y="738.3" width="1.35" height="1.3"/><rect x="458.1" y="738.3" width="1.35" height="1.3"/><rect x="459.6" y="738.3" width="1.35" height="1.3"/><rect x="461.0" y="738.3" width="1.35" height="1.3"/><rect x="462.4" y="738.3" width="1.35" height="1.3"/><rect x="463.8" y="738.3" width="1.35" height="1.3"/><rect x="465.2" y="738.3" width="1.35" height="1.3"/><rect x="468.1" y="738.3" width="1.35" height="1.3"/><rect x="476.6" y="738.3" width="1.35" height="1.3"/><rect x="480.9" y="738.3" width="1.35" height="1.3"/><rect x="482.3" y="738.3" width="1.35" height="1.3"/><rect x="483.7" y="738.3" width="1.35" height="1.3"/><rect x="485.1" y="738.3" width="1.35" height="1.3"/><rect x="486.5" y="738.3" width="1.35" height="1.3"/><rect x="488.0" y="738.3" width="1.35" height="1.3"/><rect x="490.8" y="738.3" width="1.35" height="1.3"/><rect x="496.5" y="738.3" width="1.35" height="1.3"/><rect x="497.9" y="738.3" width="1.35" height="1.3"/><rect x="499.3" y="738.3" width="1.35" height="1.3"/><rect x="500.7" y="738.3" width="1.35" height="1.3"/><rect x="503.6" y="738.3" width="1.35" height="1.3"/><rect x="507.8" y="738.3" width="1.35" height="1.3"/><rect x="520.6" y="738.3" width="1.35" height="1.3"/><rect x="524.9" y="738.3" width="1.35" height="1.3"/><rect x="527.7" y="738.3" width="1.35" height="1.3"/><rect x="456.0" y="739.5" width="1.35" height="1.3"/><rect x="458.8" y="739.5" width="1.35" height="1.3"/><rect x="460.3" y="739.5" width="1.35" height="1.3"/><rect x="461.7" y="739.5" width="1.35" height="1.3"/><rect x="463.1" y="739.5" width="1.35" height="1.3"/><rect x="464.5" y="739.5" width="1.35" height="1.3"/><rect x="466.0" y="739.5" width="1.35" height="1.3"/><rect x="467.4" y="739.5" width="1.35" height="1.3"/><rect x="468.8" y="739.5" width="1.35" height="1.3"/><rect x="470.2" y="739.5" width="1.35" height="1.3"/><rect x="474.5" y="739.5" width="1.35" height="1.3"/><rect x="475.9" y="739.5" width="1.35" height="1.3"/><rect x="483.0" y="739.5" width="1.35" height="1.3"/><rect x="484.4" y="739.5" width="1.35" height="1.3"/><rect x="485.8" y="739.5" width="1.35" height="1.3"/><rect x="487.3" y="739.5" width="1.35" height="1.3"/><rect x="492.9" y="739.5" width="1.35" height="1.3"/><rect x="497.2" y="739.5" width="1.35" height="1.3"/><rect x="498.6" y="739.5" width="1.35" height="1.3"/><rect x="500.0" y="739.5" width="1.35" height="1.3"/><rect x="504.3" y="739.5" width="1.35" height="1.3"/><rect x="507.1" y="739.5" width="1.35" height="1.3"/><rect x="508.6" y="739.5" width="1.35" height="1.3"/><rect x="510.0" y="739.5" width="1.35" height="1.3"/><rect x="511.4" y="739.5" width="1.35" height="1.3"/><rect x="515.7" y="739.5" width="1.35" height="1.3"/><rect x="519.9" y="739.5" width="1.35" height="1.3"/><rect x="521.3" y="739.5" width="1.35" height="1.3"/><rect x="525.6" y="739.5" width="1.35" height="1.3"/><rect x="528.4" y="739.5" width="1.35" height="1.3"/><rect x="458.1" y="740.8" width="1.35" height="1.3"/><rect x="459.6" y="740.8" width="1.35" height="1.3"/><rect x="462.4" y="740.8" width="1.35" height="1.3"/><rect x="463.8" y="740.8" width="1.35" height="1.3"/><rect x="465.2" y="740.8" width="1.35" height="1.3"/><rect x="466.7" y="740.8" width="1.35" height="1.3"/><rect x="468.1" y="740.8" width="1.35" height="1.3"/><rect x="470.9" y="740.8" width="1.35" height="1.3"/><rect x="475.2" y="740.8" width="1.35" height="1.3"/><rect x="478.0" y="740.8" width="1.35" height="1.3"/><rect x="482.3" y="740.8" width="1.35" height="1.3"/><rect x="483.7" y="740.8" width="1.35" height="1.3"/><rect x="485.1" y="740.8" width="1.35" height="1.3"/><rect x="489.4" y="740.8" width="1.35" height="1.3"/><rect x="490.8" y="740.8" width="1.35" height="1.3"/><rect x="492.2" y="740.8" width="1.35" height="1.3"/><rect x="496.5" y="740.8" width="1.35" height="1.3"/><rect x="497.9" y="740.8" width="1.35" height="1.3"/><rect x="499.3" y="740.8" width="1.35" height="1.3"/><rect x="503.6" y="740.8" width="1.35" height="1.3"/><rect x="509.3" y="740.8" width="1.35" height="1.3"/><rect x="510.7" y="740.8" width="1.35" height="1.3"/><rect x="513.5" y="740.8" width="1.35" height="1.3"/><rect x="516.4" y="740.8" width="1.35" height="1.3"/><rect x="520.6" y="740.8" width="1.35" height="1.3"/><rect x="522.0" y="740.8" width="1.35" height="1.3"/><rect x="524.9" y="740.8" width="1.35" height="1.3"/><rect x="527.7" y="740.8" width="1.35" height="1.3"/><rect x="461.7" y="742.0" width="1.35" height="1.3"/><rect x="463.1" y="742.0" width="1.35" height="1.3"/><rect x="464.5" y="742.0" width="1.35" height="1.3"/><rect x="466.0" y="742.0" width="1.35" height="1.3"/><rect x="468.8" y="742.0" width="1.35" height="1.3"/><rect x="470.2" y="742.0" width="1.35" height="1.3"/><rect x="471.6" y="742.0" width="1.35" height="1.3"/><rect x="477.3" y="742.0" width="1.35" height="1.3"/><rect x="481.6" y="742.0" width="1.35" height="1.3"/><rect x="483.0" y="742.0" width="1.35" height="1.3"/><rect x="484.4" y="742.0" width="1.35" height="1.3"/><rect x="492.9" y="742.0" width="1.35" height="1.3"/><rect x="495.8" y="742.0" width="1.35" height="1.3"/><rect x="497.2" y="742.0" width="1.35" height="1.3"/><rect x="498.6" y="742.0" width="1.35" height="1.3"/><rect x="500.0" y="742.0" width="1.35" height="1.3"/><rect x="501.5" y="742.0" width="1.35" height="1.3"/><rect x="504.3" y="742.0" width="1.35" height="1.3"/><rect x="505.7" y="742.0" width="1.35" height="1.3"/><rect x="510.0" y="742.0" width="1.35" height="1.3"/><rect x="514.2" y="742.0" width="1.35" height="1.3"/><rect x="528.4" y="742.0" width="1.35" height="1.3"/><rect x="534.1" y="742.0" width="1.35" height="1.3"/><rect x="545.5" y="742.0" width="1.35" height="1.3"/><rect x="551.1" y="742.0" width="1.35" height="1.3"/><rect x="552.6" y="742.0" width="1.35" height="1.3"/><rect x="554.0" y="742.0" width="1.35" height="1.3"/><rect x="556.8" y="742.0" width="1.35" height="1.3"/><rect x="455.3" y="743.3" width="1.35" height="1.3"/><rect x="465.2" y="743.3" width="1.35" height="1.3"/><rect x="466.7" y="743.3" width="1.35" height="1.3"/><rect x="468.1" y="743.3" width="1.35" height="1.3"/><rect x="469.5" y="743.3" width="1.35" height="1.3"/><rect x="472.3" y="743.3" width="1.35" height="1.3"/><rect x="473.8" y="743.3" width="1.35" height="1.3"/><rect x="475.2" y="743.3" width="1.35" height="1.3"/><rect x="476.6" y="743.3" width="1.35" height="1.3"/><rect x="480.9" y="743.3" width="1.35" height="1.3"/><rect x="482.3" y="743.3" width="1.35" height="1.3"/><rect x="483.7" y="743.3" width="1.35" height="1.3"/><rect x="486.5" y="743.3" width="1.35" height="1.3"/><rect x="490.8" y="743.3" width="1.35" height="1.3"/><rect x="493.6" y="743.3" width="1.35" height="1.3"/><rect x="495.1" y="743.3" width="1.35" height="1.3"/><rect x="496.5" y="743.3" width="1.35" height="1.3"/><rect x="497.9" y="743.3" width="1.35" height="1.3"/><rect x="500.7" y="743.3" width="1.35" height="1.3"/><rect x="507.8" y="743.3" width="1.35" height="1.3"/><rect x="509.3" y="743.3" width="1.35" height="1.3"/><rect x="520.6" y="743.3" width="1.35" height="1.3"/><rect x="527.7" y="743.3" width="1.35" height="1.3"/><rect x="529.1" y="743.3" width="1.35" height="1.3"/><rect x="530.6" y="743.3" width="1.35" height="1.3"/><rect x="541.9" y="743.3" width="1.35" height="1.3"/><rect x="543.3" y="743.3" width="1.35" height="1.3"/><rect x="546.2" y="743.3" width="1.35" height="1.3"/><rect x="551.9" y="743.3" width="1.35" height="1.3"/><rect x="553.3" y="743.3" width="1.35" height="1.3"/><rect x="554.7" y="743.3" width="1.35" height="1.3"/><rect x="559.0" y="743.3" width="1.35" height="1.3"/><rect x="456.0" y="744.5" width="1.35" height="1.3"/><rect x="460.3" y="744.5" width="1.35" height="1.3"/><rect x="461.7" y="744.5" width="1.35" height="1.3"/><rect x="463.1" y="744.5" width="1.35" height="1.3"/><rect x="467.4" y="744.5" width="1.35" height="1.3"/><rect x="468.8" y="744.5" width="1.35" height="1.3"/><rect x="470.2" y="744.5" width="1.35" height="1.3"/><rect x="471.6" y="744.5" width="1.35" height="1.3"/><rect x="473.1" y="744.5" width="1.35" height="1.3"/><rect x="474.5" y="744.5" width="1.35" height="1.3"/><rect x="475.9" y="744.5" width="1.35" height="1.3"/><rect x="477.3" y="744.5" width="1.35" height="1.3"/><rect x="480.2" y="744.5" width="1.35" height="1.3"/><rect x="481.6" y="744.5" width="1.35" height="1.3"/><rect x="484.4" y="744.5" width="1.35" height="1.3"/><rect x="485.8" y="744.5" width="1.35" height="1.3"/><rect x="494.4" y="744.5" width="1.35" height="1.3"/><rect x="495.8" y="744.5" width="1.35" height="1.3"/><rect x="497.2" y="744.5" width="1.35" height="1.3"/><rect x="498.6" y="744.5" width="1.35" height="1.3"/><rect x="501.5" y="744.5" width="1.35" height="1.3"/><rect x="504.3" y="744.5" width="1.35" height="1.3"/><rect x="505.7" y="744.5" width="1.35" height="1.3"/><rect x="507.1" y="744.5" width="1.35" height="1.3"/><rect x="529.9" y="744.5" width="1.35" height="1.3"/><rect x="532.7" y="744.5" width="1.35" height="1.3"/><rect x="534.1" y="744.5" width="1.35" height="1.3"/><rect x="541.2" y="744.5" width="1.35" height="1.3"/><rect x="554.0" y="744.5" width="1.35" height="1.3"/><rect x="555.4" y="744.5" width="1.35" height="1.3"/><rect x="556.8" y="744.5" width="1.35" height="1.3"/><rect x="558.2" y="744.5" width="1.35" height="1.3"/><rect x="458.1" y="745.8" width="1.35" height="1.3"/><rect x="465.2" y="745.8" width="1.35" height="1.3"/><rect x="469.5" y="745.8" width="1.35" height="1.3"/><rect x="472.3" y="745.8" width="1.35" height="1.3"/><rect x="473.8" y="745.8" width="1.35" height="1.3"/><rect x="475.2" y="745.8" width="1.35" height="1.3"/><rect x="476.6" y="745.8" width="1.35" height="1.3"/><rect x="478.0" y="745.8" width="1.35" height="1.3"/><rect x="480.9" y="745.8" width="1.35" height="1.3"/><rect x="482.3" y="745.8" width="1.35" height="1.3"/><rect x="485.1" y="745.8" width="1.35" height="1.3"/><rect x="486.5" y="745.8" width="1.35" height="1.3"/><rect x="490.8" y="745.8" width="1.35" height="1.3"/><rect x="492.2" y="745.8" width="1.35" height="1.3"/><rect x="493.6" y="745.8" width="1.35" height="1.3"/><rect x="495.1" y="745.8" width="1.35" height="1.3"/><rect x="496.5" y="745.8" width="1.35" height="1.3"/><rect x="497.9" y="745.8" width="1.35" height="1.3"/><rect x="502.2" y="745.8" width="1.35" height="1.3"/><rect x="503.6" y="745.8" width="1.35" height="1.3"/><rect x="505.0" y="745.8" width="1.35" height="1.3"/><rect x="506.4" y="745.8" width="1.35" height="1.3"/><rect x="509.3" y="745.8" width="1.35" height="1.3"/><rect x="529.1" y="745.8" width="1.35" height="1.3"/><rect x="533.4" y="745.8" width="1.35" height="1.3"/><rect x="534.8" y="745.8" width="1.35" height="1.3"/><rect x="537.7" y="745.8" width="1.35" height="1.3"/><rect x="539.1" y="745.8" width="1.35" height="1.3"/><rect x="541.9" y="745.8" width="1.35" height="1.3"/><rect x="543.3" y="745.8" width="1.35" height="1.3"/><rect x="544.8" y="745.8" width="1.35" height="1.3"/><rect x="549.0" y="745.8" width="1.35" height="1.3"/><rect x="550.4" y="745.8" width="1.35" height="1.3"/><rect x="551.9" y="745.8" width="1.35" height="1.3"/><rect x="553.3" y="745.8" width="1.35" height="1.3"/><rect x="556.1" y="745.8" width="1.35" height="1.3"/><rect x="559.0" y="745.8" width="1.35" height="1.3"/><rect x="456.0" y="747.0" width="1.35" height="1.3"/><rect x="457.4" y="747.0" width="1.35" height="1.3"/><rect x="458.8" y="747.0" width="1.35" height="1.3"/><rect x="460.3" y="747.0" width="1.35" height="1.3"/><rect x="463.1" y="747.0" width="1.35" height="1.3"/><rect x="464.5" y="747.0" width="1.35" height="1.3"/><rect x="466.0" y="747.0" width="1.35" height="1.3"/><rect x="468.8" y="747.0" width="1.35" height="1.3"/><rect x="473.1" y="747.0" width="1.35" height="1.3"/><rect x="474.5" y="747.0" width="1.35" height="1.3"/><rect x="475.9" y="747.0" width="1.35" height="1.3"/><rect x="477.3" y="747.0" width="1.35" height="1.3"/><rect x="480.2" y="747.0" width="1.35" height="1.3"/><rect x="481.6" y="747.0" width="1.35" height="1.3"/><rect x="485.8" y="747.0" width="1.35" height="1.3"/><rect x="487.3" y="747.0" width="1.35" height="1.3"/><rect x="488.7" y="747.0" width="1.35" height="1.3"/><rect x="490.1" y="747.0" width="1.35" height="1.3"/><rect x="492.9" y="747.0" width="1.35" height="1.3"/><rect x="494.4" y="747.0" width="1.35" height="1.3"/><rect x="497.2" y="747.0" width="1.35" height="1.3"/><rect x="498.6" y="747.0" width="1.35" height="1.3"/><rect x="500.0" y="747.0" width="1.35" height="1.3"/><rect x="502.9" y="747.0" width="1.35" height="1.3"/><rect x="504.3" y="747.0" width="1.35" height="1.3"/><rect x="505.7" y="747.0" width="1.35" height="1.3"/><rect x="508.6" y="747.0" width="1.35" height="1.3"/><rect x="521.3" y="747.0" width="1.35" height="1.3"/><rect x="527.0" y="747.0" width="1.35" height="1.3"/><rect x="529.9" y="747.0" width="1.35" height="1.3"/><rect x="531.3" y="747.0" width="1.35" height="1.3"/><rect x="532.7" y="747.0" width="1.35" height="1.3"/><rect x="536.9" y="747.0" width="1.35" height="1.3"/><rect x="538.4" y="747.0" width="1.35" height="1.3"/><rect x="539.8" y="747.0" width="1.35" height="1.3"/><rect x="544.0" y="747.0" width="1.35" height="1.3"/><rect x="551.1" y="747.0" width="1.35" height="1.3"/><rect x="458.1" y="748.3" width="1.35" height="1.3"/><rect x="459.6" y="748.3" width="1.35" height="1.3"/><rect x="469.5" y="748.3" width="1.35" height="1.3"/><rect x="476.6" y="748.3" width="1.35" height="1.3"/><rect x="478.0" y="748.3" width="1.35" height="1.3"/><rect x="479.4" y="748.3" width="1.35" height="1.3"/><rect x="482.3" y="748.3" width="1.35" height="1.3"/><rect x="483.7" y="748.3" width="1.35" height="1.3"/><rect x="485.1" y="748.3" width="1.35" height="1.3"/><rect x="488.0" y="748.3" width="1.35" height="1.3"/><rect x="490.8" y="748.3" width="1.35" height="1.3"/><rect x="492.2" y="748.3" width="1.35" height="1.3"/><rect x="493.6" y="748.3" width="1.35" height="1.3"/><rect x="495.1" y="748.3" width="1.35" height="1.3"/><rect x="505.0" y="748.3" width="1.35" height="1.3"/><rect x="509.3" y="748.3" width="1.35" height="1.3"/><rect x="512.1" y="748.3" width="1.35" height="1.3"/><rect x="527.7" y="748.3" width="1.35" height="1.3"/><rect x="529.1" y="748.3" width="1.35" height="1.3"/><rect x="530.6" y="748.3" width="1.35" height="1.3"/><rect x="532.0" y="748.3" width="1.35" height="1.3"/><rect x="534.8" y="748.3" width="1.35" height="1.3"/><rect x="539.1" y="748.3" width="1.35" height="1.3"/><rect x="540.5" y="748.3" width="1.35" height="1.3"/><rect x="541.9" y="748.3" width="1.35" height="1.3"/><rect x="543.3" y="748.3" width="1.35" height="1.3"/><rect x="547.6" y="748.3" width="1.35" height="1.3"/><rect x="550.4" y="748.3" width="1.35" height="1.3"/><rect x="553.3" y="748.3" width="1.35" height="1.3"/><rect x="554.7" y="748.3" width="1.35" height="1.3"/><rect x="456.0" y="749.5" width="1.35" height="1.3"/><rect x="457.4" y="749.5" width="1.35" height="1.3"/><rect x="458.8" y="749.5" width="1.35" height="1.3"/><rect x="460.3" y="749.5" width="1.35" height="1.3"/><rect x="468.8" y="749.5" width="1.35" height="1.3"/><rect x="470.2" y="749.5" width="1.35" height="1.3"/><rect x="473.1" y="749.5" width="1.35" height="1.3"/><rect x="475.9" y="749.5" width="1.35" height="1.3"/><rect x="480.2" y="749.5" width="1.35" height="1.3"/><rect x="483.0" y="749.5" width="1.35" height="1.3"/><rect x="484.4" y="749.5" width="1.35" height="1.3"/><rect x="488.7" y="749.5" width="1.35" height="1.3"/><rect x="490.1" y="749.5" width="1.35" height="1.3"/><rect x="491.5" y="749.5" width="1.35" height="1.3"/><rect x="494.4" y="749.5" width="1.35" height="1.3"/><rect x="504.3" y="749.5" width="1.35" height="1.3"/><rect x="507.1" y="749.5" width="1.35" height="1.3"/><rect x="517.1" y="749.5" width="1.35" height="1.3"/><rect x="527.0" y="749.5" width="1.35" height="1.3"/><rect x="532.7" y="749.5" width="1.35" height="1.3"/><rect x="535.5" y="749.5" width="1.35" height="1.3"/><rect x="538.4" y="749.5" width="1.35" height="1.3"/><rect x="539.8" y="749.5" width="1.35" height="1.3"/><rect x="541.2" y="749.5" width="1.35" height="1.3"/><rect x="544.0" y="749.5" width="1.35" height="1.3"/><rect x="545.5" y="749.5" width="1.35" height="1.3"/><rect x="549.7" y="749.5" width="1.35" height="1.3"/><rect x="551.1" y="749.5" width="1.35" height="1.3"/><rect x="558.2" y="749.5" width="1.35" height="1.3"/><rect x="455.3" y="750.8" width="1.35" height="1.3"/><rect x="456.7" y="750.8" width="1.35" height="1.3"/><rect x="458.1" y="750.8" width="1.35" height="1.3"/><rect x="459.6" y="750.8" width="1.35" height="1.3"/><rect x="461.0" y="750.8" width="1.35" height="1.3"/><rect x="463.8" y="750.8" width="1.35" height="1.3"/><rect x="465.2" y="750.8" width="1.35" height="1.3"/><rect x="469.5" y="750.8" width="1.35" height="1.3"/><rect x="470.9" y="750.8" width="1.35" height="1.3"/><rect x="473.8" y="750.8" width="1.35" height="1.3"/><rect x="478.0" y="750.8" width="1.35" height="1.3"/><rect x="479.4" y="750.8" width="1.35" height="1.3"/><rect x="482.3" y="750.8" width="1.35" height="1.3"/><rect x="483.7" y="750.8" width="1.35" height="1.3"/><rect x="485.1" y="750.8" width="1.35" height="1.3"/><rect x="486.5" y="750.8" width="1.35" height="1.3"/><rect x="489.4" y="750.8" width="1.35" height="1.3"/><rect x="490.8" y="750.8" width="1.35" height="1.3"/><rect x="493.6" y="750.8" width="1.35" height="1.3"/><rect x="495.1" y="750.8" width="1.35" height="1.3"/><rect x="496.5" y="750.8" width="1.35" height="1.3"/><rect x="497.9" y="750.8" width="1.35" height="1.3"/><rect x="503.6" y="750.8" width="1.35" height="1.3"/><rect x="512.1" y="750.8" width="1.35" height="1.3"/><rect x="530.6" y="750.8" width="1.35" height="1.3"/><rect x="534.8" y="750.8" width="1.35" height="1.3"/><rect x="536.2" y="750.8" width="1.35" height="1.3"/><rect x="539.1" y="750.8" width="1.35" height="1.3"/><rect x="540.5" y="750.8" width="1.35" height="1.3"/><rect x="541.9" y="750.8" width="1.35" height="1.3"/><rect x="546.2" y="750.8" width="1.35" height="1.3"/><rect x="547.6" y="750.8" width="1.35" height="1.3"/><rect x="549.0" y="750.8" width="1.35" height="1.3"/><rect x="551.9" y="750.8" width="1.35" height="1.3"/><rect x="553.3" y="750.8" width="1.35" height="1.3"/><rect x="456.0" y="752.0" width="1.35" height="1.3"/><rect x="457.4" y="752.0" width="1.35" height="1.3"/><rect x="458.8" y="752.0" width="1.35" height="1.3"/><rect x="460.3" y="752.0" width="1.35" height="1.3"/><rect x="464.5" y="752.0" width="1.35" height="1.3"/><rect x="466.0" y="752.0" width="1.35" height="1.3"/><rect x="467.4" y="752.0" width="1.35" height="1.3"/><rect x="468.8" y="752.0" width="1.35" height="1.3"/><rect x="470.2" y="752.0" width="1.35" height="1.3"/><rect x="471.6" y="752.0" width="1.35" height="1.3"/><rect x="473.1" y="752.0" width="1.35" height="1.3"/><rect x="474.5" y="752.0" width="1.35" height="1.3"/><rect x="480.2" y="752.0" width="1.35" height="1.3"/><rect x="481.6" y="752.0" width="1.35" height="1.3"/><rect x="484.4" y="752.0" width="1.35" height="1.3"/><rect x="487.3" y="752.0" width="1.35" height="1.3"/><rect x="490.1" y="752.0" width="1.35" height="1.3"/><rect x="491.5" y="752.0" width="1.35" height="1.3"/><rect x="495.8" y="752.0" width="1.35" height="1.3"/><rect x="501.5" y="752.0" width="1.35" height="1.3"/><rect x="502.9" y="752.0" width="1.35" height="1.3"/><rect x="505.7" y="752.0" width="1.35" height="1.3"/><rect x="522.8" y="752.0" width="1.35" height="1.3"/><rect x="528.4" y="752.0" width="1.35" height="1.3"/><rect x="535.5" y="752.0" width="1.35" height="1.3"/><rect x="536.9" y="752.0" width="1.35" height="1.3"/><rect x="538.4" y="752.0" width="1.35" height="1.3"/><rect x="539.8" y="752.0" width="1.35" height="1.3"/><rect x="545.5" y="752.0" width="1.35" height="1.3"/><rect x="546.9" y="752.0" width="1.35" height="1.3"/><rect x="548.3" y="752.0" width="1.35" height="1.3"/><rect x="549.7" y="752.0" width="1.35" height="1.3"/><rect x="552.6" y="752.0" width="1.35" height="1.3"/><rect x="554.0" y="752.0" width="1.35" height="1.3"/><rect x="558.2" y="752.0" width="1.35" height="1.3"/><rect x="456.7" y="753.3" width="1.35" height="1.3"/><rect x="459.6" y="753.3" width="1.35" height="1.3"/><rect x="463.8" y="753.3" width="1.35" height="1.3"/><rect x="465.2" y="753.3" width="1.35" height="1.3"/><rect x="468.1" y="753.3" width="1.35" height="1.3"/><rect x="469.5" y="753.3" width="1.35" height="1.3"/><rect x="470.9" y="753.3" width="1.35" height="1.3"/><rect x="472.3" y="753.3" width="1.35" height="1.3"/><rect x="473.8" y="753.3" width="1.35" height="1.3"/><rect x="475.2" y="753.3" width="1.35" height="1.3"/><rect x="480.9" y="753.3" width="1.35" height="1.3"/><rect x="482.3" y="753.3" width="1.35" height="1.3"/><rect x="485.1" y="753.3" width="1.35" height="1.3"/><rect x="486.5" y="753.3" width="1.35" height="1.3"/><rect x="488.0" y="753.3" width="1.35" height="1.3"/><rect x="490.8" y="753.3" width="1.35" height="1.3"/><rect x="492.2" y="753.3" width="1.35" height="1.3"/><rect x="493.6" y="753.3" width="1.35" height="1.3"/><rect x="495.1" y="753.3" width="1.35" height="1.3"/><rect x="496.5" y="753.3" width="1.35" height="1.3"/><rect x="497.9" y="753.3" width="1.35" height="1.3"/><rect x="499.3" y="753.3" width="1.35" height="1.3"/><rect x="500.7" y="753.3" width="1.35" height="1.3"/><rect x="502.2" y="753.3" width="1.35" height="1.3"/><rect x="503.6" y="753.3" width="1.35" height="1.3"/><rect x="505.0" y="753.3" width="1.35" height="1.3"/><rect x="509.3" y="753.3" width="1.35" height="1.3"/><rect x="526.3" y="753.3" width="1.35" height="1.3"/><rect x="527.7" y="753.3" width="1.35" height="1.3"/><rect x="529.1" y="753.3" width="1.35" height="1.3"/><rect x="530.6" y="753.3" width="1.35" height="1.3"/><rect x="532.0" y="753.3" width="1.35" height="1.3"/><rect x="544.8" y="753.3" width="1.35" height="1.3"/><rect x="546.2" y="753.3" width="1.35" height="1.3"/><rect x="549.0" y="753.3" width="1.35" height="1.3"/><rect x="551.9" y="753.3" width="1.35" height="1.3"/><rect x="556.1" y="753.3" width="1.35" height="1.3"/><rect x="557.5" y="753.3" width="1.35" height="1.3"/><rect x="559.0" y="753.3" width="1.35" height="1.3"/><rect x="460.3" y="754.5" width="1.35" height="1.3"/><rect x="464.5" y="754.5" width="1.35" height="1.3"/><rect x="467.4" y="754.5" width="1.35" height="1.3"/><rect x="468.8" y="754.5" width="1.35" height="1.3"/><rect x="470.2" y="754.5" width="1.35" height="1.3"/><rect x="471.6" y="754.5" width="1.35" height="1.3"/><rect x="474.5" y="754.5" width="1.35" height="1.3"/><rect x="475.9" y="754.5" width="1.35" height="1.3"/><rect x="481.6" y="754.5" width="1.35" height="1.3"/><rect x="483.0" y="754.5" width="1.35" height="1.3"/><rect x="487.3" y="754.5" width="1.35" height="1.3"/><rect x="488.7" y="754.5" width="1.35" height="1.3"/><rect x="494.4" y="754.5" width="1.35" height="1.3"/><rect x="495.8" y="754.5" width="1.35" height="1.3"/><rect x="498.6" y="754.5" width="1.35" height="1.3"/><rect x="500.0" y="754.5" width="1.35" height="1.3"/><rect x="501.5" y="754.5" width="1.35" height="1.3"/><rect x="502.9" y="754.5" width="1.35" height="1.3"/><rect x="504.3" y="754.5" width="1.35" height="1.3"/><rect x="508.6" y="754.5" width="1.35" height="1.3"/><rect x="519.9" y="754.5" width="1.35" height="1.3"/><rect x="527.0" y="754.5" width="1.35" height="1.3"/><rect x="528.4" y="754.5" width="1.35" height="1.3"/><rect x="531.3" y="754.5" width="1.35" height="1.3"/><rect x="532.7" y="754.5" width="1.35" height="1.3"/><rect x="539.8" y="754.5" width="1.35" height="1.3"/><rect x="542.6" y="754.5" width="1.35" height="1.3"/><rect x="545.5" y="754.5" width="1.35" height="1.3"/><rect x="548.3" y="754.5" width="1.35" height="1.3"/><rect x="549.7" y="754.5" width="1.35" height="1.3"/><rect x="552.6" y="754.5" width="1.35" height="1.3"/><rect x="455.3" y="755.8" width="1.35" height="1.3"/><rect x="463.8" y="755.8" width="1.35" height="1.3"/><rect x="465.2" y="755.8" width="1.35" height="1.3"/><rect x="468.1" y="755.8" width="1.35" height="1.3"/><rect x="469.5" y="755.8" width="1.35" height="1.3"/><rect x="470.9" y="755.8" width="1.35" height="1.3"/><rect x="475.2" y="755.8" width="1.35" height="1.3"/><rect x="476.6" y="755.8" width="1.35" height="1.3"/><rect x="479.4" y="755.8" width="1.35" height="1.3"/><rect x="480.9" y="755.8" width="1.35" height="1.3"/><rect x="482.3" y="755.8" width="1.35" height="1.3"/><rect x="483.7" y="755.8" width="1.35" height="1.3"/><rect x="485.1" y="755.8" width="1.35" height="1.3"/><rect x="486.5" y="755.8" width="1.35" height="1.3"/><rect x="488.0" y="755.8" width="1.35" height="1.3"/><rect x="495.1" y="755.8" width="1.35" height="1.3"/><rect x="499.3" y="755.8" width="1.35" height="1.3"/><rect x="500.7" y="755.8" width="1.35" height="1.3"/><rect x="502.2" y="755.8" width="1.35" height="1.3"/><rect x="503.6" y="755.8" width="1.35" height="1.3"/><rect x="510.7" y="755.8" width="1.35" height="1.3"/><rect x="514.9" y="755.8" width="1.35" height="1.3"/><rect x="530.6" y="755.8" width="1.35" height="1.3"/><rect x="533.4" y="755.8" width="1.35" height="1.3"/><rect x="534.8" y="755.8" width="1.35" height="1.3"/><rect x="537.7" y="755.8" width="1.35" height="1.3"/><rect x="540.5" y="755.8" width="1.35" height="1.3"/><rect x="544.8" y="755.8" width="1.35" height="1.3"/><rect x="550.4" y="755.8" width="1.35" height="1.3"/><rect x="556.1" y="755.8" width="1.35" height="1.3"/><rect x="559.0" y="755.8" width="1.35" height="1.3"/><rect x="456.0" y="757.0" width="1.35" height="1.3"/><rect x="460.3" y="757.0" width="1.35" height="1.3"/><rect x="461.7" y="757.0" width="1.35" height="1.3"/><rect x="466.0" y="757.0" width="1.35" height="1.3"/><rect x="467.4" y="757.0" width="1.35" height="1.3"/><rect x="471.6" y="757.0" width="1.35" height="1.3"/><rect x="475.9" y="757.0" width="1.35" height="1.3"/><rect x="477.3" y="757.0" width="1.35" height="1.3"/><rect x="478.7" y="757.0" width="1.35" height="1.3"/><rect x="480.2" y="757.0" width="1.35" height="1.3"/><rect x="481.6" y="757.0" width="1.35" height="1.3"/><rect x="483.0" y="757.0" width="1.35" height="1.3"/><rect x="484.4" y="757.0" width="1.35" height="1.3"/><rect x="485.8" y="757.0" width="1.35" height="1.3"/><rect x="488.7" y="757.0" width="1.35" height="1.3"/><rect x="490.1" y="757.0" width="1.35" height="1.3"/><rect x="491.5" y="757.0" width="1.35" height="1.3"/><rect x="495.8" y="757.0" width="1.35" height="1.3"/><rect x="497.2" y="757.0" width="1.35" height="1.3"/><rect x="500.0" y="757.0" width="1.35" height="1.3"/><rect x="501.5" y="757.0" width="1.35" height="1.3"/><rect x="502.9" y="757.0" width="1.35" height="1.3"/><rect x="504.3" y="757.0" width="1.35" height="1.3"/><rect x="507.1" y="757.0" width="1.35" height="1.3"/><rect x="508.6" y="757.0" width="1.35" height="1.3"/><rect x="522.8" y="757.0" width="1.35" height="1.3"/><rect x="527.0" y="757.0" width="1.35" height="1.3"/><rect x="532.7" y="757.0" width="1.35" height="1.3"/><rect x="535.5" y="757.0" width="1.35" height="1.3"/><rect x="539.8" y="757.0" width="1.35" height="1.3"/><rect x="541.2" y="757.0" width="1.35" height="1.3"/><rect x="546.9" y="757.0" width="1.35" height="1.3"/><rect x="556.8" y="757.0" width="1.35" height="1.3"/><rect x="558.2" y="757.0" width="1.35" height="1.3"/><rect x="455.3" y="758.3" width="1.35" height="1.3"/><rect x="456.7" y="758.3" width="1.35" height="1.3"/><rect x="458.1" y="758.3" width="1.35" height="1.3"/><rect x="461.0" y="758.3" width="1.35" height="1.3"/><rect x="462.4" y="758.3" width="1.35" height="1.3"/><rect x="465.2" y="758.3" width="1.35" height="1.3"/><rect x="466.7" y="758.3" width="1.35" height="1.3"/><rect x="470.9" y="758.3" width="1.35" height="1.3"/><rect x="476.6" y="758.3" width="1.35" height="1.3"/><rect x="478.0" y="758.3" width="1.35" height="1.3"/><rect x="479.4" y="758.3" width="1.35" height="1.3"/><rect x="480.9" y="758.3" width="1.35" height="1.3"/><rect x="482.3" y="758.3" width="1.35" height="1.3"/><rect x="483.7" y="758.3" width="1.35" height="1.3"/><rect x="485.1" y="758.3" width="1.35" height="1.3"/><rect x="488.0" y="758.3" width="1.35" height="1.3"/><rect x="492.2" y="758.3" width="1.35" height="1.3"/><rect x="496.5" y="758.3" width="1.35" height="1.3"/><rect x="499.3" y="758.3" width="1.35" height="1.3"/><rect x="500.7" y="758.3" width="1.35" height="1.3"/><rect x="517.8" y="758.3" width="1.35" height="1.3"/><rect x="524.9" y="758.3" width="1.35" height="1.3"/><rect x="527.7" y="758.3" width="1.35" height="1.3"/><rect x="529.1" y="758.3" width="1.35" height="1.3"/><rect x="532.0" y="758.3" width="1.35" height="1.3"/><rect x="534.8" y="758.3" width="1.35" height="1.3"/><rect x="536.2" y="758.3" width="1.35" height="1.3"/><rect x="540.5" y="758.3" width="1.35" height="1.3"/><rect x="546.2" y="758.3" width="1.35" height="1.3"/><rect x="557.5" y="758.3" width="1.35" height="1.3"/><rect x="456.0" y="759.5" width="1.35" height="1.3"/><rect x="457.4" y="759.5" width="1.35" height="1.3"/><rect x="458.8" y="759.5" width="1.35" height="1.3"/><rect x="460.3" y="759.5" width="1.35" height="1.3"/><rect x="461.7" y="759.5" width="1.35" height="1.3"/><rect x="463.1" y="759.5" width="1.35" height="1.3"/><rect x="464.5" y="759.5" width="1.35" height="1.3"/><rect x="466.0" y="759.5" width="1.35" height="1.3"/><rect x="467.4" y="759.5" width="1.35" height="1.3"/><rect x="468.8" y="759.5" width="1.35" height="1.3"/><rect x="470.2" y="759.5" width="1.35" height="1.3"/><rect x="473.1" y="759.5" width="1.35" height="1.3"/><rect x="480.2" y="759.5" width="1.35" height="1.3"/><rect x="481.6" y="759.5" width="1.35" height="1.3"/><rect x="484.4" y="759.5" width="1.35" height="1.3"/><rect x="487.3" y="759.5" width="1.35" height="1.3"/><rect x="488.7" y="759.5" width="1.35" height="1.3"/><rect x="490.1" y="759.5" width="1.35" height="1.3"/><rect x="491.5" y="759.5" width="1.35" height="1.3"/><rect x="497.2" y="759.5" width="1.35" height="1.3"/><rect x="500.0" y="759.5" width="1.35" height="1.3"/><rect x="501.5" y="759.5" width="1.35" height="1.3"/><rect x="504.3" y="759.5" width="1.35" height="1.3"/><rect x="508.6" y="759.5" width="1.35" height="1.3"/><rect x="510.0" y="759.5" width="1.35" height="1.3"/><rect x="522.8" y="759.5" width="1.35" height="1.3"/><rect x="527.0" y="759.5" width="1.35" height="1.3"/><rect x="531.3" y="759.5" width="1.35" height="1.3"/><rect x="532.7" y="759.5" width="1.35" height="1.3"/><rect x="534.1" y="759.5" width="1.35" height="1.3"/><rect x="535.5" y="759.5" width="1.35" height="1.3"/><rect x="536.9" y="759.5" width="1.35" height="1.3"/><rect x="539.8" y="759.5" width="1.35" height="1.3"/><rect x="541.2" y="759.5" width="1.35" height="1.3"/><rect x="542.6" y="759.5" width="1.35" height="1.3"/><rect x="544.0" y="759.5" width="1.35" height="1.3"/><rect x="545.5" y="759.5" width="1.35" height="1.3"/><rect x="546.9" y="759.5" width="1.35" height="1.3"/><rect x="548.3" y="759.5" width="1.35" height="1.3"/><rect x="556.8" y="759.5" width="1.35" height="1.3"/><rect x="455.3" y="760.8" width="1.35" height="1.3"/><rect x="458.1" y="760.8" width="1.35" height="1.3"/><rect x="459.6" y="760.8" width="1.35" height="1.3"/><rect x="462.4" y="760.8" width="1.35" height="1.3"/><rect x="463.8" y="760.8" width="1.35" height="1.3"/><rect x="465.2" y="760.8" width="1.35" height="1.3"/><rect x="468.1" y="760.8" width="1.35" height="1.3"/><rect x="469.5" y="760.8" width="1.35" height="1.3"/><rect x="475.2" y="760.8" width="1.35" height="1.3"/><rect x="476.6" y="760.8" width="1.35" height="1.3"/><rect x="478.0" y="760.8" width="1.35" height="1.3"/><rect x="479.4" y="760.8" width="1.35" height="1.3"/><rect x="480.9" y="760.8" width="1.35" height="1.3"/><rect x="486.5" y="760.8" width="1.35" height="1.3"/><rect x="488.0" y="760.8" width="1.35" height="1.3"/><rect x="489.4" y="760.8" width="1.35" height="1.3"/><rect x="492.2" y="760.8" width="1.35" height="1.3"/><rect x="493.6" y="760.8" width="1.35" height="1.3"/><rect x="496.5" y="760.8" width="1.35" height="1.3"/><rect x="497.9" y="760.8" width="1.35" height="1.3"/><rect x="500.7" y="760.8" width="1.35" height="1.3"/><rect x="507.8" y="760.8" width="1.35" height="1.3"/><rect x="517.8" y="760.8" width="1.35" height="1.3"/><rect x="532.0" y="760.8" width="1.35" height="1.3"/><rect x="536.2" y="760.8" width="1.35" height="1.3"/><rect x="537.7" y="760.8" width="1.35" height="1.3"/><rect x="541.9" y="760.8" width="1.35" height="1.3"/><rect x="547.6" y="760.8" width="1.35" height="1.3"/><rect x="549.0" y="760.8" width="1.35" height="1.3"/><rect x="550.4" y="760.8" width="1.35" height="1.3"/><rect x="554.7" y="760.8" width="1.35" height="1.3"/><rect x="458.8" y="762.0" width="1.35" height="1.3"/><rect x="460.3" y="762.0" width="1.35" height="1.3"/><rect x="461.7" y="762.0" width="1.35" height="1.3"/><rect x="463.1" y="762.0" width="1.35" height="1.3"/><rect x="464.5" y="762.0" width="1.35" height="1.3"/><rect x="466.0" y="762.0" width="1.35" height="1.3"/><rect x="470.2" y="762.0" width="1.35" height="1.3"/><rect x="473.1" y="762.0" width="1.35" height="1.3"/><rect x="474.5" y="762.0" width="1.35" height="1.3"/><rect x="477.3" y="762.0" width="1.35" height="1.3"/><rect x="480.2" y="762.0" width="1.35" height="1.3"/><rect x="483.0" y="762.0" width="1.35" height="1.3"/><rect x="484.4" y="762.0" width="1.35" height="1.3"/><rect x="485.8" y="762.0" width="1.35" height="1.3"/><rect x="487.3" y="762.0" width="1.35" height="1.3"/><rect x="492.9" y="762.0" width="1.35" height="1.3"/><rect x="494.4" y="762.0" width="1.35" height="1.3"/><rect x="495.8" y="762.0" width="1.35" height="1.3"/><rect x="498.6" y="762.0" width="1.35" height="1.3"/><rect x="500.0" y="762.0" width="1.35" height="1.3"/><rect x="505.7" y="762.0" width="1.35" height="1.3"/><rect x="507.1" y="762.0" width="1.35" height="1.3"/><rect x="510.0" y="762.0" width="1.35" height="1.3"/><rect x="515.7" y="762.0" width="1.35" height="1.3"/><rect x="531.3" y="762.0" width="1.35" height="1.3"/><rect x="532.7" y="762.0" width="1.35" height="1.3"/><rect x="536.9" y="762.0" width="1.35" height="1.3"/><rect x="541.2" y="762.0" width="1.35" height="1.3"/><rect x="545.5" y="762.0" width="1.35" height="1.3"/><rect x="548.3" y="762.0" width="1.35" height="1.3"/><rect x="549.7" y="762.0" width="1.35" height="1.3"/><rect x="552.6" y="762.0" width="1.35" height="1.3"/><rect x="554.0" y="762.0" width="1.35" height="1.3"/><rect x="555.4" y="762.0" width="1.35" height="1.3"/><rect x="455.3" y="763.3" width="1.35" height="1.3"/><rect x="461.0" y="763.3" width="1.35" height="1.3"/><rect x="462.4" y="763.3" width="1.35" height="1.3"/><rect x="463.8" y="763.3" width="1.35" height="1.3"/><rect x="465.2" y="763.3" width="1.35" height="1.3"/><rect x="466.7" y="763.3" width="1.35" height="1.3"/><rect x="468.1" y="763.3" width="1.35" height="1.3"/><rect x="469.5" y="763.3" width="1.35" height="1.3"/><rect x="470.9" y="763.3" width="1.35" height="1.3"/><rect x="472.3" y="763.3" width="1.35" height="1.3"/><rect x="473.8" y="763.3" width="1.35" height="1.3"/><rect x="476.6" y="763.3" width="1.35" height="1.3"/><rect x="478.0" y="763.3" width="1.35" height="1.3"/><rect x="485.1" y="763.3" width="1.35" height="1.3"/><rect x="488.0" y="763.3" width="1.35" height="1.3"/><rect x="489.4" y="763.3" width="1.35" height="1.3"/><rect x="490.8" y="763.3" width="1.35" height="1.3"/><rect x="492.2" y="763.3" width="1.35" height="1.3"/><rect x="493.6" y="763.3" width="1.35" height="1.3"/><rect x="495.1" y="763.3" width="1.35" height="1.3"/><rect x="497.9" y="763.3" width="1.35" height="1.3"/><rect x="500.7" y="763.3" width="1.35" height="1.3"/><rect x="502.2" y="763.3" width="1.35" height="1.3"/><rect x="503.6" y="763.3" width="1.35" height="1.3"/><rect x="505.0" y="763.3" width="1.35" height="1.3"/><rect x="506.4" y="763.3" width="1.35" height="1.3"/><rect x="507.8" y="763.3" width="1.35" height="1.3"/><rect x="520.6" y="763.3" width="1.35" height="1.3"/><rect x="530.6" y="763.3" width="1.35" height="1.3"/><rect x="532.0" y="763.3" width="1.35" height="1.3"/><rect x="533.4" y="763.3" width="1.35" height="1.3"/><rect x="541.9" y="763.3" width="1.35" height="1.3"/><rect x="554.7" y="763.3" width="1.35" height="1.3"/><rect x="557.5" y="763.3" width="1.35" height="1.3"/><rect x="457.4" y="764.5" width="1.35" height="1.3"/><rect x="458.8" y="764.5" width="1.35" height="1.3"/><rect x="461.7" y="764.5" width="1.35" height="1.3"/><rect x="464.5" y="764.5" width="1.35" height="1.3"/><rect x="468.8" y="764.5" width="1.35" height="1.3"/><rect x="471.6" y="764.5" width="1.35" height="1.3"/><rect x="473.1" y="764.5" width="1.35" height="1.3"/><rect x="474.5" y="764.5" width="1.35" height="1.3"/><rect x="475.9" y="764.5" width="1.35" height="1.3"/><rect x="477.3" y="764.5" width="1.35" height="1.3"/><rect x="483.0" y="764.5" width="1.35" height="1.3"/><rect x="484.4" y="764.5" width="1.35" height="1.3"/><rect x="485.8" y="764.5" width="1.35" height="1.3"/><rect x="487.3" y="764.5" width="1.35" height="1.3"/><rect x="488.7" y="764.5" width="1.35" height="1.3"/><rect x="490.1" y="764.5" width="1.35" height="1.3"/><rect x="491.5" y="764.5" width="1.35" height="1.3"/><rect x="492.9" y="764.5" width="1.35" height="1.3"/><rect x="494.4" y="764.5" width="1.35" height="1.3"/><rect x="495.8" y="764.5" width="1.35" height="1.3"/><rect x="497.2" y="764.5" width="1.35" height="1.3"/><rect x="500.0" y="764.5" width="1.35" height="1.3"/><rect x="504.3" y="764.5" width="1.35" height="1.3"/><rect x="505.7" y="764.5" width="1.35" height="1.3"/><rect x="507.1" y="764.5" width="1.35" height="1.3"/><rect x="510.0" y="764.5" width="1.35" height="1.3"/><rect x="522.8" y="764.5" width="1.35" height="1.3"/><rect x="528.4" y="764.5" width="1.35" height="1.3"/><rect x="529.9" y="764.5" width="1.35" height="1.3"/><rect x="532.7" y="764.5" width="1.35" height="1.3"/><rect x="534.1" y="764.5" width="1.35" height="1.3"/><rect x="536.9" y="764.5" width="1.35" height="1.3"/><rect x="539.8" y="764.5" width="1.35" height="1.3"/><rect x="545.5" y="764.5" width="1.35" height="1.3"/><rect x="549.7" y="764.5" width="1.35" height="1.3"/><rect x="551.1" y="764.5" width="1.35" height="1.3"/><rect x="552.6" y="764.5" width="1.35" height="1.3"/><rect x="554.0" y="764.5" width="1.35" height="1.3"/><rect x="555.4" y="764.5" width="1.35" height="1.3"/><rect x="456.7" y="765.8" width="1.35" height="1.3"/><rect x="458.1" y="765.8" width="1.35" height="1.3"/><rect x="461.0" y="765.8" width="1.35" height="1.3"/><rect x="462.4" y="765.8" width="1.35" height="1.3"/><rect x="463.8" y="765.8" width="1.35" height="1.3"/><rect x="468.1" y="765.8" width="1.35" height="1.3"/><rect x="472.3" y="765.8" width="1.35" height="1.3"/><rect x="473.8" y="765.8" width="1.35" height="1.3"/><rect x="475.2" y="765.8" width="1.35" height="1.3"/><rect x="479.4" y="765.8" width="1.35" height="1.3"/><rect x="482.3" y="765.8" width="1.35" height="1.3"/><rect x="483.7" y="765.8" width="1.35" height="1.3"/><rect x="485.1" y="765.8" width="1.35" height="1.3"/><rect x="488.0" y="765.8" width="1.35" height="1.3"/><rect x="489.4" y="765.8" width="1.35" height="1.3"/><rect x="493.6" y="765.8" width="1.35" height="1.3"/><rect x="496.5" y="765.8" width="1.35" height="1.3"/><rect x="499.3" y="765.8" width="1.35" height="1.3"/><rect x="502.2" y="765.8" width="1.35" height="1.3"/><rect x="503.6" y="765.8" width="1.35" height="1.3"/><rect x="505.0" y="765.8" width="1.35" height="1.3"/><rect x="506.4" y="765.8" width="1.35" height="1.3"/><rect x="509.3" y="765.8" width="1.35" height="1.3"/><rect x="516.4" y="765.8" width="1.35" height="1.3"/><rect x="517.8" y="765.8" width="1.35" height="1.3"/><rect x="523.5" y="765.8" width="1.35" height="1.3"/><rect x="541.9" y="765.8" width="1.35" height="1.3"/><rect x="543.3" y="765.8" width="1.35" height="1.3"/><rect x="549.0" y="765.8" width="1.35" height="1.3"/><rect x="550.4" y="765.8" width="1.35" height="1.3"/><rect x="551.9" y="765.8" width="1.35" height="1.3"/><rect x="553.3" y="765.8" width="1.35" height="1.3"/><rect x="554.7" y="765.8" width="1.35" height="1.3"/><rect x="559.0" y="765.8" width="1.35" height="1.3"/><rect x="456.0" y="767.0" width="1.35" height="1.3"/><rect x="457.4" y="767.0" width="1.35" height="1.3"/><rect x="458.8" y="767.0" width="1.35" height="1.3"/><rect x="466.0" y="767.0" width="1.35" height="1.3"/><rect x="467.4" y="767.0" width="1.35" height="1.3"/><rect x="471.6" y="767.0" width="1.35" height="1.3"/><rect x="473.1" y="767.0" width="1.35" height="1.3"/><rect x="474.5" y="767.0" width="1.35" height="1.3"/><rect x="477.3" y="767.0" width="1.35" height="1.3"/><rect x="481.6" y="767.0" width="1.35" height="1.3"/><rect x="483.0" y="767.0" width="1.35" height="1.3"/><rect x="485.8" y="767.0" width="1.35" height="1.3"/><rect x="487.3" y="767.0" width="1.35" height="1.3"/><rect x="491.5" y="767.0" width="1.35" height="1.3"/><rect x="492.9" y="767.0" width="1.35" height="1.3"/><rect x="494.4" y="767.0" width="1.35" height="1.3"/><rect x="495.8" y="767.0" width="1.35" height="1.3"/><rect x="500.0" y="767.0" width="1.35" height="1.3"/><rect x="501.5" y="767.0" width="1.35" height="1.3"/><rect x="502.9" y="767.0" width="1.35" height="1.3"/><rect x="504.3" y="767.0" width="1.35" height="1.3"/><rect x="505.7" y="767.0" width="1.35" height="1.3"/><rect x="508.6" y="767.0" width="1.35" height="1.3"/><rect x="512.8" y="767.0" width="1.35" height="1.3"/><rect x="525.6" y="767.0" width="1.35" height="1.3"/><rect x="528.4" y="767.0" width="1.35" height="1.3"/><rect x="529.9" y="767.0" width="1.35" height="1.3"/><rect x="532.7" y="767.0" width="1.35" height="1.3"/><rect x="534.1" y="767.0" width="1.35" height="1.3"/><rect x="548.3" y="767.0" width="1.35" height="1.3"/><rect x="549.7" y="767.0" width="1.35" height="1.3"/><rect x="552.6" y="767.0" width="1.35" height="1.3"/><rect x="455.3" y="768.3" width="1.35" height="1.3"/><rect x="458.1" y="768.3" width="1.35" height="1.3"/><rect x="459.6" y="768.3" width="1.35" height="1.3"/><rect x="461.0" y="768.3" width="1.35" height="1.3"/><rect x="462.4" y="768.3" width="1.35" height="1.3"/><rect x="465.2" y="768.3" width="1.35" height="1.3"/><rect x="468.1" y="768.3" width="1.35" height="1.3"/><rect x="475.2" y="768.3" width="1.35" height="1.3"/><rect x="476.6" y="768.3" width="1.35" height="1.3"/><rect x="478.0" y="768.3" width="1.35" height="1.3"/><rect x="479.4" y="768.3" width="1.35" height="1.3"/><rect x="480.9" y="768.3" width="1.35" height="1.3"/><rect x="482.3" y="768.3" width="1.35" height="1.3"/><rect x="483.7" y="768.3" width="1.35" height="1.3"/><rect x="486.5" y="768.3" width="1.35" height="1.3"/><rect x="488.0" y="768.3" width="1.35" height="1.3"/><rect x="489.4" y="768.3" width="1.35" height="1.3"/><rect x="490.8" y="768.3" width="1.35" height="1.3"/><rect x="495.1" y="768.3" width="1.35" height="1.3"/><rect x="497.9" y="768.3" width="1.35" height="1.3"/><rect x="500.7" y="768.3" width="1.35" height="1.3"/><rect x="502.2" y="768.3" width="1.35" height="1.3"/><rect x="503.6" y="768.3" width="1.35" height="1.3"/><rect x="505.0" y="768.3" width="1.35" height="1.3"/><rect x="506.4" y="768.3" width="1.35" height="1.3"/><rect x="512.1" y="768.3" width="1.35" height="1.3"/><rect x="524.9" y="768.3" width="1.35" height="1.3"/><rect x="526.3" y="768.3" width="1.35" height="1.3"/><rect x="529.1" y="768.3" width="1.35" height="1.3"/><rect x="530.6" y="768.3" width="1.35" height="1.3"/><rect x="533.4" y="768.3" width="1.35" height="1.3"/><rect x="536.2" y="768.3" width="1.35" height="1.3"/><rect x="539.1" y="768.3" width="1.35" height="1.3"/><rect x="541.9" y="768.3" width="1.35" height="1.3"/><rect x="544.8" y="768.3" width="1.35" height="1.3"/><rect x="554.7" y="768.3" width="1.35" height="1.3"/><rect x="456.0" y="769.5" width="1.35" height="1.3"/><rect x="458.8" y="769.5" width="1.35" height="1.3"/><rect x="460.3" y="769.5" width="1.35" height="1.3"/><rect x="464.5" y="769.5" width="1.35" height="1.3"/><rect x="466.0" y="769.5" width="1.35" height="1.3"/><rect x="468.8" y="769.5" width="1.35" height="1.3"/><rect x="470.2" y="769.5" width="1.35" height="1.3"/><rect x="475.9" y="769.5" width="1.35" height="1.3"/><rect x="477.3" y="769.5" width="1.35" height="1.3"/><rect x="481.6" y="769.5" width="1.35" height="1.3"/><rect x="483.0" y="769.5" width="1.35" height="1.3"/><rect x="484.4" y="769.5" width="1.35" height="1.3"/><rect x="485.8" y="769.5" width="1.35" height="1.3"/><rect x="487.3" y="769.5" width="1.35" height="1.3"/><rect x="488.7" y="769.5" width="1.35" height="1.3"/><rect x="491.5" y="769.5" width="1.35" height="1.3"/><rect x="492.9" y="769.5" width="1.35" height="1.3"/><rect x="494.4" y="769.5" width="1.35" height="1.3"/><rect x="495.8" y="769.5" width="1.35" height="1.3"/><rect x="500.0" y="769.5" width="1.35" height="1.3"/><rect x="501.5" y="769.5" width="1.35" height="1.3"/><rect x="505.7" y="769.5" width="1.35" height="1.3"/><rect x="507.1" y="769.5" width="1.35" height="1.3"/><rect x="508.6" y="769.5" width="1.35" height="1.3"/><rect x="510.0" y="769.5" width="1.35" height="1.3"/><rect x="511.4" y="769.5" width="1.35" height="1.3"/><rect x="512.8" y="769.5" width="1.35" height="1.3"/><rect x="518.5" y="769.5" width="1.35" height="1.3"/><rect x="527.0" y="769.5" width="1.35" height="1.3"/><rect x="528.4" y="769.5" width="1.35" height="1.3"/><rect x="536.9" y="769.5" width="1.35" height="1.3"/><rect x="539.8" y="769.5" width="1.35" height="1.3"/><rect x="541.2" y="769.5" width="1.35" height="1.3"/><rect x="542.6" y="769.5" width="1.35" height="1.3"/><rect x="545.5" y="769.5" width="1.35" height="1.3"/><rect x="548.3" y="769.5" width="1.35" height="1.3"/><rect x="549.7" y="769.5" width="1.35" height="1.3"/><rect x="551.1" y="769.5" width="1.35" height="1.3"/><rect x="455.3" y="770.8" width="1.35" height="1.3"/><rect x="458.1" y="770.8" width="1.35" height="1.3"/><rect x="459.6" y="770.8" width="1.35" height="1.3"/><rect x="461.0" y="770.8" width="1.35" height="1.3"/><rect x="463.8" y="770.8" width="1.35" height="1.3"/><rect x="466.7" y="770.8" width="1.35" height="1.3"/><rect x="468.1" y="770.8" width="1.35" height="1.3"/><rect x="469.5" y="770.8" width="1.35" height="1.3"/><rect x="470.9" y="770.8" width="1.35" height="1.3"/><rect x="472.3" y="770.8" width="1.35" height="1.3"/><rect x="473.8" y="770.8" width="1.35" height="1.3"/><rect x="478.0" y="770.8" width="1.35" height="1.3"/><rect x="479.4" y="770.8" width="1.35" height="1.3"/><rect x="480.9" y="770.8" width="1.35" height="1.3"/><rect x="482.3" y="770.8" width="1.35" height="1.3"/><rect x="483.7" y="770.8" width="1.35" height="1.3"/><rect x="488.0" y="770.8" width="1.35" height="1.3"/><rect x="489.4" y="770.8" width="1.35" height="1.3"/><rect x="490.8" y="770.8" width="1.35" height="1.3"/><rect x="492.2" y="770.8" width="1.35" height="1.3"/><rect x="493.6" y="770.8" width="1.35" height="1.3"/><rect x="495.1" y="770.8" width="1.35" height="1.3"/><rect x="499.3" y="770.8" width="1.35" height="1.3"/><rect x="500.7" y="770.8" width="1.35" height="1.3"/><rect x="505.0" y="770.8" width="1.35" height="1.3"/><rect x="506.4" y="770.8" width="1.35" height="1.3"/><rect x="513.5" y="770.8" width="1.35" height="1.3"/><rect x="529.1" y="770.8" width="1.35" height="1.3"/><rect x="530.6" y="770.8" width="1.35" height="1.3"/><rect x="533.4" y="770.8" width="1.35" height="1.3"/><rect x="534.8" y="770.8" width="1.35" height="1.3"/><rect x="536.2" y="770.8" width="1.35" height="1.3"/><rect x="539.1" y="770.8" width="1.35" height="1.3"/><rect x="541.9" y="770.8" width="1.35" height="1.3"/><rect x="546.2" y="770.8" width="1.35" height="1.3"/><rect x="550.4" y="770.8" width="1.35" height="1.3"/><rect x="551.9" y="770.8" width="1.35" height="1.3"/><rect x="553.3" y="770.8" width="1.35" height="1.3"/><rect x="554.7" y="770.8" width="1.35" height="1.3"/><rect x="559.0" y="770.8" width="1.35" height="1.3"/><rect x="457.4" y="772.0" width="1.35" height="1.3"/><rect x="463.1" y="772.0" width="1.35" height="1.3"/><rect x="466.0" y="772.0" width="1.35" height="1.3"/><rect x="467.4" y="772.0" width="1.35" height="1.3"/><rect x="468.8" y="772.0" width="1.35" height="1.3"/><rect x="471.6" y="772.0" width="1.35" height="1.3"/><rect x="474.5" y="772.0" width="1.35" height="1.3"/><rect x="475.9" y="772.0" width="1.35" height="1.3"/><rect x="478.7" y="772.0" width="1.35" height="1.3"/><rect x="480.2" y="772.0" width="1.35" height="1.3"/><rect x="481.6" y="772.0" width="1.35" height="1.3"/><rect x="484.4" y="772.0" width="1.35" height="1.3"/><rect x="488.7" y="772.0" width="1.35" height="1.3"/><rect x="492.9" y="772.0" width="1.35" height="1.3"/><rect x="494.4" y="772.0" width="1.35" height="1.3"/><rect x="497.2" y="772.0" width="1.35" height="1.3"/><rect x="500.0" y="772.0" width="1.35" height="1.3"/><rect x="511.4" y="772.0" width="1.35" height="1.3"/><rect x="517.1" y="772.0" width="1.35" height="1.3"/><rect x="518.5" y="772.0" width="1.35" height="1.3"/><rect x="521.3" y="772.0" width="1.35" height="1.3"/><rect x="524.2" y="772.0" width="1.35" height="1.3"/><rect x="529.9" y="772.0" width="1.35" height="1.3"/><rect x="531.3" y="772.0" width="1.35" height="1.3"/><rect x="534.1" y="772.0" width="1.35" height="1.3"/><rect x="539.8" y="772.0" width="1.35" height="1.3"/><rect x="542.6" y="772.0" width="1.35" height="1.3"/><rect x="544.0" y="772.0" width="1.35" height="1.3"/><rect x="549.7" y="772.0" width="1.35" height="1.3"/><rect x="552.6" y="772.0" width="1.35" height="1.3"/><rect x="458.1" y="773.3" width="1.35" height="1.3"/><rect x="461.0" y="773.3" width="1.35" height="1.3"/><rect x="463.8" y="773.3" width="1.35" height="1.3"/><rect x="466.7" y="773.3" width="1.35" height="1.3"/><rect x="468.1" y="773.3" width="1.35" height="1.3"/><rect x="479.4" y="773.3" width="1.35" height="1.3"/><rect x="480.9" y="773.3" width="1.35" height="1.3"/><rect x="482.3" y="773.3" width="1.35" height="1.3"/><rect x="483.7" y="773.3" width="1.35" height="1.3"/><rect x="485.1" y="773.3" width="1.35" height="1.3"/><rect x="488.0" y="773.3" width="1.35" height="1.3"/><rect x="490.8" y="773.3" width="1.35" height="1.3"/><rect x="493.6" y="773.3" width="1.35" height="1.3"/><rect x="495.1" y="773.3" width="1.35" height="1.3"/><rect x="496.5" y="773.3" width="1.35" height="1.3"/><rect x="497.9" y="773.3" width="1.35" height="1.3"/><rect x="499.3" y="773.3" width="1.35" height="1.3"/><rect x="502.2" y="773.3" width="1.35" height="1.3"/><rect x="503.6" y="773.3" width="1.35" height="1.3"/><rect x="513.5" y="773.3" width="1.35" height="1.3"/><rect x="527.7" y="773.3" width="1.35" height="1.3"/><rect x="532.0" y="773.3" width="1.35" height="1.3"/><rect x="534.8" y="773.3" width="1.35" height="1.3"/><rect x="541.9" y="773.3" width="1.35" height="1.3"/><rect x="543.3" y="773.3" width="1.35" height="1.3"/><rect x="547.6" y="773.3" width="1.35" height="1.3"/><rect x="550.4" y="773.3" width="1.35" height="1.3"/><rect x="553.3" y="773.3" width="1.35" height="1.3"/><rect x="554.7" y="773.3" width="1.35" height="1.3"/><rect x="556.1" y="773.3" width="1.35" height="1.3"/><rect x="464.5" y="774.5" width="1.35" height="1.3"/><rect x="468.8" y="774.5" width="1.35" height="1.3"/><rect x="470.2" y="774.5" width="1.35" height="1.3"/><rect x="471.6" y="774.5" width="1.35" height="1.3"/><rect x="477.3" y="774.5" width="1.35" height="1.3"/><rect x="480.2" y="774.5" width="1.35" height="1.3"/><rect x="481.6" y="774.5" width="1.35" height="1.3"/><rect x="487.3" y="774.5" width="1.35" height="1.3"/><rect x="490.1" y="774.5" width="1.35" height="1.3"/><rect x="491.5" y="774.5" width="1.35" height="1.3"/><rect x="495.8" y="774.5" width="1.35" height="1.3"/><rect x="497.2" y="774.5" width="1.35" height="1.3"/><rect x="498.6" y="774.5" width="1.35" height="1.3"/><rect x="500.0" y="774.5" width="1.35" height="1.3"/><rect x="508.6" y="774.5" width="1.35" height="1.3"/><rect x="514.2" y="774.5" width="1.35" height="1.3"/><rect x="527.0" y="774.5" width="1.35" height="1.3"/><rect x="532.7" y="774.5" width="1.35" height="1.3"/><rect x="534.1" y="774.5" width="1.35" height="1.3"/><rect x="536.9" y="774.5" width="1.35" height="1.3"/><rect x="539.8" y="774.5" width="1.35" height="1.3"/><rect x="544.0" y="774.5" width="1.35" height="1.3"/><rect x="545.5" y="774.5" width="1.35" height="1.3"/><rect x="546.9" y="774.5" width="1.35" height="1.3"/><rect x="551.1" y="774.5" width="1.35" height="1.3"/><rect x="554.0" y="774.5" width="1.35" height="1.3"/><rect x="555.4" y="774.5" width="1.35" height="1.3"/><rect x="558.2" y="774.5" width="1.35" height="1.3"/><rect x="459.6" y="775.8" width="1.35" height="1.3"/><rect x="465.2" y="775.8" width="1.35" height="1.3"/><rect x="466.7" y="775.8" width="1.35" height="1.3"/><rect x="472.3" y="775.8" width="1.35" height="1.3"/><rect x="475.2" y="775.8" width="1.35" height="1.3"/><rect x="479.4" y="775.8" width="1.35" height="1.3"/><rect x="483.7" y="775.8" width="1.35" height="1.3"/><rect x="488.0" y="775.8" width="1.35" height="1.3"/><rect x="492.2" y="775.8" width="1.35" height="1.3"/><rect x="493.6" y="775.8" width="1.35" height="1.3"/><rect x="495.1" y="775.8" width="1.35" height="1.3"/><rect x="497.9" y="775.8" width="1.35" height="1.3"/><rect x="503.6" y="775.8" width="1.35" height="1.3"/><rect x="505.0" y="775.8" width="1.35" height="1.3"/><rect x="506.4" y="775.8" width="1.35" height="1.3"/><rect x="507.8" y="775.8" width="1.35" height="1.3"/><rect x="512.1" y="775.8" width="1.35" height="1.3"/><rect x="520.6" y="775.8" width="1.35" height="1.3"/><rect x="527.7" y="775.8" width="1.35" height="1.3"/><rect x="533.4" y="775.8" width="1.35" height="1.3"/><rect x="534.8" y="775.8" width="1.35" height="1.3"/><rect x="536.2" y="775.8" width="1.35" height="1.3"/><rect x="540.5" y="775.8" width="1.35" height="1.3"/><rect x="544.8" y="775.8" width="1.35" height="1.3"/><rect x="553.3" y="775.8" width="1.35" height="1.3"/><rect x="556.1" y="775.8" width="1.35" height="1.3"/><rect x="557.5" y="775.8" width="1.35" height="1.3"/><rect x="456.0" y="777.0" width="1.35" height="1.3"/><rect x="460.3" y="777.0" width="1.35" height="1.3"/><rect x="461.7" y="777.0" width="1.35" height="1.3"/><rect x="467.4" y="777.0" width="1.35" height="1.3"/><rect x="470.2" y="777.0" width="1.35" height="1.3"/><rect x="473.1" y="777.0" width="1.35" height="1.3"/><rect x="474.5" y="777.0" width="1.35" height="1.3"/><rect x="475.9" y="777.0" width="1.35" height="1.3"/><rect x="477.3" y="777.0" width="1.35" height="1.3"/><rect x="478.7" y="777.0" width="1.35" height="1.3"/><rect x="480.2" y="777.0" width="1.35" height="1.3"/><rect x="483.0" y="777.0" width="1.35" height="1.3"/><rect x="487.3" y="777.0" width="1.35" height="1.3"/><rect x="488.7" y="777.0" width="1.35" height="1.3"/><rect x="490.1" y="777.0" width="1.35" height="1.3"/><rect x="502.9" y="777.0" width="1.35" height="1.3"/><rect x="505.7" y="777.0" width="1.35" height="1.3"/><rect x="514.2" y="777.0" width="1.35" height="1.3"/><rect x="527.0" y="777.0" width="1.35" height="1.3"/><rect x="532.7" y="777.0" width="1.35" height="1.3"/><rect x="539.8" y="777.0" width="1.35" height="1.3"/><rect x="544.0" y="777.0" width="1.35" height="1.3"/><rect x="545.5" y="777.0" width="1.35" height="1.3"/><rect x="546.9" y="777.0" width="1.35" height="1.3"/><rect x="549.7" y="777.0" width="1.35" height="1.3"/><rect x="551.1" y="777.0" width="1.35" height="1.3"/><rect x="552.6" y="777.0" width="1.35" height="1.3"/><rect x="556.8" y="777.0" width="1.35" height="1.3"/><rect x="558.2" y="777.0" width="1.35" height="1.3"/><rect x="455.3" y="778.3" width="1.35" height="1.3"/><rect x="456.7" y="778.3" width="1.35" height="1.3"/><rect x="459.6" y="778.3" width="1.35" height="1.3"/><rect x="461.0" y="778.3" width="1.35" height="1.3"/><rect x="465.2" y="778.3" width="1.35" height="1.3"/><rect x="472.3" y="778.3" width="1.35" height="1.3"/><rect x="473.8" y="778.3" width="1.35" height="1.3"/><rect x="475.2" y="778.3" width="1.35" height="1.3"/><rect x="482.3" y="778.3" width="1.35" height="1.3"/><rect x="485.1" y="778.3" width="1.35" height="1.3"/><rect x="489.4" y="778.3" width="1.35" height="1.3"/><rect x="492.2" y="778.3" width="1.35" height="1.3"/><rect x="499.3" y="778.3" width="1.35" height="1.3"/><rect x="502.2" y="778.3" width="1.35" height="1.3"/><rect x="503.6" y="778.3" width="1.35" height="1.3"/><rect x="505.0" y="778.3" width="1.35" height="1.3"/><rect x="506.4" y="778.3" width="1.35" height="1.3"/><rect x="524.9" y="778.3" width="1.35" height="1.3"/><rect x="530.6" y="778.3" width="1.35" height="1.3"/><rect x="534.8" y="778.3" width="1.35" height="1.3"/><rect x="536.2" y="778.3" width="1.35" height="1.3"/><rect x="540.5" y="778.3" width="1.35" height="1.3"/><rect x="541.9" y="778.3" width="1.35" height="1.3"/><rect x="544.8" y="778.3" width="1.35" height="1.3"/><rect x="547.6" y="778.3" width="1.35" height="1.3"/><rect x="551.9" y="778.3" width="1.35" height="1.3"/><rect x="557.5" y="778.3" width="1.35" height="1.3"/><rect x="456.0" y="779.5" width="1.35" height="1.3"/><rect x="461.7" y="779.5" width="1.35" height="1.3"/><rect x="466.0" y="779.5" width="1.35" height="1.3"/><rect x="467.4" y="779.5" width="1.35" height="1.3"/><rect x="473.1" y="779.5" width="1.35" height="1.3"/><rect x="477.3" y="779.5" width="1.35" height="1.3"/><rect x="478.7" y="779.5" width="1.35" height="1.3"/><rect x="481.6" y="779.5" width="1.35" height="1.3"/><rect x="483.0" y="779.5" width="1.35" height="1.3"/><rect x="484.4" y="779.5" width="1.35" height="1.3"/><rect x="485.8" y="779.5" width="1.35" height="1.3"/><rect x="488.7" y="779.5" width="1.35" height="1.3"/><rect x="497.2" y="779.5" width="1.35" height="1.3"/><rect x="500.0" y="779.5" width="1.35" height="1.3"/><rect x="524.2" y="779.5" width="1.35" height="1.3"/><rect x="527.0" y="779.5" width="1.35" height="1.3"/><rect x="529.9" y="779.5" width="1.35" height="1.3"/><rect x="532.7" y="779.5" width="1.35" height="1.3"/><rect x="535.5" y="779.5" width="1.35" height="1.3"/><rect x="536.9" y="779.5" width="1.35" height="1.3"/><rect x="538.4" y="779.5" width="1.35" height="1.3"/><rect x="541.2" y="779.5" width="1.35" height="1.3"/><rect x="542.6" y="779.5" width="1.35" height="1.3"/><rect x="544.0" y="779.5" width="1.35" height="1.3"/><rect x="545.5" y="779.5" width="1.35" height="1.3"/><rect x="546.9" y="779.5" width="1.35" height="1.3"/><rect x="554.0" y="779.5" width="1.35" height="1.3"/><rect x="455.3" y="780.8" width="1.35" height="1.3"/><rect x="469.5" y="780.8" width="1.35" height="1.3"/><rect x="475.2" y="780.8" width="1.35" height="1.3"/><rect x="476.6" y="780.8" width="1.35" height="1.3"/><rect x="480.9" y="780.8" width="1.35" height="1.3"/><rect x="485.1" y="780.8" width="1.35" height="1.3"/><rect x="486.5" y="780.8" width="1.35" height="1.3"/><rect x="489.4" y="780.8" width="1.35" height="1.3"/><rect x="490.8" y="780.8" width="1.35" height="1.3"/><rect x="499.3" y="780.8" width="1.35" height="1.3"/><rect x="503.6" y="780.8" width="1.35" height="1.3"/><rect x="520.6" y="780.8" width="1.35" height="1.3"/><rect x="530.6" y="780.8" width="1.35" height="1.3"/><rect x="536.2" y="780.8" width="1.35" height="1.3"/><rect x="540.5" y="780.8" width="1.35" height="1.3"/><rect x="541.9" y="780.8" width="1.35" height="1.3"/><rect x="543.3" y="780.8" width="1.35" height="1.3"/><rect x="544.8" y="780.8" width="1.35" height="1.3"/><rect x="547.6" y="780.8" width="1.35" height="1.3"/><rect x="549.0" y="780.8" width="1.35" height="1.3"/><rect x="550.4" y="780.8" width="1.35" height="1.3"/><rect x="556.1" y="780.8" width="1.35" height="1.3"/><rect x="460.3" y="782.0" width="1.35" height="1.3"/><rect x="473.1" y="782.0" width="1.35" height="1.3"/><rect x="481.6" y="782.0" width="1.35" height="1.3"/><rect x="484.4" y="782.0" width="1.35" height="1.3"/><rect x="487.3" y="782.0" width="1.35" height="1.3"/><rect x="488.7" y="782.0" width="1.35" height="1.3"/><rect x="490.1" y="782.0" width="1.35" height="1.3"/><rect x="497.2" y="782.0" width="1.35" height="1.3"/><rect x="498.6" y="782.0" width="1.35" height="1.3"/><rect x="502.9" y="782.0" width="1.35" height="1.3"/><rect x="504.3" y="782.0" width="1.35" height="1.3"/><rect x="514.2" y="782.0" width="1.35" height="1.3"/><rect x="515.7" y="782.0" width="1.35" height="1.3"/><rect x="527.0" y="782.0" width="1.35" height="1.3"/><rect x="532.7" y="782.0" width="1.35" height="1.3"/><rect x="536.9" y="782.0" width="1.35" height="1.3"/><rect x="538.4" y="782.0" width="1.35" height="1.3"/><rect x="539.8" y="782.0" width="1.35" height="1.3"/><rect x="541.2" y="782.0" width="1.35" height="1.3"/><rect x="542.6" y="782.0" width="1.35" height="1.3"/><rect x="544.0" y="782.0" width="1.35" height="1.3"/><rect x="545.5" y="782.0" width="1.35" height="1.3"/><rect x="548.3" y="782.0" width="1.35" height="1.3"/><rect x="552.6" y="782.0" width="1.35" height="1.3"/><rect x="556.8" y="782.0" width="1.35" height="1.3"/><rect x="455.3" y="783.3" width="1.35" height="1.3"/><rect x="466.7" y="783.3" width="1.35" height="1.3"/><rect x="470.9" y="783.3" width="1.35" height="1.3"/><rect x="478.0" y="783.3" width="1.35" height="1.3"/><rect x="483.7" y="783.3" width="1.35" height="1.3"/><rect x="496.5" y="783.3" width="1.35" height="1.3"/><rect x="497.9" y="783.3" width="1.35" height="1.3"/><rect x="499.3" y="783.3" width="1.35" height="1.3"/><rect x="502.2" y="783.3" width="1.35" height="1.3"/><rect x="505.0" y="783.3" width="1.35" height="1.3"/><rect x="517.8" y="783.3" width="1.35" height="1.3"/><rect x="522.0" y="783.3" width="1.35" height="1.3"/><rect x="523.5" y="783.3" width="1.35" height="1.3"/><rect x="530.6" y="783.3" width="1.35" height="1.3"/><rect x="532.0" y="783.3" width="1.35" height="1.3"/><rect x="533.4" y="783.3" width="1.35" height="1.3"/><rect x="543.3" y="783.3" width="1.35" height="1.3"/><rect x="544.8" y="783.3" width="1.35" height="1.3"/><rect x="556.1" y="783.3" width="1.35" height="1.3"/><rect x="463.1" y="784.5" width="1.35" height="1.3"/><rect x="466.0" y="784.5" width="1.35" height="1.3"/><rect x="474.5" y="784.5" width="1.35" height="1.3"/><rect x="483.0" y="784.5" width="1.35" height="1.3"/><rect x="487.3" y="784.5" width="1.35" height="1.3"/><rect x="488.7" y="784.5" width="1.35" height="1.3"/><rect x="494.4" y="784.5" width="1.35" height="1.3"/><rect x="495.8" y="784.5" width="1.35" height="1.3"/><rect x="497.2" y="784.5" width="1.35" height="1.3"/><rect x="527.0" y="784.5" width="1.35" height="1.3"/><rect x="528.4" y="784.5" width="1.35" height="1.3"/><rect x="529.9" y="784.5" width="1.35" height="1.3"/><rect x="531.3" y="784.5" width="1.35" height="1.3"/><rect x="532.7" y="784.5" width="1.35" height="1.3"/><rect x="534.1" y="784.5" width="1.35" height="1.3"/><rect x="535.5" y="784.5" width="1.35" height="1.3"/><rect x="539.8" y="784.5" width="1.35" height="1.3"/><rect x="541.2" y="784.5" width="1.35" height="1.3"/><rect x="546.9" y="784.5" width="1.35" height="1.3"/><rect x="551.1" y="784.5" width="1.35" height="1.3"/><rect x="555.4" y="784.5" width="1.35" height="1.3"/><rect x="478.0" y="785.8" width="1.35" height="1.3"/><rect x="493.6" y="785.8" width="1.35" height="1.3"/><rect x="529.1" y="785.8" width="1.35" height="1.3"/><rect x="530.6" y="785.8" width="1.35" height="1.3"/><rect x="537.7" y="785.8" width="1.35" height="1.3"/><rect x="540.5" y="785.8" width="1.35" height="1.3"/><rect x="541.9" y="785.8" width="1.35" height="1.3"/><rect x="544.8" y="785.8" width="1.35" height="1.3"/><rect x="547.6" y="785.8" width="1.35" height="1.3"/><rect x="553.3" y="785.8" width="1.35" height="1.3"/><rect x="554.7" y="785.8" width="1.35" height="1.3"/><rect x="457.4" y="787.0" width="1.35" height="1.3"/><rect x="458.8" y="787.0" width="1.35" height="1.3"/><rect x="494.4" y="787.0" width="1.35" height="1.3"/><rect x="521.3" y="787.0" width="1.35" height="1.3"/><rect x="529.9" y="787.0" width="1.35" height="1.3"/><rect x="535.5" y="787.0" width="1.35" height="1.3"/><rect x="541.2" y="787.0" width="1.35" height="1.3"/><rect x="556.8" y="787.0" width="1.35" height="1.3"/><rect x="558.2" y="787.0" width="1.35" height="1.3"/><rect x="456.7" y="788.3" width="1.35" height="1.3"/><rect x="461.0" y="788.3" width="1.35" height="1.3"/><rect x="479.4" y="788.3" width="1.35" height="1.3"/><rect x="482.3" y="788.3" width="1.35" height="1.3"/><rect x="493.6" y="788.3" width="1.35" height="1.3"/><rect x="507.8" y="788.3" width="1.35" height="1.3"/><rect x="510.7" y="788.3" width="1.35" height="1.3"/><rect x="514.9" y="788.3" width="1.35" height="1.3"/><rect x="517.8" y="788.3" width="1.35" height="1.3"/><rect x="529.1" y="788.3" width="1.35" height="1.3"/><rect x="533.4" y="788.3" width="1.35" height="1.3"/><rect x="541.9" y="788.3" width="1.35" height="1.3"/><rect x="460.3" y="789.5" width="1.35" height="1.3"/><rect x="461.7" y="789.5" width="1.35" height="1.3"/><rect x="485.8" y="789.5" width="1.35" height="1.3"/><rect x="498.6" y="789.5" width="1.35" height="1.3"/><rect x="536.9" y="789.5" width="1.35" height="1.3"/><rect x="542.6" y="789.5" width="1.35" height="1.3"/><rect x="549.7" y="789.5" width="1.35" height="1.3"/><rect x="555.4" y="789.5" width="1.35" height="1.3"/><rect x="556.8" y="789.5" width="1.35" height="1.3"/><rect x="482.3" y="790.8" width="1.35" height="1.3"/><rect x="536.2" y="790.8" width="1.35" height="1.3"/><rect x="539.1" y="790.8" width="1.35" height="1.3"/><rect x="546.2" y="790.8" width="1.35" height="1.3"/><rect x="551.9" y="790.8" width="1.35" height="1.3"/><rect x="538.4" y="792.0" width="1.35" height="1.3"/><rect x="545.5" y="792.0" width="1.35" height="1.3"/><rect x="549.7" y="792.0" width="1.35" height="1.3"/><rect x="539.1" y="793.3" width="1.35" height="1.3"/><rect x="551.9" y="793.3" width="1.35" height="1.3"/><rect x="553.3" y="793.3" width="1.35" height="1.3"/><rect x="538.4" y="794.5" width="1.35" height="1.3"/><rect x="552.6" y="794.5" width="1.35" height="1.3"/><rect x="555.4" y="794.5" width="1.35" height="1.3"/><rect x="461.0" y="795.8" width="1.35" height="1.3"/><rect x="502.2" y="798.3" width="1.35" height="1.3"/><rect x="456.0" y="799.5" width="1.35" height="1.3"/><rect x="489.4" y="820.8" width="1.35" height="1.3"/></g>
<path d="M540.60,796.00 L549.00,796.50 L547.70,800.20 L541.40,800.20 Z" fill="#c1c1c1" stroke="none" stroke-width="1" />
<clipPath id="stK"><path d="M454.7,866.4 L469.8,864.7 L481.6,862.2 L498.4,862.2 L515.1,867.2 L528.6,871.4 L542.0,876.5 L552.1,883.2 L558.8,891.6 L559.6,908.4 L558.8,928.5 L552.1,938.6 L548.7,945.3 L542.0,953.7 L531.9,958.7 L525.2,962.9 L515.1,963.8 L501.7,962.1 L493.3,957.0 L484.9,950.3 L476.5,941.9 L469.8,930.2 L464.8,918.4 L463.1,905.0 L458.1,896.6 L454.7,888.2 L453.9,874.8 Z" clip-rule="evenodd"/></clipPath>
<path d="M454.7,866.4 L469.8,864.7 L481.6,862.2 L498.4,862.2 L515.1,867.2 L528.6,871.4 L542.0,876.5 L552.1,883.2 L558.8,891.6 L559.6,908.4 L558.8,928.5 L552.1,938.6 L548.7,945.3 L542.0,953.7 L531.9,958.7 L525.2,962.9 L515.1,963.8 L501.7,962.1 L493.3,957.0 L484.9,950.3 L476.5,941.9 L469.8,930.2 L464.8,918.4 L463.1,905.0 L458.1,896.6 L454.7,888.2 L453.9,874.8 Z" fill="#c1c1c1" fill-rule="evenodd"/>
<g fill="#c41f3a" clip-path="url(#stK)"><rect x="459.0" y="861.6" width="1.35" height="1.3"/><rect x="473.2" y="861.6" width="1.35" height="1.3"/><rect x="476.0" y="861.6" width="1.35" height="1.3"/><rect x="487.4" y="861.6" width="1.35" height="1.3"/><rect x="544.2" y="861.6" width="1.35" height="1.3"/><rect x="459.7" y="862.9" width="1.35" height="1.3"/><rect x="476.7" y="862.9" width="1.35" height="1.3"/><rect x="488.1" y="862.9" width="1.35" height="1.3"/><rect x="489.5" y="862.9" width="1.35" height="1.3"/><rect x="499.5" y="862.9" width="1.35" height="1.3"/><rect x="505.1" y="862.9" width="1.35" height="1.3"/><rect x="547.7" y="862.9" width="1.35" height="1.3"/><rect x="460.4" y="864.1" width="1.35" height="1.3"/><rect x="455.4" y="865.4" width="1.35" height="1.3"/><rect x="469.6" y="865.4" width="1.35" height="1.3"/><rect x="474.6" y="866.6" width="1.35" height="1.3"/><rect x="486.0" y="866.6" width="1.35" height="1.3"/><rect x="500.2" y="866.6" width="1.35" height="1.3"/><rect x="522.9" y="866.6" width="1.35" height="1.3"/><rect x="530.0" y="866.6" width="1.35" height="1.3"/><rect x="469.6" y="867.9" width="1.35" height="1.3"/><rect x="482.4" y="867.9" width="1.35" height="1.3"/><rect x="495.2" y="867.9" width="1.35" height="1.3"/><rect x="503.7" y="867.9" width="1.35" height="1.3"/><rect x="533.5" y="867.9" width="1.35" height="1.3"/><rect x="460.4" y="869.1" width="1.35" height="1.3"/><rect x="526.4" y="870.4" width="1.35" height="1.3"/><rect x="547.7" y="870.4" width="1.35" height="1.3"/><rect x="457.6" y="871.6" width="1.35" height="1.3"/><rect x="459.0" y="871.6" width="1.35" height="1.3"/><rect x="460.4" y="871.6" width="1.35" height="1.3"/><rect x="468.9" y="871.6" width="1.35" height="1.3"/><rect x="471.8" y="871.6" width="1.35" height="1.3"/><rect x="528.6" y="871.6" width="1.35" height="1.3"/><rect x="537.1" y="871.6" width="1.35" height="1.3"/><rect x="456.8" y="872.9" width="1.35" height="1.3"/><rect x="458.3" y="872.9" width="1.35" height="1.3"/><rect x="461.1" y="872.9" width="1.35" height="1.3"/><rect x="481.0" y="872.9" width="1.35" height="1.3"/><rect x="495.2" y="872.9" width="1.35" height="1.3"/><rect x="529.3" y="872.9" width="1.35" height="1.3"/><rect x="534.9" y="872.9" width="1.35" height="1.3"/><rect x="456.1" y="874.1" width="1.35" height="1.3"/><rect x="468.9" y="874.1" width="1.35" height="1.3"/><rect x="525.7" y="874.1" width="1.35" height="1.3"/><rect x="542.8" y="874.1" width="1.35" height="1.3"/><rect x="454.0" y="875.4" width="1.35" height="1.3"/><rect x="471.1" y="875.4" width="1.35" height="1.3"/><rect x="483.8" y="875.4" width="1.35" height="1.3"/><rect x="493.8" y="875.4" width="1.35" height="1.3"/><rect x="505.1" y="875.4" width="1.35" height="1.3"/><rect x="454.7" y="876.6" width="1.35" height="1.3"/><rect x="456.1" y="876.6" width="1.35" height="1.3"/><rect x="459.0" y="876.6" width="1.35" height="1.3"/><rect x="463.2" y="876.6" width="1.35" height="1.3"/><rect x="507.3" y="876.6" width="1.35" height="1.3"/><rect x="530.0" y="876.6" width="1.35" height="1.3"/><rect x="531.4" y="876.6" width="1.35" height="1.3"/><rect x="549.9" y="876.6" width="1.35" height="1.3"/><rect x="557.0" y="876.6" width="1.35" height="1.3"/><rect x="459.7" y="877.9" width="1.35" height="1.3"/><rect x="461.1" y="877.9" width="1.35" height="1.3"/><rect x="482.4" y="877.9" width="1.35" height="1.3"/><rect x="489.5" y="877.9" width="1.35" height="1.3"/><rect x="500.9" y="877.9" width="1.35" height="1.3"/><rect x="515.1" y="877.9" width="1.35" height="1.3"/><rect x="532.1" y="877.9" width="1.35" height="1.3"/><rect x="539.2" y="877.9" width="1.35" height="1.3"/><rect x="459.0" y="879.1" width="1.35" height="1.3"/><rect x="466.1" y="879.1" width="1.35" height="1.3"/><rect x="494.5" y="879.1" width="1.35" height="1.3"/><rect x="500.2" y="879.1" width="1.35" height="1.3"/><rect x="505.8" y="879.1" width="1.35" height="1.3"/><rect x="454.0" y="880.4" width="1.35" height="1.3"/><rect x="472.5" y="880.4" width="1.35" height="1.3"/><rect x="475.3" y="880.4" width="1.35" height="1.3"/><rect x="508.0" y="880.4" width="1.35" height="1.3"/><rect x="526.4" y="880.4" width="1.35" height="1.3"/><rect x="466.1" y="881.6" width="1.35" height="1.3"/><rect x="468.9" y="881.6" width="1.35" height="1.3"/><rect x="484.5" y="881.6" width="1.35" height="1.3"/><rect x="456.8" y="882.9" width="1.35" height="1.3"/><rect x="459.7" y="882.9" width="1.35" height="1.3"/><rect x="462.5" y="882.9" width="1.35" height="1.3"/><rect x="482.4" y="882.9" width="1.35" height="1.3"/><rect x="485.3" y="882.9" width="1.35" height="1.3"/><rect x="453.3" y="884.1" width="1.35" height="1.3"/><rect x="454.7" y="884.1" width="1.35" height="1.3"/><rect x="456.1" y="884.1" width="1.35" height="1.3"/><rect x="470.3" y="884.1" width="1.35" height="1.3"/><rect x="490.2" y="884.1" width="1.35" height="1.3"/><rect x="491.6" y="884.1" width="1.35" height="1.3"/><rect x="515.8" y="884.1" width="1.35" height="1.3"/><rect x="537.1" y="884.1" width="1.35" height="1.3"/><rect x="555.5" y="884.1" width="1.35" height="1.3"/><rect x="455.4" y="885.4" width="1.35" height="1.3"/><rect x="456.8" y="885.4" width="1.35" height="1.3"/><rect x="461.1" y="885.4" width="1.35" height="1.3"/><rect x="466.8" y="885.4" width="1.35" height="1.3"/><rect x="481.0" y="885.4" width="1.35" height="1.3"/><rect x="489.5" y="885.4" width="1.35" height="1.3"/><rect x="456.1" y="886.6" width="1.35" height="1.3"/><rect x="459.0" y="886.6" width="1.35" height="1.3"/><rect x="461.8" y="886.6" width="1.35" height="1.3"/><rect x="476.0" y="886.6" width="1.35" height="1.3"/><rect x="483.1" y="886.6" width="1.35" height="1.3"/><rect x="486.0" y="886.6" width="1.35" height="1.3"/><rect x="488.8" y="886.6" width="1.35" height="1.3"/><rect x="490.2" y="886.6" width="1.35" height="1.3"/><rect x="459.7" y="887.9" width="1.35" height="1.3"/><rect x="468.2" y="887.9" width="1.35" height="1.3"/><rect x="476.7" y="887.9" width="1.35" height="1.3"/><rect x="488.1" y="887.9" width="1.35" height="1.3"/><rect x="489.5" y="887.9" width="1.35" height="1.3"/><rect x="492.4" y="887.9" width="1.35" height="1.3"/><rect x="496.6" y="887.9" width="1.35" height="1.3"/><rect x="532.1" y="887.9" width="1.35" height="1.3"/><rect x="454.7" y="889.1" width="1.35" height="1.3"/><rect x="457.6" y="889.1" width="1.35" height="1.3"/><rect x="459.0" y="889.1" width="1.35" height="1.3"/><rect x="460.4" y="889.1" width="1.35" height="1.3"/><rect x="466.1" y="889.1" width="1.35" height="1.3"/><rect x="468.9" y="889.1" width="1.35" height="1.3"/><rect x="478.9" y="889.1" width="1.35" height="1.3"/><rect x="484.5" y="889.1" width="1.35" height="1.3"/><rect x="488.8" y="889.1" width="1.35" height="1.3"/><rect x="454.0" y="890.4" width="1.35" height="1.3"/><rect x="456.8" y="890.4" width="1.35" height="1.3"/><rect x="461.1" y="890.4" width="1.35" height="1.3"/><rect x="462.5" y="890.4" width="1.35" height="1.3"/><rect x="468.2" y="890.4" width="1.35" height="1.3"/><rect x="476.7" y="890.4" width="1.35" height="1.3"/><rect x="483.8" y="890.4" width="1.35" height="1.3"/><rect x="454.7" y="891.6" width="1.35" height="1.3"/><rect x="466.1" y="891.6" width="1.35" height="1.3"/><rect x="467.5" y="891.6" width="1.35" height="1.3"/><rect x="471.8" y="891.6" width="1.35" height="1.3"/><rect x="476.0" y="891.6" width="1.35" height="1.3"/><rect x="477.4" y="891.6" width="1.35" height="1.3"/><rect x="478.9" y="891.6" width="1.35" height="1.3"/><rect x="480.3" y="891.6" width="1.35" height="1.3"/><rect x="481.7" y="891.6" width="1.35" height="1.3"/><rect x="484.5" y="891.6" width="1.35" height="1.3"/><rect x="487.4" y="891.6" width="1.35" height="1.3"/><rect x="488.8" y="891.6" width="1.35" height="1.3"/><rect x="491.6" y="891.6" width="1.35" height="1.3"/><rect x="494.5" y="891.6" width="1.35" height="1.3"/><rect x="497.3" y="891.6" width="1.35" height="1.3"/><rect x="541.3" y="891.6" width="1.35" height="1.3"/><rect x="464.0" y="892.9" width="1.35" height="1.3"/><rect x="468.2" y="892.9" width="1.35" height="1.3"/><rect x="471.1" y="892.9" width="1.35" height="1.3"/><rect x="472.5" y="892.9" width="1.35" height="1.3"/><rect x="476.7" y="892.9" width="1.35" height="1.3"/><rect x="478.2" y="892.9" width="1.35" height="1.3"/><rect x="479.6" y="892.9" width="1.35" height="1.3"/><rect x="481.0" y="892.9" width="1.35" height="1.3"/><rect x="485.3" y="892.9" width="1.35" height="1.3"/><rect x="488.1" y="892.9" width="1.35" height="1.3"/><rect x="492.4" y="892.9" width="1.35" height="1.3"/><rect x="547.7" y="892.9" width="1.35" height="1.3"/><rect x="453.3" y="894.1" width="1.35" height="1.3"/><rect x="460.4" y="894.1" width="1.35" height="1.3"/><rect x="466.1" y="894.1" width="1.35" height="1.3"/><rect x="467.5" y="894.1" width="1.35" height="1.3"/><rect x="471.8" y="894.1" width="1.35" height="1.3"/><rect x="474.6" y="894.1" width="1.35" height="1.3"/><rect x="478.9" y="894.1" width="1.35" height="1.3"/><rect x="483.1" y="894.1" width="1.35" height="1.3"/><rect x="484.5" y="894.1" width="1.35" height="1.3"/><rect x="486.0" y="894.1" width="1.35" height="1.3"/><rect x="487.4" y="894.1" width="1.35" height="1.3"/><rect x="488.8" y="894.1" width="1.35" height="1.3"/><rect x="490.2" y="894.1" width="1.35" height="1.3"/><rect x="493.1" y="894.1" width="1.35" height="1.3"/><rect x="498.7" y="894.1" width="1.35" height="1.3"/><rect x="515.8" y="894.1" width="1.35" height="1.3"/><rect x="454.0" y="895.4" width="1.35" height="1.3"/><rect x="458.3" y="895.4" width="1.35" height="1.3"/><rect x="461.1" y="895.4" width="1.35" height="1.3"/><rect x="481.0" y="895.4" width="1.35" height="1.3"/><rect x="485.3" y="895.4" width="1.35" height="1.3"/><rect x="490.9" y="895.4" width="1.35" height="1.3"/><rect x="495.2" y="895.4" width="1.35" height="1.3"/><rect x="453.3" y="896.6" width="1.35" height="1.3"/><rect x="454.7" y="896.6" width="1.35" height="1.3"/><rect x="456.1" y="896.6" width="1.35" height="1.3"/><rect x="466.1" y="896.6" width="1.35" height="1.3"/><rect x="468.9" y="896.6" width="1.35" height="1.3"/><rect x="473.2" y="896.6" width="1.35" height="1.3"/><rect x="481.7" y="896.6" width="1.35" height="1.3"/><rect x="484.5" y="896.6" width="1.35" height="1.3"/><rect x="486.0" y="896.6" width="1.35" height="1.3"/><rect x="487.4" y="896.6" width="1.35" height="1.3"/><rect x="488.8" y="896.6" width="1.35" height="1.3"/><rect x="490.2" y="896.6" width="1.35" height="1.3"/><rect x="493.1" y="896.6" width="1.35" height="1.3"/><rect x="495.9" y="896.6" width="1.35" height="1.3"/><rect x="458.3" y="897.9" width="1.35" height="1.3"/><rect x="461.1" y="897.9" width="1.35" height="1.3"/><rect x="462.5" y="897.9" width="1.35" height="1.3"/><rect x="464.0" y="897.9" width="1.35" height="1.3"/><rect x="478.2" y="897.9" width="1.35" height="1.3"/><rect x="479.6" y="897.9" width="1.35" height="1.3"/><rect x="482.4" y="897.9" width="1.35" height="1.3"/><rect x="486.7" y="897.9" width="1.35" height="1.3"/><rect x="488.1" y="897.9" width="1.35" height="1.3"/><rect x="489.5" y="897.9" width="1.35" height="1.3"/><rect x="490.9" y="897.9" width="1.35" height="1.3"/><rect x="492.4" y="897.9" width="1.35" height="1.3"/><rect x="496.6" y="897.9" width="1.35" height="1.3"/><rect x="530.7" y="897.9" width="1.35" height="1.3"/><rect x="456.1" y="899.1" width="1.35" height="1.3"/><rect x="461.8" y="899.1" width="1.35" height="1.3"/><rect x="466.1" y="899.1" width="1.35" height="1.3"/><rect x="478.9" y="899.1" width="1.35" height="1.3"/><rect x="487.4" y="899.1" width="1.35" height="1.3"/><rect x="491.6" y="899.1" width="1.35" height="1.3"/><rect x="494.5" y="899.1" width="1.35" height="1.3"/><rect x="535.7" y="899.1" width="1.35" height="1.3"/><rect x="551.3" y="899.1" width="1.35" height="1.3"/><rect x="464.0" y="900.4" width="1.35" height="1.3"/><rect x="485.3" y="900.4" width="1.35" height="1.3"/><rect x="498.0" y="900.4" width="1.35" height="1.3"/><rect x="464.7" y="901.6" width="1.35" height="1.3"/><rect x="477.4" y="901.6" width="1.35" height="1.3"/><rect x="480.3" y="901.6" width="1.35" height="1.3"/><rect x="483.1" y="901.6" width="1.35" height="1.3"/><rect x="488.8" y="901.6" width="1.35" height="1.3"/><rect x="497.3" y="901.6" width="1.35" height="1.3"/><rect x="530.0" y="901.6" width="1.35" height="1.3"/><rect x="462.5" y="902.9" width="1.35" height="1.3"/><rect x="478.2" y="902.9" width="1.35" height="1.3"/><rect x="454.7" y="904.1" width="1.35" height="1.3"/><rect x="460.4" y="904.1" width="1.35" height="1.3"/><rect x="466.1" y="904.1" width="1.35" height="1.3"/><rect x="477.4" y="904.1" width="1.35" height="1.3"/><rect x="459.7" y="905.4" width="1.35" height="1.3"/><rect x="461.1" y="905.4" width="1.35" height="1.3"/><rect x="465.4" y="905.4" width="1.35" height="1.3"/><rect x="466.8" y="905.4" width="1.35" height="1.3"/><rect x="485.3" y="905.4" width="1.35" height="1.3"/><rect x="553.4" y="905.4" width="1.35" height="1.3"/><rect x="478.9" y="906.6" width="1.35" height="1.3"/><rect x="486.0" y="906.6" width="1.35" height="1.3"/><rect x="493.1" y="906.6" width="1.35" height="1.3"/><rect x="498.7" y="906.6" width="1.35" height="1.3"/><rect x="456.8" y="907.9" width="1.35" height="1.3"/><rect x="465.4" y="907.9" width="1.35" height="1.3"/><rect x="472.5" y="907.9" width="1.35" height="1.3"/><rect x="526.4" y="907.9" width="1.35" height="1.3"/><rect x="473.2" y="909.1" width="1.35" height="1.3"/><rect x="487.4" y="909.1" width="1.35" height="1.3"/><rect x="522.9" y="909.1" width="1.35" height="1.3"/><rect x="530.0" y="909.1" width="1.35" height="1.3"/><rect x="462.5" y="910.4" width="1.35" height="1.3"/><rect x="473.9" y="910.4" width="1.35" height="1.3"/><rect x="475.3" y="910.4" width="1.35" height="1.3"/><rect x="496.6" y="910.4" width="1.35" height="1.3"/><rect x="532.1" y="910.4" width="1.35" height="1.3"/><rect x="477.4" y="911.6" width="1.35" height="1.3"/><rect x="483.1" y="911.6" width="1.35" height="1.3"/><rect x="520.0" y="911.6" width="1.35" height="1.3"/><rect x="458.3" y="912.9" width="1.35" height="1.3"/><rect x="490.9" y="912.9" width="1.35" height="1.3"/><rect x="502.3" y="912.9" width="1.35" height="1.3"/><rect x="547.7" y="912.9" width="1.35" height="1.3"/><rect x="525.7" y="914.1" width="1.35" height="1.3"/><rect x="471.1" y="915.4" width="1.35" height="1.3"/><rect x="454.7" y="916.6" width="1.35" height="1.3"/><rect x="467.5" y="916.6" width="1.35" height="1.3"/><rect x="477.4" y="916.6" width="1.35" height="1.3"/><rect x="483.1" y="916.6" width="1.35" height="1.3"/><rect x="473.9" y="917.9" width="1.35" height="1.3"/><rect x="479.6" y="917.9" width="1.35" height="1.3"/><rect x="486.7" y="917.9" width="1.35" height="1.3"/><rect x="490.9" y="917.9" width="1.35" height="1.3"/><rect x="468.9" y="919.1" width="1.35" height="1.3"/><rect x="491.6" y="919.1" width="1.35" height="1.3"/><rect x="494.5" y="919.1" width="1.35" height="1.3"/><rect x="498.7" y="919.1" width="1.35" height="1.3"/><rect x="525.7" y="919.1" width="1.35" height="1.3"/><rect x="461.1" y="920.4" width="1.35" height="1.3"/><rect x="476.7" y="920.4" width="1.35" height="1.3"/><rect x="557.7" y="920.4" width="1.35" height="1.3"/><rect x="473.2" y="921.6" width="1.35" height="1.3"/><rect x="483.1" y="921.6" width="1.35" height="1.3"/><rect x="488.8" y="921.6" width="1.35" height="1.3"/><rect x="459.7" y="922.9" width="1.35" height="1.3"/><rect x="475.3" y="922.9" width="1.35" height="1.3"/><rect x="493.8" y="922.9" width="1.35" height="1.3"/><rect x="477.4" y="924.1" width="1.35" height="1.3"/><rect x="491.6" y="924.1" width="1.35" height="1.3"/><rect x="495.9" y="924.1" width="1.35" height="1.3"/><rect x="508.7" y="924.1" width="1.35" height="1.3"/><rect x="458.3" y="925.4" width="1.35" height="1.3"/><rect x="466.8" y="925.4" width="1.35" height="1.3"/><rect x="478.2" y="925.4" width="1.35" height="1.3"/><rect x="479.6" y="925.4" width="1.35" height="1.3"/><rect x="488.1" y="925.4" width="1.35" height="1.3"/><rect x="455.4" y="927.9" width="1.35" height="1.3"/><rect x="471.1" y="927.9" width="1.35" height="1.3"/><rect x="472.5" y="927.9" width="1.35" height="1.3"/><rect x="473.9" y="927.9" width="1.35" height="1.3"/><rect x="496.6" y="927.9" width="1.35" height="1.3"/><rect x="503.7" y="927.9" width="1.35" height="1.3"/><rect x="512.2" y="927.9" width="1.35" height="1.3"/><rect x="467.5" y="929.1" width="1.35" height="1.3"/><rect x="476.0" y="929.1" width="1.35" height="1.3"/><rect x="469.6" y="930.4" width="1.35" height="1.3"/><rect x="481.0" y="930.4" width="1.35" height="1.3"/><rect x="483.8" y="930.4" width="1.35" height="1.3"/><rect x="486.7" y="930.4" width="1.35" height="1.3"/><rect x="454.7" y="931.6" width="1.35" height="1.3"/><rect x="484.5" y="931.6" width="1.35" height="1.3"/><rect x="531.4" y="931.6" width="1.35" height="1.3"/><rect x="547.0" y="931.6" width="1.35" height="1.3"/><rect x="475.3" y="932.9" width="1.35" height="1.3"/><rect x="478.2" y="932.9" width="1.35" height="1.3"/><rect x="481.0" y="932.9" width="1.35" height="1.3"/><rect x="485.3" y="932.9" width="1.35" height="1.3"/><rect x="486.7" y="932.9" width="1.35" height="1.3"/><rect x="489.5" y="932.9" width="1.35" height="1.3"/><rect x="492.4" y="932.9" width="1.35" height="1.3"/><rect x="456.1" y="934.1" width="1.35" height="1.3"/><rect x="488.8" y="934.1" width="1.35" height="1.3"/><rect x="531.4" y="934.1" width="1.35" height="1.3"/><rect x="475.3" y="935.4" width="1.35" height="1.3"/><rect x="476.7" y="935.4" width="1.35" height="1.3"/><rect x="482.4" y="935.4" width="1.35" height="1.3"/><rect x="485.3" y="935.4" width="1.35" height="1.3"/><rect x="498.0" y="935.4" width="1.35" height="1.3"/><rect x="500.9" y="935.4" width="1.35" height="1.3"/><rect x="453.3" y="936.6" width="1.35" height="1.3"/><rect x="477.4" y="936.6" width="1.35" height="1.3"/><rect x="484.5" y="936.6" width="1.35" height="1.3"/><rect x="498.7" y="936.6" width="1.35" height="1.3"/><rect x="539.9" y="936.6" width="1.35" height="1.3"/><rect x="455.4" y="937.9" width="1.35" height="1.3"/><rect x="476.7" y="937.9" width="1.35" height="1.3"/><rect x="478.2" y="937.9" width="1.35" height="1.3"/><rect x="482.4" y="937.9" width="1.35" height="1.3"/><rect x="485.3" y="937.9" width="1.35" height="1.3"/><rect x="489.5" y="937.9" width="1.35" height="1.3"/><rect x="498.0" y="937.9" width="1.35" height="1.3"/><rect x="499.5" y="937.9" width="1.35" height="1.3"/><rect x="505.1" y="937.9" width="1.35" height="1.3"/><rect x="470.3" y="939.1" width="1.35" height="1.3"/><rect x="477.4" y="939.1" width="1.35" height="1.3"/><rect x="478.9" y="939.1" width="1.35" height="1.3"/><rect x="498.7" y="939.1" width="1.35" height="1.3"/><rect x="476.7" y="940.4" width="1.35" height="1.3"/><rect x="488.1" y="940.4" width="1.35" height="1.3"/><rect x="489.5" y="940.4" width="1.35" height="1.3"/><rect x="492.4" y="940.4" width="1.35" height="1.3"/><rect x="493.8" y="940.4" width="1.35" height="1.3"/><rect x="463.2" y="941.6" width="1.35" height="1.3"/><rect x="466.1" y="941.6" width="1.35" height="1.3"/><rect x="470.3" y="941.6" width="1.35" height="1.3"/><rect x="474.6" y="941.6" width="1.35" height="1.3"/><rect x="478.9" y="941.6" width="1.35" height="1.3"/><rect x="490.2" y="941.6" width="1.35" height="1.3"/><rect x="494.5" y="941.6" width="1.35" height="1.3"/><rect x="495.9" y="941.6" width="1.35" height="1.3"/><rect x="461.1" y="942.9" width="1.35" height="1.3"/><rect x="489.5" y="942.9" width="1.35" height="1.3"/><rect x="496.6" y="942.9" width="1.35" height="1.3"/><rect x="509.4" y="942.9" width="1.35" height="1.3"/><rect x="483.1" y="944.1" width="1.35" height="1.3"/><rect x="493.1" y="944.1" width="1.35" height="1.3"/><rect x="521.5" y="944.1" width="1.35" height="1.3"/><rect x="472.5" y="945.4" width="1.35" height="1.3"/><rect x="498.0" y="945.4" width="1.35" height="1.3"/><rect x="456.1" y="946.6" width="1.35" height="1.3"/><rect x="461.8" y="946.6" width="1.35" height="1.3"/><rect x="470.3" y="946.6" width="1.35" height="1.3"/><rect x="497.3" y="946.6" width="1.35" height="1.3"/><rect x="454.0" y="947.9" width="1.35" height="1.3"/><rect x="466.8" y="947.9" width="1.35" height="1.3"/><rect x="493.8" y="947.9" width="1.35" height="1.3"/><rect x="532.1" y="947.9" width="1.35" height="1.3"/><rect x="463.2" y="949.1" width="1.35" height="1.3"/><rect x="494.5" y="949.1" width="1.35" height="1.3"/><rect x="534.9" y="950.4" width="1.35" height="1.3"/><rect x="548.4" y="951.6" width="1.35" height="1.3"/><rect x="554.1" y="951.6" width="1.35" height="1.3"/><rect x="527.9" y="952.9" width="1.35" height="1.3"/><rect x="512.2" y="955.4" width="1.35" height="1.3"/><rect x="552.0" y="955.4" width="1.35" height="1.3"/><rect x="503.7" y="957.9" width="1.35" height="1.3"/><rect x="519.3" y="957.9" width="1.35" height="1.3"/><rect x="505.8" y="959.1" width="1.35" height="1.3"/><rect x="521.5" y="959.1" width="1.35" height="1.3"/><rect x="553.4" y="960.4" width="1.35" height="1.3"/><rect x="544.9" y="962.9" width="1.35" height="1.3"/><rect x="554.8" y="962.9" width="1.35" height="1.3"/></g>
<path d="M455,893 L459,898 L462,905 L459,904 L456,899 Z" fill="#ffffff"/>
<defs>
<radialGradient id="jetR"><stop offset="0" stop-color="#c0202e"/><stop offset="0.45" stop-color="#e0502c"/><stop offset="0.8" stop-color="#f0a030" stop-opacity="0.7"/><stop offset="1" stop-color="#f0c040" stop-opacity="0"/></radialGradient>
<radialGradient id="jetY"><stop offset="0" stop-color="#f0b030"/><stop offset="0.4" stop-color="#e6dc48"/><stop offset="0.75" stop-color="#9ad8a0" stop-opacity="0.8"/><stop offset="1" stop-color="#80d4d0" stop-opacity="0"/></radialGradient>
<radialGradient id="jetC"><stop offset="0" stop-color="#88d8da" stop-opacity="1"/><stop offset="0.6" stop-color="#74c8e0" stop-opacity="0.9"/><stop offset="1" stop-color="#60a8dc" stop-opacity="0"/></radialGradient>
<radialGradient id="jetG"><stop offset="0" stop-color="#c8d860"/><stop offset="0.5" stop-color="#90d8a0"/><stop offset="1" stop-color="#70d0c8" stop-opacity="0"/></radialGradient>
<radialGradient id="dkB"><stop offset="0" stop-color="#3a40a0" stop-opacity="0.8"/><stop offset="1" stop-color="#3a40a0" stop-opacity="0"/></radialGradient>
<filter id="noise" x="0" y="0" width="100%" height="100%"><feTurbulence type="fractalNoise" baseFrequency="0.7" numOctaves="2" seed="3"/><feColorMatrix values="0 0 0 0 0.22  0 0 0 0 0.26  0 0 0 0 0.6  0 0 0 2.2 -1.0"/></filter>
</defs>
<clipPath id="hmJ"><rect x="578.8" y="727.3" width="100.20000000000005" height="99.5"/></clipPath>
<g clip-path="url(#hmJ)">
<rect x="578.80" y="727.30" width="100.20" height="99.50" fill="#5d66b2" />
<path d="M583,735 C595,728 625,728 645,735 C655,745 665,752 680,756 L680,828 L600,828 C590,822 583,815 582,800 C581,780 581,760 583,735 Z" fill="#5a6cb8"/>
<ellipse cx="626" cy="765" rx="50" ry="36" fill="url(#jetC)"/>
<ellipse cx="628" cy="770" rx="40" ry="28" fill="url(#jetC)"/>
<ellipse cx="614" cy="800" rx="24" ry="18" fill="url(#jetC)"/>
<ellipse cx="672" cy="812" rx="16" ry="24" fill="url(#jetC)"/>
<ellipse cx="600" cy="780" rx="16" ry="16" fill="url(#jetC)"/>
<ellipse cx="655" cy="772" rx="22" ry="14" fill="url(#jetC)"/>
<ellipse cx="625" cy="748" rx="30" ry="14" fill="url(#jetC)"/>
<ellipse cx="668" cy="734" rx="22" ry="9" fill="#5d66b2" filter="url(#blur2)"/>
<ellipse cx="583" cy="815" rx="7" ry="16" fill="#5d66b2" filter="url(#blur2)"/>
<ellipse cx="651" cy="790" rx="12" ry="8" fill="url(#dkB)"/>
<ellipse cx="637" cy="797" rx="6" ry="4" fill="url(#dkB)"/>
<ellipse cx="630" cy="823" rx="26" ry="6" fill="url(#dkB)"/>
<ellipse cx="587" cy="795" rx="7" ry="18" fill="url(#dkB)"/>
<ellipse cx="622" cy="756" rx="24" ry="15" fill="url(#jetG)"/>
<ellipse cx="612" cy="808" rx="12" ry="9" fill="url(#jetG)"/>
<ellipse cx="674" cy="815" rx="10" ry="14" fill="url(#jetG)"/>
<ellipse cx="586" cy="731" rx="10" ry="6" fill="#5d66b2" filter="url(#blur2)"/>
<ellipse cx="601" cy="757" rx="13" ry="21" fill="url(#jetY)"/>
<ellipse cx="601" cy="757" rx="9" ry="16" fill="url(#jetR)"/>
<ellipse cx="640" cy="748" rx="16" ry="11" fill="url(#jetY)"/>
<ellipse cx="641.5" cy="749" rx="8" ry="5.5" fill="url(#jetY)"/>
<ellipse cx="673" cy="771" rx="14" ry="21" fill="url(#jetY)"/>
<ellipse cx="676.5" cy="775.5" rx="9" ry="12" fill="url(#jetR)"/>
<clipPath id="hmJt"><path d="M583,735 C595,728 625,728 645,735 C655,745 665,752 680,756 L680,828 L600,828 C590,822 583,815 582,800 C581,780 581,760 583,735 Z"/></clipPath>
<rect x="578.8" y="727.3" width="100.20000000000005" height="99.5" filter="url(#noise)" opacity="0.45" clip-path="url(#hmJt)"/>
</g>
<rect x="578.80" y="727.30" width="100.20" height="99.50" fill="none" stroke="#333" stroke-width="0.5"/>
<line x1="577.60" y1="727.30" x2="578.80" y2="727.30" stroke="#333" stroke-width="0.35" />
<text x="577.0" y="728.6" font-size="3.8" fill="#333" text-anchor="end">0</text>
<line x1="577.60" y1="738.40" x2="578.80" y2="738.40" stroke="#333" stroke-width="0.35" />
<text x="577.0" y="739.7" font-size="3.8" fill="#333" text-anchor="end">25</text>
<line x1="577.60" y1="749.51" x2="578.80" y2="749.51" stroke="#333" stroke-width="0.35" />
<text x="577.0" y="750.8" font-size="3.8" fill="#333" text-anchor="end">50</text>
<line x1="577.60" y1="760.61" x2="578.80" y2="760.61" stroke="#333" stroke-width="0.35" />
<text x="577.0" y="761.9" font-size="3.8" fill="#333" text-anchor="end">75</text>
<line x1="577.60" y1="771.72" x2="578.80" y2="771.72" stroke="#333" stroke-width="0.35" />
<text x="577.0" y="773.0" font-size="3.8" fill="#333" text-anchor="end">100</text>
<line x1="577.60" y1="782.82" x2="578.80" y2="782.82" stroke="#333" stroke-width="0.35" />
<text x="577.0" y="784.1" font-size="3.8" fill="#333" text-anchor="end">125</text>
<line x1="577.60" y1="793.93" x2="578.80" y2="793.93" stroke="#333" stroke-width="0.35" />
<text x="577.0" y="795.2" font-size="3.8" fill="#333" text-anchor="end">150</text>
<line x1="577.60" y1="805.03" x2="578.80" y2="805.03" stroke="#333" stroke-width="0.35" />
<text x="577.0" y="806.3" font-size="3.8" fill="#333" text-anchor="end">175</text>
<line x1="577.60" y1="816.14" x2="578.80" y2="816.14" stroke="#333" stroke-width="0.35" />
<text x="577.0" y="817.4" font-size="3.8" fill="#333" text-anchor="end">200</text>
<line x1="578.80" y1="826.80" x2="578.80" y2="828.00" stroke="#333" stroke-width="0.35" />
<text x="578.8" y="831.9" font-size="3.8" fill="#333" text-anchor="middle">0</text>
<line x1="601.17" y1="826.80" x2="601.17" y2="828.00" stroke="#333" stroke-width="0.35" />
<text x="601.2" y="831.9" font-size="3.8" fill="#333" text-anchor="middle">50</text>
<line x1="623.53" y1="826.80" x2="623.53" y2="828.00" stroke="#333" stroke-width="0.35" />
<text x="623.5" y="831.9" font-size="3.8" fill="#333" text-anchor="middle">100</text>
<line x1="645.90" y1="826.80" x2="645.90" y2="828.00" stroke="#333" stroke-width="0.35" />
<text x="645.9" y="831.9" font-size="3.8" fill="#333" text-anchor="middle">150</text>
<line x1="668.26" y1="826.80" x2="668.26" y2="828.00" stroke="#333" stroke-width="0.35" />
<text x="668.3" y="831.9" font-size="3.8" fill="#333" text-anchor="middle">200</text>
<clipPath id="hmK"><rect x="581.4" y="865" width="101.39999999999998" height="101.29999999999995"/></clipPath>
<g clip-path="url(#hmK)">
<rect x="581.40" y="865.00" width="101.40" height="101.30" fill="#5d66b2" />
<path d="M594,887 C600,880 640,882 660,888 C672,893 677,905 676,925 C675,945 668,958 650,962 C630,965 612,960 600,950 C592,940 591,915 594,887 Z" fill="#5a6cb8"/>
<ellipse cx="630" cy="897" rx="44" ry="22" fill="url(#jetC)"/>
<ellipse cx="612" cy="936" rx="22" ry="26" fill="url(#jetC)"/>
<ellipse cx="624" cy="944" rx="16" ry="16" fill="url(#jetC)"/>
<ellipse cx="613" cy="897" rx="19" ry="14" fill="url(#jetY)"/>
<ellipse cx="616" cy="889" rx="7" ry="10" fill="url(#jetY)"/>
<ellipse cx="613" cy="899" rx="10" ry="7" fill="url(#jetR)"/>
<ellipse cx="646.5" cy="900.5" rx="18" ry="11" fill="url(#jetY)"/>
<ellipse cx="646.5" cy="900.7" rx="9" ry="5.5" fill="url(#jetR)"/>
<ellipse cx="626" cy="914" rx="32" ry="5" fill="url(#dkB)"/>
<ellipse cx="603.3" cy="929" rx="6" ry="6" fill="url(#jetG)"/>
<ellipse cx="618.2" cy="942.4" rx="8" ry="7" fill="url(#jetG)"/>
<clipPath id="hmKt"><path d="M594,887 C600,880 640,882 660,888 C672,893 677,905 676,925 C675,945 668,958 650,962 C630,965 612,960 600,950 C592,940 591,915 594,887 Z"/></clipPath>
<rect x="581.4" y="865" width="101.39999999999998" height="101.29999999999995" filter="url(#noise)" opacity="0.45" clip-path="url(#hmKt)"/>
</g>
<rect x="581.40" y="865.00" width="101.40" height="101.30" fill="none" stroke="#333" stroke-width="0.5"/>
<line x1="580.20" y1="865.00" x2="581.40" y2="865.00" stroke="#333" stroke-width="0.35" />
<text x="579.6" y="866.3" font-size="3.8" fill="#333" text-anchor="end">0</text>
<line x1="580.20" y1="876.31" x2="581.40" y2="876.31" stroke="#333" stroke-width="0.35" />
<text x="579.6" y="877.6" font-size="3.8" fill="#333" text-anchor="end">25</text>
<line x1="580.20" y1="887.61" x2="581.40" y2="887.61" stroke="#333" stroke-width="0.35" />
<text x="579.6" y="888.9" font-size="3.8" fill="#333" text-anchor="end">50</text>
<line x1="580.20" y1="898.92" x2="581.40" y2="898.92" stroke="#333" stroke-width="0.35" />
<text x="579.6" y="900.2" font-size="3.8" fill="#333" text-anchor="end">75</text>
<line x1="580.20" y1="910.22" x2="581.40" y2="910.22" stroke="#333" stroke-width="0.35" />
<text x="579.6" y="911.5" font-size="3.8" fill="#333" text-anchor="end">100</text>
<line x1="580.20" y1="921.53" x2="581.40" y2="921.53" stroke="#333" stroke-width="0.35" />
<text x="579.6" y="922.8" font-size="3.8" fill="#333" text-anchor="end">125</text>
<line x1="580.20" y1="932.83" x2="581.40" y2="932.83" stroke="#333" stroke-width="0.35" />
<text x="579.6" y="934.1" font-size="3.8" fill="#333" text-anchor="end">150</text>
<line x1="580.20" y1="944.14" x2="581.40" y2="944.14" stroke="#333" stroke-width="0.35" />
<text x="579.6" y="945.4" font-size="3.8" fill="#333" text-anchor="end">175</text>
<line x1="580.20" y1="955.45" x2="581.40" y2="955.45" stroke="#333" stroke-width="0.35" />
<text x="579.6" y="956.7" font-size="3.8" fill="#333" text-anchor="end">200</text>
<line x1="581.40" y1="966.30" x2="581.40" y2="967.50" stroke="#333" stroke-width="0.35" />
<text x="581.4" y="971.3" font-size="3.8" fill="#333" text-anchor="middle">0</text>
<line x1="604.03" y1="966.30" x2="604.03" y2="967.50" stroke="#333" stroke-width="0.35" />
<text x="604.0" y="971.3" font-size="3.8" fill="#333" text-anchor="middle">50</text>
<line x1="626.67" y1="966.30" x2="626.67" y2="967.50" stroke="#333" stroke-width="0.35" />
<text x="626.7" y="971.3" font-size="3.8" fill="#333" text-anchor="middle">100</text>
<line x1="649.30" y1="966.30" x2="649.30" y2="967.50" stroke="#333" stroke-width="0.35" />
<text x="649.3" y="971.3" font-size="3.8" fill="#333" text-anchor="middle">150</text>
<line x1="671.94" y1="966.30" x2="671.94" y2="967.50" stroke="#333" stroke-width="0.35" />
<text x="671.9" y="971.3" font-size="3.8" fill="#333" text-anchor="middle">200</text>
<rect x="0.5" y="0.5" width="683.8" height="985.2" fill="none" stroke="#3a3a3a" stroke-width="1.2"/>
</svg>
</body></html>
